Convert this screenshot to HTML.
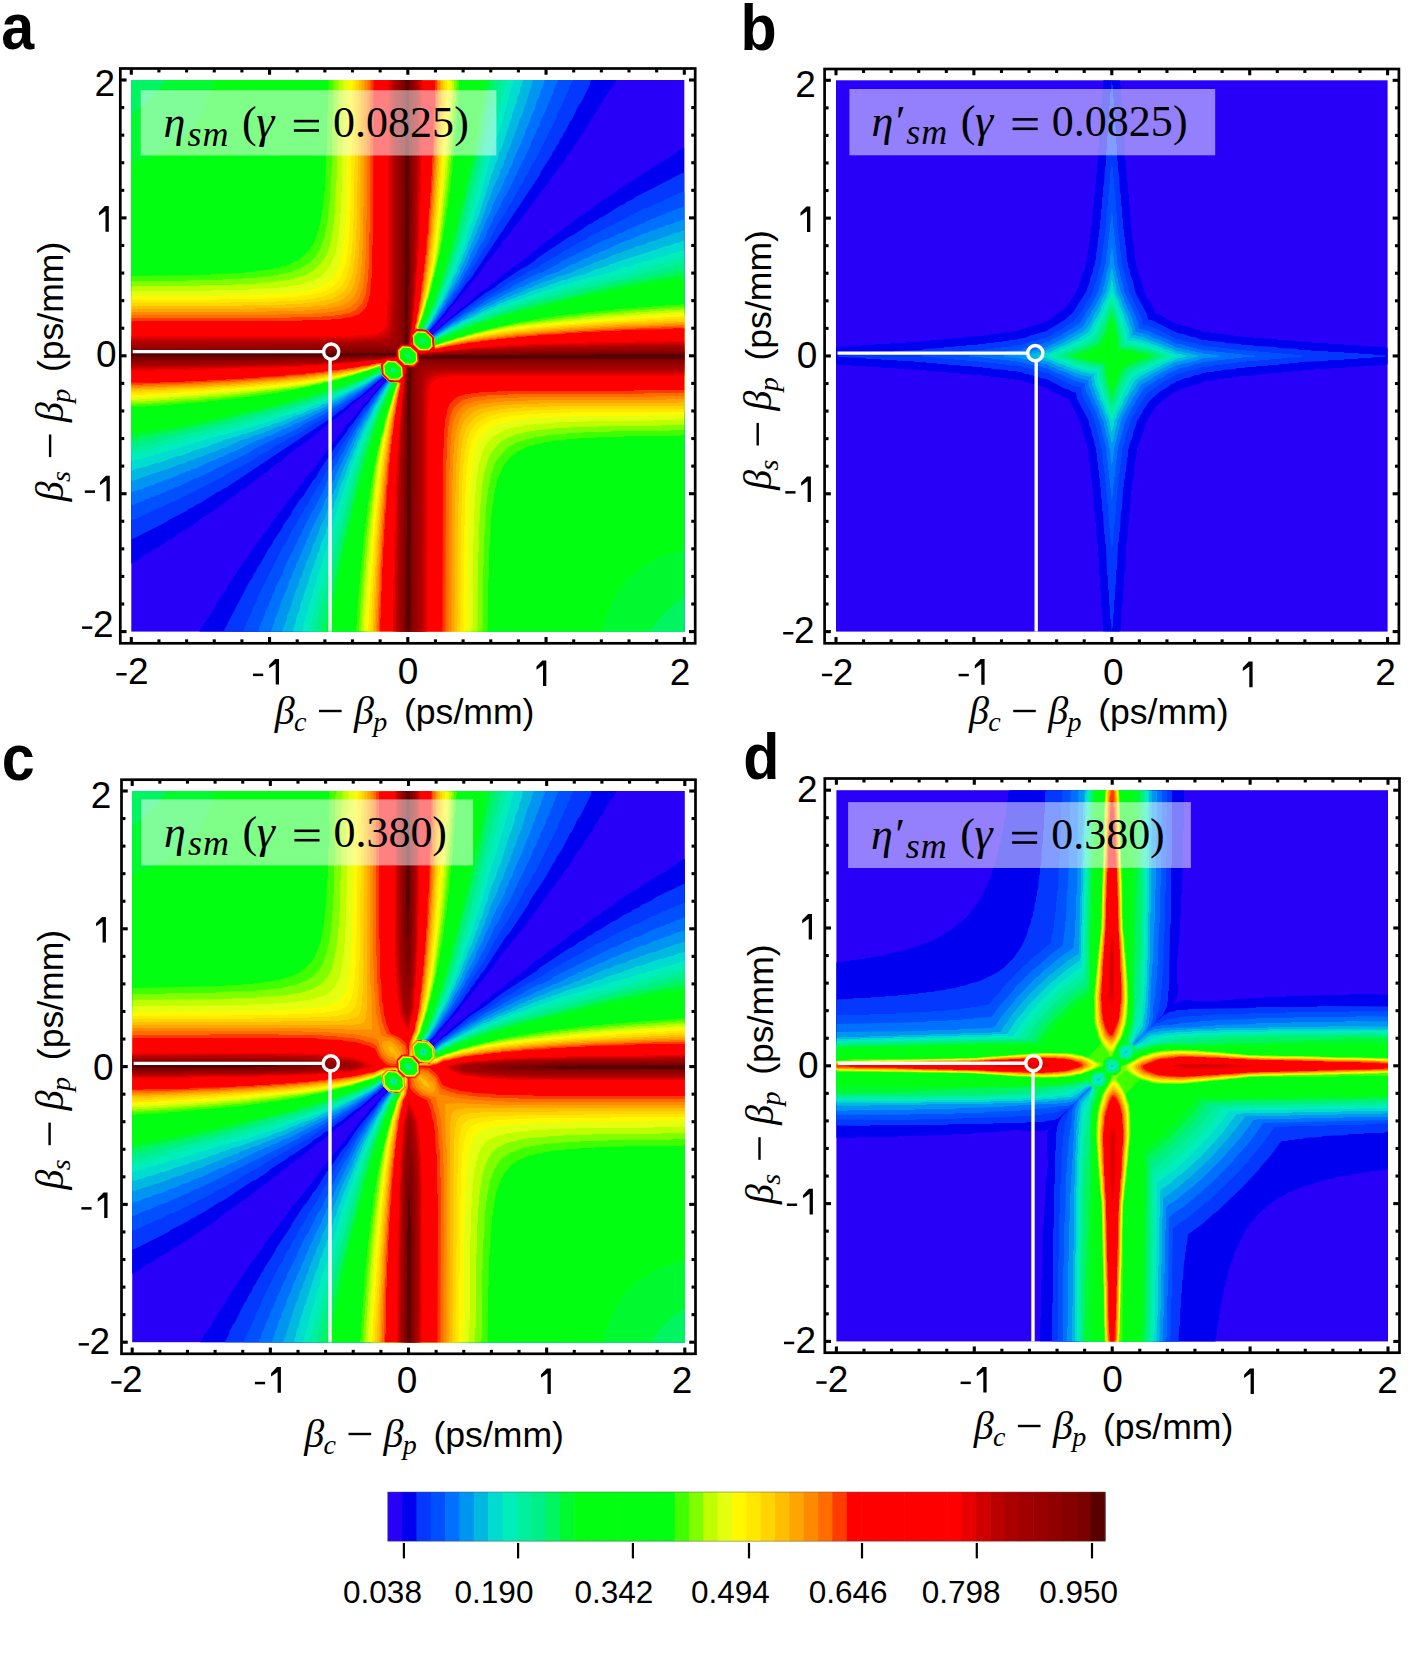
<!DOCTYPE html>
<html><head><meta charset="utf-8"><style>
html,body{margin:0;padding:0;background:#fff;}
body{width:1416px;height:1655px;position:relative;overflow:hidden;font-family:"Liberation Sans",sans-serif;}
svg{position:absolute;left:0;top:0;}
text{fill:#000;}
</style></head><body>
<svg width="1416" height="1655" viewBox="0 0 1416 1655">
<rect x="131.30" y="80.00" width="553.00" height="551.60" fill="#2800f8"/>
<clipPath id="clipa"><rect x="131.30" y="80.00" width="553.00" height="551.60"/></clipPath>
<g clip-path="url(#clipa)">
<path fill="#0000f0" fill-rule="evenodd" d="M684.5 632 199.5 632 200 629.5 212 612.5 221 596.5 227 588.5 228 585.5 246 558.5 249 555.5 253 548.5 269 527.5 271 523.5 274 520.5 289 499.5 293 495.5 299 486.5 303 482.5 306 477.5 314 468.5 329 447.5 341 433.5 344 428.5 363 406.5 363 405.5 369 399.5 369 398.5 375 392.5 375 391.5 383 383.5 386 378.5 384.5 377 371.5 389 370.5 389 364.5 395 363.5 395 335.5 419 330.5 422 312.5 437 291.5 452 278.5 463 277.5 463 265.5 473 264.5 473 245.5 488 241.5 490 234.5 496 230.5 498 213.5 511 200.5 519 197.5 522 185.5 530 182.5 531 171.5 539 168.5 540 163.5 544 147.5 553 133.5 563 131 563.5 131 80.5 615.5 80 616 81.5 604 98.5 603 101.5 589 122.5 588 125.5 570 152.5 567 155.5 563 162.5 550 179.5 548 183.5 542 190.5 524 215.5 513 228.5 510 233.5 502 242.5 500 246.5 483 267.5 480 272.5 472 281.5 464 292.5 459 297.5 459 298.5 448 310.5 448 311.5 429 332.5 430.5 334 434.5 332 442.5 324 443.5 324 449.5 318 450.5 318 462.5 307 463.5 307 483.5 290 488.5 287 506.5 272 527.5 257 540.5 246 580.5 216 584.5 214 601.5 201 614.5 193 617.5 190 629.5 182 632.5 181 659.5 163 667.5 159 681.5 149 684.5 148 684.5 632Z"/>
<path fill="#0538ff" fill-rule="evenodd" d="M684.5 632 224.5 632 224 630.5 250 580.5 252 578.5 254 573.5 256 571.5 258 566.5 260 564.5 268 549.5 272 544.5 273 541.5 282 528.5 283 525.5 291 514.5 292 511.5 300 499.5 303 496.5 313 480.5 316 477.5 319 471.5 337 444.5 347 431.5 349 427.5 352 424.5 364 407.5 368 403.5 371 398.5 387 379.5 384.5 377 380.5 379 360.5 396 351.5 402 343.5 409 339.5 411 332.5 417 225.5 488 222.5 489 220.5 491 217.5 492 200.5 503 195.5 505 193.5 507 188.5 509 186.5 511 168.5 520 166.5 522 132.5 539 131 538.5 131 80.5 590.5 80 591 81.5 590 82.5 590 84.5 581 102.5 579 104.5 572 119.5 570 121.5 566 130.5 564 132.5 562 137.5 560 139.5 558 144.5 556 146.5 555 149.5 553 151.5 552 154.5 541 171.5 540 174.5 470 279.5 467 282.5 452 303.5 448 307.5 445 312.5 429 331.5 431.5 335 449.5 320 485.5 293 495.5 287 498.5 284 522.5 268 525.5 267 534.5 261 537.5 258 570.5 236 573.5 235 589.5 224 592.5 223 594.5 221 597.5 220 599.5 218 602.5 217 619.5 206 624.5 204 626.5 202 633.5 199 635.5 197 682.5 173 684.5 173 684.5 632Z"/>
<path fill="#0050ff" fill-rule="evenodd" d="M684.5 632 243.5 632 243 630.5 246 625.5 246 623.5 252 611.5 252 609.5 257 600.5 257 598.5 283 546.5 285 544.5 294 526.5 296 524.5 298 519.5 303 512.5 305 507.5 307 505.5 317 487.5 319 485.5 331 462.5 338 452.5 339 449.5 349 434.5 350 431.5 358 419.5 361 416.5 363 412.5 366 409.5 370 402.5 382 386.5 386 382.5 387 379.5 383.5 376 368.5 388 364.5 390 361.5 393 357.5 395 354.5 398 350.5 400 347.5 403 332.5 413 329.5 414 324.5 418 316.5 422 301.5 432 287.5 439 285.5 441 276.5 445 266.5 452 261.5 454 249.5 462 226.5 474 224.5 476 173.5 502 171.5 502 160.5 508 158.5 508 135.5 519 133.5 519 132.5 520 131 519.5 131 80.5 572.5 80 573 80.5 569 87.5 569 89.5 566 94.5 566 96.5 562 103.5 562 105.5 557 114.5 557 116.5 534 162.5 532 164.5 528 173.5 526 175.5 523 182.5 521 184.5 511 203.5 509 205.5 508 208.5 497 225.5 486 246.5 484 248.5 477 261.5 473 266.5 469 274.5 465 279.5 464 282.5 458 291.5 455 294.5 451 301.5 448 304.5 446 308.5 428 331.5 431.5 335 433.5 335 446.5 324 450.5 322 453.5 319 457.5 317 467.5 309 485.5 297 498.5 290 513.5 280 525.5 274 527.5 272 538.5 267 543.5 263 558.5 255 565.5 250 570.5 248 572.5 246 577.5 244 579.5 242 586.5 239 588.5 237 645.5 208 647.5 208 656.5 203 658.5 203 681.5 192 685 192.5 684.5 632Z"/>
<path fill="#0070ff" fill-rule="evenodd" d="M684.5 632 258.5 632 258 630.5 259 629.5 259 627.5 261 624.5 261 622.5 263 619.5 263 617.5 265 614.5 265 612.5 269 604.5 269 602.5 272 597.5 272 595.5 275 590.5 275 588.5 283 572.5 283 570.5 312 511.5 314 509.5 326 485.5 326 483.5 335 465.5 337 463.5 341 454.5 343 452.5 349 439.5 351 437.5 356 427.5 360 422.5 361 419.5 369 408.5 374 399.5 377 396.5 381 389.5 388 380.5 383.5 376 382.5 376 373.5 382 370.5 385 349.5 399 346.5 400 341.5 404 338.5 405 326.5 413 302.5 425 300.5 427 280.5 437 278.5 437 252.5 450 250.5 452 197.5 478 195.5 478 177.5 487 175.5 487 170.5 490 168.5 490 163.5 493 161.5 493 158.5 495 156.5 495 153.5 497 151.5 497 148.5 499 146.5 499 143.5 501 136.5 503 133.5 505 131 504.5 131 80.5 557.5 80 558 80.5 554 88.5 553 93.5 551 96.5 551 98.5 548 103.5 548 105.5 540 122.5 540 124.5 536 131.5 536 133.5 531 142.5 531 144.5 506 195.5 504 197.5 497 212.5 493 218.5 493 220.5 487 231.5 487 233.5 483 241.5 481 243.5 475 256.5 473 258.5 468 269.5 466 271.5 460 283.5 447 302.5 442 311.5 439 314.5 435 321.5 428 330.5 428 331.5 432.5 336 465.5 313 468.5 312 473.5 308 476.5 307 488.5 299 510.5 288 512.5 286 538.5 273 540.5 273 558.5 264 560.5 262 606.5 239 608.5 239 619.5 233 621.5 233 630.5 228 632.5 228 639.5 224 641.5 224 653.5 218 655.5 218 658.5 216 660.5 216 663.5 214 665.5 214 668.5 212 670.5 212 673.5 210 675.5 210 678.5 208 680.5 208 684.5 206 684.5 632Z"/>
<path fill="#0095f0" fill-rule="evenodd" d="M684.5 632 271.5 632 271 630.5 273 626.5 275 618.5 277 615.5 282 599.5 288 586.5 289 581.5 292 576.5 292 574.5 296 566.5 296 564.5 299 559.5 299 557.5 302 552.5 302 550.5 306 543.5 306 541.5 310 534.5 310 532.5 324 504.5 324 502.5 328 494.5 328 492.5 331 487.5 331 485.5 335 478.5 335 476.5 359 427.5 361 425.5 363 420.5 365 418.5 372 405.5 376 400.5 377 397.5 385 385.5 388 382.5 388 380.5 382.5 375 360.5 390 350.5 395 338.5 403 298.5 423 296.5 423 285.5 429 283.5 429 269.5 436 267.5 436 264.5 438 257.5 440 233.5 452 231.5 452 222.5 457 220.5 457 215.5 460 213.5 460 194.5 469 192.5 469 189.5 471 187.5 471 184.5 473 182.5 473 169.5 479 164.5 480 161.5 482 156.5 483 153.5 485 145.5 487 142.5 489 134.5 491 133.5 492 131 491.5 131 80.5 544.5 80 543 86.5 541 89.5 539 97.5 537 100.5 535 108.5 531 116.5 530 121.5 526 129.5 524 136.5 521 141.5 521 143.5 513 160.5 513 162.5 509 169.5 509 171.5 504 180.5 504 182.5 492 206.5 492 208.5 484 225.5 484 227.5 480 234.5 480 236.5 470 255.5 470 257.5 458 281.5 456 283.5 454 288.5 446 300.5 444 305.5 440 310.5 439 313.5 427 330.5 432.5 336 434.5 336 454.5 322 457.5 321 469.5 313 474.5 311 476.5 309 520.5 287 522.5 287 533.5 281 535.5 281 547.5 275 557.5 272 572.5 264 574.5 264 585.5 258 587.5 258 594.5 254 596.5 254 601.5 251 603.5 251 622.5 242 624.5 242 627.5 240 629.5 240 642.5 234 647.5 233 650.5 231 655.5 230 658.5 228 663.5 227 666.5 225 668.5 225 684.5 219 684.5 632Z"/>
<path fill="#00b8e0" fill-rule="evenodd" d="M684.5 632 282.5 632 282 631.5 287 618.5 287 615.5 290 609.5 290 607.5 291 606.5 296 589.5 298 586.5 300 578.5 302 575.5 303 570.5 305 567.5 306 562.5 310 554.5 313 544.5 316 539.5 316 537.5 318 534.5 320 527.5 325 517.5 329 503.5 331 500.5 332 495.5 334 492.5 334 490.5 336 487.5 338 480.5 341 475.5 341 473.5 350 454.5 350 452.5 354 445.5 354 443.5 365 421.5 367 419.5 375 403.5 377 401.5 378 398.5 389 381.5 382.5 375 380.5 375 364.5 386 348.5 394 346.5 396 316.5 411 314.5 411 309.5 414 307.5 414 302.5 417 300.5 417 281.5 426 279.5 426 268.5 431 266.5 431 263.5 433 252.5 436 249.5 438 241.5 440 224.5 448 222.5 448 214.5 452 209.5 453 201.5 457 196.5 458 193.5 460 188.5 461 185.5 463 177.5 465 174.5 467 172.5 467 171.5 468 169.5 468 168.5 469 160.5 471 159.5 472 157.5 472 156.5 473 154.5 473 132.5 481 131 480.5 131 80.5 532.5 80 533 82.5 532 83.5 522 115.5 520 118.5 517 129.5 515 132.5 514 137.5 512 140.5 511 145.5 507 153.5 506 158.5 504 161.5 504 163.5 500 171.5 500 173.5 492 190.5 492 192.5 491 193.5 490 198.5 488 201.5 485 212.5 483 215.5 483 217.5 481 220.5 481 222.5 477 230.5 477 232.5 474 237.5 474 239.5 471 244.5 471 246.5 468 251.5 468 253.5 465 258.5 465 260.5 460 269.5 460 271.5 452 287.5 450 289.5 446 298.5 444 300.5 441 307.5 439 309.5 435 317.5 427 328.5 427 330.5 433.5 337 450.5 326 466.5 318 468.5 316 479.5 311 481.5 309 487.5 306 489.5 306 500.5 300 502.5 300 507.5 297 509.5 297 514.5 294 516.5 294 528.5 288 530.5 288 535.5 285 537.5 285 540.5 283 553.5 279 556.5 277 570.5 273 580.5 268 582.5 268 585.5 266 587.5 266 595.5 262 597.5 262 600.5 260 602.5 260 615.5 254 620.5 253 623.5 251 631.5 249 634.5 247 645.5 244 648.5 242 650.5 242 651.5 241 653.5 241 675.5 233 680.5 232 681.5 231 684.5 231 684.5 632ZM423 340.5 422 340.5 423 340.5ZM408 355.5 407 355.5 408 355.5ZM393 370.5 392 370.5 393 370.5Z"/>
<path fill="#00dcd0" fill-rule="evenodd" d="M684.5 632 293.5 632 293 629.5 296 621.5 296 618.5 300 608.5 300 605.5 303 598.5 304 593.5 305 592.5 305 590.5 306 589.5 306 587.5 307 586.5 307 584.5 308 583.5 309 578.5 317 556.5 317 554.5 319 551.5 321 543.5 326 532.5 326 529.5 328 525.5 328 522.5 332 512.5 332 509.5 333 508.5 335 500.5 337 497.5 340 486.5 346 473.5 350 460.5 352 457.5 354 450.5 357 445.5 357 443.5 361 436.5 361 434.5 376 404.5 378 402.5 381 395.5 383 393.5 384 390.5 390 381.5 388.5 381 381.5 374 372.5 379 370.5 381 367.5 382 365.5 384 353.5 390 325.5 404 323.5 404 316.5 408 309.5 410 301.5 414 293.5 416 290.5 418 288.5 418 280.5 422 272.5 424 269.5 426 267.5 426 245.5 434 242.5 434 235.5 437 232.5 437 231.5 438 223.5 440 220.5 442 218.5 442 217.5 443 212.5 444 209.5 446 192.5 451 189.5 453 187.5 453 180.5 456 177.5 456 158.5 463 155.5 463 145.5 467 135.5 469 131.5 471 131 80.5 522.5 80 523 81.5 522 82.5 522 84.5 520 88.5 520 91.5 517 98.5 517 101.5 512 114.5 512 117.5 511 118.5 502 147.5 500 150.5 497 161.5 495 164.5 493 172.5 491 175.5 491 177.5 489 181.5 489 184.5 486 191.5 486 194.5 484 198.5 478 218.5 476 221.5 476 223.5 473 229.5 470 239.5 468 242.5 467 247.5 463 255.5 461 262.5 458 267.5 458 269.5 452 280.5 452 282.5 441 304.5 439 306.5 436 313.5 434 315.5 432 320.5 426 329.5 433.5 337 437.5 336 449.5 328 458.5 324 460.5 322 466.5 319 468.5 319 491.5 307 493.5 307 500.5 303 502.5 303 510.5 299 515.5 298 518.5 296 523.5 295 531.5 291 547.5 286 550.5 284 555.5 283 562.5 280 565.5 280 575.5 276 585.5 274 596.5 269 607.5 266 610.5 264 612.5 264 613.5 263 615.5 263 616.5 262 651.5 251 652.5 250 655.5 250 665.5 246 668.5 246 675.5 243 678.5 243 682.5 241 684.5 241 684.5 632ZM423 341.5 422.5 340 422 341.5 423 341.5ZM408 355.5 407 355.5 408 355.5ZM394 370.5 392 370.5 394 370.5Z"/>
<path fill="#00eebb" fill-rule="evenodd" d="M684.5 632 302.5 632 302 630.5 303 629.5 304 622.5 306 618.5 306 615.5 308 611.5 309 604.5 312 597.5 314 587.5 317 580.5 317 577.5 323 561.5 323 558.5 327 548.5 327 545.5 328 544.5 331 529.5 333 525.5 334 518.5 337 511.5 337 508.5 338 507.5 338 505.5 339 504.5 339 502.5 340 501.5 340 499.5 341 498.5 352 463.5 353 462.5 353 460.5 355 457.5 356 452.5 358 449.5 360 442.5 363 437.5 363 435.5 375 411.5 375 409.5 379 401.5 381 399.5 385 390.5 390 383.5 390 381.5 384.5 377 381.5 373 375.5 377 370.5 379 368.5 381 346.5 392 344.5 392 333.5 398 331.5 398 319.5 404 317.5 404 306.5 409 301.5 410 298.5 412 293.5 413 289.5 415 286.5 415 285.5 416 280.5 417 277.5 419 275.5 419 262.5 424 259.5 424 249.5 428 246.5 428 242.5 430 235.5 431 231.5 433 228.5 433 227.5 434 224.5 434 223.5 435 220.5 435 215.5 437 212.5 437 199.5 442 196.5 442 186.5 446 183.5 446 176.5 449 173.5 449 172.5 450 170.5 450 166.5 452 163.5 452 159.5 454 156.5 454 152.5 456 145.5 457 144.5 458 134.5 460 133.5 461 131 460.5 131 80.5 512.5 80 513 83.5 510 91.5 509 98.5 507 102.5 507 105.5 505 109.5 503 119.5 500 126.5 500 129.5 495 142.5 495 145.5 489 161.5 489 164.5 488 165.5 488 168.5 487 169.5 487 172.5 485 177.5 485 180.5 484 181.5 484 184.5 482 188.5 482 191.5 480 195.5 480 198.5 478 202.5 478 204.5 475 211.5 475 214.5 474 215.5 473 220.5 471 223.5 462 252.5 460 255.5 459 260.5 457 263.5 455 270.5 452 275.5 452 277.5 446 288.5 446 290.5 432 318.5 430 320.5 428 325.5 425 329.5 426.5 330 434.5 338 437.5 337 444.5 332 470.5 319 472.5 319 483.5 313 485.5 313 490.5 310 492.5 310 497.5 307 507.5 304 510.5 302 518.5 300 519.5 299 524.5 298 525.5 297 533.5 295 534.5 294 536.5 294 537.5 293 560.5 286 561.5 285 564.5 285 565.5 284 571.5 283 575.5 281 578.5 281 582.5 279 585.5 279 586.5 278 601.5 275 605.5 273 608.5 273 624.5 267 627.5 267 637.5 263 640.5 263 644.5 261 647.5 261 654.5 258 661.5 257 672.5 253 675.5 253 680.5 251 684.5 251 684.5 632ZM424 341.5 423.5 340 422 340.5 422.5 342 424 341.5ZM409 356.5 408.5 355 407 355.5 407.5 357 409 356.5ZM394 371.5 393.5 370 392 370.5 392.5 372 394 371.5Z"/>
<path fill="#00f0a0" fill-rule="evenodd" d="M684.5 632 309.5 632 309 628.5 313 617.5 313 614.5 315 610.5 317 600.5 320 593.5 320 590.5 324 580.5 324 577.5 327 570.5 328 562.5 330 557.5 330 553.5 332 548.5 332 544.5 333 543.5 333 540.5 334 539.5 334 536.5 335 535.5 338 520.5 340 516.5 340 513.5 344 502.5 344 499.5 348 489.5 349 482.5 352 475.5 352 472.5 353 471.5 358 454.5 360 451.5 361 446.5 363 443.5 363 441.5 365 438.5 367 431.5 370 426.5 370 424.5 373 419.5 373 417.5 376 412.5 376 410.5 391 382.5 382 374.5 381.5 372 377.5 375 349.5 389 347.5 389 342.5 392 340.5 392 323.5 400 318.5 401 315.5 403 310.5 404 307.5 406 305.5 406 295.5 410 292.5 410 285.5 413 275.5 415 268.5 418 265.5 418 258.5 421 255.5 421 247.5 424 244.5 424 240.5 426 237.5 426 236.5 427 233.5 427 232.5 428 221.5 430 220.5 431 216.5 431 211.5 433 207.5 433 202.5 435 193.5 436 192.5 437 190.5 437 183.5 440 180.5 440 170.5 444 167.5 444 163.5 446 160.5 446 153.5 449 150.5 449 146.5 451 143.5 451 142.5 452 132.5 454 131.5 455 131 80.5 506.5 80 507 81.5 506 82.5 506 85.5 504 89.5 504 92.5 502 96.5 501 102.5 499 106.5 497 116.5 493 126.5 493 129.5 492 130.5 490 138.5 489 139.5 488 146.5 487 147.5 487 151.5 486 152.5 486 156.5 484 161.5 484 165.5 483 166.5 483 169.5 482 170.5 482 173.5 480 178.5 478 189.5 477 190.5 477 193.5 475 197.5 473 207.5 470 214.5 470 217.5 467 224.5 465 234.5 464 235.5 456 261.5 454 264.5 453 269.5 445 286.5 445 288.5 442 293.5 442 295.5 438 302.5 438 304.5 432 316.5 430 318.5 426 327.5 424 329.5 426.5 330 434 337.5 434.5 339 458.5 326 460.5 326 467.5 322 469.5 322 481.5 316 483.5 316 486.5 314 488.5 314 501.5 308 503.5 308 504.5 307 506.5 307 528.5 299 531.5 299 535.5 297 545.5 295 555.5 291 558.5 291 562.5 289 569.5 288 573.5 286 576.5 286 577.5 285 580.5 285 581.5 284 584.5 284 585.5 283 592.5 282 593.5 281 597.5 281 598.5 280 601.5 280 606.5 278 620.5 276 621.5 275 623.5 275 627.5 273 630.5 273 640.5 269 643.5 269 650.5 266 653.5 266 657.5 264 660.5 264 664.5 262 667.5 262 671.5 260 674.5 260 678.5 258 684.5 257 684.5 632ZM424 341.5 423.5 340 421 340.5 421.5 342 424 341.5ZM409 356.5 408.5 355 407 355.5 407.5 357 409 356.5ZM394 371.5 394 369.5 392.5 369 392 371.5 394 371.5Z"/>
<path fill="#00f088" fill-rule="evenodd" d="M684.5 632 314.5 632 315 627.5 316 626.5 318 616.5 319 615.5 319 612.5 322 604.5 322 601.5 326 590.5 326 587.5 327 586.5 327 583.5 329 578.5 329 574.5 330 573.5 331 566.5 332 565.5 332 561.5 333 560.5 336 545.5 338 541.5 339 533.5 340 532.5 340 529.5 341 528.5 341 525.5 342 524.5 345 509.5 347 505.5 347 502.5 348 501.5 351 486.5 353 482.5 354 475.5 357 468.5 357 465.5 358 464.5 364 444.5 366 441.5 367 436.5 369 433.5 369 431.5 371 428.5 371 426.5 377 413.5 377 411.5 382 402.5 382 400.5 388 388.5 392 382.5 388.5 381 382 374.5 382 372.5 380.5 372 348.5 388 346.5 388 343.5 390 338.5 391 325.5 397 317.5 399 314.5 401 312.5 401 299.5 406 296.5 406 289.5 409 282.5 410 278.5 412 275.5 412 274.5 413 271.5 413 270.5 414 255.5 417 251.5 419 248.5 419 247.5 420 244.5 420 243.5 421 232.5 423 231.5 424 227.5 424 226.5 425 223.5 425 222.5 426 219.5 426 218.5 427 215.5 427 214.5 428 211.5 428 210.5 429 207.5 429 206.5 430 203.5 430 198.5 432 195.5 432 194.5 433 190.5 433 185.5 435 177.5 436 173.5 438 166.5 439 155.5 443 144.5 445 140.5 447 137.5 447 132.5 449 131 448.5 131 80.5 500.5 80 501 82.5 499 86.5 499 89.5 498 90.5 497 97.5 495 101.5 494 108.5 493 109.5 492 115.5 490 119.5 490 122.5 488 126.5 488 130.5 486 135.5 486 139.5 485 140.5 485 143.5 483 148.5 483 152.5 482 153.5 479 168.5 477 172.5 477 176.5 476 177.5 476 180.5 474 185.5 471 200.5 469 204.5 466 219.5 464 224.5 464 227.5 460 238.5 460 241.5 453 260.5 451 268.5 449 271.5 448 276.5 442 289.5 441 294.5 424 328.5 424.5 330 426.5 330 434 337.5 434.5 340 468.5 323 470.5 323 473.5 321 478.5 320 481.5 318 491.5 315 494.5 313 496.5 313 497.5 312 499.5 312 521.5 304 524.5 304 535.5 300 542.5 299 543.5 298 558.5 295 562.5 293 569.5 292 570.5 291 573.5 291 574.5 290 577.5 290 582.5 288 586.5 288 587.5 287 590.5 287 591.5 286 594.5 286 595.5 285 598.5 285 599.5 284 602.5 284 603.5 283 606.5 283 607.5 282 614.5 281 615.5 280 622.5 279 623.5 278 627.5 278 632.5 276 640.5 275 651.5 271 654.5 271 662.5 268 669.5 267 673.5 265 684.5 263 684.5 632ZM424 342.5 424 340.5 421.5 339 421 341.5 422.5 343 424 342.5ZM409 356.5 408.5 354 406 355.5 406.5 357 409 356.5ZM395 371.5 393.5 369 391 369.5 392.5 372 395 371.5Z"/>
<path fill="#00f560" fill-rule="evenodd" d="M684.5 632 320.5 632 320 629.5 321 628.5 321 625.5 323 620.5 326 605.5 328 601.5 328 596.5 329 595.5 330 586.5 332 581.5 333 572.5 335 567.5 335 563.5 337 558.5 337 554.5 338 553.5 338 550.5 339 549.5 339 546.5 340 545.5 340 542.5 341 541.5 342 534.5 343 533.5 343 530.5 345 526.5 346 519.5 348 515.5 348 512.5 350 507.5 350 503.5 351 502.5 351 498.5 352 497.5 352 494.5 353 493.5 353 490.5 354 489.5 357 474.5 361 463.5 361 460.5 362 459.5 368 439.5 370 436.5 373 425.5 375 422.5 376 417.5 380 409.5 380 407.5 384 400.5 384 398.5 392 382.5 388.5 381 384.5 377 382 374.5 382 371.5 380.5 371 372.5 376 370.5 376 359.5 382 357.5 382 347.5 387 342.5 388 339.5 390 337.5 390 336.5 391 325.5 394 322.5 396 320.5 396 307.5 401 304.5 401 297.5 404 294.5 404 290.5 406 275.5 409 274.5 410 267.5 411 266.5 412 262.5 412 257.5 414 249.5 415 245.5 417 234.5 419 230.5 421 223.5 422 218.5 424 215.5 424 214.5 425 210.5 425 209.5 426 202.5 427 201.5 428 197.5 428 192.5 430 183.5 431 178.5 433 169.5 434 168.5 435 163.5 435 162.5 436 159.5 436 158.5 437 155.5 437 154.5 438 151.5 438 150.5 439 135.5 442 134.5 443 131 442.5 131 80.5 495.5 80 493 92.5 492 93.5 492 96.5 491 97.5 491 100.5 490 101.5 490 104.5 488 108.5 488 112.5 487 113.5 487 117.5 486 118.5 486 122.5 485 123.5 485 127.5 484 128.5 483 137.5 482 138.5 481 146.5 480 147.5 479 154.5 478 155.5 478 159.5 477 160.5 477 163.5 476 164.5 474 175.5 473 176.5 473 179.5 471 183.5 469 194.5 467 198.5 466 206.5 464 211.5 464 215.5 462 220.5 459 235.5 457 239.5 457 242.5 455 246.5 455 249.5 454 250.5 446 276.5 444 279.5 441 290.5 439 293.5 439 295.5 437 298.5 435 305.5 430 314.5 430 316.5 423 329.5 426.5 330 434 337.5 434.5 340 446.5 334 448.5 334 457.5 329 459.5 329 472.5 323 483.5 320 486.5 318 488.5 318 489.5 317 515.5 309 516.5 308 519.5 308 523.5 306 526.5 306 527.5 305 530.5 305 531.5 304 534.5 304 535.5 303 538.5 303 539.5 302 542.5 302 547.5 300 550.5 300 551.5 299 555.5 299 556.5 298 560.5 298 561.5 297 568.5 296 572.5 294 579.5 293 583.5 291 586.5 291 587.5 290 590.5 290 591.5 289 594.5 289 599.5 287 603.5 287 604.5 286 607.5 286 608.5 285 615.5 284 616.5 283 625.5 282 630.5 280 634.5 280 635.5 279 649.5 277 650.5 276 654.5 276 655.5 275 658.5 275 659.5 274 662.5 274 663.5 273 666.5 273 667.5 272 670.5 272 671.5 271 674.5 271 675.5 270 678.5 270 679.5 269 684.5 268 684.5 632ZM424 342.5 425 340.5 423.5 339 421.5 339 421 341.5 422.5 343 424 342.5ZM409 357.5 410 355.5 408.5 354 406.5 354 406 356.5 407.5 358 409 357.5ZM394 372.5 395 370.5 393.5 369 391.5 369 391 371.5 392.5 373 394 372.5Z"/>
<path fill="#00fa30" fill-rule="evenodd" d="M649.5 632 325.5 632 325 630.5 326 629.5 326 626.5 328 621.5 329 610.5 330 609.5 330 605.5 331 604.5 331 599.5 332 598.5 332 594.5 333 593.5 334 583.5 335 582.5 335 578.5 337 573.5 338 564.5 340 559.5 340 555.5 342 550.5 342 546.5 343 545.5 343 542.5 344 541.5 344 538.5 345 537.5 348 522.5 349 521.5 349 518.5 350 517.5 350 513.5 351 512.5 354 497.5 355 496.5 357 485.5 358 484.5 359 476.5 361 472.5 361 469.5 364 461.5 364 458.5 367 451.5 367 448.5 368 447.5 377 418.5 379 415.5 380 410.5 385 400.5 385 398.5 393 383.5 392.5 382 388.5 381 382 374.5 381.5 370 368.5 377 366.5 377 361.5 380 354.5 382 346.5 386 335.5 389 316.5 396 313.5 396 306.5 399 296.5 401 292.5 403 285.5 404 284.5 405 281.5 405 276.5 407 272.5 407 271.5 408 264.5 409 263.5 410 252.5 412 251.5 413 247.5 413 246.5 414 243.5 414 242.5 415 239.5 415 238.5 416 235.5 416 234.5 417 231.5 417 226.5 419 223.5 419 222.5 420 219.5 420 218.5 421 214.5 421 213.5 422 210.5 422 205.5 424 201.5 424 200.5 425 196.5 425 195.5 426 191.5 426 186.5 428 182.5 428 181.5 429 177.5 429 176.5 430 171.5 430 170.5 431 166.5 431 165.5 432 160.5 432 159.5 433 155.5 433 154.5 434 143.5 435 138.5 437 134.5 437 133.5 438 131 437.5 131 114.5 146.5 103 155 94.5 165.5 80 489.5 80 490 83.5 489 84.5 488 92.5 487 93.5 486 104.5 485 105.5 485 109.5 484 110.5 484 115.5 483 116.5 481 130.5 480 131.5 480 135.5 479 136.5 479 140.5 478 141.5 478 145.5 476 150.5 476 154.5 474 159.5 474 163.5 473 164.5 472 171.5 471 172.5 470 179.5 469 180.5 469 183.5 468 184.5 468 187.5 466 192.5 466 196.5 465 197.5 465 200.5 464 201.5 464 204.5 463 205.5 463 208.5 462 209.5 462 212.5 461 213.5 461 216.5 460 217.5 459 224.5 458 225.5 458 229.5 455 237.5 453 248.5 450 255.5 450 258.5 449 259.5 449 261.5 442 280.5 442 283.5 437 295.5 437 297.5 433 305.5 433 307.5 430 312.5 430 314.5 422 329.5 426.5 330 434 337.5 434.5 341 448.5 334 450.5 334 455.5 331 457.5 331 465.5 327 470.5 326 473.5 324 475.5 324 482.5 321 485.5 321 507.5 313 510.5 313 518.5 310 521.5 310 525.5 308 528.5 308 529.5 307 536.5 306 537.5 305 541.5 305 542.5 304 545.5 304 546.5 303 549.5 303 550.5 302 553.5 302 554.5 301 557.5 301 558.5 300 561.5 300 566.5 298 570.5 298 571.5 297 574.5 297 575.5 296 578.5 296 579.5 295 582.5 295 583.5 294 586.5 294 587.5 293 590.5 293 591.5 292 594.5 292 599.5 290 603.5 290 608.5 288 612.5 288 617.5 286 621.5 286 622.5 285 626.5 285 627.5 284 631.5 284 632.5 283 646.5 281 647.5 280 652.5 280 653.5 279 657.5 279 658.5 278 669.5 277 670.5 276 674.5 276 675.5 275 679.5 275 680.5 274 685 274.5 685 597.5 681.5 599 678.5 602 674.5 604 668.5 610 667.5 610 657 621.5 649.5 632ZM425 342.5 425 340.5 423.5 339 420 339.5 420 341.5 421.5 343 425 342.5ZM409 357.5 410 355.5 408.5 354 406.5 354 406 356.5 407.5 358 409 357.5ZM395 372.5 395 369.5 393.5 368 391.5 368 391 371.5 392.5 373 395 372.5Z"/>
<path fill="#00ff10" fill-rule="evenodd" d="M601.5 632 330 631.5 330 629.5 331 628.5 331 620.5 332 619.5 332 613.5 333 612.5 333 607.5 334 606.5 334 601.5 335 600.5 335 596.5 336 595.5 337 585.5 338 584.5 338 579.5 339 578.5 341 564.5 343 559.5 343 555.5 344 554.5 344 550.5 346 545.5 346 541.5 347 540.5 347 537.5 349 532.5 350 523.5 352 518.5 352 514.5 354 509.5 354 505.5 355 504.5 355 501.5 356 500.5 359 485.5 361 481.5 361 478.5 362 477.5 365 462.5 367 458.5 367 455.5 369 451.5 369 448.5 372 441.5 372 438.5 375 431.5 375 428.5 376 427.5 379 416.5 381 413.5 382 408.5 384 405.5 386 398.5 389 393.5 389 391.5 394 382.5 388.5 381 384.5 377 382 374.5 381.5 370 375.5 373 373.5 373 366.5 377 359.5 379 356.5 381 351.5 382 348.5 384 346.5 384 333.5 389 330.5 389 326.5 391 323.5 391 322.5 392 320.5 392 316.5 394 313.5 394 309.5 396 306.5 396 302.5 398 299.5 398 298.5 399 287.5 401 286.5 402 283.5 402 279.5 404 276.5 404 275.5 405 272.5 405 271.5 406 260.5 408 259.5 409 256.5 409 255.5 410 251.5 410 246.5 412 232.5 414 231.5 415 228.5 415 223.5 417 219.5 417 218.5 418 210.5 419 205.5 421 201.5 421 200.5 422 196.5 422 195.5 423 181.5 425 180.5 426 175.5 426 174.5 427 170.5 427 169.5 428 164.5 428 163.5 429 158.5 429 157.5 430 146.5 431 145.5 432 137.5 432 136.5 433 131 432.5 131 162.5 149.5 157 152.5 155 154.5 155 166.5 149 179.5 140 192 127.5 202 112.5 205 106.5 205 104.5 208 99.5 208 97.5 211 91.5 212 85.5 214.5 80 485 80.5 484 95.5 483 96.5 481 113.5 480 114.5 480 118.5 479 119.5 479 124.5 478 125.5 476 139.5 475 140.5 475 144.5 474 145.5 473 154.5 472 155.5 472 159.5 470 164.5 470 168.5 469 169.5 467 180.5 466 181.5 464 195.5 462 200.5 462 204.5 461 205.5 461 208.5 460 209.5 457 224.5 456 225.5 456 228.5 454 232.5 451 247.5 449 251.5 447 261.5 444 268.5 442 278.5 441 279.5 435 299.5 433 302.5 433 304.5 429 312.5 429 314.5 426 319.5 426 321.5 422 328.5 422.5 330 426.5 330 434 337.5 434.5 342 441.5 338 443.5 338 455.5 332 460.5 331 463.5 329 465.5 329 487.5 321 490.5 321 491.5 320 497.5 319 498.5 318 500.5 318 504.5 316 507.5 316 511.5 314 514.5 314 515.5 313 530.5 310 534.5 308 537.5 308 538.5 307 541.5 307 542.5 306 545.5 306 546.5 305 549.5 305 550.5 304 553.5 304 558.5 302 562.5 302 567.5 300 571.5 300 576.5 298 585.5 297 586.5 296 589.5 296 594.5 294 598.5 294 603.5 292 607.5 292 608.5 291 612.5 291 613.5 290 617.5 290 618.5 289 622.5 289 623.5 288 627.5 288 628.5 287 632.5 287 633.5 286 637.5 286 638.5 285 643.5 285 644.5 284 648.5 284 649.5 283 654.5 283 655.5 282 666.5 281 667.5 280 674.5 280 675.5 279 685 279.5 685 548.5 682.5 550 679.5 550 678.5 551 667.5 554 664.5 556 662.5 556 648.5 563 635.5 572 625 582.5 614 598.5 610 606.5 610 608.5 607 613.5 601.5 632ZM425 343.5 426 342.5 426 340.5 423.5 338 420.5 338 419 339.5 421.5 344 425 343.5ZM410 357.5 410 354.5 408.5 353 406.5 353 405 354.5 405 356.5 406.5 358 410 357.5ZM395 373.5 396 372.5 396 369.5 391.5 367 390 368.5 390 371.5 392.5 374 395 373.5Z"/>
<path fill="#40ff00" fill-rule="evenodd" d="M487.5 632 356 631.5 356 625.5 357 624.5 357 610.5 358 609.5 358 597.5 359 596.5 359 584.5 360 583.5 360 572.5 361 571.5 361 561.5 362 560.5 362 551.5 363 550.5 364 532.5 365 531.5 365 524.5 366 523.5 366 516.5 367 515.5 367 508.5 368 507.5 368 501.5 369 500.5 370 488.5 371 487.5 371 481.5 372 480.5 372 476.5 373 475.5 375 461.5 376 460.5 376 456.5 377 455.5 377 451.5 378 450.5 378 447.5 380 442.5 380 438.5 383 430.5 385 419.5 388 412.5 388 409.5 389 408.5 396 385.5 397 384.5 396.5 382 390.5 382 388.5 381 382 374.5 382 369.5 380.5 366 377.5 368 371.5 369 368.5 371 365.5 371 358.5 374 353.5 375 352.5 376 349.5 376 345.5 378 342.5 378 338.5 380 335.5 380 334.5 381 331.5 381 330.5 382 327.5 382 326.5 383 323.5 383 318.5 385 314.5 385 309.5 387 305.5 387 304.5 388 300.5 388 299.5 389 285.5 391 284.5 392 279.5 392 278.5 393 272.5 393 271.5 394 266.5 394 265.5 395 259.5 395 258.5 396 251.5 396 250.5 397 243.5 397 242.5 398 235.5 398 234.5 399 217.5 400 216.5 401 207.5 401 206.5 402 196.5 402 195.5 403 185.5 403 184.5 404 172.5 404 171.5 405 159.5 405 158.5 406 145.5 406 144.5 407 131 406.5 131.5 276 209.5 275 210.5 274 244.5 273 245.5 272 254.5 272 255.5 271 268.5 270 269.5 269 273.5 269 274.5 268 278.5 268 282.5 266 285.5 266 298.5 260 309 250.5 313 244.5 316 238.5 316 236.5 319 229.5 319 226.5 320 225.5 320 221.5 321 220.5 321 216.5 322 215.5 322 210.5 323 209.5 324 191.5 325 190.5 326 153.5 327 152.5 327 113.5 328 112.5 328.5 80 459 80.5 459 94.5 458 95.5 458 108.5 457 109.5 457 122.5 456 123.5 456 134.5 455 135.5 454 156.5 453 157.5 452 175.5 451 176.5 450 192.5 449 193.5 448 207.5 447 208.5 446 220.5 445 221.5 445 227.5 444 228.5 443 238.5 442 239.5 440 253.5 438 258.5 438 262.5 436 267.5 436 270.5 435 271.5 435 275.5 433 279.5 433 282.5 432 283.5 431 290.5 429 294.5 429 297.5 425 307.5 425 310.5 419 326.5 419 328.5 420.5 330 426.5 330 434 337.5 434.5 345 448.5 341 458.5 337 461.5 337 468.5 334 471.5 334 475.5 332 478.5 332 479.5 331 482.5 331 483.5 330 486.5 330 487.5 329 490.5 329 491.5 328 498.5 327 499.5 326 508.5 325 513.5 323 533.5 320 534.5 319 540.5 319 541.5 318 553.5 317 554.5 316 568.5 315 569.5 314 576.5 314 577.5 313 585.5 313 586.5 312 594.5 312 595.5 311 604.5 311 605.5 310 614.5 310 615.5 309 637.5 308 638.5 307 650.5 307 651.5 306 664.5 306 665.5 305 679.5 305 680.5 304 685 304.5 684.5 435 681.5 435 680.5 436 624.5 436 623.5 437 596.5 437 595.5 438 579.5 438 578.5 439 566.5 439 565.5 440 550.5 441 549.5 442 544.5 442 539.5 444 535.5 444 534.5 445 526.5 447 516.5 452 513.5 455 512.5 455 504 464.5 497 480.5 497 483.5 495 488.5 495 492.5 494 493.5 493 506.5 492 507.5 492 515.5 491 516.5 490 547.5 489 548.5 489 578.5 488 579.5 487.5 632ZM428 348.5 431 345.5 431 339.5 430 337.5 425.5 333 417.5 333 414 336.5 415 344.5 419.5 349 428 348.5ZM413 363.5 416 360.5 415 352.5 409.5 348 403.5 348 400 351.5 400 358.5 404.5 363 408.5 363 409.5 364 413 363.5ZM398 378.5 401 375.5 401 367.5 396.5 363 388.5 362 384 366.5 385 367.5 385 373.5 389.5 378 391.5 378 392.5 379 398 378.5Z"/>
<path fill="#80ff00" fill-rule="evenodd" d="M482.5 632 359 631.5 359 618.5 360 617.5 360 604.5 361 603.5 361 590.5 362 589.5 362 578.5 363 577.5 364 555.5 365 554.5 366 535.5 367 534.5 367 526.5 368 525.5 368 518.5 369 517.5 369 510.5 370 509.5 370 502.5 371 501.5 372 488.5 373 487.5 374 472.5 375 471.5 375 466.5 376 465.5 378 451.5 380 446.5 380 442.5 381 441.5 381 438.5 382 437.5 382 434.5 383 433.5 386 418.5 387 417.5 388 411.5 391 404.5 391 401.5 398 382.5 390.5 382 388.5 381 382 374.5 382 369.5 380.5 366 364.5 371 363.5 372 361.5 372 360.5 373 357.5 373 350.5 376 343.5 377 339.5 379 332.5 380 327.5 382 323.5 382 322.5 383 315.5 384 314.5 385 310.5 385 309.5 386 305.5 386 304.5 387 300.5 387 299.5 388 295.5 388 294.5 389 279.5 390 278.5 391 272.5 391 271.5 392 258.5 393 257.5 394 250.5 394 249.5 395 233.5 396 232.5 397 223.5 397 222.5 398 203.5 399 202.5 400 179.5 401 178.5 402 166.5 402 165.5 403 152.5 403 151.5 404 136.5 404 135.5 405 131 404.5 131.5 281 187.5 281 188.5 280 222.5 280 223.5 279 242.5 279 243.5 278 256.5 278 257.5 277 273.5 276 274.5 275 278.5 275 279.5 274 283.5 274 284.5 273 291.5 272 297.5 269 299.5 269 310.5 262 317 254.5 318 251.5 321 247.5 321 245.5 325 235.5 326 227.5 327 226.5 327 221.5 328 220.5 329 203.5 330 202.5 331 167.5 332 166.5 332 126.5 333 125.5 333.5 80 457 80.5 457 86.5 456 87.5 456 101.5 455 102.5 455 115.5 454 116.5 454 128.5 453 129.5 453 140.5 452 141.5 452 151.5 451 152.5 451 162.5 450 163.5 450 172.5 449 173.5 448 190.5 447 191.5 446 206.5 445 207.5 445 213.5 444 214.5 443 227.5 442 228.5 441 242.5 440 243.5 440 248.5 439 249.5 438 258.5 436 263.5 436 267.5 435 268.5 435 271.5 434 272.5 434 275.5 433 276.5 431 287.5 430 288.5 430 291.5 429 292.5 428 298.5 426 302.5 426 305.5 418 327.5 418 328.5 420.5 330 426.5 330 434 337.5 434.5 346 450.5 340 453.5 340 457.5 338 463.5 337 467.5 335 470.5 335 474.5 333 477.5 333 478.5 332 481.5 332 482.5 331 485.5 331 490.5 329 494.5 329 499.5 327 503.5 327 504.5 326 508.5 326 509.5 325 513.5 325 514.5 324 518.5 324 519.5 323 524.5 323 525.5 322 540.5 321 541.5 320 547.5 320 548.5 319 554.5 319 555.5 318 562.5 318 563.5 317 578.5 316 579.5 315 597.5 314 598.5 313 608.5 313 609.5 312 619.5 312 620.5 311 630.5 311 631.5 310 643.5 310 644.5 309 657.5 309 658.5 308 672.5 308 673.5 307 685 307.5 684.5 430 670.5 430 669.5 431 611.5 431 610.5 432 583.5 432 582.5 433 566.5 433 565.5 434 546.5 435 545.5 436 534.5 437 533.5 438 530.5 438 529.5 439 526.5 439 525.5 440 517.5 442 508.5 447 497 459.5 494 465.5 494 467.5 491 474.5 491 477.5 490 478.5 490 482.5 489 483.5 489 487.5 488 488.5 488 494.5 487 495.5 487 503.5 486 504.5 485 534.5 484 535.5 484 565.5 483 566.5 482.5 632ZM428 349.5 431 346.5 431 338.5 425.5 333 420.5 333 418.5 332 414 336.5 415 344.5 419.5 349 428 349.5ZM413 363.5 416 360.5 416 353.5 410.5 348 404.5 348 403.5 347 399 351.5 400 352.5 400 358.5 406.5 364 413 363.5ZM399 378.5 402 375.5 401 373.5 401 367.5 396.5 363 388.5 362 384 366.5 385 368.5 385 373.5 390.5 379 399 378.5Z"/>
<path fill="#bfff00" fill-rule="evenodd" d="M477.5 632 361 631.5 361 626.5 362 625.5 362 610.5 363 609.5 363 596.5 364 595.5 364 582.5 365 581.5 365 570.5 366 569.5 366 558.5 367 557.5 367 547.5 368 546.5 368 537.5 369 536.5 369 528.5 370 527.5 370 519.5 371 518.5 371 510.5 372 509.5 372 502.5 373 501.5 373 493.5 374 492.5 374 484.5 375 483.5 375 476.5 376 475.5 377 462.5 378 461.5 378 456.5 379 455.5 380 446.5 382 441.5 382 437.5 383 436.5 386 421.5 387 420.5 388 413.5 389 412.5 390 406.5 393 399.5 393 396.5 398 383.5 397.5 382 390.5 382 384.5 377 382 374.5 382 369.5 380.5 366 378.5 366 365.5 371 362.5 371 355.5 374 348.5 375 344.5 377 329.5 380 328.5 381 324.5 381 319.5 383 315.5 383 314.5 384 310.5 384 309.5 385 305.5 385 304.5 386 291.5 387 290.5 388 283.5 388 282.5 389 275.5 389 274.5 390 265.5 390 264.5 391 257.5 391 256.5 392 249.5 392 248.5 393 240.5 393 239.5 394 231.5 394 230.5 395 221.5 395 220.5 396 199.5 397 198.5 398 174.5 399 173.5 400 160.5 400 159.5 401 145.5 401 144.5 402 131 401.5 131.5 286 199.5 286 200.5 285 235.5 285 236.5 284 255.5 284 256.5 283 276.5 282 277.5 281 289.5 280 290.5 279 293.5 279 294.5 278 297.5 278 298.5 277 303.5 276 314.5 270 324 259.5 328 251.5 328 249.5 330 245.5 330 242.5 331 241.5 332 231.5 333 230.5 333 224.5 334 223.5 334 215.5 335 214.5 336 180.5 337 179.5 337 139.5 338 138.5 338.5 80 454 80.5 454 94.5 453 95.5 453 109.5 452 110.5 452 123.5 451 124.5 451 136.5 450 137.5 449 159.5 448 160.5 447 179.5 446 180.5 446 188.5 445 189.5 445 197.5 444 198.5 444 205.5 443 206.5 443 214.5 442 215.5 442 223.5 441 224.5 441 231.5 440 232.5 440 239.5 439 240.5 438 253.5 437 254.5 436 263.5 434 268.5 434 272.5 433 273.5 433 276.5 432 277.5 432 280.5 431 281.5 428 296.5 426 300.5 426 303.5 424 307.5 423 313.5 418 326.5 418 328.5 420.5 330 426.5 330 434 337.5 434.5 346 445.5 342 451.5 341 455.5 339 465.5 337 469.5 335 472.5 335 473.5 334 484.5 332 485.5 331 489.5 331 494.5 329 498.5 329 503.5 327 507.5 327 508.5 326 514.5 326 515.5 325 528.5 324 529.5 323 536.5 323 537.5 322 545.5 322 546.5 321 562.5 320 563.5 319 580.5 318 581.5 317 600.5 316 601.5 315 623.5 314 624.5 313 635.5 313 636.5 312 649.5 312 650.5 311 664.5 311 665.5 310 679.5 310 680.5 309 685 309.5 684.5 425 661.5 425 660.5 426 598.5 426 597.5 427 570.5 427 569.5 428 554.5 428 553.5 429 535.5 430 534.5 431 529.5 431 528.5 432 524.5 432 523.5 433 516.5 434 510.5 437 508.5 437 500.5 442 492 451.5 488 459.5 486 467.5 485 468.5 485 472.5 484 473.5 484 477.5 483 478.5 483 483.5 482 484.5 481 503.5 480 504.5 480 521.5 479 522.5 479 551.5 478 552.5 477.5 632ZM428 349.5 431 346.5 431 338.5 425.5 333 417.5 332 414 335.5 414 342.5 415 344.5 419.5 349 423.5 349 424.5 350 428 349.5ZM413 363.5 416 360.5 416 353.5 410.5 348 403.5 347 399 351.5 400 358.5 405.5 364 413 363.5ZM399 378.5 402 375.5 402 373.5 401 372.5 401 367.5 394.5 362 387.5 362 384 365.5 385 373.5 390.5 379 399 378.5Z"/>
<path fill="#e5ff10" fill-rule="evenodd" d="M471.5 632 364 631.5 364 616.5 365 615.5 365 601.5 366 600.5 366 587.5 367 586.5 368 561.5 369 560.5 370 539.5 371 538.5 371 529.5 372 528.5 372 519.5 373 518.5 374 498.5 375 497.5 375 489.5 376 488.5 376 480.5 377 479.5 378 464.5 379 463.5 380 451.5 381 450.5 383 436.5 384 435.5 384 432.5 385 431.5 385 428.5 386 427.5 389 412.5 390 411.5 390 408.5 392 404.5 392 401.5 393 400.5 393 398.5 395 394.5 395 391.5 398 384.5 397.5 382 390.5 382 388.5 381 382 374.5 382 369.5 381 368.5 380.5 365 370.5 369 364.5 370 360.5 372 357.5 372 353.5 374 350.5 374 345.5 376 334.5 378 333.5 379 329.5 379 324.5 381 320.5 381 315.5 383 309.5 383 308.5 384 303.5 384 302.5 385 295.5 385 294.5 386 288.5 386 287.5 387 279.5 387 278.5 388 270.5 388 269.5 389 260.5 389 259.5 390 239.5 391 238.5 392 230.5 392 229.5 393 208.5 394 207.5 395 183.5 396 182.5 397 169.5 397 168.5 398 155.5 398 154.5 399 139.5 399 138.5 400 131 399.5 131.5 291 212.5 291 213.5 290 248.5 290 249.5 289 279.5 288 280.5 287 287.5 287 288.5 286 299.5 285 300.5 284 303.5 284 304.5 283 312.5 281 321.5 276 330 266.5 336 251.5 336 247.5 337 246.5 337 242.5 338 241.5 338 235.5 339 234.5 339 226.5 340 225.5 340 214.5 341 213.5 341 193.5 342 192.5 342 151.5 343 150.5 343.5 80 452 80.5 451 104.5 450 105.5 450 118.5 449 119.5 449 132.5 448 133.5 448 145.5 447 146.5 447 157.5 446 158.5 446 168.5 445 169.5 445 178.5 444 179.5 444 188.5 443 189.5 443 197.5 442 198.5 442 208.5 441 209.5 441 218.5 440 219.5 440 227.5 439 228.5 438 243.5 437 244.5 437 250.5 436 251.5 436 257.5 435 258.5 435 263.5 434 264.5 433 273.5 432 274.5 432 277.5 431 278.5 431 281.5 430 282.5 430 285.5 429 286.5 429 289.5 428 290.5 428 293.5 426 298.5 426 301.5 422 312.5 422 315.5 417 328.5 420.5 330 426.5 330 434 337.5 434.5 346 436.5 346 443.5 343 446.5 343 453.5 340 460.5 339 464.5 337 467.5 337 468.5 336 483.5 333 484.5 332 488.5 332 489.5 331 497.5 330 498.5 329 503.5 329 504.5 328 509.5 328 510.5 327 516.5 327 517.5 326 524.5 326 525.5 325 532.5 325 533.5 324 541.5 324 542.5 323 551.5 323 552.5 322 561.5 322 562.5 321 572.5 321 573.5 320 581.5 320 582.5 319 591.5 319 592.5 318 614.5 317 615.5 316 626.5 316 627.5 315 640.5 315 641.5 314 654.5 314 655.5 313 669.5 313 670.5 312 685 312.5 684.5 420 653.5 420 652.5 421 585.5 421 584.5 422 558.5 422 557.5 423 532.5 424 531.5 425 524.5 425 523.5 426 514.5 427 513.5 428 510.5 428 509.5 429 504.5 430 492.5 437 486 444.5 482 452.5 481 458.5 479 462.5 478 472.5 477 473.5 477 480.5 476 481.5 476 491.5 475 492.5 475 508.5 474 509.5 474 538.5 473 539.5 473 626.5 472 627.5 471.5 632ZM428 349.5 432 345.5 431 343.5 431 337.5 426.5 333 417.5 332 414 335.5 414 343.5 419.5 349 422.5 349 423.5 350 428 349.5ZM413 364.5 417 360.5 416 359.5 416 352.5 411.5 348 402.5 347 399 350.5 400 359.5 404.5 364 413 364.5ZM398 379.5 402 375.5 401 367.5 395.5 362 387.5 362 384 365.5 385 374.5 389.5 379 398 379.5Z"/>
<path fill="#fff800" fill-rule="evenodd" d="M466.5 632 366 631.5 367 604.5 368 603.5 368 590.5 369 589.5 369 576.5 370 575.5 370 563.5 371 562.5 371 551.5 372 550.5 373 527.5 374 526.5 374 515.5 375 514.5 375 504.5 376 503.5 376 493.5 377 492.5 377 484.5 378 483.5 379 467.5 380 466.5 382 446.5 383 445.5 383 440.5 384 439.5 384 435.5 386 430.5 386 426.5 387 425.5 390 410.5 392 406.5 393 399.5 394 398.5 394 396.5 396 392.5 396 389.5 399 382.5 390.5 382 388.5 381 382 374.5 382 369.5 381 368.5 380.5 365 369.5 369 363.5 370 362.5 371 359.5 371 358.5 372 351.5 373 347.5 375 343.5 375 342.5 376 331.5 378 330.5 379 320.5 380 319.5 381 314.5 381 313.5 382 307.5 382 306.5 383 300.5 383 299.5 384 292.5 384 291.5 385 284.5 385 283.5 386 275.5 386 274.5 387 265.5 387 264.5 388 254.5 388 253.5 389 242.5 389 241.5 390 218.5 391 217.5 392 206.5 392 205.5 393 193.5 393 192.5 394 180.5 394 179.5 395 166.5 395 165.5 396 151.5 396 150.5 397 131 397.5 131.5 296 224.5 296 225.5 295 261.5 295 262.5 294 279.5 294 280.5 293 290.5 293 291.5 292 298.5 292 299.5 291 309.5 290 310.5 289 313.5 289 319.5 286 321.5 286 330.5 280 335 274.5 340 264.5 340 261.5 341 260.5 341 257.5 343 252.5 344 238.5 345 237.5 345 226.5 346 225.5 346 207.5 347 206.5 347 164.5 348 163.5 348.5 80 450 80.5 450 84.5 449 85.5 449 100.5 448 101.5 448 115.5 447 116.5 447 129.5 446 130.5 446 142.5 445 143.5 445 155.5 444 156.5 443 178.5 442 179.5 442 191.5 441 192.5 441 203.5 440 204.5 440 213.5 439 214.5 439 223.5 438 224.5 438 232.5 437 233.5 436 248.5 435 249.5 434 262.5 433 263.5 433 268.5 432 269.5 432 274.5 431 275.5 431 278.5 429 283.5 429 287.5 427 292.5 425 303.5 423 307.5 423 310.5 421 314.5 421 317.5 417 328.5 420.5 330 426.5 330 434 337.5 434.5 347 441.5 344 444.5 344 455.5 340 466.5 338 470.5 336 474.5 336 475.5 335 478.5 335 483.5 333 492.5 332 493.5 331 505.5 330 506.5 329 512.5 329 513.5 328 519.5 328 520.5 327 536.5 326 537.5 325 545.5 325 546.5 324 556.5 324 557.5 323 567.5 323 568.5 322 580.5 322 581.5 321 592.5 321 593.5 320 604.5 320 605.5 319 616.5 319 617.5 318 629.5 318 630.5 317 643.5 317 644.5 316 657.5 316 658.5 315 674.5 315 675.5 314 685 314.5 684.5 415 647.5 415 646.5 416 572.5 416 571.5 417 545.5 417 544.5 418 530.5 418 529.5 419 521.5 419 520.5 420 508.5 421 507.5 422 504.5 422 503.5 423 495.5 425 488.5 429 481 436.5 477 443.5 476 448.5 475 449.5 475 452.5 474 453.5 474 456.5 473 457.5 472 469.5 471 470.5 471 479.5 470 480.5 470 495.5 469 496.5 469 524.5 468 525.5 468 624.5 467 625.5 466.5 632ZM428 349.5 432 345.5 431 337.5 426.5 333 424.5 333 423.5 332 417.5 332 414 335.5 414 343.5 421.5 350 428 349.5ZM413 364.5 417 360.5 416 358.5 416 352.5 411.5 348 409.5 348 408.5 347 402.5 347 399 350.5 399 356.5 400 357.5 400 359.5 404.5 364 413 364.5ZM398 379.5 402 375.5 402 369.5 401 367.5 395.5 362 389.5 362 388.5 361 384 365.5 384 372.5 385 374.5 389.5 379 394.5 379 395.5 380 398 379.5Z"/>
<path fill="#ffe800" fill-rule="evenodd" d="M463.5 632 368 631.5 368 624.5 369 623.5 369 607.5 370 606.5 370 592.5 371 591.5 371 578.5 372 577.5 372 564.5 373 563.5 373 550.5 374 549.5 374 535.5 375 534.5 375 521.5 376 520.5 376 509.5 377 508.5 377 498.5 378 497.5 379 478.5 380 477.5 381 462.5 382 461.5 382 455.5 383 454.5 383 448.5 384 447.5 384 441.5 385 440.5 385 435.5 386 434.5 387 425.5 388 424.5 388 421.5 390 416.5 390 412.5 392 408.5 392 405.5 394 400.5 394 397.5 395 396.5 396 390.5 399 383.5 398.5 382 390.5 382 384.5 377 382 374.5 382 369.5 381 368.5 380.5 365 378.5 365 371.5 368 368.5 368 364.5 370 361.5 370 356.5 372 341.5 375 340.5 376 336.5 376 335.5 377 331.5 377 330.5 378 325.5 378 324.5 379 319.5 379 318.5 380 298.5 382 297.5 383 289.5 383 288.5 384 271.5 385 270.5 386 260.5 386 259.5 387 248.5 387 247.5 388 235.5 388 234.5 389 221.5 389 220.5 390 205.5 390 204.5 391 179.5 392 178.5 393 147.5 394 146.5 395 131 394.5 131.5 300 218.5 300 219.5 299 265.5 299 266.5 298 285.5 298 286.5 297 297.5 297 298.5 296 311.5 295 312.5 294 315.5 294 316.5 293 319.5 293 320.5 292 325.5 291 332.5 287 339 280.5 342 275.5 342 273.5 344 270.5 345 264.5 346 263.5 347 253.5 348 252.5 348 245.5 349 244.5 349 232.5 350 231.5 350 210.5 351 209.5 351 154.5 352 153.5 352.5 80 447 80.5 447 97.5 446 98.5 446 113.5 445 114.5 444 141.5 443 142.5 443 154.5 442 155.5 441 184.5 440 185.5 440 197.5 439 198.5 439 208.5 438 209.5 438 219.5 437 220.5 437 229.5 436 230.5 436 237.5 435 238.5 435 246.5 434 247.5 434 253.5 433 254.5 433 260.5 432 261.5 432 267.5 431 268.5 431 273.5 430 274.5 429 284.5 428 285.5 428 288.5 426 293.5 426 297.5 424 301.5 422 312.5 420 316.5 420 319.5 417 327.5 417.5 329 419.5 329 420.5 330 426.5 330 434 337.5 434.5 347 439.5 345 442.5 345 446.5 343 449.5 343 453.5 341 456.5 341 457.5 340 472.5 337 473.5 336 476.5 336 477.5 335 487.5 334 488.5 333 493.5 333 494.5 332 499.5 332 500.5 331 506.5 331 507.5 330 514.5 330 515.5 329 530.5 328 531.5 327 540.5 327 541.5 326 550.5 326 551.5 325 561.5 325 562.5 324 574.5 324 575.5 323 588.5 323 589.5 322 603.5 322 604.5 321 630.5 320 631.5 319 661.5 318 662.5 317 678.5 317 679.5 316 685 316.5 684.5 412 571.5 412 570.5 413 540.5 413 539.5 414 524.5 414 523.5 415 507.5 416 506.5 417 502.5 417 501.5 418 491.5 420 482.5 425 477 430.5 471 442.5 471 445.5 469 450.5 469 455.5 468 456.5 468 462.5 467 463.5 467 473.5 466 474.5 466 490.5 465 491.5 465 525.5 464 526.5 463.5 632ZM429 349.5 432 346.5 431 337.5 425.5 332 417.5 332 413 336.5 414 338.5 414 344.5 420.5 350 429 349.5ZM413 364.5 417 360.5 416 352.5 409.5 347 402.5 347 399 350.5 399 357.5 400 359.5 404.5 364 409.5 364 410.5 365 413 364.5ZM399 379.5 402 376.5 402 368.5 401 366.5 396.5 362 390.5 362 389.5 361 387.5 361 384 364.5 384 373.5 389.5 379 392.5 379 393.5 380 399 379.5Z"/>
<path fill="#ffd500" fill-rule="evenodd" d="M460.5 632 370 631.5 370 628.5 371 627.5 371 610.5 372 609.5 372 593.5 373 592.5 373 576.5 374 575.5 375 542.5 376 541.5 377 514.5 378 513.5 378 502.5 379 501.5 379 492.5 380 491.5 381 472.5 382 471.5 383 456.5 384 455.5 384 449.5 385 448.5 385 442.5 386 441.5 386 436.5 387 435.5 388 425.5 389 424.5 389 419.5 390 418.5 390 415.5 391 414.5 394 399.5 395 398.5 395 395.5 399 384.5 398.5 382 390.5 382 388.5 381 382 374.5 382 369.5 381 368.5 380.5 365 377.5 365 366.5 369 363.5 369 362.5 370 359.5 370 358.5 371 355.5 371 354.5 372 351.5 372 346.5 374 342.5 374 341.5 375 336.5 375 335.5 376 325.5 377 324.5 378 318.5 378 317.5 379 311.5 379 310.5 380 304.5 380 303.5 381 287.5 382 286.5 383 277.5 383 276.5 384 267.5 384 266.5 385 255.5 385 254.5 386 243.5 386 242.5 387 213.5 388 212.5 389 177.5 390 176.5 391 145.5 392 144.5 393 131 392.5 131.5 303 230.5 303 231.5 302 275.5 302 276.5 301 294.5 301 295.5 300 305.5 300 306.5 299 312.5 299 313.5 298 322.5 297 334.5 292 342 285.5 347 276.5 349 266.5 350 265.5 351 253.5 352 252.5 352 241.5 353 240.5 353 220.5 354 219.5 354 167.5 355 166.5 355.5 80 445 80.5 444 111.5 443 112.5 443 127.5 442 128.5 442 145.5 441 146.5 441 162.5 440 163.5 440 177.5 439 178.5 439 191.5 438 192.5 438 203.5 437 204.5 437 215.5 436 216.5 435 235.5 434 236.5 434 243.5 433 244.5 432 259.5 431 260.5 431 266.5 430 267.5 428 284.5 427 285.5 426 294.5 425 295.5 425 298.5 424 299.5 423 306.5 422 307.5 421 314.5 420 315.5 420 318.5 417 326.5 417.5 329 419.5 329 420.5 330 426.5 330 434 337.5 434.5 347 436.5 347 440.5 345 443.5 345 447.5 343 450.5 343 451.5 342 466.5 339 467.5 338 476.5 337 477.5 336 482.5 336 483.5 335 494.5 334 495.5 333 501.5 333 502.5 332 508.5 332 509.5 331 524.5 330 525.5 329 544.5 328 545.5 327 555.5 327 556.5 326 567.5 326 568.5 325 580.5 325 581.5 324 595.5 324 596.5 323 611.5 323 612.5 322 629.5 322 630.5 321 646.5 321 647.5 320 663.5 320 664.5 319 685 318.5 684.5 409 560.5 409 559.5 410 531.5 410 530.5 411 516.5 411 515.5 412 500.5 413 499.5 414 495.5 414 494.5 415 488.5 416 476.5 423 472 428.5 469 434.5 469 436.5 467 440.5 467 443.5 466 444.5 466 448.5 465 449.5 464 464.5 463 465.5 463 480.5 462 481.5 462 514.5 461 515.5 460.5 632ZM429 349.5 432 346.5 432 339.5 431 337.5 425.5 332 418.5 332 417.5 331 413 335.5 414 344.5 419.5 350 429 349.5ZM413 364.5 417 360.5 416 352.5 410.5 347 402.5 347 399 350.5 399 358.5 404.5 364 407.5 364 408.5 365 413 364.5ZM399 379.5 402 376.5 402 367.5 396.5 362 387.5 361 383 365.5 384 367.5 384 373.5 389.5 379 391.5 379 392.5 380 399 379.5Z"/>
<path fill="#ffbe00" fill-rule="evenodd" d="M457.5 632 372 631.5 373 629.5 373 609.5 374 608.5 374 586.5 375 585.5 375 567.5 376 566.5 377 534.5 378 533.5 378 520.5 379 519.5 379 507.5 380 506.5 380 495.5 381 494.5 382 475.5 383 474.5 383 466.5 384 465.5 384 458.5 385 457.5 385 450.5 386 449.5 386 443.5 387 442.5 387 436.5 388 435.5 389 424.5 390 423.5 392 409.5 393 408.5 393 405.5 394 404.5 396 393.5 397 392.5 397 389.5 399 385.5 398.5 382 390.5 382 382 374.5 382 369.5 381 368.5 380.5 364 372.5 367 369.5 367 368.5 368 361.5 369 356.5 371 342.5 373 341.5 374 336.5 374 335.5 375 324.5 376 323.5 377 317.5 377 316.5 378 310.5 378 309.5 379 302.5 379 301.5 380 284.5 381 283.5 382 262.5 383 261.5 384 250.5 384 249.5 385 237.5 385 236.5 386 222.5 386 221.5 387 206.5 387 205.5 388 166.5 389 165.5 390 142.5 390 141.5 391 131 390.5 131.5 306 242.5 306 243.5 305 284.5 305 285.5 304 302.5 304 303.5 303 319.5 302 320.5 301 324.5 301 325.5 300 331.5 299 339.5 295 342.5 292 343.5 292 347 287.5 351 279.5 352 273.5 353 272.5 354 260.5 355 259.5 355 249.5 356 248.5 356 230.5 357 229.5 357 181.5 358 180.5 358.5 80 443 80.5 443 92.5 442 93.5 442 116.5 441 117.5 441 136.5 440 137.5 440 154.5 439 155.5 439 171.5 438 172.5 438 185.5 437 186.5 437 198.5 436 199.5 436 211.5 435 212.5 434 232.5 433 233.5 432 250.5 431 251.5 430 265.5 429 266.5 429 272.5 428 273.5 426 290.5 425 291.5 424 300.5 423 301.5 423 304.5 422 305.5 422 308.5 421 309.5 421 312.5 419 317.5 419 320.5 416 328.5 419.5 329 420.5 330 426.5 330 434 337.5 434.5 347 437.5 347 441.5 345 444.5 345 445.5 344 452.5 343 453.5 342 456.5 342 461.5 340 470.5 339 471.5 338 476.5 338 477.5 337 482.5 337 483.5 336 488.5 336 489.5 335 495.5 335 496.5 334 502.5 334 503.5 333 510.5 333 511.5 332 518.5 332 519.5 331 527.5 331 528.5 330 548.5 329 549.5 328 559.5 328 560.5 327 573.5 327 574.5 326 587.5 326 588.5 325 602.5 325 603.5 324 620.5 324 621.5 323 662.5 322 663.5 321 685 321.5 684.5 406 549.5 406 548.5 407 522.5 407 521.5 408 508.5 408 507.5 409 499.5 409 498.5 410 493.5 410 492.5 411 485.5 412 475.5 417 469 423.5 466 428.5 466 430.5 463 437.5 462 447.5 461 448.5 461 456.5 460 457.5 460 471.5 459 472.5 459 502.5 458 503.5 457.5 632ZM428 350.5 432 346.5 432 338.5 425.5 332 419.5 332 417.5 331 413 335.5 414 344.5 419.5 350 428 350.5ZM414 364.5 417 361.5 417 354.5 416 352.5 410.5 347 403.5 347 402.5 346 398 350.5 399 351.5 399 358.5 404.5 364 406.5 364 407.5 365 414 364.5ZM399 379.5 403 375.5 402 373.5 402 367.5 396.5 362 387.5 361 383 365.5 383 367.5 384 368.5 384 373.5 390.5 380 399 379.5Z"/>
<path fill="#ffa500" fill-rule="evenodd" d="M454.5 632 374 631.5 374 622.5 375 621.5 375 597.5 376 596.5 376 576.5 377 575.5 377 557.5 378 556.5 378 540.5 379 539.5 379 525.5 380 524.5 380 512.5 381 511.5 381 499.5 382 498.5 383 477.5 384 476.5 385 459.5 386 458.5 386 451.5 387 450.5 387 444.5 388 443.5 388 437.5 389 436.5 389 430.5 390 429.5 391 418.5 392 417.5 392 413.5 393 412.5 395 398.5 396 397.5 396 394.5 399 386.5 398.5 382 390.5 382 382 374.5 382 369.5 381 368.5 380.5 364 375.5 365 374.5 366 371.5 366 370.5 367 367.5 367 366.5 368 363.5 368 362.5 369 358.5 369 357.5 370 343.5 372 342.5 373 330.5 374 329.5 375 324.5 375 323.5 376 316.5 376 315.5 377 309.5 377 308.5 378 291.5 379 290.5 380 281.5 380 280.5 381 258.5 382 257.5 383 245.5 383 244.5 384 231.5 384 230.5 385 215.5 385 214.5 386 197.5 386 196.5 387 154.5 388 153.5 389 131 388.5 131.5 309 254.5 309 255.5 308 294.5 308 295.5 307 310.5 307 311.5 306 326.5 305 327.5 304 337.5 302 343.5 299 351 291.5 355 282.5 356 274.5 357 273.5 358 258.5 359 257.5 359 240.5 360 239.5 361.5 80 441 80.5 441 104.5 440 105.5 440 127.5 439 128.5 438 164.5 437 165.5 437 180.5 436 181.5 436 194.5 435 195.5 435 206.5 434 207.5 434 218.5 433 219.5 432 239.5 431 240.5 431 248.5 430 249.5 429 264.5 428 265.5 428 271.5 427 272.5 427 278.5 426 279.5 426 284.5 425 285.5 424 296.5 423 297.5 423 301.5 422 302.5 422 306.5 420 311.5 419 319.5 416 327.5 416.5 329 419.5 329 420.5 330 426.5 330 434 337.5 434.5 347 438.5 347 439.5 346 446.5 345 447.5 344 450.5 344 455.5 342 459.5 342 460.5 341 464.5 341 465.5 340 470.5 340 471.5 339 475.5 339 476.5 338 482.5 338 483.5 337 488.5 337 489.5 336 503.5 335 504.5 334 511.5 334 512.5 333 529.5 332 530.5 331 540.5 331 541.5 330 551.5 330 552.5 329 564.5 329 565.5 328 578.5 328 579.5 327 593.5 327 594.5 326 610.5 326 611.5 325 651.5 324 652.5 323 676.5 323 677.5 322 685 322.5 684.5 402 678.5 402 677.5 403 539.5 403 538.5 404 513.5 404 512.5 405 500.5 405 499.5 406 492.5 406 491.5 407 487.5 407 486.5 408 479.5 409 471.5 413 465 419.5 462 425.5 462 427.5 460 431.5 460 434.5 459 435.5 458 448.5 457 449.5 457 462.5 456 463.5 456 491.5 455 492.5 454.5 632ZM429 350.5 433 346.5 432 345.5 432 337.5 426.5 332 417.5 331 413 335.5 413 342.5 414 344.5 419.5 350 424.5 350 425.5 351 429 350.5ZM412 344.5 411 344.5 412 344.5ZM414 364.5 417 361.5 417 353.5 416 351.5 411.5 347 405.5 347 404.5 346 402.5 346 398 350.5 398 352.5 399 353.5 399 359.5 405.5 365 414 364.5ZM397 359.5 396 359.5 397 359.5ZM399 379.5 403 375.5 403 373.5 402 372.5 402 367.5 394.5 361 387.5 361 383 365.5 384 374.5 389.5 380 399 379.5Z"/>
<path fill="#ff8a00" fill-rule="evenodd" d="M451.5 632 376 631.5 376 609.5 377 608.5 378 565.5 379 564.5 380 530.5 381 529.5 381 516.5 382 515.5 382 503.5 383 502.5 384 480.5 385 479.5 386 460.5 387 459.5 387 452.5 388 451.5 388 444.5 389 443.5 389 437.5 390 436.5 390 430.5 391 429.5 391 423.5 392 422.5 392 418.5 393 417.5 393 412.5 394 411.5 395 402.5 396 401.5 396 397.5 397 396.5 397 392.5 398 391.5 398 388.5 400 383.5 398.5 382 390.5 382 384.5 377 382 374.5 382 369.5 381 368.5 380.5 364 374.5 365 373.5 366 369.5 366 364.5 368 355.5 369 354.5 370 349.5 370 348.5 371 343.5 371 342.5 372 337.5 372 336.5 373 331.5 373 330.5 374 316.5 375 315.5 376 308.5 376 307.5 377 299.5 377 298.5 378 289.5 378 288.5 379 267.5 380 266.5 381 254.5 381 253.5 382 241.5 382 240.5 383 208.5 384 207.5 385 167.5 386 166.5 387 141.5 387 140.5 388 131 387.5 131.5 312 266.5 312 267.5 311 303.5 311 304.5 310 318.5 310 319.5 309 327.5 309 328.5 308 332.5 308 333.5 307 340.5 306 348.5 302 354 296.5 358 288.5 358 285.5 360 280.5 361 266.5 362 265.5 362 250.5 363 249.5 363 207.5 364 206.5 364.5 80 440 80.5 440 91.5 439 92.5 439 116.5 438 117.5 438 138.5 437 139.5 437 157.5 436 158.5 436 174.5 435 175.5 435 189.5 434 190.5 434 203.5 433 204.5 433 215.5 432 216.5 431 237.5 430 238.5 430 247.5 429 248.5 428 264.5 427 265.5 427 271.5 426 272.5 426 278.5 425 279.5 424 291.5 423 292.5 422 302.5 421 303.5 420 312.5 418 317.5 418 321.5 416 326.5 416.5 329 426.5 330 434 337.5 434 346.5 435.5 348 436.5 347 444.5 346 449.5 344 458.5 343 459.5 342 463.5 342 464.5 341 469.5 341 470.5 340 475.5 340 476.5 339 481.5 339 482.5 338 496.5 337 497.5 336 504.5 336 505.5 335 512.5 335 513.5 334 532.5 333 533.5 332 555.5 331 556.5 330 568.5 330 569.5 329 583.5 329 584.5 328 599.5 328 600.5 327 618.5 327 619.5 326 663.5 325 664.5 324 685 324.5 684.5 399 666.5 399 665.5 400 528.5 400 527.5 401 504.5 401 503.5 402 493.5 402 492.5 403 480.5 404 469.5 408 462 414.5 461 417.5 459 419.5 459 421.5 457 425.5 457 428.5 456 429.5 455 441.5 454 442.5 454 453.5 453 454.5 453 479.5 452 480.5 451.5 632ZM429 350.5 433 346.5 433 344.5 432 343.5 432 337.5 426.5 332 416.5 331 413 334.5 413 343.5 414 345.5 418.5 350 422.5 350 423.5 351 429 350.5ZM412 344.5 411 344.5 412 344.5ZM414 364.5 417 361.5 417 352.5 411.5 347 402.5 346 398 350.5 399 359.5 404.5 365 414 364.5ZM397 359.5 396 359.5 397 359.5ZM399 380.5 403 376.5 402 366.5 395.5 361 386.5 361 383 364.5 384 374.5 389.5 380 399 380.5Z"/>
<path fill="#ff6c00" fill-rule="evenodd" d="M448.5 632 377 631.5 377 622.5 378 621.5 378 596.5 379 595.5 379 573.5 380 572.5 380 553.5 381 552.5 381 536.5 382 535.5 382 520.5 383 519.5 383 506.5 384 505.5 384 494.5 385 493.5 386 471.5 387 470.5 387 461.5 388 460.5 388 452.5 389 451.5 389 444.5 390 443.5 390 436.5 391 435.5 391 429.5 392 428.5 392 423.5 393 422.5 393 416.5 394 415.5 394 411.5 395 410.5 395 405.5 396 404.5 398 390.5 400 385.5 400 383.5 398.5 382 390.5 382 382 374.5 382 369.5 381 368.5 381.5 363 376.5 364 375.5 365 371.5 365 370.5 366 356.5 368 355.5 369 338.5 371 337.5 372 324.5 373 323.5 374 316.5 374 315.5 375 307.5 375 306.5 376 287.5 377 286.5 378 276.5 378 275.5 379 251.5 380 250.5 381 236.5 381 235.5 382 220.5 382 219.5 383 201.5 383 200.5 384 180.5 384 179.5 385 155.5 385 154.5 386 131 385.5 131.5 315 278.5 315 279.5 314 312.5 314 313.5 313 326.5 313 327.5 312 334.5 312 335.5 311 343.5 310 350.5 307 357 301.5 360 296.5 360 294.5 363 287.5 364 274.5 365 273.5 365 259.5 366 258.5 366 220.5 367 219.5 367.5 80 438 80.5 438 105.5 437 106.5 436 150.5 435 151.5 435 168.5 434 169.5 434 184.5 433 185.5 433 199.5 432 200.5 432 212.5 431 213.5 430 235.5 429 236.5 428 255.5 427 256.5 427 263.5 426 264.5 426 271.5 425 272.5 423 292.5 422 293.5 422 298.5 421 299.5 421 303.5 420 304.5 419 314.5 417 319.5 416 327.5 415 328.5 415.5 330 416.5 329 426.5 330 434 337.5 434 346.5 435.5 348 442.5 347 447.5 345 451.5 345 452.5 344 456.5 344 457.5 343 474.5 341 475.5 340 481.5 340 482.5 339 488.5 339 489.5 338 496.5 338 497.5 337 504.5 337 505.5 336 513.5 336 514.5 335 534.5 334 535.5 333 546.5 333 547.5 332 558.5 332 559.5 331 573.5 331 574.5 330 588.5 330 589.5 329 606.5 329 607.5 328 649.5 327 650.5 326 676.5 326 677.5 325 685 325.5 684.5 396 655.5 396 654.5 397 518.5 397 517.5 398 496.5 398 495.5 399 485.5 399 484.5 400 474.5 401 464.5 405 460 408.5 460 409.5 457 412.5 453 422.5 452 433.5 451 434.5 451 444.5 450 445.5 450 468.5 449 469.5 448.5 632ZM429 350.5 433 346.5 432 337.5 426.5 332 424.5 332 423.5 331 416.5 331 412 335.5 413 336.5 413 344.5 418.5 350 421.5 350 422.5 351 429 350.5ZM412 344.5 411.5 343 411 344.5 412 344.5ZM413 365.5 418 360.5 417 359.5 417 352.5 411.5 347 402.5 346 398 350.5 399 359.5 404.5 365 413 365.5ZM397 359.5 395 359.5 397 359.5ZM399 380.5 403 376.5 402 366.5 396.5 361 388.5 361 387.5 360 383 364.5 383 371.5 384 372.5 384 374.5 389.5 380 395.5 380 396.5 381 399 380.5Z"/>
<path fill="#ff3c00" fill-rule="evenodd" d="M445.5 632 379 631.5 379 607.5 380 606.5 381 560.5 382 559.5 382 541.5 383 540.5 383 524.5 384 523.5 384 509.5 385 508.5 386 484.5 387 483.5 388 462.5 389 461.5 389 453.5 390 452.5 390 444.5 391 443.5 391 436.5 392 435.5 394 415.5 395 414.5 396 403.5 397 402.5 397 398.5 398 397.5 398 393.5 399 392.5 400 383.5 401 382.5 390.5 382 384.5 377 382 374.5 382 369.5 381 368.5 381.5 363 373.5 364 368.5 366 358.5 367 357.5 368 346.5 369 345.5 370 339.5 370 338.5 371 332.5 371 331.5 372 324.5 372 323.5 373 315.5 373 314.5 374 306.5 374 305.5 375 286.5 376 285.5 377 261.5 378 260.5 379 247.5 379 246.5 380 231.5 380 230.5 381 213.5 381 212.5 382 193.5 382 192.5 383 143.5 384 142.5 385 131 384.5 131.5 318 290.5 318 291.5 317 321.5 317 322.5 316 334.5 316 335.5 315 341.5 315 342.5 314 349.5 313 355.5 310 362 303.5 366 293.5 367 282.5 368 281.5 368 269.5 369 268.5 369 233.5 370 232.5 370.5 80 437 80.5 437 93.5 436 94.5 436 119.5 435 120.5 435 142.5 434 143.5 434 162.5 433 163.5 433 180.5 432 181.5 432 195.5 431 196.5 431 209.5 430 210.5 429 234.5 428 235.5 427 254.5 426 255.5 426 263.5 425 264.5 425 271.5 424 272.5 424 279.5 423 280.5 422 293.5 421 294.5 421 299.5 420 300.5 420 305.5 419 306.5 419 311.5 418 312.5 417 321.5 415 326.5 415.5 330 416.5 329 426.5 330 434 337.5 434.5 349 439.5 348 440.5 347 444.5 347 445.5 346 449.5 346 450.5 345 455.5 345 456.5 344 460.5 344 461.5 343 466.5 343 467.5 342 480.5 341 481.5 340 488.5 340 489.5 339 496.5 339 497.5 338 505.5 338 506.5 337 514.5 337 515.5 336 536.5 335 537.5 334 562.5 333 563.5 332 577.5 332 578.5 331 594.5 331 595.5 330 613.5 330 614.5 329 635.5 329 636.5 328 660.5 328 661.5 327 685 327.5 684.5 393 644.5 393 643.5 394 508.5 394 507.5 395 487.5 395 486.5 396 472.5 397 471.5 398 468.5 398 467.5 399 462.5 400 454 407.5 450 416.5 449 425.5 448 426.5 448 436.5 447 437.5 447 458.5 446 459.5 445.5 632ZM429 350.5 433 346.5 432 337.5 424.5 331 416.5 331 412 335.5 413 337.5 413 344.5 418.5 350 420.5 350 421.5 351 429 350.5ZM412 344.5 411.5 343 411 344.5 412 344.5ZM414 365.5 418 361.5 417 352.5 411.5 347 409.5 347 408.5 346 402.5 346 398 350.5 398 356.5 399 357.5 399 359.5 404.5 365 410.5 365 411.5 366 414 365.5ZM397 359.5 395 359.5 397 359.5ZM399 380.5 403 376.5 403 369.5 402 368.5 402 366.5 396.5 361 389.5 361 387.5 360 383 364.5 383 373.5 389.5 380 393.5 380 394.5 381 399 380.5Z"/>
<path fill="#ff0000" fill-rule="evenodd" d="M442.5 632 380 631.5 380 618.5 381 617.5 381 591.5 382 590.5 382 567.5 383 566.5 383 547.5 384 546.5 384 529.5 385 528.5 385 513.5 386 512.5 387 485.5 388 484.5 389 463.5 390 462.5 390 453.5 391 452.5 391 444.5 392 443.5 392 435.5 393 434.5 393 428.5 394 427.5 394 420.5 395 419.5 395 414.5 396 413.5 396 407.5 397 406.5 398 396.5 399 395.5 399 390.5 400 389.5 400 385.5 401 384.5 400.5 382 399.5 383 398.5 382 390.5 382 388.5 381 382 374.5 381 364.5 383 362.5 382.5 362 380.5 363 376.5 363 375.5 364 371.5 364 370.5 365 360.5 366 359.5 367 354.5 367 353.5 368 347.5 368 346.5 369 340.5 369 339.5 370 332.5 370 331.5 371 324.5 371 323.5 372 315.5 372 314.5 373 306.5 373 305.5 374 285.5 375 284.5 376 259.5 377 258.5 378 244.5 378 243.5 379 226.5 379 225.5 380 207.5 380 206.5 381 185.5 381 184.5 382 160.5 382 159.5 383 131 382.5 131.5 321 301.5 321 302.5 320 330.5 320 331.5 319 341.5 319 342.5 318 351.5 317 359.5 314 365 308.5 367 305.5 367 303.5 369 299.5 369 296.5 370 295.5 371 278.5 372 277.5 372 245.5 373 244.5 373.5 80 436 80.5 435 81.5 435 109.5 434 110.5 433 156.5 432 157.5 432 175.5 431 176.5 431 192.5 430 193.5 430 207.5 429 208.5 428 233.5 427 234.5 426 254.5 425 255.5 425 263.5 424 264.5 424 272.5 423 273.5 423 280.5 422 281.5 420 301.5 419 302.5 418 313.5 417 314.5 416 323.5 415 324.5 415 328.5 414 329.5 414.5 331 416.5 329 426.5 330 434 337.5 434.5 349 442.5 348 443.5 347 447.5 347 448.5 346 453.5 346 454.5 345 459.5 345 460.5 344 465.5 344 466.5 343 479.5 342 480.5 341 487.5 341 488.5 340 495.5 340 496.5 339 505.5 339 506.5 338 515.5 338 516.5 337 525.5 337 526.5 336 537.5 336 538.5 335 565.5 334 566.5 333 581.5 333 582.5 332 599.5 332 600.5 331 620.5 331 621.5 330 672.5 329 673.5 328 685 328.5 684.5 390 634.5 390 633.5 391 497.5 391 496.5 392 479.5 392 478.5 393 471.5 393 470.5 394 465.5 394 464.5 395 459.5 396 455.5 398 450 403.5 447 410.5 446 418.5 445 419.5 445 427.5 444 428.5 444 447.5 443 448.5 442.5 632ZM429 350.5 433 346.5 432 337.5 425.5 331 416.5 331 412 335.5 412 337.5 413 338.5 413 344.5 419.5 351 429 350.5ZM412 344.5 411.5 342 411 344.5 412 344.5ZM414 365.5 418 361.5 417 352.5 409.5 346 401.5 346 398 349.5 398 357.5 399 359.5 404.5 365 408.5 365 409.5 366 414 365.5ZM420 352.5 419 352.5 420 352.5ZM397 359.5 394 359.5 397 359.5ZM399 380.5 403 376.5 403 368.5 402 366.5 396.5 361 390.5 361 389.5 360 387.5 360 383 364.5 383 373.5 389.5 380 392.5 380 393.5 381 399 380.5ZM405 367.5 404 367.5 405 367.5Z"/>
<path fill="#e80000" fill-rule="evenodd" d="M154.5 371 131 370.5 131.5 336 355.5 336 356.5 335 370.5 335 371.5 334 375.5 334 380.5 332 384 328.5 386 323.5 386 318.5 387 317.5 387 302.5 388 301.5 388 80.5 422.5 80 423 105.5 422 106.5 422 160.5 421 161.5 421 200.5 420 201.5 419 250.5 418 251.5 418 265.5 417 266.5 417 279.5 416 280.5 416 291.5 415 292.5 414 312.5 413 313.5 413 321.5 412 322.5 411 337.5 410 338.5 410 344.5 413 345.5 409.5 346 408.5 345 401.5 345 397 349.5 396.5 358 382.5 359 381.5 360 374.5 360 373.5 361 365.5 361 364.5 362 355.5 362 354.5 363 332.5 364 331.5 365 318.5 365 317.5 366 302.5 366 301.5 367 281.5 367 280.5 368 211.5 369 210.5 370 155.5 370 154.5 371ZM419.5 330 417 329.5 419.5 329 419.5 330ZM426.5 331 426.5 330 426.5 331ZM433.5 341 433.5 337 433.5 341ZM411.5 342 411.5 338 411.5 342ZM427.5 632 393 631.5 393 581.5 394 580.5 394 533.5 395 532.5 396 471.5 397 470.5 397 454.5 398 453.5 398 440.5 399 439.5 400 415.5 401 414.5 402 395.5 403 394.5 403 386.5 404 385.5 404 379.5 403 378.5 406 370.5 406 367.5 403 366.5 409.5 366 410.5 367 413.5 367 419 361.5 419 358.5 418 357.5 418.5 351 419.5 354 422.5 354 430.5 351 431.5 352 437.5 352 438.5 351 456.5 350 457.5 349 466.5 349 467.5 348 491.5 347 492.5 346 506.5 346 507.5 345 523.5 345 524.5 344 586.5 343 587.5 342 635.5 342 636.5 341 684.5 341 684.5 376 451.5 376 450.5 377 442.5 377 441.5 378 438.5 378 434.5 380 432 382.5 430 386.5 430 390.5 429 391.5 429 399.5 428 400.5 427.5 632ZM413.5 347 413.5 346 413.5 347ZM414.5 348 414.5 347 414.5 348ZM434.5 348 434.5 347 434.5 348ZM415.5 349 415.5 348 415.5 349ZM433.5 349 433.5 348 433.5 349ZM416.5 350 416.5 349 416.5 350ZM432.5 350 432.5 349 432.5 350ZM417.5 351 417.5 350 417.5 351ZM431.5 351 431.5 350 431.5 351ZM397.5 361 397.5 358 397.5 361ZM393.5 360 390 359.5 393.5 359 393.5 360ZM398.5 362 398.5 361 398.5 362ZM399.5 363 399.5 362 399.5 363ZM400.5 364 400.5 363 400.5 364ZM401.5 365 401.5 364 401.5 365ZM381.5 369 381.5 365 381.5 369ZM402.5 366 402.5 365 402.5 366ZM402.5 380 402.5 379 402.5 380ZM401.5 381 401.5 380 401.5 381ZM392.5 382 390 381.5 392.5 381 392.5 382ZM400.5 382 400.5 381 400.5 382ZM399.5 383 399.5 382 399.5 383Z"/>
<path fill="#d00000" fill-rule="evenodd" d="M188.5 369 131.5 369 131 338.5 357.5 338 358.5 337 373.5 337 374.5 336 378.5 336 383.5 334 386 331.5 388 326.5 388 322.5 389 321.5 389 305.5 390 304.5 390 80.5 420.5 80 421 138.5 420 139.5 420 188.5 419 189.5 418 250.5 417 251.5 417 269.5 416 270.5 415 296.5 414 297.5 414 307.5 413 308.5 413 317.5 412 318.5 412 327.5 411 328.5 410 343.5 408.5 345 401.5 345 397 349.5 397 356.5 395.5 358 388.5 358 387.5 359 380.5 359 379.5 360 370.5 360 369.5 361 360.5 361 359.5 362 349.5 362 348.5 363 336.5 363 335.5 364 322.5 364 321.5 365 302.5 365 301.5 366 239.5 367 238.5 368 189.5 368 188.5 369ZM419.5 330 418 329.5 419.5 329 419.5 330ZM433.5 339 433.5 337 433.5 339ZM411.5 342 411.5 340 411.5 342ZM425.5 632 394 631.5 394 612.5 395 611.5 395 550.5 396 549.5 397 476.5 398 475.5 398 452.5 399 451.5 400 422.5 401 421.5 402 399.5 403 398.5 403 389.5 404 388.5 404 380.5 405 379.5 404 374.5 406 371.5 406 367.5 404 366.5 408.5 366 409.5 367 414.5 367 419 362.5 419 357.5 418 356.5 418.5 352 419.5 354 424.5 354 426.5 352 428.5 353 429.5 352 430.5 353 432.5 353 433.5 352 450.5 351 451.5 350 461.5 350 462.5 349 473.5 349 474.5 348 504.5 347 505.5 346 528.5 346 529.5 345 604.5 344 605.5 343 666.5 343 667.5 342 684.5 342 684.5 374 448.5 374 447.5 375 439.5 375 438.5 376 435.5 376 430 379.5 427 387.5 427 395.5 426 396.5 425.5 632ZM411.5 346 410 345.5 411.5 345 411.5 346ZM434.5 348 434.5 347 434.5 348ZM433.5 349 433.5 348 433.5 349ZM432.5 350 432.5 349 432.5 350ZM431.5 351 431.5 350 431.5 351ZM430.5 352 430.5 351 430.5 352ZM393.5 360 392 359.5 393.5 359 393.5 360ZM397.5 360 397.5 359 397.5 360ZM381.5 369 381.5 367 381.5 369ZM403.5 379 403.5 378 403.5 379ZM402.5 380 402.5 379 402.5 380ZM401.5 381 401.5 380 401.5 381ZM391.5 382 390 381.5 391.5 381 391.5 382ZM400.5 382 400.5 381 400.5 382ZM399.5 383 399.5 382 399.5 383Z"/>
<path fill="#bb0000" fill-rule="evenodd" d="M158.5 368 131 367.5 131.5 340 360.5 340 361.5 339 377.5 339 378.5 338 382.5 338 388 334.5 390 330.5 390 326.5 391 325.5 391 307.5 392 306.5 392 80.5 419.5 80 420 109.5 419 110.5 419 172.5 418 173.5 417 247.5 416 248.5 416 271.5 415 272.5 414 301.5 413 302.5 412 324.5 411 325.5 411 333.5 410 334.5 410 341.5 409 342.5 409 344.5 402.5 345 401.5 344 396 349.5 397 350.5 396.5 357 394.5 357 393.5 358 386.5 358 385.5 359 366.5 360 365.5 361 341.5 362 340.5 363 323.5 363 322.5 364 299.5 364 298.5 365 223.5 366 222.5 367 159.5 367 158.5 368ZM419.5 330 419.5 329 419.5 330ZM433.5 338 433.5 337 433.5 338ZM411.5 342 411.5 341 411.5 342ZM423.5 632 396 631.5 396 573.5 397 572.5 398 482.5 399 481.5 399 454.5 400 453.5 401 417.5 402 416.5 402 404.5 403 403.5 403 393.5 404 392.5 404 383.5 405 382.5 405 378.5 404 377.5 405 375.5 404 374.5 406 373.5 406 367.5 404 366.5 407.5 366 408.5 367 414.5 367 419 362.5 419 356.5 418 355.5 418.5 352 419.5 354 425.5 354 426.5 352 427.5 353 434.5 353 435.5 352 444.5 352 445.5 351 468.5 350 469.5 349 505.5 348 506.5 347 534.5 347 535.5 346 627.5 345 628.5 344 684.5 344 684.5 372 444.5 372 443.5 373 435.5 373 434.5 374 432.5 374 427 378.5 425 383.5 425 391.5 424 392.5 423.5 632ZM434.5 348 434.5 347 434.5 348ZM393.5 360 393.5 359 393.5 360ZM381.5 369 381.5 368 381.5 369ZM403.5 379 403.5 378 403.5 379ZM402.5 380 402.5 379 402.5 380ZM401.5 381 401.5 380 401.5 381ZM390.5 382 390.5 381 390.5 382ZM400.5 382 400.5 381 400.5 382ZM399.5 383 399.5 382 399.5 383Z"/>
<path fill="#aa0000" fill-rule="evenodd" d="M201.5 366 131.5 366 131 342.5 361.5 342 362.5 341 381.5 341 390 337.5 393 329.5 393 307.5 394 306.5 394 80.5 417.5 80 418 151.5 417 152.5 416 243.5 415 244.5 415 271.5 414 272.5 413 308.5 412 309.5 412 320.5 411 321.5 411 331.5 410 332.5 410 340.5 409 341.5 409 344.5 403.5 345 401.5 344 396 349.5 397 351.5 396.5 357 393.5 357 392.5 358 384.5 358 383.5 359 361.5 360 360.5 361 344.5 361 343.5 362 323.5 362 322.5 363 257.5 364 256.5 365 202.5 365 201.5 366ZM421.5 632 397 631.5 397 606.5 398 605.5 398 535.5 399 534.5 400 455.5 401 454.5 401 431.5 402 430.5 403 398.5 404 397.5 404 386.5 405 385.5 405 376.5 406 375.5 406 367.5 404 366.5 406.5 366 407.5 367 414.5 367 419 362.5 419 355.5 418 354.5 418.5 352 419.5 354 427.5 354 428.5 353 449.5 352 450.5 351 482.5 350 483.5 349 507.5 349 508.5 348 588.5 347 589.5 346 660.5 346 661.5 345 684.5 345 684.5 370 440.5 370 439.5 371 431.5 371 430.5 372 428.5 372 424 376.5 424 378.5 423 379.5 423 388.5 422 389.5 421.5 632Z"/>
<path fill="#a20000" fill-rule="evenodd" d="M170.5 365 131.5 365 131 344.5 359.5 344 360.5 343 385.5 343 386.5 342 389.5 342 394 337.5 394 334.5 395 333.5 395 302.5 396 301.5 396 80.5 416.5 80 417 121.5 416 122.5 416 194.5 415 195.5 415 240.5 414 241.5 414 272.5 413 273.5 412 314.5 411 315.5 411 328.5 410 329.5 409 344.5 404.5 345 403.5 344 401.5 344 396 349.5 396 351.5 397 352.5 396.5 357 381.5 358 380.5 359 348.5 360 347.5 361 324.5 361 323.5 362 292.5 362 291.5 363 245.5 363 244.5 364 171.5 364 170.5 365ZM419.5 632 399 631.5 399 556.5 400 555.5 400 496.5 401 495.5 401 457.5 402 456.5 402 428.5 403 427.5 403 407.5 404 406.5 404 391.5 405 390.5 406 368.5 407.5 367 414.5 367 419 362.5 419 355.5 420.5 354 442.5 353 443.5 352 480.5 351 481.5 350 508.5 350 509.5 349 549.5 349 550.5 348 684.5 347 684.5 368 436.5 368 435.5 369 428.5 369 427.5 370 425.5 370 422 373.5 422 375.5 421 376.5 421 384.5 420 385.5 419.5 632ZM418.5 353 418.5 352 418.5 353ZM405.5 367 404 366.5 405.5 366 405.5 367Z"/>
<path fill="#9a0000" fill-rule="evenodd" d="M227.5 363 131.5 363 131 346.5 264.5 346 265.5 345 389.5 345 390.5 344 392.5 344 396 340.5 396 337.5 397 336.5 397 80.5 414.5 80 415 176.5 414 177.5 414 236.5 413 237.5 412 301.5 411 302.5 411 320.5 410 321.5 409 344.5 405.5 345 404.5 344 401.5 344 396 349.5 396 352.5 397 353.5 396.5 357 373.5 358 372.5 359 353.5 359 352.5 360 326.5 360 325.5 361 288.5 361 287.5 362 228.5 362 227.5 363ZM417.5 632 400 631.5 402 458.5 403 457.5 404 401.5 405 400.5 405 384.5 406 383.5 406 371.5 407 370.5 407 367.5 414.5 367 419 362.5 419.5 355 422.5 355 423.5 354 436.5 354 437.5 353 476.5 352 477.5 351 510.5 351 511.5 350 559.5 350 560.5 349 642.5 349 643.5 348 684.5 348 684.5 366 432.5 366 431.5 367 424.5 367 420 370.5 419 372.5 419 380.5 418 381.5 417.5 632ZM404.5 367 404.5 366 404.5 367Z"/>
<path fill="#900000" fill-rule="evenodd" d="M199.5 362 131.5 362 131 347.5 392.5 347 393.5 346 395.5 346 398 343.5 398 341.5 399 340.5 399 80.5 413.5 80 414 149.5 413 150.5 413 231.5 412 232.5 412 278.5 411 279.5 411 308.5 410 309.5 409 344.5 406.5 345 405.5 344 401.5 344 396 349.5 396.5 357 361.5 358 360.5 359 330.5 359 329.5 360 283.5 360 282.5 361 200.5 361 199.5 362ZM415.5 632 402 631.5 402 522.5 403 521.5 403 458.5 404 457.5 404 419.5 405 418.5 405 394.5 406 393.5 406 376.5 407 375.5 407 367.5 412.5 367 414.5 368 420 362.5 419 360.5 419 355.5 427.5 355 428.5 354 471.5 353 472.5 352 510.5 352 511.5 351 575.5 351 576.5 350 684.5 350 684.5 364 429.5 364 428.5 365 421.5 365 418 367.5 417 369.5 417 376.5 416 377.5 415.5 632Z"/>
<path fill="#860000" fill-rule="evenodd" d="M407.5 345 406.5 344 401 343.5 401.5 80 413 80.5 413 99.5 412 100.5 412 224.5 411 225.5 411 283.5 410 284.5 409 340.5 408 341.5 407.5 345ZM148.5 361 131.5 361 131 349.5 395.5 349 396 354.5 397 355.5 393.5 356 392.5 357 336.5 358 335.5 359 276.5 359 275.5 360 149.5 360 148.5 361ZM425.5 363 420 362.5 420 360.5 419 359.5 419.5 355 436.5 355 437.5 354 465.5 354 466.5 353 510.5 353 511.5 352 601.5 352 602.5 351 685 351.5 684.5 362 426.5 362 425.5 363ZM413.5 632 403 631.5 404 458.5 405 457.5 405 414.5 406 413.5 406 385.5 407 384.5 407.5 367 412.5 367 415 368.5 415 373.5 414 374.5 413.5 632Z"/>
<path fill="#7c0000" fill-rule="evenodd" d="M407.5 345 406.5 344 403 343.5 403.5 80 411 80.5 411 211.5 410 212.5 410 283.5 409 284.5 409 330.5 408 331.5 407.5 345ZM262.5 359 131.5 359 131 351.5 395.5 351 396 354.5 397 355.5 383.5 356 382.5 357 263.5 358 262.5 359ZM424.5 361 420.5 361 419 359.5 419.5 355 519.5 354 520.5 353 685 352.5 684.5 360 425.5 360 424.5 361ZM411.5 632 404 631.5 404 606.5 405 605.5 405 467.5 406 466.5 406 407.5 407 406.5 407.5 367 413 367.5 413 373.5 412 374.5 411.5 632Z"/>
<path fill="#580000" fill-rule="evenodd" d="M407.5 345 405 343.5 405.5 80 409 80.5 409 284.5 408 285.5 407.5 345ZM336.5 357 131.5 357 131 353.5 395.5 353 397 355.5 337.5 356 336.5 357ZM684.5 359 419.5 359 419 356.5 432.5 356 433.5 355 592.5 355 593.5 354 684.5 354 684.5 359ZM410.5 632 406 631.5 406 540.5 407 539.5 407 381.5 408 380.5 408.5 367 411 367.5 410.5 632Z"/>
</g>
<rect x="836.00" y="80.30" width="551.60" height="551.30" fill="#2800f8"/>
<clipPath id="clipb"><rect x="836.00" y="80.30" width="551.60" height="551.30"/></clipPath>
<g clip-path="url(#clipb)">
<path fill="#0000f0" fill-rule="evenodd" d="M1119.5 632 1103 631.5 1102 605.5 1101 604.5 1101 590.5 1100 589.5 1100 575.5 1099 574.5 1099 558.5 1098 557.5 1098 544.5 1097 543.5 1096 522.5 1095 521.5 1095 511.5 1094 510.5 1093 487.5 1092 486.5 1092 479.5 1091 478.5 1091 471.5 1090 470.5 1090 462.5 1089 461.5 1088 448.5 1087 447.5 1087 444.5 1085 440.5 1085 437.5 1083 433.5 1083 430.5 1082 429.5 1080 421.5 1069 399.5 1067.5 398 1065.5 398 1057.5 394 1049.5 390 1047.5 388 1045.5 388 1041.5 386 1038.5 386 1034.5 384 1031.5 384 1027.5 382 1024.5 382 1020.5 380 1015.5 380 1014.5 379 1007.5 379 1006.5 378 999.5 378 998.5 377 991.5 377 990.5 376 983.5 376 982.5 375 972.5 375 971.5 374 960.5 374 959.5 373 948.5 373 947.5 372 926.5 371 925.5 370 897.5 369 896.5 368 881.5 368 880.5 367 866.5 367 865.5 366 852.5 366 851.5 365 838.5 365 835 363.5 835.5 347 861.5 346 862.5 345 875.5 345 876.5 344 890.5 344 891.5 343 906.5 343 907.5 342 920.5 342 921.5 341 930.5 341 931.5 340 941.5 340 942.5 339 951.5 339 952.5 338 962.5 338 963.5 337 983.5 336 984.5 335 990.5 335 991.5 334 998.5 334 999.5 333 1011.5 332 1012.5 331 1018.5 331 1019.5 330 1042.5 323 1045.5 321 1047.5 321 1065 308.5 1077 291.5 1077 289.5 1079 286.5 1079 284.5 1086 265.5 1086 262.5 1087 261.5 1088 249.5 1089 248.5 1089 242.5 1090 241.5 1090 234.5 1091 233.5 1091 227.5 1092 226.5 1093 206.5 1094 205.5 1094 195.5 1095 194.5 1095 184.5 1096 183.5 1096 174.5 1097 173.5 1097 164.5 1098 163.5 1098 148.5 1099 147.5 1099 133.5 1100 132.5 1100 118.5 1101 117.5 1101 104.5 1102 103.5 1102 90.5 1103 89.5 1103.5 80 1120 80.5 1120 84.5 1121 85.5 1121 97.5 1122 98.5 1122 112.5 1123 113.5 1123 127.5 1124 128.5 1125 160.5 1126 161.5 1126 171.5 1127 172.5 1127 182.5 1128 183.5 1128 193.5 1129 194.5 1129 205.5 1130 206.5 1130 217.5 1131 218.5 1131 228.5 1132 229.5 1132 236.5 1133 237.5 1133 244.5 1134 245.5 1135 259.5 1136 260.5 1136 265.5 1138 269.5 1138 272.5 1141 279.5 1141 282.5 1142 283.5 1144 291.5 1148 299.5 1150 301.5 1154 309.5 1154 311.5 1156.5 314 1158.5 314 1176.5 324 1181.5 325 1182.5 326 1185.5 326 1189.5 328 1192.5 328 1196.5 330 1199.5 330 1203.5 332 1208.5 332 1209.5 333 1216.5 333 1217.5 334 1224.5 334 1225.5 335 1232.5 335 1233.5 336 1240.5 336 1241.5 337 1252.5 337 1253.5 338 1264.5 338 1265.5 339 1276.5 339 1277.5 340 1297.5 341 1298.5 342 1310.5 342 1311.5 343 1327.5 343 1328.5 344 1343.5 344 1344.5 345 1358.5 345 1359.5 346 1385.5 347 1388 348.5 1388 363.5 1386.5 365 1361.5 366 1360.5 367 1346.5 367 1345.5 368 1331.5 368 1330.5 369 1315.5 369 1314.5 370 1301.5 370 1300.5 371 1291.5 371 1290.5 372 1281.5 372 1280.5 373 1270.5 373 1269.5 374 1259.5 374 1258.5 375 1239.5 376 1238.5 377 1232.5 377 1231.5 378 1224.5 378 1223.5 379 1217.5 379 1216.5 380 1204.5 381 1203.5 382 1180.5 389 1174.5 392 1161.5 401 1157 405.5 1148 418.5 1145 424.5 1145 426.5 1137 448.5 1137 453.5 1136 454.5 1136 459.5 1135 460.5 1134 474.5 1133 475.5 1133 481.5 1132 482.5 1132 490.5 1131 491.5 1131 501.5 1130 502.5 1130 512.5 1129 513.5 1129 523.5 1128 524.5 1127 543.5 1126 544.5 1125 572.5 1124 573.5 1124 587.5 1123 588.5 1123 602.5 1122 603.5 1121 628.5 1119.5 632Z"/>
<path fill="#0538ff" fill-rule="evenodd" d="M1111.5 632 1111 619.5 1110 618.5 1110 605.5 1109 604.5 1109 590.5 1108 589.5 1108 575.5 1107 574.5 1106 544.5 1105 543.5 1105 534.5 1104 533.5 1103 511.5 1102 510.5 1102 499.5 1101 498.5 1101 487.5 1100 486.5 1100 478.5 1099 477.5 1099 470.5 1098 469.5 1098 462.5 1097 461.5 1097 453.5 1096 452.5 1096 447.5 1095 446.5 1094 439.5 1092 435.5 1091 428.5 1089 424.5 1089 421.5 1077 398.5 1076 392.5 1072.5 392 1067.5 389 1065.5 389 1046.5 379 1040.5 378 1036.5 376 1033.5 376 1032.5 375 1029.5 375 1028.5 374 1025.5 374 1021.5 372 1017.5 372 1016.5 371 1008.5 371 1007.5 370 991.5 369 990.5 368 983.5 368 982.5 367 972.5 367 971.5 366 960.5 366 959.5 365 948.5 365 947.5 364 937.5 364 936.5 363 926.5 363 925.5 362 914.5 362 913.5 361 897.5 361 896.5 360 881.5 360 880.5 359 866.5 359 865.5 358 839.5 357 837 355.5 849.5 355 850.5 354 863.5 354 864.5 353 878.5 353 879.5 352 893.5 352 894.5 351 922.5 350 923.5 349 943.5 348 944.5 347 954.5 347 955.5 346 965.5 346 966.5 345 977.5 345 978.5 344 985.5 344 986.5 343 993.5 343 994.5 342 1001.5 342 1002.5 341 1008.5 341 1009.5 340 1016.5 340 1017.5 339 1024.5 338 1031.5 335 1034.5 335 1035.5 334 1046.5 331 1064.5 320 1073 312.5 1087 290.5 1087 288.5 1090 281.5 1090 278.5 1093 271.5 1093 268.5 1095 264.5 1095 260.5 1096 259.5 1096 252.5 1097 251.5 1098 237.5 1099 236.5 1099 229.5 1100 228.5 1100 220.5 1101 219.5 1101 209.5 1102 208.5 1102 197.5 1103 196.5 1103 186.5 1104 185.5 1105 166.5 1106 165.5 1106 151.5 1107 150.5 1107 136.5 1108 135.5 1108 121.5 1109 120.5 1109 106.5 1110 105.5 1110 93.5 1111 92.5 1111.5 80 1112 84.5 1113 85.5 1113 97.5 1114 98.5 1114 112.5 1115 113.5 1115 127.5 1116 128.5 1116 143.5 1117 144.5 1117 160.5 1118 161.5 1118 171.5 1119 172.5 1120 193.5 1121 194.5 1121 205.5 1122 206.5 1122 217.5 1123 218.5 1123 228.5 1124 229.5 1124 236.5 1125 237.5 1125 244.5 1126 245.5 1127 261.5 1128 262.5 1128 266.5 1130 270.5 1130 273.5 1133 281.5 1135 291.5 1147 314.5 1148 319.5 1151.5 320 1177.5 333 1183.5 334 1191.5 337 1194.5 337 1202.5 340 1207.5 340 1208.5 341 1224.5 342 1225.5 343 1240.5 344 1241.5 345 1252.5 345 1253.5 346 1276.5 347 1277.5 348 1298.5 349 1299.5 350 1310.5 350 1311.5 351 1327.5 351 1328.5 352 1343.5 352 1344.5 353 1358.5 353 1359.5 354 1372.5 354 1373.5 355 1386 355.5 1384.5 357 1372.5 357 1371.5 358 1358.5 358 1357.5 359 1344.5 359 1343.5 360 1328.5 360 1327.5 361 1299.5 362 1298.5 363 1289.5 363 1288.5 364 1279.5 364 1278.5 365 1268.5 365 1267.5 366 1256.5 366 1255.5 367 1245.5 367 1244.5 368 1236.5 368 1235.5 369 1221.5 370 1220.5 371 1214.5 371 1213.5 372 1206.5 372 1205.5 373 1202.5 373 1198.5 375 1195.5 375 1188.5 378 1185.5 378 1178.5 381 1176.5 381 1174.5 383 1171.5 384 1166.5 388 1160.5 391 1149 401.5 1143 410.5 1142 413.5 1140 415.5 1139 418.5 1137 420.5 1136 425.5 1133 432.5 1133 435.5 1129 445.5 1129 448.5 1128 449.5 1128 456.5 1127 457.5 1126 471.5 1125 472.5 1125 478.5 1124 479.5 1124 486.5 1123 487.5 1122 509.5 1121 510.5 1120 531.5 1119 532.5 1119 541.5 1118 542.5 1117 569.5 1116 570.5 1116 584.5 1115 585.5 1115 599.5 1114 600.5 1114 613.5 1113 614.5 1113 626.5 1112 627.5 1111.5 632Z"/>
<path fill="#0050ff" fill-rule="evenodd" d="M1111.5 548 1111 538.5 1110 537.5 1110 527.5 1109 526.5 1109 516.5 1108 515.5 1108 504.5 1107 503.5 1107 492.5 1106 491.5 1106 482.5 1105 481.5 1105 473.5 1104 472.5 1104 465.5 1103 464.5 1102 448.5 1101 447.5 1101 444.5 1100 443.5 1100 440.5 1099 439.5 1099 436.5 1098 435.5 1098 432.5 1097 431.5 1097 428.5 1096 427.5 1096 424.5 1095 423.5 1094 418.5 1082 394.5 1081 387.5 1073.5 386 1047.5 373 1044.5 373 1040.5 371 1033.5 370 1032.5 369 1025.5 368 1020.5 366 1005.5 365 1004.5 364 997.5 364 996.5 363 988.5 363 987.5 362 979.5 362 978.5 361 967.5 361 966.5 360 955.5 360 954.5 359 943.5 359 942.5 358 922.5 357 921 355.5 930.5 355 931.5 354 940.5 354 941.5 353 951.5 353 952.5 352 962.5 352 963.5 351 984.5 350 985.5 349 992.5 349 993.5 348 1000.5 348 1001.5 347 1008.5 347 1009.5 346 1021.5 345 1025.5 343 1028.5 343 1032.5 341 1035.5 341 1039.5 339 1045.5 338 1053.5 334 1055.5 332 1060.5 330 1072.5 322 1078 316.5 1084 307.5 1085 304.5 1087 302.5 1088 299.5 1090 297.5 1094 289.5 1094 286.5 1097 279.5 1098 272.5 1101 264.5 1102 252.5 1103 251.5 1103 244.5 1104 243.5 1104 236.5 1105 235.5 1105 228.5 1106 227.5 1107 206.5 1108 205.5 1108 195.5 1109 194.5 1109 184.5 1110 183.5 1110 173.5 1111 172.5 1111.5 163 1112 166.5 1113 167.5 1113 177.5 1114 178.5 1114 188.5 1115 189.5 1115 199.5 1116 200.5 1116 212.5 1117 213.5 1117 224.5 1118 225.5 1118 233.5 1119 234.5 1119 241.5 1120 242.5 1120 250.5 1121 251.5 1122 265.5 1125 273.5 1125 276.5 1126 277.5 1126 280.5 1127 281.5 1129 291.5 1142 318.5 1143 324.5 1147.5 325 1150.5 327 1152.5 327 1176.5 339 1179.5 339 1183.5 341 1194.5 343 1199.5 345 1202.5 345 1203.5 346 1218.5 347 1219.5 348 1227.5 348 1228.5 349 1235.5 349 1236.5 350 1245.5 350 1246.5 351 1257.5 351 1258.5 352 1269.5 352 1270.5 353 1281.5 353 1282.5 354 1292.5 354 1293.5 355 1303 355.5 1301.5 357 1281.5 358 1280.5 359 1270.5 359 1269.5 360 1259.5 360 1258.5 361 1247.5 361 1246.5 362 1238.5 362 1237.5 363 1230.5 363 1229.5 364 1222.5 364 1221.5 365 1214.5 365 1213.5 366 1201.5 367 1197.5 369 1187.5 371 1180.5 374 1177.5 374 1161.5 383 1147 393.5 1137 408.5 1135 413.5 1133 415.5 1130 421.5 1129 427.5 1126 434.5 1125 441.5 1122 449.5 1122 456.5 1121 457.5 1121 464.5 1120 465.5 1120 472.5 1119 473.5 1118 488.5 1117 489.5 1117 500.5 1116 501.5 1116 512.5 1115 513.5 1115 523.5 1114 524.5 1113 544.5 1111.5 548Z"/>
<path fill="#0070ff" fill-rule="evenodd" d="M1111.5 501 1111 488.5 1110 487.5 1110 479.5 1109 478.5 1109 470.5 1108 469.5 1108 461.5 1107 460.5 1106 446.5 1105 445.5 1105 442.5 1104 441.5 1101 426.5 1100 425.5 1100 421.5 1097 416.5 1097 414.5 1086 391.5 1086 389.5 1085 388.5 1085 383.5 1074.5 381 1069.5 378 1067.5 378 1060.5 374 1058.5 374 1046.5 368 1043.5 368 1038.5 366 1023.5 363 1022.5 362 1018.5 362 1017.5 361 1009.5 361 1008.5 360 1000.5 360 999.5 359 991.5 359 990.5 358 982.5 358 981.5 357 970.5 357 969 355.5 980.5 355 981.5 354 988.5 354 989.5 353 996.5 353 997.5 352 1005.5 352 1006.5 351 1020.5 350 1024.5 348 1035.5 346 1039.5 344 1042.5 344 1043.5 343 1048.5 342 1050.5 340 1061.5 335 1063.5 333 1066.5 332 1068.5 330 1077.5 325 1081 321.5 1082 318.5 1085 315.5 1086 312.5 1091 305.5 1099 289.5 1099 286.5 1101 282.5 1102 275.5 1103 274.5 1105 264.5 1106 263.5 1107 249.5 1108 248.5 1108 240.5 1109 239.5 1109 232.5 1110 231.5 1110 223.5 1111 222.5 1111.5 211 1112 215.5 1113 216.5 1113 227.5 1114 228.5 1114 235.5 1115 236.5 1115 244.5 1116 245.5 1116 253.5 1117 254.5 1117 262.5 1118 263.5 1119 270.5 1120 271.5 1120 275.5 1121 276.5 1121 279.5 1123 284.5 1124 291.5 1136 316.5 1136 318.5 1138 321.5 1139 328.5 1149.5 331 1156.5 335 1158.5 335 1163.5 338 1165.5 338 1174.5 343 1184.5 345 1185.5 346 1188.5 346 1189.5 347 1192.5 347 1193.5 348 1196.5 348 1197.5 349 1200.5 349 1201.5 350 1215.5 351 1216.5 352 1224.5 352 1225.5 353 1233.5 353 1234.5 354 1241.5 354 1242.5 355 1255 355.5 1253.5 357 1242.5 357 1241.5 358 1234.5 358 1233.5 359 1225.5 359 1224.5 360 1217.5 360 1216.5 361 1202.5 362 1198.5 364 1195.5 364 1187.5 367 1180.5 368 1165.5 375 1163.5 377 1158.5 379 1144 388.5 1136 400.5 1134 405.5 1132 407.5 1124 424.5 1124 427.5 1122 431.5 1122 434.5 1121 435.5 1121 438.5 1118 446.5 1118 450.5 1117 451.5 1117 459.5 1116 460.5 1115 476.5 1114 477.5 1114 484.5 1113 485.5 1113 495.5 1112 496.5 1111.5 501Z"/>
<path fill="#0095f0" fill-rule="evenodd" d="M1111.5 466 1110 448.5 1109 447.5 1108 439.5 1106 434.5 1105 427.5 1104 426.5 1104 422.5 1100 414.5 1098 407.5 1095 402.5 1095 400.5 1092 395.5 1091 390.5 1089 387.5 1088 380.5 1075.5 377 1065.5 372 1058.5 370 1053.5 367 1051.5 367 1046.5 364 1042.5 364 1041.5 363 1038.5 363 1033.5 361 1029.5 361 1028.5 360 1021.5 359 1020.5 358 1004.5 357 1003 355.5 1011.5 355 1012.5 354 1019.5 354 1020.5 353 1035.5 350 1039.5 348 1046.5 347 1066.5 337 1068.5 335 1071.5 334 1083 326.5 1088 317.5 1090 315.5 1092 310.5 1094 308.5 1103 290.5 1103 287.5 1104 286.5 1107 271.5 1110 263.5 1110 255.5 1111 254.5 1111.5 246 1112 249.5 1113 250.5 1114 265.5 1115 266.5 1115 269.5 1116 270.5 1117 277.5 1118 278.5 1118 282.5 1120 287.5 1120 290.5 1124 298.5 1124 300.5 1127 305.5 1127 307.5 1130 312.5 1130 314.5 1132 317.5 1134 325.5 1135 326.5 1135 329.5 1136 330.5 1135 332.5 1138.5 332 1139.5 333 1142.5 333 1143.5 334 1148.5 335 1153.5 338 1160.5 340 1177.5 348 1181.5 348 1182.5 349 1189.5 350 1190.5 351 1194.5 351 1195.5 352 1202.5 353 1203.5 354 1210.5 354 1211.5 355 1220 355.5 1218.5 357 1203.5 358 1195.5 361 1192.5 361 1191.5 362 1180.5 364 1179.5 365 1176.5 365 1153.5 377 1151.5 379 1142.5 384 1140 386.5 1135 395.5 1133 397.5 1131 402.5 1129 404.5 1121 420.5 1119 430.5 1118 431.5 1118 434.5 1117 435.5 1117 438.5 1116 439.5 1116 442.5 1115 443.5 1115 446.5 1114 447.5 1113 461.5 1112 462.5 1111.5 466Z"/>
<path fill="#00b8e0" fill-rule="evenodd" d="M1111.5 443 1110 435.5 1109 434.5 1108 426.5 1107 425.5 1107 421.5 1105 418.5 1105 416.5 1103 413.5 1103 411.5 1101 408.5 1101 406.5 1099 403.5 1099 401.5 1097 398.5 1097 396.5 1095 393.5 1095 391.5 1092 384.5 1092 381.5 1091 380.5 1091 377.5 1092 376.5 1090.5 376 1088.5 377 1087.5 376 1080.5 375 1079.5 374 1074.5 373 1071.5 371 1069.5 371 1066.5 369 1064.5 369 1061.5 367 1059.5 367 1049.5 362 1025 356.5 1025.5 355 1028.5 355 1029.5 354 1044.5 351 1054.5 346 1056.5 346 1082.5 332 1087 327.5 1091 321.5 1095 312.5 1097 310.5 1101 302.5 1101 300.5 1106 291.5 1111.5 268 1113 270.5 1113 274.5 1114 275.5 1115 282.5 1116 283.5 1117 291.5 1121 299.5 1123 306.5 1125 309.5 1125 311.5 1128 316.5 1130 324.5 1132 328.5 1132.5 336 1133.5 335 1135.5 335 1136.5 336 1143.5 337 1154.5 342 1156.5 342 1159.5 344 1161.5 344 1164.5 346 1166.5 346 1169.5 348 1171.5 348 1176.5 351 1180.5 351 1185.5 353 1189.5 353 1190.5 354 1199 355.5 1197.5 357 1194.5 357 1193.5 358 1190.5 358 1189.5 359 1186.5 359 1185.5 360 1175.5 362 1149.5 375 1147.5 377 1139.5 381 1132 391.5 1117 421.5 1117 425.5 1116 426.5 1113 441.5 1111.5 443Z"/>
<path fill="#00dcd0" fill-rule="evenodd" d="M1111.5 432 1109 419.5 1105 411.5 1104 406.5 1100 398.5 1100 396.5 1095 383.5 1095 380.5 1094 379.5 1094 374.5 1095 373.5 1089.5 374 1088.5 373 1081.5 372 1077.5 370 1072.5 369 1069.5 367 1067.5 367 1064.5 365 1059.5 364 1051.5 360 1049.5 360 1046.5 358 1042.5 358 1041.5 357 1037 356.5 1037.5 355 1040.5 355 1041.5 354 1044.5 354 1045.5 353 1050.5 352 1061.5 346 1063.5 346 1077.5 339 1089 331.5 1095 319.5 1097 317.5 1101 309.5 1101 307.5 1107 296.5 1107 294.5 1110 288.5 1111.5 280 1113 282.5 1113 286.5 1114 287.5 1115 293.5 1119 301.5 1120 306.5 1124 314.5 1125 319.5 1129 329.5 1129 333.5 1130 334.5 1129 338.5 1134.5 338 1135.5 339 1142.5 340 1143.5 341 1148.5 342 1151.5 344 1156.5 345 1159.5 347 1161.5 347 1164.5 349 1169.5 350 1177.5 354 1181.5 354 1182.5 355 1187 355.5 1185.5 357 1178.5 358 1170.5 362 1168.5 362 1140.5 376 1134 381.5 1127 395.5 1125 397.5 1123 401.5 1123 403.5 1117 414.5 1117 416.5 1114 421.5 1114 425.5 1111.5 432Z"/>
<path fill="#00eebb" fill-rule="evenodd" d="M1111.5 420 1100 390.5 1100 387.5 1097 379.5 1097 371.5 1088.5 371 1084.5 369 1081.5 369 1048 356.5 1048.5 355 1054.5 352 1056.5 352 1061.5 349 1063.5 349 1076.5 342 1078.5 342 1091 334.5 1104 309.5 1104 307.5 1111.5 292 1114 295.5 1114 297.5 1116 300.5 1117 305.5 1119 308.5 1120 313.5 1123 319.5 1123 322.5 1127 333.5 1127.5 341 1135.5 341 1139.5 343 1142.5 343 1176 355.5 1175.5 357 1173.5 357 1166.5 361 1164.5 361 1159.5 364 1157.5 364 1134.5 376 1130 381.5 1120 401.5 1120 403.5 1116 410.5 1116 412.5 1111.5 420Z"/>
<path fill="#00f0a0" fill-rule="evenodd" d="M1111.5 415 1104 394.5 1104 392.5 1102 388.5 1102 385.5 1100 381.5 1100 378.5 1099 377.5 1099 369.5 1100 368.5 1092.5 369 1091.5 368 1083.5 367 1082.5 366 1076.5 365 1075.5 364 1070.5 363 1067.5 361 1056.5 358 1053 355.5 1058.5 353 1060.5 353 1065.5 350 1067.5 350 1074.5 346 1076.5 346 1091.5 338 1096 332.5 1101 322.5 1101 320.5 1105 313.5 1105 311.5 1108 306.5 1108 304.5 1111 299.5 1111.5 297 1113 298.5 1115 306.5 1117 309.5 1120 320.5 1121 321.5 1121 324.5 1123 328.5 1124 336.5 1125 337.5 1125 341.5 1124 343.5 1132.5 343 1137.5 345 1140.5 345 1141.5 346 1146.5 347 1147.5 348 1150.5 348 1153.5 350 1155.5 350 1170 355.5 1170 356.5 1167.5 358 1160.5 360 1155.5 363 1153.5 363 1146.5 367 1144.5 367 1140.5 369 1130 375.5 1123 388.5 1123 390.5 1119 397.5 1119 399.5 1113 411.5 1113 413.5 1111.5 415Z"/>
<path fill="#00f088" fill-rule="evenodd" d="M1111.5 409 1106 391.5 1105 390.5 1105 388.5 1104 387.5 1103 380.5 1102 379.5 1102 375.5 1101 374.5 1101 367.5 1102 366.5 1094.5 367 1093.5 366 1089.5 366 1088.5 365 1081.5 364 1077.5 362 1074.5 362 1073.5 361 1059 356.5 1059 355.5 1061.5 354 1063.5 354 1066.5 352 1068.5 352 1071.5 350 1078.5 348 1095 339.5 1103 324.5 1103 322.5 1105 319.5 1105 317.5 1108 312.5 1108 310.5 1111.5 303 1114 307.5 1115 312.5 1119 322.5 1121 333.5 1122 334.5 1122 338.5 1123 339.5 1122 345.5 1129.5 345 1130.5 346 1134.5 346 1135.5 347 1145.5 349 1146.5 350 1149.5 350 1164 355.5 1164 356.5 1161.5 358 1154.5 360 1149.5 363 1142.5 365 1132.5 370 1127 374.5 1121 386.5 1121 388.5 1116 398.5 1114 405.5 1111.5 409Z"/>
<path fill="#00f560" fill-rule="evenodd" d="M1111.5 403 1108 391.5 1107 390.5 1105 379.5 1104 378.5 1104 374.5 1103 373.5 1103 365.5 1090.5 364 1089.5 363 1074.5 360 1065 356.5 1065 355.5 1067.5 354 1077.5 351 1080.5 349 1082.5 349 1098 340.5 1104 328.5 1104 326.5 1106 323.5 1106 321.5 1108 318.5 1108 316.5 1110 313.5 1111.5 308 1116 319.5 1116 322.5 1118 326.5 1119 333.5 1120 334.5 1121 346.5 1133.5 348 1134.5 349 1149.5 352 1159 355.5 1158.5 357 1156.5 357 1148.5 361 1143.5 362 1128.5 369 1125 372.5 1119 384.5 1119 386.5 1114 397.5 1114 399.5 1111.5 403Z"/>
<path fill="#00fa30" fill-rule="evenodd" d="M1111.5 398 1110 394.5 1110 391.5 1109 390.5 1109 387.5 1108 386.5 1108 383.5 1107 382.5 1107 379.5 1106 378.5 1106 374.5 1105 373.5 1105 368.5 1104 367.5 1104 364.5 1105 363.5 1102.5 363 1101.5 364 1100.5 363 1090.5 362 1085.5 360 1074.5 358 1070 355.5 1078.5 353 1081.5 351 1086.5 350 1098.5 344 1105 332.5 1105 330.5 1107 327.5 1107 325.5 1111.5 314 1113 315.5 1113 318.5 1115 322.5 1116 329.5 1117 330.5 1117 334.5 1118 335.5 1118 339.5 1119 340.5 1119 348.5 1120.5 349 1122.5 348 1123.5 349 1133.5 350 1134.5 351 1137.5 351 1138.5 352 1141.5 352 1142.5 353 1145.5 353 1146.5 354 1149.5 354 1153 355.5 1152.5 357 1150.5 357 1147.5 359 1134.5 363 1124 368.5 1115 388.5 1113 396.5 1111.5 398Z"/>
<path fill="#00ff10" fill-rule="evenodd" d="M1111.5 392 1110 384.5 1109 383.5 1109 380.5 1108 379.5 1107 369.5 1106 368.5 1106 362.5 1108 360.5 1107.5 360 1104.5 362 1099.5 362 1098.5 361 1094.5 361 1093.5 360 1089.5 360 1084.5 358 1081.5 358 1080.5 357 1077.5 357 1076 355.5 1087.5 352 1098.5 347 1103 342.5 1105 338.5 1105 336.5 1108 331.5 1111.5 320 1113 322.5 1115 333.5 1116 334.5 1116 338.5 1117 339.5 1117 343.5 1118 344.5 1118 348.5 1116 351.5 1116.5 352 1118.5 350 1124.5 350 1125.5 351 1134.5 352 1135.5 353 1138.5 353 1139.5 354 1147 355.5 1146.5 357 1138.5 359 1135.5 361 1133.5 361 1130.5 363 1126.5 364 1120 370.5 1119 374.5 1116 379.5 1113 390.5 1111.5 392Z"/>
</g>
<rect x="132.20" y="791.00" width="552.60" height="551.20" fill="#2800f8"/>
<clipPath id="clipc"><rect x="132.20" y="791.00" width="552.60" height="551.20"/></clipPath>
<g clip-path="url(#clipc)">
<path fill="#0000f0" fill-rule="evenodd" d="M685.5 1343 200.5 1343 200 1341.5 212 1324.5 213 1321.5 225 1303.5 226 1300.5 248 1267.5 263 1247.5 265 1243.5 295 1203.5 313 1181.5 326 1163.5 330 1159.5 333 1154.5 342 1144.5 342 1143.5 346 1139.5 350 1133.5 358 1124.5 358 1123.5 369 1111.5 369 1110.5 383 1095.5 387 1089.5 384.5 1088 364.5 1106 363.5 1106 358.5 1111 357.5 1111 352.5 1116 351.5 1116 346.5 1121 335.5 1129 321.5 1141 316.5 1144 312.5 1148 311.5 1148 299.5 1158 290.5 1164 286.5 1168 281.5 1171 277.5 1175 272.5 1178 268.5 1182 263.5 1185 244.5 1200 240.5 1202 233.5 1208 229.5 1210 209.5 1225 176.5 1247 173.5 1248 165.5 1254 162.5 1255 150.5 1263 147.5 1264 133.5 1274 132 1273.5 132 791.5 616.5 791 617 791.5 607 805.5 603 813.5 599 818.5 598 821.5 594 826.5 593 829.5 585 840.5 584 843.5 575 855.5 567 868.5 564 871.5 560 878.5 557 881.5 555 885.5 549 892.5 547 896.5 544 899.5 523 928.5 512 941.5 509 946.5 501 955.5 492 968.5 484 977.5 484 978.5 472 992.5 468 998.5 460 1007.5 460 1008.5 430 1042.5 431.5 1045 435.5 1043 457.5 1023 458.5 1023 463.5 1018 464.5 1018 469.5 1013 470.5 1013 494.5 993 499.5 990 512.5 979 525.5 970 534.5 962 543.5 956 547.5 952 564.5 940 575.5 931 579.5 929 593.5 918 600.5 914 603.5 911 613.5 905 616.5 902 631.5 892 634.5 891 645.5 883 648.5 882 653.5 878 666.5 871 683.5 859 685.5 859 685.5 1343Z"/>
<path fill="#0538ff" fill-rule="evenodd" d="M685.5 1343 225.5 1343 225 1341.5 229 1334.5 229 1332.5 233 1324.5 235 1322.5 244 1303.5 246 1301.5 249 1294.5 251 1292.5 254 1285.5 256 1283.5 258 1278.5 260 1276.5 261 1273.5 263 1271.5 264 1268.5 275 1251.5 276 1248.5 291 1226.5 292 1223.5 304 1205.5 307 1202.5 313 1192.5 316 1189.5 327 1171.5 330 1168.5 341 1151.5 347 1144.5 356 1130.5 377 1104.5 377 1103.5 381 1099.5 381 1098.5 388 1091.5 388 1090.5 384.5 1087 383.5 1087 376.5 1094 375.5 1094 361.5 1106 352.5 1112 341.5 1121 337.5 1123 334.5 1126 330.5 1128 327.5 1131 323.5 1133 320.5 1136 313.5 1140 310.5 1143 292.5 1155 289.5 1156 286.5 1159 270.5 1169 267.5 1172 255.5 1180 252.5 1181 222.5 1201 219.5 1202 202.5 1213 197.5 1215 195.5 1217 190.5 1219 188.5 1221 170.5 1230 168.5 1232 132.5 1250 132 1249.5 132 791.5 591.5 791 591 794.5 580 816.5 578 818.5 572 831.5 570 833.5 562 849.5 557 856.5 555 861.5 553 863.5 546 876.5 530 900.5 529 903.5 509 933.5 506 936.5 484 970.5 481 973.5 479 977.5 476 980.5 474 984.5 471 987.5 469 991.5 466 994.5 464 998.5 449 1018.5 436 1033.5 436 1034.5 430 1040.5 429 1042.5 432.5 1046 433.5 1046 439.5 1040 440.5 1040 444.5 1036 445.5 1036 471.5 1015 485.5 1006 502.5 993 536.5 971 539.5 968 569.5 948 572.5 947 580.5 941 583.5 940 588.5 936 591.5 935 596.5 931 599.5 930 611.5 922 616.5 920 623.5 915 630.5 912 632.5 910 639.5 907 641.5 905 652.5 900 654.5 898 685.5 883 685.5 1343Z"/>
<path fill="#0050ff" fill-rule="evenodd" d="M685.5 1343 244.5 1343 244 1340.5 255 1317.5 255 1315.5 261 1304.5 261 1302.5 280 1264.5 282 1262.5 287 1251.5 289 1249.5 293 1240.5 295 1238.5 301 1226.5 303 1224.5 304 1221.5 306 1219.5 308 1214.5 318 1199.5 319 1196.5 321 1194.5 324 1187.5 326 1185.5 328 1180.5 330 1178.5 337 1165.5 343 1157.5 344 1154.5 350 1146.5 351 1143.5 357 1135.5 358 1132.5 361 1129.5 367 1119.5 373 1112.5 381 1100.5 389 1091.5 383.5 1086 366.5 1100 362.5 1102 355.5 1108 334.5 1122 331.5 1123 307.5 1139 292.5 1147 290.5 1149 285.5 1151 283.5 1153 278.5 1155 276.5 1157 273.5 1158 256.5 1169 251.5 1171 249.5 1173 244.5 1175 235.5 1181 228.5 1184 226.5 1186 215.5 1191 213.5 1193 173.5 1213 171.5 1213 160.5 1219 158.5 1219 135.5 1230 132 1230.5 132 791.5 572.5 791 573 792.5 570 797.5 570 799.5 567 804.5 567 806.5 563 813.5 563 815.5 558 824.5 558 826.5 535 872.5 533 874.5 528 885.5 526 887.5 515 908.5 513 910.5 512 913.5 510 915.5 509 918.5 498 935.5 497 938.5 495 940.5 485 959.5 469 983.5 463 994.5 453 1009.5 450 1012.5 448 1016.5 433 1036.5 428 1041.5 433.5 1047 453.5 1031 457.5 1029 460.5 1026 464.5 1024 467.5 1021 476.5 1015 487.5 1009 506.5 996 509.5 995 521.5 987 526.5 985 528.5 983 535.5 980 537.5 978 540.5 977 557.5 966 560.5 965 562.5 963 583.5 952 585.5 950 592.5 947 594.5 945 609.5 938 611.5 936 635.5 924 637.5 924 652.5 916 654.5 916 663.5 911 665.5 911 670.5 908 672.5 908 677.5 905 679.5 905 685.5 902 685.5 1343Z"/>
<path fill="#0070ff" fill-rule="evenodd" d="M685.5 1343 259.5 1343 259 1340.5 261 1337.5 262 1332.5 264 1329.5 266 1322.5 269 1317.5 271 1310.5 274 1305.5 274 1303.5 277 1298.5 277 1296.5 281 1289.5 281 1287.5 287 1276.5 287 1274.5 297 1255.5 297 1253.5 306 1235.5 308 1233.5 318 1212.5 320 1210.5 339 1171.5 341 1169.5 344 1162.5 349 1155.5 357 1139.5 379 1105.5 388 1094.5 389 1091.5 383.5 1086 382.5 1086 372.5 1094 348.5 1110 345.5 1111 333.5 1119 326.5 1122 324.5 1124 319.5 1126 317.5 1128 312.5 1130 310.5 1132 301.5 1136 299.5 1138 197.5 1189 195.5 1189 186.5 1194 184.5 1194 177.5 1198 175.5 1198 163.5 1204 161.5 1204 148.5 1210 146.5 1210 133.5 1216 132 1215.5 132 791.5 557.5 791 558 792.5 557 793.5 557 795.5 555 798.5 555 800.5 553 803.5 553 805.5 551 808.5 549 815.5 546 820.5 546 822.5 540 834.5 540 836.5 537 841.5 537 843.5 532 852.5 532 854.5 507 905.5 505 907.5 497 924.5 495 926.5 484 950.5 482 952.5 477 963.5 475 965.5 473 970.5 471 972.5 469 977.5 467 979.5 464 986.5 462 988.5 454 1003.5 436 1030.5 428 1040.5 428 1041.5 433.5 1047 435.5 1047 443.5 1040 470.5 1022 473.5 1021 485.5 1013 501.5 1005 503.5 1003 508.5 1001 510.5 999 523.5 993 525.5 991 537.5 985 541.5 984 551.5 979 553.5 977 613.5 947 615.5 947 626.5 941 628.5 941 635.5 937 637.5 937 656.5 928 658.5 928 661.5 926 663.5 926 666.5 924 668.5 924 671.5 922 673.5 922 676.5 920 678.5 920 681.5 918 685.5 917 685.5 1343Z"/>
<path fill="#0095f0" fill-rule="evenodd" d="M685.5 1343 272.5 1343 272 1340.5 273 1339.5 275 1331.5 277 1328.5 279 1320.5 281 1317.5 282 1312.5 286 1304.5 287 1299.5 291 1291.5 293 1284.5 296 1279.5 296 1277.5 301 1267.5 301 1265.5 305 1258.5 305 1256.5 309 1249.5 309 1247.5 314 1238.5 314 1236.5 322 1221.5 322 1219.5 326 1212.5 326 1210.5 329 1205.5 329 1203.5 334 1194.5 334 1192.5 363 1134.5 365 1132.5 367 1127.5 377 1112.5 378 1109.5 390 1092.5 382.5 1085 381.5 1085 377.5 1089 365.5 1097 362.5 1098 357.5 1102 342.5 1110 340.5 1112 286.5 1139 284.5 1139 275.5 1144 273.5 1144 268.5 1147 266.5 1147 261.5 1150 259.5 1150 233.5 1163 231.5 1163 222.5 1168 220.5 1168 201.5 1177 194.5 1179 189.5 1182 182.5 1184 174.5 1188 169.5 1189 161.5 1193 153.5 1195 150.5 1197 142.5 1199 139.5 1201 134.5 1202 133.5 1203 132 1202.5 132 791.5 544.5 791 545 792.5 542 799.5 541 804.5 539 807.5 538 812.5 536 815.5 535 820.5 533 823.5 532 828.5 530 831.5 530 833.5 526 841.5 526 843.5 524 846.5 522 853.5 513 872.5 513 874.5 509 881.5 509 883.5 505 890.5 505 892.5 491 920.5 491 922.5 484 936.5 484 938.5 476 953.5 476 955.5 469 969.5 467 971.5 465 975.5 465 977.5 459 989.5 457 991.5 449 1007.5 427 1040.5 434 1047.5 434.5 1049 442.5 1042 445.5 1041 456.5 1033 459.5 1032 471.5 1024 522.5 998 524.5 998 537.5 991 539.5 991 546.5 987 548.5 987 553.5 984 555.5 984 579.5 972 581.5 972 590.5 967 592.5 967 599.5 963 601.5 963 613.5 957 615.5 957 625.5 952 627.5 952 640.5 946 645.5 945 653.5 941 658.5 940 661.5 938 663.5 938 664.5 937 669.5 936 672.5 934 685.5 930 685.5 1343ZM409 1066.5 408 1066.5 409 1066.5ZM394 1081.5 393 1081.5 394 1081.5Z"/>
<path fill="#00b8e0" fill-rule="evenodd" d="M685.5 1343 283.5 1343 283 1341.5 284 1340.5 284 1338.5 285 1337.5 296 1302.5 298 1299.5 300 1291.5 302 1288.5 303 1283.5 305 1280.5 306 1275.5 308 1272.5 309 1267.5 311 1264.5 311 1262.5 313 1259.5 313 1257.5 315 1254.5 317 1247.5 320 1242.5 322 1235.5 327 1225.5 329 1217.5 331 1214.5 331 1212.5 333 1209.5 333 1207.5 339 1194.5 339 1192.5 342 1187.5 342 1185.5 353 1163.5 353 1161.5 356 1156.5 356 1154.5 371 1124.5 373 1122.5 375 1117.5 377 1115.5 384 1102.5 391 1092.5 385.5 1088 382.5 1084 381.5 1084 369.5 1093 364.5 1095 362.5 1097 352.5 1102 350.5 1104 322.5 1118 320.5 1118 313.5 1122 311.5 1122 302.5 1127 300.5 1127 284.5 1135 277.5 1137 274.5 1139 272.5 1139 269.5 1141 262.5 1143 259.5 1145 251.5 1147 248.5 1149 241.5 1151 236.5 1154 234.5 1154 231.5 1156 229.5 1156 226.5 1158 224.5 1158 216.5 1162 214.5 1162 201.5 1168 196.5 1169 193.5 1171 185.5 1173 182.5 1175 171.5 1178 168.5 1180 166.5 1180 165.5 1181 136.5 1190 135.5 1191 132 1190.5 132 791.5 533.5 791 534 791.5 532 795.5 531 800.5 528 807.5 521 830.5 520 831.5 520 833.5 518 836.5 516 844.5 514 847.5 513 852.5 511 855.5 510 860.5 508 863.5 508 865.5 506 868.5 506 870.5 504 873.5 504 875.5 498 888.5 498 890.5 490 907.5 488 915.5 486 918.5 485 923.5 481 931.5 481 933.5 478 938.5 478 940.5 475 945.5 475 947.5 465 967.5 465 969.5 462 974.5 462 976.5 445 1010.5 443 1012.5 435 1027.5 429 1036.5 426 1039.5 426 1040.5 427.5 1041 434 1047.5 434.5 1050 441.5 1044 444.5 1043 449.5 1039 454.5 1037 461.5 1032 470.5 1028 472.5 1026 488.5 1018 490.5 1018 499.5 1013 501.5 1013 506.5 1010 508.5 1010 521.5 1003 523.5 1003 528.5 1000 530.5 1000 535.5 997 537.5 997 540.5 995 542.5 995 555.5 989 560.5 988 563.5 986 565.5 986 576.5 981 578.5 981 583.5 978 585.5 978 588.5 976 590.5 976 603.5 970 610.5 968 613.5 966 626.5 962 629.5 960 637.5 958 640.5 956 645.5 955 646.5 954 648.5 954 649.5 953 651.5 953 652.5 952 654.5 952 676.5 944 681.5 943 682.5 942 685.5 942 685.5 1343ZM424 1051.5 423 1051.5 424 1051.5ZM409 1066.5 408 1066.5 409 1066.5ZM394 1081.5 393 1081.5 394 1081.5Z"/>
<path fill="#00dcd0" fill-rule="evenodd" d="M685.5 1343 294.5 1343 294 1339.5 296 1335.5 296 1332.5 299 1325.5 300 1319.5 303 1312.5 303 1309.5 304 1308.5 304 1306.5 305 1305.5 316 1270.5 318 1267.5 320 1259.5 322 1256.5 324 1248.5 326 1245.5 326 1243.5 330 1233.5 330 1230.5 332 1226.5 334 1218.5 336 1215.5 339 1204.5 341 1201.5 342 1196.5 348 1183.5 348 1181.5 351 1176.5 351 1174.5 353 1171.5 353 1169.5 355 1166.5 355 1164.5 357 1161.5 359 1154.5 362 1149.5 362 1147.5 379 1113.5 381 1111.5 384 1104.5 392 1092.5 389.5 1092 383 1085.5 383 1083.5 381.5 1083 370.5 1091 329.5 1112 327.5 1112 310.5 1120 300.5 1123 295.5 1126 293.5 1126 280.5 1132 275.5 1133 264.5 1138 259.5 1139 237.5 1147 231.5 1148 228.5 1150 226.5 1150 225.5 1151 220.5 1152 217.5 1154 209.5 1156 206.5 1158 204.5 1158 203.5 1159 189.5 1163 188.5 1164 174.5 1168 164.5 1172 161.5 1172 151.5 1176 148.5 1176 141.5 1179 138.5 1179 134.5 1181 132 1180.5 132 791.5 522.5 791 523 793.5 522 794.5 522 797.5 521 798.5 521 800.5 519 804.5 519 807.5 515 817.5 515 820.5 514 821.5 514 823.5 513 824.5 513 826.5 512 827.5 512 829.5 510 833.5 500 865.5 498 868.5 496 876.5 491 887.5 491 889.5 488 896.5 488 899.5 485 906.5 482 917.5 480 920.5 478 928.5 476 931.5 475 936.5 473 939.5 473 941.5 469 949.5 467 956.5 464 961.5 461 971.5 456 981.5 456 983.5 450 994.5 450 996.5 433 1028.5 431 1030.5 428 1036.5 425 1039.5 425.5 1041 427.5 1041 434 1047.5 434.5 1051 443.5 1044 483.5 1023 485.5 1023 499.5 1016 506.5 1014 509.5 1012 514.5 1011 519.5 1008 521.5 1008 524.5 1006 526.5 1006 534.5 1002 536.5 1002 539.5 1000 541.5 1000 547.5 997 549.5 997 553.5 995 555.5 995 568.5 990 591.5 983 594.5 981 602.5 979 605.5 977 622.5 972 625.5 970 627.5 970 637.5 966 640.5 966 659.5 959 662.5 959 669.5 956 672.5 956 679.5 953 685.5 952 685.5 1343ZM424 1052.5 423.5 1051 422 1051.5 423.5 1053 424 1052.5ZM409 1066.5 408 1066.5 409 1066.5ZM395 1081.5 393.5 1080 393 1080.5 393.5 1082 395 1081.5Z"/>
<path fill="#00eebb" fill-rule="evenodd" d="M685.5 1343 303.5 1343 303 1340.5 304 1339.5 304 1336.5 308 1325.5 309 1318.5 311 1314.5 311 1311.5 314 1304.5 316 1294.5 320 1284.5 320 1281.5 328 1259.5 328 1256.5 329 1255.5 330 1248.5 332 1244.5 332 1241.5 334 1237.5 334 1234.5 337 1227.5 337 1224.5 339 1220.5 346 1197.5 348 1194.5 348 1192.5 349 1191.5 350 1186.5 352 1183.5 355 1172.5 357 1169.5 359 1161.5 361 1158.5 361 1156.5 365 1148.5 365 1146.5 368 1141.5 368 1139.5 374 1128.5 374 1126.5 381 1112.5 383 1110.5 387 1101.5 393 1092.5 389.5 1092 383 1085.5 383 1082.5 381.5 1082 373.5 1088 364.5 1092 362.5 1094 350.5 1100 348.5 1100 335.5 1107 333.5 1107 328.5 1110 326.5 1110 318.5 1114 313.5 1115 310.5 1117 296.5 1121 290.5 1124 288.5 1124 285.5 1126 283.5 1126 282.5 1127 271.5 1130 268.5 1132 266.5 1132 262.5 1134 259.5 1134 246.5 1139 243.5 1139 236.5 1142 233.5 1142 225.5 1145 218.5 1146 211.5 1149 208.5 1149 207.5 1150 196.5 1153 189.5 1156 186.5 1156 179.5 1159 169.5 1161 162.5 1164 159.5 1164 155.5 1166 148.5 1167 144.5 1169 137.5 1170 133.5 1172 132 1171.5 132 791.5 513.5 791 514 792.5 511 800.5 510 807.5 508 811.5 508 814.5 506 818.5 504 828.5 501 835.5 501 838.5 498 845.5 498 848.5 497 849.5 497 851.5 491 867.5 491 870.5 488 877.5 487 884.5 486 885.5 485 891.5 483 895.5 483 898.5 480 905.5 480 908.5 479 909.5 470 938.5 465 949.5 461 963.5 459 966.5 458 971.5 456 974.5 455 979.5 450 989.5 450 991.5 445 1000.5 445 1002.5 429 1033.5 424 1039.5 424.5 1041 427.5 1041 434 1047.5 434.5 1051 443.5 1046 445.5 1044 477.5 1028 479.5 1028 491.5 1022 493.5 1022 504.5 1017 509.5 1016 512.5 1014 526.5 1010 529.5 1008 537.5 1006 540.5 1004 542.5 1004 564.5 996 567.5 996 568.5 995 573.5 994 574.5 993 577.5 993 581.5 991 584.5 991 588.5 989 599.5 987 615.5 981 618.5 981 619.5 980 630.5 977 631.5 976 634.5 976 641.5 973 644.5 973 648.5 971 651.5 971 655.5 969 658.5 969 662.5 967 665.5 967 669.5 965 672.5 965 673.5 964 676.5 964 677.5 963 685.5 961 685.5 1343ZM425 1052.5 423.5 1050 422 1050.5 422.5 1053 425 1052.5ZM410 1067.5 408.5 1065 407 1066.5 408.5 1068 410 1067.5ZM395 1082.5 393.5 1080 392 1080.5 393.5 1083 395 1082.5Z"/>
<path fill="#00f0a0" fill-rule="evenodd" d="M685.5 1343 310.5 1343 310 1338.5 314 1327.5 316 1317.5 319 1310.5 319 1307.5 322 1300.5 322 1297.5 326 1287.5 326 1284.5 329 1277.5 330 1269.5 331 1268.5 332 1261.5 333 1260.5 333 1257.5 334 1256.5 334 1253.5 335 1252.5 338 1237.5 340 1233.5 340 1230.5 344 1219.5 344 1216.5 349 1203.5 349 1200.5 352 1193.5 352 1191.5 354 1188.5 354 1185.5 357 1178.5 357 1175.5 358 1174.5 362 1160.5 364 1157.5 365 1152.5 367 1149.5 367 1147.5 371 1139.5 371 1137.5 374 1132.5 374 1130.5 379 1121.5 379 1119.5 388 1101.5 394 1093.5 392.5 1092 389.5 1092 385.5 1088 383 1085.5 383 1082.5 381.5 1081 373.5 1087 355.5 1096 353.5 1096 344.5 1101 342.5 1101 337.5 1104 335.5 1104 322.5 1110 314.5 1112 311.5 1114 306.5 1115 302.5 1117 299.5 1117 292.5 1120 289.5 1120 288.5 1121 286.5 1121 264.5 1129 261.5 1129 254.5 1132 244.5 1134 240.5 1136 229.5 1138 228.5 1139 221.5 1140 220.5 1141 213.5 1142 208.5 1144 205.5 1144 204.5 1145 196.5 1146 186.5 1150 183.5 1150 182.5 1151 180.5 1151 176.5 1153 173.5 1153 166.5 1156 163.5 1156 156.5 1159 153.5 1159 149.5 1161 146.5 1161 145.5 1162 135.5 1164 134.5 1165 132 1164.5 132 791.5 506.5 791 507 794.5 505 798.5 505 801.5 503 805.5 503 808.5 499 819.5 499 822.5 498 823.5 497 828.5 496 829.5 496 832.5 492 842.5 492 845.5 488 855.5 487 863.5 486 864.5 485 871.5 483 876.5 483 879.5 482 880.5 479 895.5 477 899.5 476 906.5 473 913.5 473 916.5 469 926.5 469 929.5 461 951.5 461 954.5 460 955.5 454 975.5 452 978.5 451 983.5 446 993.5 446 995.5 443 1000.5 443 1002.5 438 1011.5 438 1013.5 428 1033.5 423 1040.5 427.5 1041 434 1047.5 434 1050.5 435.5 1052 440.5 1048 447.5 1045 449.5 1043 455.5 1040 457.5 1040 468.5 1034 470.5 1034 475.5 1031 477.5 1031 482.5 1028 484.5 1028 492.5 1024 497.5 1023 500.5 1021 502.5 1021 518.5 1015 521.5 1015 543.5 1007 546.5 1007 556.5 1003 559.5 1003 566.5 1000 569.5 1000 573.5 998 584.5 996 588.5 994 591.5 994 592.5 993 599.5 992 600.5 991 604.5 991 605.5 990 608.5 990 613.5 988 617.5 988 618.5 987 624.5 986 634.5 982 637.5 982 644.5 979 647.5 979 654.5 976 657.5 976 661.5 974 664.5 974 665.5 973 671.5 972 675.5 970 678.5 970 682.5 968 685.5 968 685.5 1343ZM425 1052.5 423.5 1050 422 1050.5 422.5 1053 425 1052.5ZM410 1067.5 408.5 1065 407 1065.5 407.5 1068 410 1067.5ZM395 1082.5 394.5 1080 392 1080.5 392.5 1083 395 1082.5Z"/>
<path fill="#00f088" fill-rule="evenodd" d="M685.5 1343 316.5 1343 316 1338.5 317 1337.5 319 1326.5 321 1322.5 322 1315.5 324 1311.5 324 1308.5 326 1304.5 327 1297.5 329 1293.5 329 1290.5 331 1285.5 331 1281.5 333 1276.5 335 1265.5 337 1261.5 339 1250.5 343 1239.5 346 1224.5 348 1220.5 349 1213.5 350 1212.5 350 1210.5 352 1206.5 352 1203.5 354 1199.5 354 1196.5 357 1188.5 358 1181.5 361 1174.5 361 1171.5 362 1170.5 368 1150.5 370 1147.5 371 1142.5 373 1139.5 375 1132.5 378 1127.5 380 1120.5 385 1111.5 385 1109.5 389 1101.5 391 1099.5 394 1093.5 392.5 1092 389.5 1092 383 1085.5 383 1082.5 380.5 1081 375.5 1085 363.5 1091 361.5 1091 354.5 1095 347.5 1097 342.5 1100 335.5 1102 332.5 1104 327.5 1105 324.5 1107 313.5 1110 303.5 1114 300.5 1114 289.5 1118 278.5 1120 274.5 1122 271.5 1122 270.5 1123 265.5 1124 264.5 1125 261.5 1125 257.5 1127 250.5 1128 246.5 1130 231.5 1133 227.5 1135 220.5 1136 219.5 1137 216.5 1137 212.5 1139 205.5 1140 204.5 1141 201.5 1141 200.5 1142 189.5 1144 188.5 1145 180.5 1146 176.5 1148 173.5 1148 172.5 1149 162.5 1151 158.5 1153 151.5 1154 147.5 1156 136.5 1158 135.5 1159 132 1158.5 132 791.5 501.5 791 501 795.5 499 799.5 499 802.5 497 807.5 497 810.5 493 821.5 492 828.5 488 839.5 487 847.5 486 848.5 484 859.5 483 860.5 481 871.5 479 875.5 478 882.5 476 886.5 476 889.5 475 890.5 474 897.5 472 901.5 470 912.5 468 916.5 468 919.5 466 923.5 466 926.5 463 933.5 463 936.5 461 941.5 461 944.5 459 948.5 459 951.5 457 955.5 457 958.5 456 959.5 448 985.5 446 988.5 446 990.5 444 993.5 444 995.5 442 998.5 440 1005.5 437 1010.5 437 1012.5 434 1017.5 434 1019.5 427 1033.5 422 1040.5 427.5 1041 434 1047.5 434 1050.5 435.5 1053 440.5 1049 472.5 1034 474.5 1034 477.5 1032 487.5 1029 490.5 1027 492.5 1027 493.5 1026 495.5 1026 517.5 1018 520.5 1018 524.5 1016 539.5 1013 546.5 1010 549.5 1010 553.5 1008 563.5 1006 567.5 1004 570.5 1004 571.5 1003 586.5 1000 587.5 999 597.5 997 601.5 995 604.5 995 605.5 994 608.5 994 609.5 993 612.5 993 613.5 992 616.5 992 617.5 991 620.5 991 621.5 990 624.5 990 629.5 988 633.5 988 641.5 985 644.5 985 648.5 983 651.5 983 655.5 981 662.5 980 666.5 978 681.5 975 682.5 974 685.5 974 685.5 1343ZM425 1053.5 424.5 1050 421 1050.5 421 1052.5 422.5 1054 425 1053.5ZM410 1068.5 410 1065.5 407.5 1065 407 1067.5 409.5 1069 410 1068.5ZM395 1083.5 396 1081.5 392.5 1079 392 1082.5 394.5 1084 395 1083.5Z"/>
<path fill="#00f560" fill-rule="evenodd" d="M685.5 1343 321.5 1343 321 1340.5 322 1339.5 322 1336.5 324 1331.5 324 1328.5 325 1327.5 328 1312.5 329 1311.5 329 1307.5 331 1302.5 331 1298.5 332 1297.5 332 1293.5 334 1288.5 334 1284.5 335 1283.5 335 1280.5 336 1279.5 336 1276.5 338 1271.5 338 1267.5 339 1266.5 341 1255.5 343 1251.5 345 1240.5 347 1236.5 348 1229.5 350 1225.5 350 1222.5 351 1221.5 351 1219.5 353 1215.5 353 1212.5 355 1208.5 355 1204.5 356 1203.5 356 1200.5 357 1199.5 360 1184.5 361 1183.5 361 1180.5 365 1169.5 365 1166.5 366 1165.5 374 1139.5 376 1136.5 379 1126.5 383 1118.5 383 1116.5 387 1109.5 387 1107.5 391 1099.5 395 1093.5 392.5 1092 389.5 1092 383 1085.5 383 1082.5 382 1080.5 380.5 1080 375.5 1084 367.5 1088 365.5 1088 358.5 1092 356.5 1092 348.5 1096 343.5 1097 332.5 1102 321.5 1105 308.5 1110 305.5 1110 301.5 1112 298.5 1112 294.5 1114 287.5 1115 282.5 1117 275.5 1118 274.5 1119 270.5 1119 269.5 1120 262.5 1121 258.5 1123 252.5 1124 248.5 1126 245.5 1126 241.5 1128 230.5 1130 226.5 1132 223.5 1132 222.5 1133 219.5 1133 218.5 1134 215.5 1134 214.5 1135 203.5 1137 202.5 1138 198.5 1138 197.5 1139 190.5 1140 189.5 1141 185.5 1141 180.5 1143 171.5 1144 170.5 1145 162.5 1146 161.5 1147 158.5 1147 157.5 1148 154.5 1148 153.5 1149 150.5 1149 149.5 1150 134.5 1153 133.5 1154 132 1153.5 132 791.5 495.5 791 496 793.5 495 794.5 493 805.5 492 806.5 491 813.5 488 821.5 488 825.5 486 830.5 485 839.5 484 840.5 483 848.5 482 849.5 481 856.5 480 857.5 480 861.5 479 862.5 479 865.5 478 866.5 478 869.5 477 870.5 476 877.5 475 878.5 475 881.5 473 885.5 471 896.5 470 897.5 469 903.5 467 907.5 467 910.5 465 914.5 465 917.5 462 924.5 462 928.5 461 929.5 460 936.5 459 937.5 458 944.5 456 949.5 455 956.5 453 960.5 453 963.5 450 970.5 449 976.5 446 982.5 443 993.5 441 996.5 440 1001.5 434 1014.5 434 1016.5 426 1033.5 422 1039.5 422.5 1041 427.5 1041 434 1047.5 434 1050.5 435.5 1053 461.5 1040 471.5 1037 479.5 1033 487.5 1031 490.5 1029 492.5 1029 499.5 1026 502.5 1026 512.5 1022 515.5 1022 519.5 1020 522.5 1020 523.5 1019 526.5 1019 527.5 1018 530.5 1018 531.5 1017 534.5 1017 535.5 1016 542.5 1015 543.5 1014 551.5 1013 555.5 1011 558.5 1011 559.5 1010 564.5 1009 565.5 1008 572.5 1007 576.5 1005 583.5 1004 587.5 1002 590.5 1002 591.5 1001 594.5 1001 595.5 1000 610.5 997 611.5 996 614.5 996 619.5 994 623.5 994 624.5 993 632.5 992 637.5 990 646.5 989 651.5 987 655.5 987 659.5 985 662.5 985 663.5 984 666.5 984 667.5 983 670.5 983 671.5 982 674.5 982 675.5 981 685.5 979 685.5 1343ZM425 1054.5 426 1053.5 426 1050.5 424.5 1049 421.5 1049 421 1053.5 424.5 1055 425 1054.5ZM410 1068.5 411 1066.5 407.5 1064 406 1065.5 406 1067.5 407.5 1069 410 1068.5ZM396 1083.5 396 1080.5 394.5 1079 391 1079.5 391 1082.5 392.5 1084 396 1083.5Z"/>
<path fill="#00fa30" fill-rule="evenodd" d="M650.5 1343 326.5 1343 326 1341.5 327 1340.5 327 1336.5 329 1331.5 329 1327.5 330 1326.5 330 1322.5 331 1321.5 331 1317.5 332 1316.5 332 1311.5 333 1310.5 335 1296.5 337 1291.5 338 1282.5 340 1277.5 340 1273.5 341 1272.5 341 1269.5 343 1264.5 343 1260.5 344 1259.5 344 1256.5 345 1255.5 345 1252.5 346 1251.5 349 1236.5 350 1235.5 350 1232.5 352 1228.5 353 1221.5 355 1217.5 356 1209.5 357 1208.5 358 1201.5 360 1197.5 360 1194.5 361 1193.5 361 1190.5 362 1189.5 362 1186.5 363 1185.5 364 1178.5 365 1177.5 365 1174.5 367 1170.5 369 1160.5 370 1159.5 379 1130.5 381 1127.5 383 1119.5 389 1107.5 389 1105.5 396 1093.5 392.5 1092 389.5 1092 385.5 1088 383 1085.5 383 1082.5 381.5 1079 369.5 1086 365.5 1087 355.5 1092 353.5 1092 352.5 1093 347.5 1094 344.5 1096 342.5 1096 341.5 1097 339.5 1097 338.5 1098 315.5 1105 314.5 1106 311.5 1106 307.5 1108 300.5 1109 296.5 1111 293.5 1111 292.5 1112 289.5 1112 284.5 1114 281.5 1114 280.5 1115 273.5 1116 272.5 1117 269.5 1117 264.5 1119 253.5 1121 249.5 1123 242.5 1124 241.5 1125 238.5 1125 237.5 1126 230.5 1127 229.5 1128 222.5 1129 221.5 1130 214.5 1131 209.5 1133 205.5 1133 204.5 1134 196.5 1135 191.5 1137 187.5 1137 182.5 1139 178.5 1139 177.5 1140 173.5 1140 172.5 1141 168.5 1141 167.5 1142 163.5 1142 162.5 1143 157.5 1143 156.5 1144 152.5 1144 151.5 1145 147.5 1145 146.5 1146 142.5 1146 137.5 1148 132 1148.5 132 825.5 142.5 818 147.5 813 148.5 813 160 800.5 166.5 791 490.5 791 491 792.5 490 793.5 489 800.5 488 801.5 488 805.5 487 806.5 487 810.5 486 811.5 486 816.5 485 817.5 485 821.5 484 822.5 484 826.5 483 827.5 481 841.5 479 846.5 479 850.5 477 855.5 477 859.5 475 864.5 475 868.5 474 869.5 474 872.5 472 877.5 471 884.5 470 885.5 467 900.5 466 901.5 466 904.5 464 908.5 464 911.5 463 912.5 462 919.5 461 920.5 460 927.5 458 932.5 458 935.5 456 939.5 456 942.5 455 943.5 452 958.5 450 962.5 449 969.5 448 970.5 448 972.5 444 982.5 444 985.5 441 991.5 437 1005.5 435 1008.5 434 1013.5 429 1023.5 429 1025.5 424 1035.5 421 1039.5 422.5 1041 427.5 1041 434 1047.5 434 1050.5 435.5 1054 441.5 1050 445.5 1048 447.5 1048 459.5 1042 464.5 1041 467.5 1039 478.5 1036 481.5 1034 486.5 1033 493.5 1030 496.5 1030 497.5 1029 499.5 1029 503.5 1027 506.5 1027 510.5 1025 513.5 1025 517.5 1023 520.5 1023 521.5 1022 524.5 1022 525.5 1021 532.5 1020 533.5 1019 536.5 1019 537.5 1018 540.5 1018 541.5 1017 544.5 1017 545.5 1016 560.5 1013 564.5 1011 567.5 1011 568.5 1010 579.5 1008 583.5 1006 590.5 1005 595.5 1003 599.5 1003 600.5 1002 603.5 1002 604.5 1001 607.5 1001 612.5 999 616.5 999 621.5 997 630.5 996 635.5 994 644.5 993 645.5 992 649.5 992 650.5 991 654.5 991 655.5 990 660.5 990 661.5 989 675.5 987 680.5 985 686 985.5 686 1308.5 681.5 1310 678.5 1313 673.5 1316 658 1331.5 650.5 1343ZM426 1055.5 427 1054.5 427 1050.5 424.5 1048 421.5 1048 420 1049.5 420 1053.5 421.5 1055 423.5 1055 424.5 1056 426 1055.5ZM410 1069.5 412 1067.5 411 1065.5 409.5 1064 406.5 1064 405 1065.5 406 1066.5 406 1068.5 408.5 1070 410 1069.5ZM397 1084.5 398 1083.5 397 1082.5 397 1079.5 395.5 1078 390 1078.5 390 1082.5 392.5 1085 397 1084.5Z"/>
<path fill="#00ff10" fill-rule="evenodd" d="M601.5 1343 332 1342.5 332 1335.5 333 1334.5 334 1320.5 335 1319.5 335 1315.5 336 1314.5 336 1309.5 337 1308.5 337 1304.5 338 1303.5 338 1299.5 339 1298.5 339 1294.5 340 1293.5 340 1289.5 341 1288.5 343 1274.5 345 1269.5 345 1265.5 347 1260.5 347 1256.5 348 1255.5 349 1248.5 350 1247.5 350 1243.5 351 1242.5 351 1239.5 352 1238.5 355 1223.5 356 1222.5 356 1218.5 357 1217.5 357 1214.5 359 1209.5 359 1205.5 361 1200.5 362 1193.5 364 1189.5 365 1182.5 369 1171.5 369 1168.5 372 1160.5 372 1157.5 374 1153.5 374 1150.5 375 1149.5 385 1117.5 387 1114.5 387 1112.5 389 1109.5 389 1107.5 391 1103.5 397 1093.5 389.5 1092 385.5 1088 383 1085.5 381.5 1078 374.5 1083 372.5 1083 367.5 1086 365.5 1086 357.5 1090 355.5 1090 354.5 1091 352.5 1091 351.5 1092 349.5 1092 348.5 1093 346.5 1093 324.5 1101 321.5 1101 310.5 1105 303.5 1106 292.5 1110 285.5 1111 284.5 1112 277.5 1113 276.5 1114 269.5 1115 264.5 1117 261.5 1117 260.5 1118 256.5 1118 251.5 1120 247.5 1120 246.5 1121 239.5 1122 238.5 1123 231.5 1124 230.5 1125 227.5 1125 226.5 1126 222.5 1126 221.5 1127 218.5 1127 213.5 1129 209.5 1129 204.5 1131 200.5 1131 199.5 1132 195.5 1132 194.5 1133 190.5 1133 189.5 1134 185.5 1134 184.5 1135 180.5 1135 179.5 1136 175.5 1136 174.5 1137 165.5 1138 164.5 1139 159.5 1139 158.5 1140 154.5 1140 153.5 1141 146.5 1141 145.5 1142 139.5 1142 138.5 1143 132 1142.5 132 873.5 150.5 868 155.5 865 157.5 865 170.5 858 181.5 850 192 839.5 201 826.5 208 812.5 208 810.5 210 807.5 210 805.5 214 795.5 214 792.5 215.5 791 485 791.5 483 812.5 482 813.5 482 817.5 481 818.5 481 823.5 480 824.5 480 828.5 479 829.5 479 833.5 478 834.5 478 838.5 477 839.5 477 843.5 476 844.5 476 848.5 475 849.5 475 853.5 474 854.5 474 858.5 473 859.5 473 863.5 472 864.5 471 872.5 470 873.5 469 880.5 468 881.5 468 885.5 467 886.5 467 889.5 466 890.5 466 893.5 465 894.5 464 901.5 463 902.5 462 909.5 461 910.5 461 914.5 459 919.5 459 923.5 458 924.5 457 931.5 456 932.5 454 943.5 452 947.5 452 950.5 451 951.5 449 961.5 447 965.5 446 972.5 445 973.5 444 979.5 437 998.5 437 1001.5 435 1005.5 434 1010.5 430 1018.5 428 1025.5 425 1030.5 425 1032.5 420 1039.5 422.5 1041 427.5 1041 434 1047.5 435.5 1055 447.5 1048 449.5 1048 462.5 1042 464.5 1042 477.5 1037 480.5 1037 496.5 1031 499.5 1031 503.5 1029 510.5 1028 514.5 1026 517.5 1026 521.5 1024 532.5 1022 536.5 1020 539.5 1020 544.5 1018 548.5 1018 549.5 1017 552.5 1017 557.5 1015 561.5 1015 566.5 1013 570.5 1013 571.5 1012 574.5 1012 575.5 1011 578.5 1011 579.5 1010 594.5 1007 595.5 1006 599.5 1006 600.5 1005 608.5 1004 613.5 1002 617.5 1002 618.5 1001 622.5 1001 623.5 1000 627.5 1000 628.5 999 632.5 999 633.5 998 647.5 996 648.5 995 652.5 995 653.5 994 658.5 994 659.5 993 663.5 993 664.5 992 671.5 992 672.5 991 679.5 991 680.5 990 686 990.5 686 1259.5 682.5 1260 678.5 1262 675.5 1262 669.5 1265 664.5 1266 648.5 1274 634.5 1284 626 1292.5 616 1306.5 607 1325.5 607 1327.5 603 1337.5 603 1340.5 601.5 1343ZM426 1056.5 428 1054.5 428 1050.5 424.5 1047 420.5 1047 418 1049.5 419 1050.5 419 1053.5 421.5 1056 423.5 1056 424.5 1057 426 1056.5ZM411 1070.5 413 1068.5 412 1067.5 412 1064.5 410.5 1063 405.5 1063 404 1064.5 405 1065.5 405 1068.5 406.5 1070 408.5 1070 409.5 1071 411 1070.5ZM397 1085.5 399 1083.5 398 1082.5 398 1079.5 395.5 1077 390.5 1077 389 1078.5 389 1083.5 391.5 1086 397 1085.5Z"/>
<path fill="#40ff00" fill-rule="evenodd" d="M487.5 1343 360 1342.5 360 1338.5 361 1337.5 361 1322.5 362 1321.5 362 1308.5 363 1307.5 363 1294.5 364 1293.5 365 1270.5 366 1269.5 366 1259.5 367 1258.5 367 1249.5 368 1248.5 368 1240.5 369 1239.5 369 1231.5 370 1230.5 370 1222.5 371 1221.5 371 1215.5 372 1214.5 372 1207.5 373 1206.5 374 1193.5 375 1192.5 375 1187.5 376 1186.5 376 1181.5 377 1180.5 377 1175.5 378 1174.5 378 1170.5 379 1169.5 379 1165.5 380 1164.5 380 1160.5 382 1155.5 382 1151.5 383 1150.5 383 1147.5 384 1146.5 384 1143.5 385 1142.5 387 1131.5 388 1130.5 388 1127.5 390 1123.5 390 1120.5 391 1119.5 397 1099.5 400 1094.5 399.5 1093 389.5 1092 383 1085.5 381.5 1075 373.5 1079 365.5 1081 364.5 1082 361.5 1082 351.5 1086 340.5 1088 336.5 1090 332.5 1090 331.5 1091 328.5 1091 323.5 1093 319.5 1093 318.5 1094 310.5 1095 309.5 1096 305.5 1096 304.5 1097 300.5 1097 299.5 1098 288.5 1099 287.5 1100 281.5 1100 280.5 1101 268.5 1102 267.5 1103 260.5 1103 259.5 1104 252.5 1104 251.5 1105 244.5 1105 243.5 1106 225.5 1107 224.5 1108 215.5 1108 214.5 1109 193.5 1110 192.5 1111 180.5 1111 179.5 1112 167.5 1112 166.5 1113 136.5 1114 135.5 1115 132 1114.5 132.5 988 225.5 986 226.5 985 241.5 985 242.5 984 253.5 984 254.5 983 261.5 983 262.5 982 274.5 981 275.5 980 279.5 980 280.5 979 283.5 979 284.5 978 292.5 976 300.5 972 311 962.5 315 956.5 321 940.5 321 937.5 322 936.5 323 926.5 324 925.5 324 918.5 325 917.5 325 909.5 326 908.5 327 878.5 328 877.5 328 848.5 329 847.5 329.5 791 457 791.5 457 794.5 456 795.5 456 810.5 455 811.5 455 825.5 454 826.5 454 838.5 453 839.5 453 851.5 452 852.5 452 862.5 451 863.5 451 873.5 450 874.5 449 893.5 448 894.5 448 901.5 447 902.5 447 910.5 446 911.5 446 918.5 445 919.5 443 939.5 442 940.5 442 945.5 441 946.5 439 963.5 437 968.5 437 972.5 436 973.5 436 977.5 435 978.5 435 981.5 433 986.5 433 990.5 432 991.5 431 998.5 429 1002.5 428 1009.5 425 1016.5 425 1019.5 424 1020.5 421 1031.5 417 1038.5 417.5 1040 427.5 1041 434 1047.5 435.5 1058 439.5 1056 441.5 1056 444.5 1054 452.5 1052 459.5 1049 462.5 1049 466.5 1047 469.5 1047 473.5 1045 476.5 1045 477.5 1044 480.5 1044 485.5 1042 489.5 1042 490.5 1041 493.5 1041 498.5 1039 502.5 1039 503.5 1038 507.5 1038 508.5 1037 517.5 1036 518.5 1035 529.5 1034 530.5 1033 536.5 1033 537.5 1032 543.5 1032 544.5 1031 550.5 1031 551.5 1030 557.5 1030 558.5 1029 565.5 1029 566.5 1028 574.5 1028 575.5 1027 592.5 1026 593.5 1025 603.5 1025 604.5 1024 614.5 1024 615.5 1023 626.5 1023 627.5 1022 638.5 1022 639.5 1021 652.5 1021 653.5 1020 667.5 1020 668.5 1019 686 1018.5 685.5 1145 683.5 1145 682.5 1146 624.5 1146 623.5 1147 595.5 1147 594.5 1148 578.5 1148 577.5 1149 565.5 1149 564.5 1150 549.5 1151 548.5 1152 543.5 1152 542.5 1153 534.5 1154 533.5 1155 525.5 1157 522.5 1159 520.5 1159 512.5 1164 504 1173.5 503 1176.5 501 1178.5 501 1180.5 499 1183.5 499 1185.5 496 1192.5 496 1196.5 495 1197.5 495 1201.5 494 1202.5 494 1207.5 493 1208.5 493 1214.5 492 1215.5 492 1223.5 491 1224.5 490 1254.5 489 1255.5 489 1284.5 488 1285.5 487.5 1343ZM429 1060.5 432 1057.5 432 1048.5 425.5 1043 417.5 1043 414 1046.5 415 1054.5 420.5 1060 423.5 1060 424.5 1061 429 1060.5ZM413 1055.5 412 1055.5 413 1055.5ZM414 1074.5 417 1071.5 417 1063.5 410.5 1058 403.5 1058 400 1061.5 400 1069.5 405.5 1075 414 1074.5ZM398 1070.5 396 1070.5 398 1070.5ZM399 1090.5 403 1086.5 403 1084.5 402 1083.5 402 1078.5 396.5 1073 391.5 1073 390.5 1072 388.5 1072 385 1075.5 385 1084.5 390.5 1090 399 1090.5ZM405 1077.5 404 1077.5 405 1077.5Z"/>
<path fill="#80ff00" fill-rule="evenodd" d="M480.5 1343 363 1342.5 363 1330.5 364 1329.5 364 1315.5 365 1314.5 365 1301.5 366 1300.5 366 1287.5 367 1286.5 368 1263.5 369 1262.5 370 1242.5 371 1241.5 371 1233.5 372 1232.5 372 1224.5 373 1223.5 373 1216.5 374 1215.5 374 1208.5 375 1207.5 376 1193.5 377 1192.5 378 1180.5 379 1179.5 380 1167.5 381 1166.5 381 1161.5 382 1160.5 382 1155.5 384 1150.5 384 1146.5 385 1145.5 385 1142.5 386 1141.5 386 1138.5 387 1137.5 389 1126.5 390 1125.5 390 1122.5 392 1118.5 392 1115.5 393 1114.5 397 1100.5 400 1095.5 399.5 1093 389.5 1092 383 1085.5 381.5 1075 379.5 1075 374.5 1078 363.5 1081 359.5 1083 356.5 1083 352.5 1085 345.5 1086 344.5 1087 341.5 1087 340.5 1088 333.5 1089 328.5 1091 324.5 1091 323.5 1092 314.5 1093 313.5 1094 308.5 1094 307.5 1095 295.5 1096 294.5 1097 282.5 1098 281.5 1099 267.5 1100 266.5 1101 259.5 1101 258.5 1102 251.5 1102 250.5 1103 242.5 1103 241.5 1104 232.5 1104 231.5 1105 222.5 1105 221.5 1106 212.5 1106 211.5 1107 187.5 1108 186.5 1109 174.5 1109 173.5 1110 159.5 1110 158.5 1111 144.5 1111 143.5 1112 132 1111.5 132.5 994 164.5 994 165.5 993 215.5 993 216.5 992 256.5 991 257.5 990 267.5 990 268.5 989 282.5 988 283.5 987 287.5 987 288.5 986 295.5 985 307.5 980 313.5 976 318 971.5 322 965.5 324 961.5 324 959.5 327 952.5 328 945.5 329 944.5 330 932.5 331 931.5 331 923.5 332 922.5 332 911.5 333 910.5 333 894.5 334 893.5 334 864.5 335 863.5 335 795.5 336 794.5 336.5 791 454 791.5 453 817.5 452 818.5 452 832.5 451 833.5 451 845.5 450 846.5 450 858.5 449 859.5 449 869.5 448 870.5 447 890.5 446 891.5 446 899.5 445 900.5 445 908.5 444 909.5 444 917.5 443 918.5 443 924.5 442 925.5 442 932.5 441 933.5 440 946.5 439 947.5 438 958.5 437 959.5 436 972.5 435 973.5 434 982.5 433 983.5 433 986.5 431 991.5 430 999.5 428 1003.5 427 1010.5 425 1014.5 425 1017.5 421 1027.5 420 1032.5 417 1037.5 417.5 1040 427.5 1041 434 1047.5 435.5 1059 445.5 1054 451.5 1053 461.5 1049 468.5 1048 472.5 1046 475.5 1046 480.5 1044 484.5 1044 485.5 1043 488.5 1043 493.5 1041 497.5 1041 498.5 1040 503.5 1040 504.5 1039 509.5 1039 510.5 1038 516.5 1038 517.5 1037 523.5 1037 524.5 1036 529.5 1036 530.5 1035 536.5 1035 537.5 1034 543.5 1034 544.5 1033 550.5 1033 551.5 1032 558.5 1032 559.5 1031 567.5 1031 568.5 1030 576.5 1030 577.5 1029 585.5 1029 586.5 1028 607.5 1027 608.5 1026 619.5 1026 620.5 1025 631.5 1025 632.5 1024 645.5 1024 646.5 1023 660.5 1023 661.5 1022 675.5 1022 676.5 1021 686 1021.5 685.5 1139 671.5 1139 670.5 1140 608.5 1140 607.5 1141 580.5 1141 579.5 1142 563.5 1142 562.5 1143 542.5 1144 541.5 1145 536.5 1145 535.5 1146 530.5 1146 529.5 1147 522.5 1148 518.5 1150 516.5 1150 513.5 1152 511.5 1152 501.5 1159 497 1164.5 496 1167.5 494 1169.5 494 1171.5 492 1174.5 492 1176.5 490 1180.5 489 1188.5 488 1189.5 488 1193.5 487 1194.5 487 1200.5 486 1201.5 486 1209.5 485 1210.5 484 1238.5 483 1239.5 483 1268.5 482 1269.5 482 1337.5 481 1338.5 480.5 1343ZM429 1060.5 433 1056.5 432 1054.5 432 1048.5 426.5 1043 419.5 1043 418.5 1042 414 1046.5 415 1055.5 419.5 1060 422.5 1060 423.5 1061 429 1060.5ZM413 1055.5 412 1055.5 413 1055.5ZM414 1075.5 418 1071.5 417 1070.5 417 1063.5 411.5 1058 403.5 1058 400 1061.5 400 1069.5 405.5 1075 414 1075.5ZM420 1063.5 419 1063.5 420 1063.5ZM398 1070.5 396 1070.5 398 1070.5ZM399 1090.5 403 1086.5 402 1077.5 397.5 1073 388.5 1072 384 1076.5 385 1078.5 385 1084.5 390.5 1090 395.5 1090 396.5 1091 399 1090.5ZM405 1077.5 404 1077.5 405 1077.5Z"/>
<path fill="#bfff00" fill-rule="evenodd" d="M474.5 1343 365 1342.5 365 1337.5 366 1336.5 366 1321.5 367 1320.5 367 1306.5 368 1305.5 368 1292.5 369 1291.5 369 1279.5 370 1278.5 370 1266.5 371 1265.5 371 1255.5 372 1254.5 372 1244.5 373 1243.5 373 1234.5 374 1233.5 375 1216.5 376 1215.5 376 1208.5 377 1207.5 377 1200.5 378 1199.5 378 1193.5 379 1192.5 379 1185.5 380 1184.5 380 1177.5 381 1176.5 382 1163.5 383 1162.5 385 1145.5 386 1144.5 386 1141.5 388 1136.5 388 1132.5 391 1124.5 392 1117.5 396 1107.5 397 1101.5 401 1094.5 400.5 1093 393.5 1093 392.5 1092 389.5 1092 383 1085.5 381.5 1074 373.5 1078 371.5 1078 367.5 1080 364.5 1080 357.5 1083 354.5 1083 350.5 1085 343.5 1086 342.5 1087 338.5 1087 337.5 1088 334.5 1088 329.5 1090 324.5 1090 323.5 1091 319.5 1091 318.5 1092 312.5 1092 311.5 1093 305.5 1093 304.5 1094 298.5 1094 297.5 1095 290.5 1095 289.5 1096 282.5 1096 281.5 1097 275.5 1097 274.5 1098 259.5 1099 258.5 1100 250.5 1100 249.5 1101 241.5 1101 240.5 1102 220.5 1103 219.5 1104 208.5 1104 207.5 1105 196.5 1105 195.5 1106 182.5 1106 181.5 1107 168.5 1107 167.5 1108 153.5 1108 152.5 1109 137.5 1109 136.5 1110 132 1109.5 132.5 1000 231.5 999 232.5 998 256.5 998 257.5 997 281.5 996 282.5 995 289.5 995 290.5 994 300.5 993 301.5 992 304.5 992 305.5 991 310.5 990 321.5 984 328 976.5 332 968.5 334 958.5 335 957.5 336 947.5 337 946.5 337 938.5 338 937.5 338 927.5 339 926.5 339 910.5 340 909.5 340 881.5 341 880.5 341 805.5 342 804.5 342.5 791 452 791.5 452 795.5 451 796.5 451 811.5 450 812.5 450 826.5 449 827.5 449 840.5 448 841.5 448 853.5 447 854.5 447 866.5 446 867.5 446 877.5 445 878.5 445 888.5 444 889.5 444 898.5 443 899.5 443 907.5 442 908.5 442 916.5 441 917.5 441 924.5 440 925.5 440 932.5 439 933.5 439 940.5 438 941.5 438 947.5 437 948.5 437 955.5 436 956.5 434 976.5 433 977.5 432 987.5 430 992.5 430 996.5 429 997.5 428 1004.5 427 1005.5 427 1008.5 425 1012.5 425 1015.5 422 1022.5 422 1025.5 421 1026.5 420 1031.5 416 1039.5 421.5 1040 422.5 1041 427.5 1041 434 1047.5 435.5 1059 441.5 1056 443.5 1056 453.5 1052 456.5 1052 463.5 1049 466.5 1049 467.5 1048 478.5 1046 479.5 1045 483.5 1045 488.5 1043 499.5 1042 500.5 1041 505.5 1041 506.5 1040 512.5 1040 513.5 1039 528.5 1038 529.5 1037 543.5 1036 544.5 1035 551.5 1035 552.5 1034 559.5 1034 560.5 1033 568.5 1033 569.5 1032 577.5 1032 578.5 1031 588.5 1031 589.5 1030 599.5 1030 600.5 1029 610.5 1029 611.5 1028 623.5 1028 624.5 1027 636.5 1027 637.5 1026 651.5 1026 652.5 1025 666.5 1025 667.5 1024 686 1023.5 685.5 1133 661.5 1133 660.5 1134 592.5 1134 591.5 1135 564.5 1135 563.5 1136 548.5 1136 547.5 1137 528.5 1138 527.5 1139 522.5 1139 521.5 1140 517.5 1140 516.5 1141 509.5 1142 498.5 1147 493 1151.5 488 1158.5 483 1171.5 483 1174.5 482 1175.5 481 1186.5 480 1187.5 480 1194.5 479 1195.5 479 1205.5 478 1206.5 478 1222.5 477 1223.5 477 1252.5 476 1253.5 476 1327.5 475 1328.5 474.5 1343ZM430 1060.5 433 1057.5 432 1048.5 426.5 1043 421.5 1043 420.5 1042 418.5 1042 414 1046.5 414 1052.5 415 1053.5 415 1055.5 421.5 1061 430 1060.5ZM413 1055.5 411 1055.5 413 1055.5ZM414 1075.5 418 1071.5 418 1069.5 417 1068.5 417 1063.5 411.5 1058 404.5 1058 403.5 1057 399 1061.5 399 1063.5 400 1064.5 400 1069.5 405.5 1075 410.5 1075 411.5 1076 414 1075.5ZM421 1063.5 419 1063.5 421 1063.5ZM398 1070.5 397.5 1069 396 1070.5 398 1070.5ZM399 1090.5 403 1086.5 403 1080.5 402 1079.5 402 1077.5 397.5 1073 395.5 1073 394.5 1072 388.5 1072 384 1076.5 385 1084.5 390.5 1090 394.5 1090 395.5 1091 399 1090.5ZM406 1077.5 404 1077.5 406 1077.5Z"/>
<path fill="#e5ff10" fill-rule="evenodd" d="M468.5 1343 368 1342.5 368 1327.5 369 1326.5 369 1311.5 370 1310.5 370 1296.5 371 1295.5 372 1269.5 373 1268.5 373 1257.5 374 1256.5 374 1246.5 375 1245.5 375 1235.5 376 1234.5 376 1225.5 377 1224.5 377 1216.5 378 1215.5 379 1199.5 380 1198.5 380 1189.5 381 1188.5 382 1172.5 383 1171.5 383 1165.5 384 1164.5 384 1158.5 385 1157.5 386 1146.5 387 1145.5 387 1141.5 388 1140.5 388 1136.5 389 1135.5 389 1131.5 390 1130.5 392 1119.5 394 1115.5 394 1112.5 395 1111.5 398 1100.5 402 1093.5 401.5 1092 400.5 1093 393.5 1093 392.5 1092 389.5 1092 383 1085.5 383 1082.5 382 1081.5 382.5 1073 372.5 1078 369.5 1078 368.5 1079 366.5 1079 362.5 1081 359.5 1081 355.5 1083 352.5 1083 347.5 1085 340.5 1086 339.5 1087 334.5 1087 333.5 1088 323.5 1089 322.5 1090 317.5 1090 316.5 1091 310.5 1091 309.5 1092 303.5 1092 302.5 1093 286.5 1094 285.5 1095 276.5 1095 275.5 1096 259.5 1097 258.5 1098 250.5 1098 249.5 1099 240.5 1099 239.5 1100 229.5 1100 228.5 1101 218.5 1101 217.5 1102 205.5 1102 204.5 1103 193.5 1103 192.5 1104 164.5 1105 163.5 1106 148.5 1106 147.5 1107 132 1106.5 132.5 1006 247.5 1005 248.5 1004 272.5 1004 273.5 1003 287.5 1003 288.5 1002 297.5 1002 298.5 1001 310.5 1000 311.5 999 314.5 999 315.5 998 323.5 996 328.5 993 335 986.5 339 978.5 341 968.5 342 967.5 343 954.5 344 953.5 344 943.5 345 942.5 345 927.5 346 926.5 346 897.5 347 896.5 347 813.5 348 812.5 348.5 791 449 791.5 449 806.5 448 807.5 448 822.5 447 823.5 447 836.5 446 837.5 445 863.5 444 864.5 444 875.5 443 876.5 442 897.5 441 898.5 441 907.5 440 908.5 439 925.5 438 926.5 438 933.5 437 934.5 437 943.5 436 944.5 435 960.5 434 961.5 434 967.5 433 968.5 433 974.5 432 975.5 431 986.5 430 987.5 430 991.5 429 992.5 429 997.5 427 1002.5 425 1013.5 423 1017.5 423 1020.5 421 1024.5 421 1026.5 420 1027.5 420 1030.5 418 1033.5 418 1035.5 415 1039.5 415.5 1041 416.5 1040 427.5 1041 434 1047.5 434 1050.5 435 1051.5 434.5 1060 442.5 1056 444.5 1056 448.5 1054 451.5 1054 458.5 1051 473.5 1048 478.5 1046 483.5 1046 484.5 1045 494.5 1044 495.5 1043 501.5 1043 502.5 1042 507.5 1042 508.5 1041 515.5 1041 516.5 1040 523.5 1040 524.5 1039 532.5 1039 533.5 1038 542.5 1038 543.5 1037 559.5 1036 560.5 1035 568.5 1035 569.5 1034 578.5 1034 579.5 1033 601.5 1032 602.5 1031 613.5 1031 614.5 1030 640.5 1029 641.5 1028 655.5 1028 656.5 1027 672.5 1027 673.5 1026 686 1026.5 685.5 1127 653.5 1127 652.5 1128 576.5 1128 575.5 1129 548.5 1129 547.5 1130 531.5 1130 530.5 1131 513.5 1132 512.5 1133 507.5 1133 502.5 1135 499.5 1135 488.5 1140 482 1146.5 478 1154.5 477 1160.5 476 1161.5 476 1165.5 475 1166.5 475 1170.5 474 1171.5 474 1178.5 473 1179.5 473 1189.5 472 1190.5 472 1206.5 471 1207.5 471 1235.5 470 1236.5 470 1319.5 469 1320.5 468.5 1343ZM429 1061.5 433 1057.5 433 1051.5 432 1050.5 432 1048.5 426.5 1043 417.5 1042 414 1045.5 414 1054.5 420.5 1061 429 1061.5ZM413 1055.5 411.5 1054 411 1054.5 411.5 1056 413 1055.5ZM414 1075.5 418 1071.5 417 1063.5 411.5 1058 406.5 1058 405.5 1057 403.5 1057 399 1061.5 400 1069.5 405.5 1075 408.5 1075 409.5 1076 414 1075.5ZM422 1063.5 419 1063.5 422 1063.5ZM398 1070.5 397.5 1069 396 1069.5 396.5 1071 398 1070.5ZM400 1090.5 403 1087.5 403 1078.5 395.5 1072 387.5 1072 384 1075.5 385 1085.5 389.5 1090 392.5 1090 393.5 1091 400 1090.5ZM406 1079.5 406 1077.5 404.5 1077 405 1079.5 406 1079.5Z"/>
<path fill="#fff800" fill-rule="evenodd" d="M462.5 1343 370 1342.5 371 1315.5 372 1314.5 372 1299.5 373 1298.5 373 1284.5 374 1283.5 374 1271.5 375 1270.5 375 1258.5 376 1257.5 377 1235.5 378 1234.5 378 1225.5 379 1224.5 380 1203.5 381 1202.5 381 1193.5 382 1192.5 382 1184.5 383 1183.5 384 1167.5 385 1166.5 385 1160.5 386 1159.5 386 1153.5 387 1152.5 387 1147.5 388 1146.5 388 1141.5 389 1140.5 389 1136.5 390 1135.5 390 1131.5 391 1130.5 391 1126.5 392 1125.5 394 1114.5 396 1110.5 396 1107.5 397 1106.5 398 1101.5 403 1092.5 402.5 1091 400.5 1093 393.5 1093 392.5 1092 389.5 1092 383 1085.5 383 1082.5 382 1081.5 382 1074.5 384 1072.5 383.5 1072 373.5 1077 371.5 1077 367.5 1079 364.5 1079 360.5 1081 357.5 1081 353.5 1083 349.5 1083 348.5 1084 334.5 1086 333.5 1087 328.5 1087 327.5 1088 322.5 1088 321.5 1089 308.5 1090 307.5 1091 291.5 1092 290.5 1093 282.5 1093 281.5 1094 272.5 1094 271.5 1095 250.5 1096 249.5 1097 239.5 1097 238.5 1098 228.5 1098 227.5 1099 204.5 1100 203.5 1101 176.5 1102 175.5 1103 160.5 1103 159.5 1104 143.5 1104 142.5 1105 132 1104.5 132.5 1012 265.5 1011 266.5 1010 291.5 1010 292.5 1009 306.5 1009 307.5 1008 315.5 1008 316.5 1007 326.5 1006 338.5 1001 342 997.5 346 990.5 347 984.5 348 983.5 348 979.5 349 978.5 350 962.5 351 961.5 351 946.5 352 945.5 352 915.5 353 914.5 353 815.5 354 814.5 354.5 791 447 791.5 447 800.5 446 801.5 446 818.5 445 819.5 445 833.5 444 834.5 444 848.5 443 849.5 443 861.5 442 862.5 442 874.5 441 875.5 441 886.5 440 887.5 440 897.5 439 898.5 439 907.5 438 908.5 437 929.5 436 930.5 436 939.5 435 940.5 435 948.5 434 949.5 433 965.5 432 966.5 431 979.5 430 980.5 430 985.5 429 986.5 429 991.5 428 992.5 428 996.5 427 997.5 425 1011.5 423 1015.5 423 1018.5 421 1022.5 421 1025.5 420 1026.5 419 1031.5 414 1040.5 414.5 1042 416.5 1040 427.5 1041 434 1047.5 434 1050.5 435 1051.5 435 1058.5 433 1060.5 433.5 1061 443.5 1056 449.5 1055 453.5 1053 456.5 1053 460.5 1051 468.5 1050 469.5 1049 473.5 1049 474.5 1048 478.5 1048 479.5 1047 483.5 1047 484.5 1046 489.5 1046 490.5 1045 495.5 1045 496.5 1044 502.5 1044 503.5 1043 510.5 1043 511.5 1042 526.5 1041 527.5 1040 536.5 1040 537.5 1039 547.5 1039 548.5 1038 568.5 1037 569.5 1036 579.5 1036 580.5 1035 590.5 1035 591.5 1034 602.5 1034 603.5 1033 615.5 1033 616.5 1032 628.5 1032 629.5 1031 643.5 1031 644.5 1030 659.5 1030 660.5 1029 677.5 1029 678.5 1028 686 1028.5 685.5 1121 651.5 1121 650.5 1122 559.5 1122 558.5 1123 529.5 1123 528.5 1124 513.5 1124 512.5 1125 503.5 1125 502.5 1126 496.5 1126 495.5 1127 487.5 1128 484.5 1130 480.5 1131 475 1135.5 472 1140.5 472 1142.5 469 1149.5 468 1160.5 467 1161.5 467 1170.5 466 1171.5 466 1187.5 465 1188.5 465 1217.5 464 1218.5 464 1318.5 463 1319.5 462.5 1343ZM429 1061.5 433 1057.5 433 1049.5 432 1047.5 427.5 1043 417.5 1042 413 1046.5 414 1048.5 414 1055.5 419.5 1061 425.5 1061 426.5 1062 429 1061.5ZM413 1055.5 411.5 1052 411 1055.5 413 1055.5ZM415 1075.5 418 1072.5 417 1062.5 412.5 1058 403.5 1057 399 1061.5 400 1070.5 404.5 1075 406.5 1075 407.5 1076 415 1075.5ZM424 1063.5 419 1063.5 424 1063.5ZM398 1070.5 397.5 1069 394 1069.5 396.5 1071 398 1070.5ZM400 1090.5 404 1086.5 403 1084.5 403 1078.5 396.5 1072 389.5 1072 388.5 1071 384 1075.5 384 1083.5 385 1085.5 391.5 1091 400 1090.5ZM406 1080.5 406 1077.5 404.5 1077 405 1080.5 406 1080.5Z"/>
<path fill="#ffe800" fill-rule="evenodd" d="M458.5 1343 372 1342.5 372 1336.5 373 1335.5 373 1318.5 374 1317.5 374 1301.5 375 1300.5 375 1286.5 376 1285.5 376 1272.5 377 1271.5 377 1258.5 378 1257.5 378 1246.5 379 1245.5 379 1234.5 380 1233.5 380 1221.5 381 1220.5 381 1208.5 382 1207.5 382 1197.5 383 1196.5 383 1187.5 384 1186.5 385 1169.5 386 1168.5 388 1148.5 389 1147.5 389 1142.5 390 1141.5 390 1136.5 391 1135.5 393 1121.5 394 1120.5 394 1117.5 395 1116.5 395 1113.5 397 1109.5 397 1106.5 398 1105.5 399 1100.5 404 1090.5 403.5 1090 400.5 1093 393.5 1093 392.5 1092 389.5 1092 385.5 1088 383 1085.5 383 1082.5 382 1081.5 382 1074.5 385 1071.5 384.5 1071 372.5 1077 369.5 1077 365.5 1079 358.5 1080 353.5 1082 349.5 1082 348.5 1083 344.5 1083 343.5 1084 339.5 1084 338.5 1085 333.5 1085 332.5 1086 327.5 1086 326.5 1087 321.5 1087 320.5 1088 306.5 1089 305.5 1090 297.5 1090 296.5 1091 288.5 1091 287.5 1092 278.5 1092 277.5 1093 267.5 1093 266.5 1094 254.5 1094 253.5 1095 241.5 1095 240.5 1096 217.5 1097 216.5 1098 203.5 1098 202.5 1099 189.5 1099 188.5 1100 174.5 1100 173.5 1101 157.5 1101 156.5 1102 138.5 1102 137.5 1103 132 1102.5 132.5 1016 230.5 1016 231.5 1015 287.5 1015 288.5 1014 311.5 1014 312.5 1013 324.5 1013 325.5 1012 331.5 1012 332.5 1011 339.5 1010 345.5 1007 349 1003.5 353 993.5 353 989.5 354 988.5 354 981.5 355 980.5 355 966.5 356 965.5 358.5 791 445 791.5 445 796.5 444 797.5 444 814.5 443 815.5 443 831.5 442 832.5 442 846.5 441 847.5 441 861.5 440 862.5 440 874.5 439 875.5 438 898.5 437 899.5 437 912.5 436 913.5 436 924.5 435 925.5 435 935.5 434 936.5 434 945.5 433 946.5 433 955.5 432 956.5 431 971.5 430 972.5 430 978.5 429 979.5 427 996.5 426 997.5 426 1001.5 425 1002.5 425 1006.5 424 1007.5 424 1011.5 423 1012.5 421 1023.5 420 1024.5 418 1032.5 413 1042.5 413.5 1043 416.5 1040 427.5 1041 434 1047.5 434 1050.5 435 1051.5 435 1058.5 432 1061.5 432.5 1062 436.5 1061 442.5 1057 448.5 1056 456.5 1053 459.5 1053 460.5 1052 463.5 1052 464.5 1051 468.5 1051 469.5 1050 473.5 1050 474.5 1049 478.5 1049 479.5 1048 484.5 1048 485.5 1047 490.5 1047 491.5 1046 497.5 1046 498.5 1045 504.5 1045 505.5 1044 512.5 1044 513.5 1043 520.5 1043 521.5 1042 530.5 1042 531.5 1041 540.5 1041 541.5 1040 551.5 1040 552.5 1039 564.5 1039 565.5 1038 590.5 1037 591.5 1036 602.5 1036 603.5 1035 615.5 1035 616.5 1034 630.5 1034 631.5 1033 646.5 1033 647.5 1032 663.5 1032 664.5 1031 686 1030.5 685.5 1117 611.5 1117 610.5 1118 536.5 1118 535.5 1119 509.5 1119 508.5 1120 494.5 1120 493.5 1121 481.5 1122 473.5 1125 469 1128.5 466 1133.5 465 1139.5 464 1140.5 463 1152.5 462 1153.5 462 1166.5 461 1167.5 461 1194.5 460 1195.5 460 1272.5 459 1273.5 458.5 1343ZM430 1061.5 434 1057.5 433 1056.5 433 1048.5 425.5 1042 417.5 1042 413 1046.5 413 1048.5 414 1049.5 414 1055.5 419.5 1061 424.5 1061 425.5 1062 430 1061.5ZM413 1055.5 412 1054.5 411.5 1050 411 1055.5 413 1055.5ZM415 1075.5 418 1072.5 418 1064.5 417 1062.5 412.5 1058 410.5 1058 409.5 1057 402.5 1057 399 1060.5 399 1068.5 400 1070.5 405.5 1076 415 1075.5ZM420 1064.5 426 1063.5 419.5 1063 419 1064.5 420 1064.5ZM398 1070.5 397.5 1069 393 1069.5 396.5 1071 398 1070.5ZM400 1090.5 404 1086.5 404 1084.5 403 1083.5 403 1077.5 397.5 1072 390.5 1072 388.5 1071 384 1075.5 384 1084.5 390.5 1091 400 1090.5ZM406 1082.5 406 1077.5 404.5 1077 405 1082.5 406 1082.5Z"/>
<path fill="#ffd500" fill-rule="evenodd" d="M455.5 1343 374 1342.5 374 1340.5 375 1339.5 375 1321.5 376 1320.5 377 1287.5 378 1286.5 378 1271.5 379 1270.5 379 1257.5 380 1256.5 380 1241.5 381 1240.5 381 1226.5 382 1225.5 382 1213.5 383 1212.5 383 1201.5 384 1200.5 384 1190.5 385 1189.5 386 1171.5 387 1170.5 387 1163.5 388 1162.5 390 1142.5 391 1141.5 391 1136.5 392 1135.5 392 1131.5 393 1130.5 393 1125.5 395 1120.5 395 1116.5 397 1112.5 397 1109.5 398 1108.5 398 1105.5 399 1104.5 400 1099.5 405 1089.5 404.5 1089 400.5 1093 393.5 1093 392.5 1092 389.5 1092 383 1085.5 383 1082.5 382 1081.5 382 1074.5 385 1071.5 384.5 1071 382.5 1071 373.5 1076 366.5 1077 365.5 1078 355.5 1080 354.5 1081 350.5 1081 349.5 1082 345.5 1082 344.5 1083 339.5 1083 338.5 1084 333.5 1084 332.5 1085 327.5 1085 326.5 1086 320.5 1086 319.5 1087 304.5 1088 303.5 1089 285.5 1090 284.5 1091 274.5 1091 273.5 1092 262.5 1092 261.5 1093 249.5 1093 248.5 1094 234.5 1094 233.5 1095 218.5 1095 217.5 1096 188.5 1097 187.5 1098 172.5 1098 171.5 1099 154.5 1099 153.5 1100 132 1100.5 132.5 1019 253.5 1019 254.5 1018 308.5 1018 309.5 1017 330.5 1017 331.5 1016 338.5 1016 339.5 1015 346.5 1014 350.5 1012 354 1008.5 356 1004.5 357 996.5 358 995.5 358 986.5 359 985.5 359 960.5 360 959.5 360 889.5 361 888.5 361.5 791 443 791.5 442 793.5 442 811.5 441 812.5 441 829.5 440 830.5 440 846.5 439 847.5 439 861.5 438 862.5 438 875.5 437 876.5 436 906.5 435 907.5 435 919.5 434 920.5 434 931.5 433 932.5 433 942.5 432 943.5 431 961.5 430 962.5 429 977.5 428 978.5 428 984.5 427 985.5 427 990.5 426 991.5 426 996.5 425 997.5 425 1001.5 424 1002.5 423 1012.5 422 1013.5 421 1020.5 419 1024.5 418 1031.5 412 1043.5 412.5 1044 416.5 1040 427.5 1041 434 1047.5 434 1050.5 435 1051.5 435 1058.5 431 1062.5 431.5 1063 432.5 1062 437.5 1061 444.5 1057 447.5 1057 451.5 1055 454.5 1055 455.5 1054 458.5 1054 463.5 1052 473.5 1051 474.5 1050 484.5 1049 485.5 1048 505.5 1046 506.5 1045 514.5 1045 515.5 1044 523.5 1044 524.5 1043 533.5 1043 534.5 1042 544.5 1042 545.5 1041 556.5 1041 557.5 1040 570.5 1040 571.5 1039 585.5 1039 586.5 1038 615.5 1037 616.5 1036 648.5 1035 649.5 1034 666.5 1034 667.5 1033 686 1033.5 685.5 1114 584.5 1114 583.5 1115 515.5 1115 514.5 1116 489.5 1116 488.5 1117 479.5 1117 478.5 1118 470.5 1119 466.5 1121 463 1124.5 461 1128.5 460 1136.5 459 1137.5 459 1146.5 458 1147.5 458 1173.5 457 1174.5 457 1244.5 456 1245.5 455.5 1343ZM430 1061.5 434 1057.5 433 1055.5 433 1048.5 426.5 1042 417.5 1042 413 1046.5 414 1055.5 419.5 1061 422.5 1061 423.5 1062 430 1061.5ZM413 1055.5 412 1054.5 411.5 1048 410 1055.5 413 1055.5ZM414 1076.5 418 1072.5 418 1063.5 410.5 1057 402.5 1057 399 1060.5 399 1069.5 405.5 1076 414 1076.5ZM421 1064.5 428 1063.5 419 1063.5 419.5 1065 421 1064.5ZM398 1070.5 397.5 1069 391 1069.5 395.5 1070 396.5 1071 398 1070.5ZM400 1091.5 404 1087.5 403 1077.5 397.5 1072 387.5 1071 383 1075.5 383 1077.5 384 1078.5 384 1084.5 390.5 1091 396.5 1091 397.5 1092 400 1091.5ZM406 1084.5 406 1079.5 407 1078.5 404.5 1077 405 1084.5 406 1084.5Z"/>
<path fill="#ffbe00" fill-rule="evenodd" d="M452.5 1343 377 1342.5 377 1323.5 378 1322.5 378 1304.5 379 1303.5 379 1286.5 380 1285.5 381 1247.5 382 1246.5 383 1217.5 384 1216.5 384 1205.5 385 1204.5 385 1193.5 386 1192.5 386 1183.5 387 1182.5 388 1164.5 389 1163.5 389 1156.5 390 1155.5 391 1142.5 392 1141.5 392 1136.5 393 1135.5 393 1130.5 394 1129.5 395 1120.5 396 1119.5 399 1104.5 404 1094.5 404 1091.5 405 1090.5 404.5 1089 400.5 1093 393.5 1093 392.5 1092 389 1091.5 395.5 1091 396.5 1092 399.5 1092 404 1087.5 403 1077.5 397.5 1072 387.5 1071 383 1075.5 383 1078.5 384 1079.5 383.5 1086 383 1082.5 382 1081.5 382 1074.5 386 1070.5 385.5 1070 381.5 1071 374.5 1075 367.5 1076 359.5 1079 350.5 1080 349.5 1081 345.5 1081 344.5 1082 339.5 1082 338.5 1083 333.5 1083 332.5 1084 326.5 1084 325.5 1085 319.5 1085 318.5 1086 311.5 1086 310.5 1087 302.5 1087 301.5 1088 293.5 1088 292.5 1089 270.5 1090 269.5 1091 258.5 1091 257.5 1092 244.5 1092 243.5 1093 228.5 1093 227.5 1094 210.5 1094 209.5 1095 189.5 1095 188.5 1096 152.5 1097 151.5 1098 132 1097.5 132.5 1022 280.5 1022 281.5 1021 339.5 1021 340.5 1020 348.5 1020 349.5 1019 355.5 1018 359 1014.5 361 1009.5 361 1006.5 362 1005.5 362 995.5 363 994.5 364.5 791 440 791.5 440 809.5 439 810.5 439 828.5 438 829.5 438 846.5 437 847.5 436 885.5 435 886.5 434 915.5 433 916.5 433 927.5 432 928.5 432 939.5 431 940.5 431 950.5 430 951.5 429 968.5 428 969.5 428 976.5 427 977.5 426 990.5 425 991.5 425 996.5 424 997.5 424 1002.5 423 1003.5 421 1017.5 418 1025.5 417 1032.5 412 1042.5 412.5 1044 416.5 1040 427.5 1041 434 1047.5 434 1050.5 435 1051.5 435 1058.5 431 1062.5 431.5 1063 436.5 1062 443.5 1058 453.5 1056 454.5 1055 457.5 1055 458.5 1054 462.5 1054 463.5 1053 467.5 1053 468.5 1052 472.5 1052 473.5 1051 478.5 1051 479.5 1050 491.5 1049 492.5 1048 499.5 1048 500.5 1047 507.5 1047 508.5 1046 516.5 1046 517.5 1045 525.5 1045 526.5 1044 548.5 1043 549.5 1042 561.5 1042 562.5 1041 575.5 1041 576.5 1040 610.5 1039 611.5 1038 631.5 1038 632.5 1037 649.5 1037 650.5 1036 668.5 1036 669.5 1035 686 1035.5 685.5 1111 557.5 1111 556.5 1112 480.5 1112 479.5 1113 469.5 1113 468.5 1114 465.5 1114 460.5 1116 458 1118.5 456 1123.5 456 1126.5 455 1127.5 455 1137.5 454 1138.5 452.5 1343ZM430 1061.5 434 1057.5 433 1048.5 426.5 1042 420.5 1042 419.5 1041 417.5 1041 413 1045.5 414 1055.5 419.5 1061 421.5 1061 422.5 1062 430 1061.5ZM413 1055.5 412 1054.5 411.5 1046 410 1055.5 413 1055.5ZM414 1076.5 419 1071.5 418 1070.5 418 1063.5 411.5 1057 402.5 1057 398 1061.5 399 1063.5 399 1069.5 405.5 1076 414 1076.5ZM423 1064.5 428 1063.5 419 1063.5 419.5 1065 423 1064.5ZM398 1070.5 396.5 1068 394.5 1069 388 1069.5 395.5 1070 396.5 1071 398 1070.5ZM406 1086.5 406 1081.5 407 1080.5 407 1078.5 404.5 1077 405 1086.5 406 1086.5ZM384.5 1087 384.5 1086 384.5 1087ZM385.5 1088 385.5 1087 385.5 1088ZM386.5 1089 386.5 1088 386.5 1089ZM387.5 1090 387.5 1089 387.5 1090ZM388.5 1091 388.5 1090 388.5 1091Z"/>
<path fill="#ffa500" fill-rule="evenodd" d="M449.5 1343 379 1342.5 380 1297.5 381 1296.5 381 1274.5 382 1273.5 382 1254.5 383 1253.5 384 1222.5 385 1221.5 385 1208.5 386 1207.5 386 1196.5 387 1195.5 387 1185.5 388 1184.5 389 1165.5 390 1164.5 390 1157.5 391 1156.5 391 1150.5 392 1149.5 392 1142.5 393 1141.5 393 1136.5 394 1135.5 394 1130.5 395 1129.5 396 1119.5 397 1118.5 400 1103.5 404 1095.5 405 1089.5 406 1088.5 405.5 1088 400.5 1093 393.5 1093 392.5 1092 389.5 1092 389.5 1091 399.5 1092 404 1087.5 404 1079.5 397.5 1072 395.5 1072 394.5 1071 387.5 1071 383 1075.5 383 1080.5 384 1081.5 383.5 1086 383 1082.5 382 1081.5 382 1074.5 386.5 1070 395.5 1070 397.5 1071 398 1069.5 396.5 1068 382.5 1070 372.5 1075 369.5 1075 368.5 1076 361.5 1077 360.5 1078 356.5 1078 355.5 1079 351.5 1079 350.5 1080 346.5 1080 345.5 1081 339.5 1081 338.5 1082 333.5 1082 332.5 1083 318.5 1084 317.5 1085 310.5 1085 309.5 1086 301.5 1086 300.5 1087 290.5 1087 289.5 1088 279.5 1088 278.5 1089 267.5 1089 266.5 1090 254.5 1090 253.5 1091 221.5 1092 220.5 1093 178.5 1094 177.5 1095 151.5 1095 150.5 1096 132 1095.5 132.5 1025 354.5 1025 355.5 1024 360.5 1024 364 1022.5 366 1017.5 366 1011.5 367 1010.5 367.5 791 438 791.5 437 835.5 436 836.5 436 858.5 435 859.5 435 878.5 434 879.5 433 910.5 432 911.5 432 924.5 431 925.5 431 936.5 430 937.5 430 947.5 429 948.5 428 967.5 427 968.5 426 983.5 425 984.5 425 990.5 424 991.5 424 996.5 423 997.5 423 1002.5 422 1003.5 421 1013.5 419 1018.5 418 1026.5 417 1027.5 416 1032.5 413 1037.5 412 1043.5 411 1044.5 411.5 1045 416.5 1040 421.5 1040 422.5 1041 428 1041.5 421.5 1042 420.5 1041 417.5 1041 413 1045.5 413 1053.5 420.5 1062 429.5 1062 434 1057.5 434 1053.5 433 1052.5 433.5 1047 434 1050.5 435 1051.5 435 1058.5 430 1063.5 430.5 1064 437.5 1062 442.5 1059 452.5 1057 453.5 1056 456.5 1056 457.5 1055 466.5 1054 467.5 1053 472.5 1053 473.5 1052 478.5 1052 479.5 1051 499.5 1049 500.5 1048 517.5 1047 518.5 1046 528.5 1046 529.5 1045 539.5 1045 540.5 1044 551.5 1044 552.5 1043 565.5 1043 566.5 1042 581.5 1042 582.5 1041 599.5 1041 600.5 1040 643.5 1039 644.5 1038 669.5 1038 670.5 1037 686 1037.5 685.5 1108 464.5 1108 463.5 1109 457.5 1109 456.5 1110 454.5 1110 452 1112.5 452 1114.5 451 1115.5 451 1121.5 450 1122.5 449.5 1343ZM428.5 1043 428.5 1042 428.5 1043ZM429.5 1044 429.5 1043 429.5 1044ZM430.5 1045 430.5 1044 430.5 1045ZM431.5 1046 431.5 1045 431.5 1046ZM399 1056.5 392.5 1047 390.5 1046 388 1046.5 389 1050.5 391.5 1053 394.5 1054 397.5 1057 399 1056.5ZM413 1055.5 412 1054.5 411.5 1046 411 1049.5 410 1050.5 410 1055.5 413 1055.5ZM432.5 1047 432.5 1046 432.5 1047ZM415 1076.5 419 1072.5 418 1063.5 411.5 1057 405.5 1057 403.5 1056 398 1061.5 398 1063.5 399 1064.5 399 1070.5 404.5 1076 409.5 1076 410.5 1077 415 1076.5ZM426 1064.5 428 1063.5 419 1063.5 419.5 1065 426 1064.5ZM430 1087.5 428 1082.5 426.5 1081 420.5 1077 418 1076.5 424.5 1086 429.5 1088 430 1087.5ZM406 1086.5 407 1078.5 404.5 1077 405 1086.5 406 1086.5ZM384.5 1087 384.5 1086 384.5 1087ZM385.5 1088 385.5 1087 385.5 1088ZM386.5 1089 386.5 1088 386.5 1089ZM387.5 1090 387.5 1089 387.5 1090ZM388.5 1091 388.5 1090 388.5 1091Z"/>
<path fill="#ff8a00" fill-rule="evenodd" d="M446.5 1343 380 1342.5 380 1339.5 381 1338.5 381 1309.5 382 1308.5 382 1284.5 383 1283.5 384 1243.5 385 1242.5 385 1226.5 386 1225.5 386 1212.5 387 1211.5 387 1198.5 388 1197.5 388 1187.5 389 1186.5 390 1166.5 391 1165.5 391 1158.5 392 1157.5 393 1142.5 394 1141.5 394 1135.5 395 1134.5 395 1129.5 396 1128.5 397 1118.5 399 1113.5 399 1109.5 400 1108.5 401 1101.5 405 1094.5 406 1088.5 405.5 1088 400.5 1093 393 1092.5 399.5 1092 404 1087.5 404.5 1078 405 1086.5 405.5 1087 407 1085.5 407 1078.5 405.5 1077 403.5 1078 397.5 1072 396.5 1072 396.5 1071 398 1070.5 396.5 1068 384.5 1069 383.5 1070 378.5 1071 373.5 1074 370.5 1074 365.5 1076 362.5 1076 361.5 1077 357.5 1077 356.5 1078 352.5 1078 351.5 1079 340.5 1080 339.5 1081 333.5 1081 332.5 1082 326.5 1082 325.5 1083 318.5 1083 317.5 1084 309.5 1084 308.5 1085 299.5 1085 298.5 1086 289.5 1086 288.5 1087 277.5 1087 276.5 1088 264.5 1088 263.5 1089 233.5 1090 232.5 1091 192.5 1092 191.5 1093 166.5 1093 165.5 1094 132 1094.5 132.5 1028 319.5 1028 320.5 1029 344.5 1029 345.5 1030 372 1029.5 371 985.5 370 984.5 370.5 791 437 791.5 437 793.5 436 794.5 436 823.5 435 824.5 435 849.5 434 850.5 433 889.5 432 890.5 432 906.5 431 907.5 431 921.5 430 922.5 430 934.5 429 935.5 429 945.5 428 946.5 427 966.5 426 967.5 425 983.5 424 984.5 424 990.5 423 991.5 423 997.5 422 998.5 422 1003.5 421 1004.5 421 1009.5 420 1010.5 419 1019.5 418 1020.5 416 1031.5 413 1036.5 411 1044.5 411.5 1045 416.5 1040 422 1040.5 417.5 1041 413 1045.5 412.5 1055 411.5 1046 410 1048.5 410.5 1056 412.5 1056 413.5 1055 419.5 1062 428 1062.5 419.5 1063 419.5 1065 428.5 1065 428.5 1063 432.5 1064 433.5 1063 436.5 1063 444.5 1059 451.5 1058 456.5 1056 460.5 1056 461.5 1055 465.5 1055 466.5 1054 471.5 1054 472.5 1053 477.5 1053 478.5 1052 484.5 1052 485.5 1051 492.5 1051 493.5 1050 500.5 1050 501.5 1049 519.5 1048 520.5 1047 542.5 1046 543.5 1045 555.5 1045 556.5 1044 570.5 1044 571.5 1043 587.5 1043 588.5 1042 629.5 1041 630.5 1040 655.5 1040 656.5 1039 686 1039.5 685.5 1105 490.5 1105 489.5 1104 467.5 1104 466.5 1103 445 1103.5 446 1147.5 447 1148.5 446.5 1343ZM397 1059.5 401 1055.5 401 1053.5 398 1047.5 394.5 1044 389.5 1041 383.5 1041 382 1042.5 382 1046.5 387 1054.5 388.5 1056 392.5 1057 396.5 1060 397 1059.5ZM427.5 1042 422 1041.5 427.5 1041 427.5 1042ZM428.5 1043 428.5 1042 428.5 1043ZM429.5 1044 429.5 1043 429.5 1044ZM430.5 1045 430.5 1044 430.5 1045ZM431.5 1046 431.5 1045 431.5 1046ZM432.5 1047 432.5 1046 432.5 1047ZM433.5 1051 433.5 1047 433.5 1051ZM434.5 1059 434.5 1051 434.5 1059ZM415 1076.5 419 1072.5 418 1062.5 412.5 1057 402.5 1056 398 1060.5 399 1070.5 404.5 1076 408.5 1076 409.5 1077 415 1076.5ZM433.5 1060 433.5 1059 433.5 1060ZM432.5 1061 432.5 1060 432.5 1061ZM431.5 1062 431.5 1061 431.5 1062ZM430.5 1063 430.5 1062 430.5 1063ZM382.5 1082 382 1074.5 386.5 1070 396 1070.5 387.5 1071 383 1075.5 382.5 1082ZM433 1092.5 435 1090.5 435 1086.5 432 1081.5 427.5 1077 421.5 1074 419.5 1074 416 1077.5 416 1079.5 419 1084.5 419 1086.5 428.5 1093 433 1092.5ZM383.5 1086 383.5 1082 383.5 1086ZM384.5 1087 384.5 1086 384.5 1087ZM385.5 1088 385.5 1087 385.5 1088ZM386.5 1089 386.5 1088 386.5 1089ZM387.5 1090 387.5 1089 387.5 1090ZM388.5 1091 388.5 1090 388.5 1091ZM392.5 1092 389 1091.5 392.5 1091 392.5 1092Z"/>
<path fill="#ff6c00" fill-rule="evenodd" d="M443.5 1343 382 1342.5 382 1322.5 383 1321.5 383 1294.5 384 1293.5 385 1249.5 386 1248.5 386 1231.5 387 1230.5 387 1215.5 388 1214.5 388 1201.5 389 1200.5 390 1177.5 391 1176.5 391 1167.5 392 1166.5 392 1158.5 393 1157.5 393 1150.5 394 1149.5 394 1142.5 395 1141.5 397 1121.5 399 1116.5 399 1112.5 400 1111.5 400 1108.5 402 1103.5 402 1100.5 406 1092.5 406 1089.5 407 1088.5 407 1079.5 408 1078.5 405.5 1077 403.5 1077 398 1071.5 398 1069.5 396.5 1068 387.5 1068 382.5 1070 379.5 1070 371.5 1074 367.5 1074 366.5 1075 363.5 1075 358.5 1077 354.5 1077 353.5 1078 347.5 1078 346.5 1079 341.5 1079 340.5 1080 326.5 1081 325.5 1082 309.5 1083 308.5 1084 298.5 1084 297.5 1085 287.5 1085 286.5 1086 275.5 1086 274.5 1087 261.5 1087 260.5 1088 245.5 1088 244.5 1089 227.5 1089 226.5 1090 182.5 1091 181.5 1092 153.5 1092 152.5 1093 132 1092.5 132.5 1031 302.5 1031 303.5 1032 330.5 1032 331.5 1033 344.5 1033 345.5 1034 355.5 1034 356.5 1035 360.5 1035 361.5 1036 365.5 1036 366.5 1037 376.5 1039 378 1040.5 381 1051.5 385.5 1057 389.5 1060 396.5 1062 397 1059.5 401.5 1055 404 1054.5 401 1045.5 399.5 1045 393.5 1039 381 1035.5 379 1025.5 378 1024.5 377 1015.5 376 1014.5 375 992.5 374 991.5 374 970.5 373 969.5 373.5 791 435 791.5 434 838.5 433 839.5 433 863.5 432 864.5 431 902.5 430 903.5 430 917.5 429 918.5 429 931.5 428 932.5 427 955.5 426 956.5 426 965.5 425 966.5 425 974.5 424 975.5 424 983.5 423 984.5 423 990.5 422 991.5 420 1011.5 418 1016.5 418 1020.5 417 1021.5 415 1032.5 411 1040.5 411 1044.5 410 1045.5 410 1053.5 409 1054.5 409.5 1056 413.5 1056 419.5 1062 427 1062.5 419.5 1063 419 1064.5 420.5 1066 422.5 1066 423.5 1065 430.5 1065 431.5 1064 437.5 1063 442.5 1060 450.5 1059 451.5 1058 454.5 1058 459.5 1056 463.5 1056 464.5 1055 470.5 1055 471.5 1054 477.5 1054 478.5 1053 484.5 1053 485.5 1052 492.5 1052 493.5 1051 500.5 1051 501.5 1050 509.5 1050 510.5 1049 520.5 1049 521.5 1048 531.5 1048 532.5 1047 544.5 1047 545.5 1046 558.5 1046 559.5 1045 593.5 1044 594.5 1043 640.5 1042 641.5 1041 669.5 1041 670.5 1040 686 1040.5 685.5 1102 505.5 1102 504.5 1101 483.5 1101 482.5 1100 470.5 1100 469.5 1099 460.5 1099 459.5 1098 455.5 1098 454.5 1097 450.5 1097 449.5 1096 439.5 1094 436 1081.5 430 1074.5 427.5 1073 420.5 1071 420 1073.5 415.5 1078 413 1078.5 415 1085.5 418.5 1090 419.5 1090 423.5 1094 436 1097.5 438 1107.5 439 1108.5 440 1117.5 441 1118.5 442 1140.5 443 1141.5 443 1162.5 444 1163.5 443.5 1343ZM421.5 1041 416 1040.5 421.5 1040 421.5 1041ZM415.5 1042 415.5 1041 415.5 1042ZM427.5 1042 424 1041.5 427.5 1041 427.5 1042ZM414.5 1043 414.5 1042 414.5 1043ZM428.5 1043 428.5 1042 428.5 1043ZM413.5 1044 413.5 1043 413.5 1044ZM429.5 1044 429.5 1043 429.5 1044ZM412.5 1045 412.5 1044 412.5 1045ZM430.5 1045 430.5 1044 430.5 1045ZM411.5 1046 411.5 1045 411.5 1046ZM431.5 1046 431.5 1045 431.5 1046ZM432.5 1047 432.5 1046 432.5 1047ZM412.5 1055 412.5 1047 412.5 1055ZM433.5 1050 433.5 1047 433.5 1050ZM434.5 1059 434.5 1051 434.5 1059ZM415 1076.5 419 1072.5 418 1062.5 412.5 1057 402.5 1056 398 1060.5 399 1070.5 404.5 1076 407.5 1076 408.5 1077 415 1076.5ZM433.5 1060 433.5 1059 433.5 1060ZM432.5 1061 432.5 1060 432.5 1061ZM431.5 1062 431.5 1061 431.5 1062ZM430.5 1063 430.5 1062 430.5 1063ZM429.5 1064 428 1063.5 429.5 1063 429.5 1064ZM386.5 1071 386.5 1070 386.5 1071ZM395.5 1071 388 1070.5 395.5 1070 395.5 1071ZM385.5 1072 385.5 1071 385.5 1072ZM384.5 1073 384.5 1072 384.5 1073ZM383.5 1074 383.5 1073 383.5 1074ZM382.5 1082 382.5 1074 382.5 1082ZM404.5 1086 404.5 1078 404.5 1086ZM383.5 1086 383.5 1084 383.5 1086ZM384.5 1087 384.5 1086 384.5 1087ZM385.5 1088 385.5 1087 385.5 1088ZM405.5 1088 405.5 1087 405.5 1088ZM386.5 1089 386.5 1088 386.5 1089ZM404.5 1089 404.5 1088 404.5 1089ZM387.5 1090 387.5 1089 387.5 1090ZM403.5 1090 403.5 1089 403.5 1090ZM388.5 1091 388.5 1090 388.5 1091ZM402.5 1091 402.5 1090 402.5 1091ZM390.5 1092 389 1091.5 390.5 1091 390.5 1092ZM401.5 1092 401.5 1091 401.5 1092ZM400.5 1093 393 1092.5 400.5 1092 400.5 1093Z"/>
<path fill="#ff3c00" fill-rule="evenodd" d="M170.5 1091 132 1090.5 132.5 1035 209.5 1035 210.5 1034 278.5 1034 279.5 1035 322.5 1035 323.5 1036 336.5 1036 337.5 1037 354.5 1038 355.5 1039 359.5 1039 360.5 1040 363.5 1040 364.5 1041 372.5 1043 377 1046.5 378 1050.5 382 1057.5 388.5 1063 396.5 1064 397 1059.5 401.5 1055 406 1054.5 405 1046.5 397.5 1039 386 1033.5 386 1031.5 384 1028.5 383 1023.5 382 1022.5 381 1014.5 380 1013.5 380 1007.5 379 1006.5 378 984.5 377 983.5 377 956.5 376 955.5 376 791.5 432.5 791 433 827.5 432 828.5 432 854.5 431 855.5 430 897.5 429 898.5 429 914.5 428 915.5 428 929.5 427 930.5 426 954.5 425 955.5 425 965.5 424 966.5 424 975.5 423 976.5 423 983.5 422 984.5 422 991.5 421 992.5 421 999.5 420 1000.5 420 1006.5 419 1007.5 419 1012.5 418 1013.5 418 1017.5 416 1022.5 415 1030.5 412 1036.5 412 1038.5 410 1042.5 410 1045.5 409 1046.5 409 1055.5 402.5 1056 398 1060.5 398 1067.5 399 1068.5 399 1070.5 406 1076.5 403.5 1077 398 1071.5 398 1069.5 396.5 1067 390.5 1067 389.5 1068 384.5 1068 372.5 1073 364.5 1074 359.5 1076 349.5 1077 348.5 1078 342.5 1078 341.5 1079 334.5 1079 333.5 1080 326.5 1080 325.5 1081 318.5 1081 317.5 1082 308.5 1082 307.5 1083 298.5 1083 297.5 1084 286.5 1084 285.5 1085 272.5 1085 271.5 1086 257.5 1086 256.5 1087 220.5 1088 219.5 1089 198.5 1089 197.5 1090 171.5 1090 170.5 1091ZM421.5 1041 416 1040.5 421.5 1040 421.5 1041ZM415.5 1042 415.5 1041 415.5 1042ZM427.5 1042 425 1041.5 427.5 1041 427.5 1042ZM414.5 1043 414.5 1042 414.5 1043ZM428.5 1043 428.5 1042 428.5 1043ZM440.5 1343 384 1342.5 385 1278.5 386 1277.5 386 1255.5 387 1254.5 387 1235.5 388 1234.5 388 1218.5 389 1217.5 390 1190.5 391 1189.5 392 1167.5 393 1166.5 393 1158.5 394 1157.5 394 1149.5 395 1148.5 395 1141.5 396 1140.5 396 1133.5 397 1132.5 398 1120.5 399 1119.5 399 1115.5 401 1110.5 402 1102.5 406 1094.5 406 1091.5 408 1086.5 408 1078.5 406 1077.5 414.5 1077 419 1072.5 419.5 1065 420.5 1066 429.5 1066 433.5 1064 436.5 1064 444.5 1060 448.5 1060 453.5 1058 457.5 1058 458.5 1057 462.5 1057 463.5 1056 468.5 1056 469.5 1055 483.5 1054 484.5 1053 500.5 1052 501.5 1051 510.5 1051 511.5 1050 521.5 1050 522.5 1049 533.5 1049 534.5 1048 546.5 1048 547.5 1047 579.5 1046 580.5 1045 623.5 1044 624.5 1043 651.5 1043 652.5 1042 685.5 1042 685.5 1099 518.5 1099 517.5 1098 491.5 1098 490.5 1097 477.5 1097 476.5 1096 468.5 1096 467.5 1095 456.5 1094 455.5 1093 449.5 1092 443.5 1089 441.5 1089 437 1080.5 437 1078.5 427.5 1070 420.5 1069 420 1073.5 415.5 1078 411 1078.5 412 1086.5 420.5 1095 424.5 1096 431 1099.5 431 1101.5 433 1104.5 434 1110.5 436 1114.5 437 1125.5 438 1126.5 439 1148.5 440 1149.5 440 1176.5 441 1177.5 440.5 1343ZM413.5 1044 413.5 1043 413.5 1044ZM429.5 1044 429.5 1043 429.5 1044ZM412.5 1045 412.5 1044 412.5 1045ZM430.5 1045 430.5 1044 430.5 1045ZM411.5 1046 411.5 1045 411.5 1046ZM431.5 1046 431.5 1045 431.5 1046ZM432.5 1047 432.5 1046 432.5 1047ZM433.5 1048 433.5 1047 433.5 1048ZM412.5 1055 412.5 1049 412.5 1055ZM434.5 1059 434.5 1051 434.5 1059ZM418.5 1065 418 1062.5 412.5 1057 409 1056.5 413.5 1056 419.5 1062 425 1062.5 419.5 1063 418.5 1065ZM433.5 1060 433.5 1059 433.5 1060ZM432.5 1061 432.5 1060 432.5 1061ZM431.5 1062 431.5 1061 431.5 1062ZM430.5 1063 430.5 1062 430.5 1063ZM429.5 1064 428 1063.5 429.5 1063 429.5 1064ZM386.5 1071 386.5 1070 386.5 1071ZM395.5 1071 390 1070.5 395.5 1070 395.5 1071ZM385.5 1072 385.5 1071 385.5 1072ZM384.5 1073 384.5 1072 384.5 1073ZM383.5 1074 383.5 1073 383.5 1074ZM382.5 1075 382.5 1074 382.5 1075ZM382.5 1082 382.5 1076 382.5 1082ZM404.5 1084 404.5 1078 404.5 1084ZM383.5 1086 383.5 1085 383.5 1086ZM384.5 1087 384.5 1086 384.5 1087ZM385.5 1088 385.5 1087 385.5 1088ZM405.5 1088 405.5 1087 405.5 1088ZM386.5 1089 386.5 1088 386.5 1089ZM404.5 1089 404.5 1088 404.5 1089ZM387.5 1090 387.5 1089 387.5 1090ZM403.5 1090 403.5 1089 403.5 1090ZM388.5 1091 388.5 1090 388.5 1091ZM402.5 1091 402.5 1090 402.5 1091ZM389.5 1092 389.5 1091 389.5 1092ZM401.5 1092 401.5 1091 401.5 1092ZM398.5 1093 393 1092.5 398.5 1092 398.5 1093ZM400.5 1093 400.5 1092 400.5 1093Z"/>
<path fill="#ff0000" fill-rule="evenodd" d="M142.5 1090 132 1089.5 132.5 1038 316.5 1038 317.5 1039 342.5 1040 343.5 1041 356.5 1042 357.5 1043 360.5 1043 361.5 1044 369.5 1046 372.5 1048 374.5 1048 380 1058.5 386.5 1065 388.5 1065 389.5 1066 396.5 1066 397 1059.5 401.5 1055 408 1054.5 408 1049.5 407 1048.5 406 1043.5 400.5 1038 391.5 1034 390 1032.5 386 1022.5 385 1016.5 384 1015.5 383 1003.5 382 1002.5 381 979.5 380 978.5 380 939.5 379 938.5 379 791.5 431.5 791 431 845.5 430 846.5 429 892.5 428 893.5 427 927.5 426 928.5 426 941.5 425 942.5 425 954.5 424 955.5 424 965.5 423 966.5 423 975.5 422 976.5 421 993.5 420 994.5 419 1008.5 418 1009.5 418 1014.5 417 1015.5 417 1019.5 415 1024.5 415 1028.5 409 1043.5 409 1055.5 402.5 1056 398 1060.5 398 1068.5 397 1068.5 396.5 1067 385.5 1067 374.5 1072 366.5 1073 365.5 1074 357.5 1075 356.5 1076 352.5 1076 351.5 1077 344.5 1077 343.5 1078 336.5 1078 335.5 1079 327.5 1079 326.5 1080 318.5 1080 317.5 1081 309.5 1081 308.5 1082 297.5 1082 296.5 1083 285.5 1083 284.5 1084 270.5 1084 269.5 1085 254.5 1085 253.5 1086 236.5 1086 235.5 1087 189.5 1088 188.5 1089 143.5 1089 142.5 1090ZM421.5 1041 416 1040.5 421.5 1040 421.5 1041ZM415.5 1042 415.5 1041 415.5 1042ZM427.5 1042 427.5 1041 427.5 1042ZM414.5 1043 414.5 1042 414.5 1043ZM428.5 1043 428.5 1042 428.5 1043ZM413.5 1044 413.5 1043 413.5 1044ZM429.5 1044 429.5 1043 429.5 1044ZM412.5 1045 412.5 1044 412.5 1045ZM430.5 1045 430.5 1044 430.5 1045ZM685.5 1096 533.5 1096 532.5 1095 496.5 1095 495.5 1094 472.5 1093 471.5 1092 459.5 1091 458.5 1090 452.5 1089 442.5 1085 437 1074.5 429.5 1068 420.5 1067 419.5 1074 419 1065.5 431.5 1066 432.5 1065 435.5 1065 443.5 1061 451.5 1060 452.5 1059 460.5 1058 461.5 1057 473.5 1056 474.5 1055 482.5 1055 483.5 1054 490.5 1054 491.5 1053 500.5 1053 501.5 1052 521.5 1051 522.5 1050 549.5 1049 550.5 1048 565.5 1048 566.5 1047 584.5 1047 585.5 1046 634.5 1045 635.5 1044 685.5 1044 685.5 1096ZM411.5 1046 411.5 1045 411.5 1046ZM431.5 1046 431.5 1045 431.5 1046ZM432.5 1047 432.5 1046 432.5 1047ZM433.5 1048 433.5 1047 433.5 1048ZM412.5 1055 412.5 1050 412.5 1055ZM434.5 1056 434.5 1051 434.5 1056ZM418.5 1064 412.5 1057 410 1056.5 413.5 1056 419.5 1062 424 1062.5 419.5 1063 418.5 1064ZM434.5 1059 434.5 1058 434.5 1059ZM433.5 1060 433.5 1059 433.5 1060ZM432.5 1061 432.5 1060 432.5 1061ZM431.5 1062 431.5 1061 431.5 1062ZM430.5 1063 430.5 1062 430.5 1063ZM429.5 1064 428 1063.5 429.5 1063 429.5 1064ZM404.5 1077 403.5 1077 398 1071.5 398.5 1069 399 1070.5 405 1076.5 404.5 1077ZM386.5 1071 386.5 1070 386.5 1071ZM395.5 1071 391 1070.5 395.5 1070 395.5 1071ZM385.5 1072 385.5 1071 385.5 1072ZM384.5 1073 384.5 1072 384.5 1073ZM383.5 1074 383.5 1073 383.5 1074ZM382.5 1075 382.5 1074 382.5 1075ZM418.5 1075 418.5 1074 418.5 1075ZM417.5 1076 417.5 1075 417.5 1076ZM416.5 1077 416.5 1076 416.5 1077ZM382.5 1082 382.5 1077 382.5 1082ZM437.5 1343 385 1342.5 385 1334.5 386 1333.5 386 1287.5 387 1286.5 387 1262.5 388 1261.5 388 1240.5 389 1239.5 389 1221.5 390 1220.5 390 1205.5 391 1204.5 392 1178.5 393 1177.5 394 1157.5 395 1156.5 395 1148.5 396 1147.5 396 1139.5 397 1138.5 397 1131.5 398 1130.5 399 1118.5 400 1117.5 401 1109.5 403 1104.5 403 1100.5 407 1093.5 407 1090.5 408 1089.5 408 1078.5 406.5 1078 406.5 1077 416 1077.5 409 1078.5 410 1088.5 416.5 1095 427 1100.5 431 1110.5 432 1117.5 434 1122.5 434 1129.5 435 1130.5 436 1153.5 437 1154.5 437 1193.5 438 1194.5 437.5 1343ZM404.5 1083 404.5 1078 404.5 1083ZM405.5 1088 405.5 1087 405.5 1088ZM404.5 1089 404.5 1088 404.5 1089ZM403.5 1090 403.5 1089 403.5 1090ZM402.5 1091 402.5 1090 402.5 1091ZM401.5 1092 401.5 1091 401.5 1092ZM397.5 1093 393 1092.5 397.5 1092 397.5 1093ZM400.5 1093 400.5 1092 400.5 1093Z"/>
<path fill="#e80000" fill-rule="evenodd" d="M408.5 1032 401 1017.5 401 1015.5 399 1011.5 398 996.5 397 995.5 397 984.5 396 983.5 396 967.5 395 966.5 395.5 791 420 791.5 419 914.5 418 915.5 418 950.5 417 951.5 417 972.5 416 973.5 416 986.5 415 987.5 414 1008.5 413 1009.5 413 1014.5 412 1015.5 412 1018.5 411 1019.5 408.5 1032ZM191.5 1078 132.5 1078 132 1053.5 303.5 1053 304.5 1054 323.5 1054 324.5 1055 335.5 1055 336.5 1056 352.5 1057 356.5 1059 361.5 1060 374 1066.5 361.5 1069 360.5 1070 357.5 1070 356.5 1071 351.5 1071 350.5 1072 330.5 1073 329.5 1074 316.5 1074 315.5 1075 260.5 1076 259.5 1077 192.5 1077 191.5 1078ZM685.5 1080 507.5 1080 506.5 1079 490.5 1079 489.5 1078 479.5 1078 478.5 1077 463.5 1076 462.5 1075 457.5 1074 444 1066.5 456.5 1064 457.5 1063 460.5 1063 461.5 1062 467.5 1062 468.5 1061 489.5 1060 490.5 1059 503.5 1059 504.5 1058 527.5 1058 528.5 1057 566.5 1057 567.5 1056 644.5 1056 645.5 1055 685.5 1055 685.5 1080ZM421.5 1343 397 1342.5 398 1218.5 399 1217.5 400 1160.5 401 1159.5 401 1146.5 402 1145.5 403 1125.5 404 1124.5 404 1119.5 405 1118.5 405 1114.5 406 1113.5 408.5 1101 415 1113.5 415 1115.5 417 1118.5 417 1121.5 418 1122.5 419 1136.5 420 1137.5 420 1148.5 421 1149.5 421 1165.5 422 1166.5 421.5 1343Z"/>
<path fill="#d00000" fill-rule="evenodd" d="M408.5 1028 406 1024.5 401 1013.5 400 1002.5 399 1001.5 399 993.5 398 992.5 398 980.5 397 979.5 397 957.5 396 956.5 396.5 791 419 791.5 417 952.5 416 953.5 416 973.5 415 974.5 415 987.5 414 988.5 413 1009.5 412 1010.5 412 1014.5 411 1015.5 408.5 1028ZM188.5 1077 132.5 1077 132 1054.5 292.5 1054 293.5 1055 319.5 1055 320.5 1056 332.5 1056 333.5 1057 342.5 1057 343.5 1058 354.5 1059 370 1066.5 357.5 1069 356.5 1070 352.5 1070 351.5 1071 331.5 1072 330.5 1073 317.5 1073 316.5 1074 296.5 1074 295.5 1075 261.5 1075 260.5 1076 189.5 1076 188.5 1077ZM685.5 1079 515.5 1079 514.5 1078 494.5 1078 493.5 1077 482.5 1077 481.5 1076 465.5 1075 464.5 1074 461.5 1074 458.5 1072 456.5 1072 450.5 1069 448 1066.5 455.5 1065 456.5 1064 460.5 1064 461.5 1063 466.5 1063 467.5 1062 487.5 1061 488.5 1060 502.5 1060 503.5 1059 525.5 1059 526.5 1058 565.5 1058 566.5 1057 650.5 1057 651.5 1056 685.5 1056 685.5 1079ZM420.5 1343 398 1342.5 400 1181.5 401 1180.5 401 1159.5 402 1158.5 402 1145.5 403 1144.5 403 1134.5 404 1133.5 404 1123.5 405 1122.5 405 1118.5 406 1117.5 408.5 1105 413 1112.5 413 1114.5 415 1117.5 416 1123.5 417 1124.5 418 1140.5 419 1141.5 419 1152.5 420 1153.5 420 1175.5 421 1176.5 420.5 1343Z"/>
<path fill="#bb0000" fill-rule="evenodd" d="M408.5 1024 406 1020.5 402 1011.5 401 999.5 400 998.5 400 989.5 399 988.5 399 976.5 398 975.5 398 942.5 397 941.5 397.5 791 418 791.5 416 954.5 415 955.5 415 975.5 414 976.5 414 988.5 413 989.5 412 1010.5 411 1011.5 408.5 1024ZM184.5 1076 132.5 1076 132 1055.5 273.5 1055 274.5 1056 314.5 1056 315.5 1057 328.5 1057 329.5 1058 338.5 1058 339.5 1059 353.5 1060 356.5 1062 360.5 1063 365 1066.5 361.5 1068 358.5 1068 357.5 1069 353.5 1069 352.5 1070 332.5 1071 331.5 1072 319.5 1072 318.5 1073 299.5 1073 298.5 1074 264.5 1074 263.5 1075 185.5 1075 184.5 1076ZM685.5 1078 528.5 1078 527.5 1077 499.5 1077 498.5 1076 486.5 1076 485.5 1075 476.5 1075 475.5 1074 463.5 1073 454.5 1069 452 1066.5 459.5 1065 460.5 1064 465.5 1064 466.5 1063 486.5 1062 487.5 1061 500.5 1061 501.5 1060 523.5 1060 524.5 1059 563.5 1059 564.5 1058 656.5 1058 657.5 1057 685.5 1057 685.5 1078ZM419.5 1343 399 1342.5 401 1178.5 402 1177.5 402 1157.5 403 1156.5 403 1144.5 404 1143.5 404 1133.5 405 1132.5 405 1122.5 406 1121.5 408.5 1109 411 1112.5 415 1121.5 416 1134.5 417 1135.5 417 1143.5 418 1144.5 418 1157.5 419 1158.5 419 1190.5 420 1191.5 419.5 1343Z"/>
<path fill="#aa0000" fill-rule="evenodd" d="M408.5 1020 403 1009.5 402 995.5 401 994.5 401 985.5 400 984.5 400 970.5 399 969.5 399 914.5 398 913.5 398.5 791 417 791.5 415 956.5 414 957.5 414 976.5 413 977.5 413 989.5 412 990.5 411 1010.5 410 1011.5 410 1015.5 409 1016.5 408.5 1020ZM182.5 1075 132.5 1075 132 1057.5 309.5 1057 310.5 1058 324.5 1058 325.5 1059 335.5 1059 336.5 1060 350.5 1061 351.5 1062 356.5 1063 361 1066.5 357.5 1068 354.5 1068 353.5 1069 333.5 1070 332.5 1071 320.5 1071 319.5 1072 301.5 1072 300.5 1073 267.5 1073 266.5 1074 183.5 1074 182.5 1075ZM685.5 1077 550.5 1077 549.5 1076 504.5 1076 503.5 1075 490.5 1075 489.5 1074 480.5 1074 479.5 1073 465.5 1072 458.5 1069 456 1066.5 459.5 1066 460.5 1065 464.5 1065 465.5 1064 474.5 1064 475.5 1063 499.5 1062 500.5 1061 520.5 1061 521.5 1060 560.5 1060 561.5 1059 663.5 1059 664.5 1058 685.5 1058 685.5 1077ZM418.5 1343 400 1342.5 402 1176.5 403 1175.5 403 1156.5 404 1155.5 404 1143.5 405 1142.5 406 1122.5 407 1121.5 408.5 1114 411 1116.5 414 1124.5 415 1137.5 416 1138.5 416 1147.5 417 1148.5 417 1162.5 418 1163.5 418 1218.5 419 1219.5 418.5 1343Z"/>
<path fill="#a20000" fill-rule="evenodd" d="M408.5 1016 405 1010.5 404 999.5 403 998.5 402 980.5 401 979.5 401 962.5 400 961.5 400.5 791 416 791.5 414 959.5 413 960.5 413 977.5 412 978.5 412 989.5 411 990.5 410 1011.5 409 1012.5 408.5 1016ZM179.5 1074 132.5 1074 132 1058.5 299.5 1058 300.5 1059 319.5 1059 320.5 1060 330.5 1060 331.5 1061 345.5 1062 346.5 1063 351.5 1063 352.5 1064 354.5 1064 357 1066.5 353.5 1068 333.5 1069 332.5 1070 321.5 1070 320.5 1071 304.5 1071 303.5 1072 270.5 1072 269.5 1073 180.5 1073 179.5 1074ZM685.5 1075 510.5 1075 509.5 1074 494.5 1074 493.5 1073 484.5 1073 483.5 1072 476.5 1072 475.5 1071 464.5 1070 460 1066.5 464.5 1066 465.5 1065 474.5 1065 475.5 1064 498.5 1063 499.5 1062 518.5 1062 519.5 1061 556.5 1061 557.5 1060 670.5 1060 671.5 1059 685.5 1059 685.5 1075ZM416.5 1343 401 1342.5 403 1173.5 404 1172.5 404 1155.5 405 1154.5 406 1132.5 407 1131.5 407 1122.5 408 1121.5 408.5 1118 411 1120.5 412 1127.5 413 1128.5 414 1142.5 415 1143.5 415 1152.5 416 1153.5 416 1170.5 417 1171.5 416.5 1343Z"/>
<path fill="#9a0000" fill-rule="evenodd" d="M408.5 1011 407 1007.5 407 1004.5 406 1003.5 405 993.5 404 992.5 404 985.5 403 984.5 403 975.5 402 974.5 402 950.5 401 949.5 401.5 791 415 791.5 415 821.5 414 822.5 414 927.5 413 928.5 413 961.5 412 962.5 412 977.5 411 978.5 411 989.5 410 990.5 410 999.5 409 1000.5 408.5 1011ZM178.5 1073 132.5 1073 132 1059.5 285.5 1059 286.5 1060 314.5 1060 315.5 1061 325.5 1061 326.5 1062 339.5 1063 340.5 1064 344.5 1064 345.5 1065 353 1066.5 343.5 1067 342.5 1068 332.5 1068 331.5 1069 321.5 1069 320.5 1070 306.5 1070 305.5 1071 274.5 1071 273.5 1072 179.5 1072 178.5 1073ZM685.5 1074 522.5 1074 521.5 1073 500.5 1073 499.5 1072 481.5 1071 480.5 1070 476.5 1070 475.5 1069 467.5 1068 465 1066.5 475.5 1066 476.5 1065 486.5 1065 487.5 1064 497.5 1064 498.5 1063 515.5 1063 516.5 1062 552.5 1062 553.5 1061 677.5 1061 678.5 1060 685.5 1060 685.5 1074ZM415.5 1343 402 1342.5 402 1311.5 403 1310.5 403 1205.5 404 1204.5 404 1171.5 405 1170.5 405 1155.5 406 1154.5 406 1143.5 407 1142.5 407 1133.5 408 1132.5 408.5 1122 410 1125.5 410 1128.5 411 1129.5 412 1139.5 413 1140.5 413 1147.5 414 1148.5 414 1158.5 415 1159.5 415 1182.5 416 1183.5 415.5 1343Z"/>
<path fill="#900000" fill-rule="evenodd" d="M408.5 998 407 995.5 406 987.5 405 986.5 404 969.5 403 968.5 403 934.5 402 933.5 402.5 791 414 791.5 414 818.5 413 819.5 413 931.5 412 932.5 412 962.5 411 963.5 411 977.5 410 978.5 410 987.5 409 988.5 408.5 998ZM179.5 1072 132.5 1072 132 1060.5 266.5 1060 267.5 1061 307.5 1061 308.5 1062 327.5 1063 328.5 1064 336.5 1065 339 1066.5 331.5 1067 330.5 1068 320.5 1068 319.5 1069 307.5 1069 306.5 1070 277.5 1070 276.5 1071 180.5 1071 179.5 1072ZM685.5 1073 537.5 1073 536.5 1072 506.5 1072 505.5 1071 495.5 1071 494.5 1070 488.5 1070 487.5 1069 479.5 1068 478 1066.5 487.5 1066 488.5 1065 498.5 1065 499.5 1064 514.5 1064 515.5 1063 548.5 1063 549.5 1062 685.5 1062 685.5 1073ZM414.5 1343 403 1342.5 403 1314.5 404 1313.5 404 1202.5 405 1201.5 405 1170.5 406 1169.5 406 1156.5 407 1155.5 407 1145.5 408 1144.5 408.5 1135 411 1141.5 412 1153.5 413 1154.5 413 1164.5 414 1165.5 414 1199.5 415 1200.5 414.5 1343Z"/>
<path fill="#860000" fill-rule="evenodd" d="M408.5 985 406 978.5 406 972.5 405 971.5 405 957.5 404 956.5 404 907.5 403 906.5 403.5 791 413 791.5 413 816.5 412 817.5 412 933.5 411 934.5 411 961.5 410 962.5 410 975.5 409 976.5 408.5 985ZM182.5 1071 132.5 1071 132 1062.5 295.5 1062 296.5 1063 312.5 1063 313.5 1064 319.5 1064 326 1066.5 318.5 1067 317.5 1068 306.5 1068 305.5 1069 279.5 1069 278.5 1070 183.5 1070 182.5 1071ZM685.5 1072 558.5 1072 557.5 1071 516.5 1071 515.5 1070 502.5 1070 501.5 1069 496.5 1069 495.5 1068 492.5 1068 492 1066.5 500.5 1066 501.5 1065 514.5 1065 515.5 1064 544.5 1064 545.5 1063 685.5 1063 685.5 1072ZM413.5 1343 404 1342.5 404 1316.5 405 1315.5 405 1199.5 406 1198.5 406 1171.5 407 1170.5 407 1158.5 408 1157.5 408.5 1149 411 1154.5 411 1160.5 412 1161.5 412 1175.5 413 1176.5 413 1225.5 414 1226.5 413.5 1343Z"/>
<path fill="#7c0000" fill-rule="evenodd" d="M408.5 971 407 968.5 407 962.5 406 961.5 406 943.5 405 942.5 405.5 791 412 791.5 412 816.5 411 817.5 411 934.5 410 935.5 410 957.5 409 958.5 408.5 971ZM190.5 1070 132.5 1070 132 1063.5 280.5 1063 281.5 1064 301.5 1064 302.5 1065 310.5 1065 313 1066.5 302.5 1067 301.5 1068 279.5 1068 278.5 1069 191.5 1069 190.5 1070ZM685.5 1070 530.5 1070 529.5 1069 512.5 1069 511.5 1068 506.5 1068 505 1066.5 518.5 1066 519.5 1065 543.5 1065 544.5 1064 685.5 1064 685.5 1070ZM411.5 1343 405 1342.5 405 1316.5 406 1315.5 406 1198.5 407 1197.5 407 1175.5 408 1174.5 408.5 1162 410 1164.5 410 1170.5 411 1171.5 411 1189.5 412 1190.5 411.5 1343Z"/>
<path fill="#580000" fill-rule="evenodd" d="M408.5 942 408 937.5 407 936.5 407 914.5 406 913.5 406.5 791 410 791.5 410 904.5 409 905.5 408.5 942ZM251.5 1068 132.5 1068 132 1064.5 249.5 1064 250.5 1065 276.5 1065 277.5 1066 284 1066.5 252.5 1067 251.5 1068ZM685.5 1069 557.5 1069 556.5 1068 538.5 1068 536 1066.5 578.5 1066 579.5 1065 685.5 1065 685.5 1069ZM410.5 1343 407 1342.5 407 1228.5 408 1227.5 408.5 1191 409 1195.5 410 1196.5 410 1218.5 411 1219.5 410.5 1343Z"/>
</g>
<rect x="836.40" y="790.20" width="551.60" height="551.20" fill="#2800f8"/>
<clipPath id="clipd"><rect x="836.40" y="790.20" width="551.60" height="551.20"/></clipPath>
<g clip-path="url(#clipd)">
<path fill="#0000f0" fill-rule="evenodd" d="M1215.5 1342 1040 1341.5 1040 1319.5 1041 1318.5 1041 1278.5 1042 1277.5 1043 1225.5 1044 1224.5 1044 1206.5 1045 1205.5 1046 1178.5 1047 1177.5 1047 1168.5 1048 1167.5 1048 1159.5 1047 1158.5 1047 1133.5 1049 1129.5 1052 1126.5 1051.5 1126 1048.5 1129 1043.5 1131 1020.5 1131 1019.5 1130 1009.5 1130 1008.5 1131 999.5 1131 998.5 1132 971.5 1133 970.5 1134 952.5 1134 951.5 1135 898.5 1136 897.5 1137 856.5 1137 855.5 1138 836 1137.5 836 962.5 842.5 962 843.5 961 850.5 961 851.5 960 857.5 960 858.5 959 864.5 959 865.5 958 870.5 958 871.5 957 875.5 957 876.5 956 881.5 956 882.5 955 886.5 955 887.5 954 890.5 954 891.5 953 906.5 950 913.5 947 916.5 947 919.5 945 929.5 942 943.5 935 945.5 933 951.5 930 960.5 922 961.5 922 969 914.5 980 899.5 982 894.5 985 890.5 985 888.5 991 876.5 992 871.5 996 861.5 996 858.5 997 857.5 997 854.5 998 853.5 998 850.5 999 849.5 999 846.5 1001 841.5 1001 837.5 1002 836.5 1002 832.5 1003 831.5 1003 826.5 1004 825.5 1004 821.5 1005 820.5 1007 800.5 1008 799.5 1008 792.5 1009.5 790 1184 790.5 1184 829.5 1183 830.5 1182 893.5 1181 894.5 1181 914.5 1180 915.5 1179 945.5 1178 946.5 1178 956.5 1177 957.5 1177 984.5 1178 985.5 1178 994.5 1177 995.5 1177 998.5 1173 1004.5 1173.5 1005 1175.5 1003 1183.5 1000 1191.5 1000 1192.5 1001 1220.5 1001 1221.5 1000 1232.5 1000 1233.5 999 1263.5 998 1264.5 997 1285.5 997 1286.5 996 1349.5 995 1350.5 994 1389 994.5 1389 1168.5 1385.5 1170 1378.5 1170 1377.5 1171 1370.5 1171 1369.5 1172 1363.5 1172 1362.5 1173 1351.5 1174 1350.5 1175 1336.5 1177 1331.5 1179 1327.5 1179 1319.5 1182 1316.5 1182 1315.5 1183 1301.5 1187 1298.5 1189 1296.5 1189 1291.5 1192 1289.5 1192 1285.5 1194 1283.5 1196 1278.5 1198 1272.5 1202 1264.5 1209 1263.5 1209 1256 1216.5 1256 1217.5 1251 1222.5 1246 1229.5 1234 1253.5 1234 1255.5 1228 1271.5 1227 1278.5 1226 1279.5 1225 1286.5 1224 1287.5 1224 1291.5 1223 1292.5 1223 1296.5 1222 1297.5 1221 1306.5 1220 1307.5 1220 1313.5 1219 1314.5 1219 1319.5 1218 1320.5 1218 1326.5 1217 1327.5 1217 1334.5 1216 1335.5 1215.5 1342Z"/>
<path fill="#0538ff" fill-rule="evenodd" d="M1178.5 1342 1052 1341.5 1052 1303.5 1053 1302.5 1053 1228.5 1054 1227.5 1054 1184.5 1055 1183.5 1055 1150.5 1056 1149.5 1056 1132.5 1057 1131.5 1057 1126.5 1058 1125.5 1058 1123.5 1062 1116.5 1067 1111.5 1066.5 1111 1058.5 1118 1054.5 1120 1045.5 1121 1044.5 1122 1026.5 1122 1025.5 1123 993.5 1123 992.5 1124 948.5 1124 947.5 1125 870.5 1125 869.5 1126 836 1125.5 836 999.5 852.5 999 853.5 998 870.5 998 871.5 997 884.5 997 885.5 996 897.5 996 898.5 995 908.5 995 909.5 994 917.5 994 918.5 993 925.5 993 926.5 992 933.5 992 934.5 991 945.5 990 946.5 989 955.5 988 956.5 987 959.5 987 960.5 986 963.5 986 971.5 983 977.5 982 996.5 973 1003.5 968 1014 957.5 1022 945.5 1027 934.5 1028 929.5 1031 922.5 1031 919.5 1033 915.5 1033 911.5 1034 910.5 1035 902.5 1036 901.5 1036 896.5 1037 895.5 1037 890.5 1038 889.5 1039 875.5 1040 874.5 1040 866.5 1041 865.5 1042 844.5 1043 843.5 1043 830.5 1044 829.5 1044 813.5 1045 812.5 1045 793.5 1046.5 790 1172 790.5 1172 864.5 1171 865.5 1171 923.5 1170 924.5 1169 990.5 1168 991.5 1168 1001.5 1167 1002.5 1167 1006.5 1163 1014.5 1158 1019.5 1158.5 1020 1162.5 1016 1169.5 1012 1175.5 1011 1176.5 1010 1187.5 1010 1188.5 1009 1255.5 1008 1256.5 1007 1316.5 1007 1317.5 1006 1389 1006.5 1389 1131.5 1384.5 1132 1383.5 1133 1364.5 1133 1363.5 1134 1348.5 1134 1347.5 1135 1322.5 1136 1321.5 1137 1303.5 1138 1302.5 1139 1295.5 1139 1294.5 1140 1288.5 1140 1287.5 1141 1282.5 1141 1280.5 1142 1270 1156.5 1260 1167.5 1260 1168.5 1242 1187.5 1215.5 1213 1214.5 1213 1203.5 1223 1188 1234.5 1187 1244.5 1186 1245.5 1186 1251.5 1185 1252.5 1185 1259.5 1184 1260.5 1183 1279.5 1182 1280.5 1182 1292.5 1181 1293.5 1181 1307.5 1180 1308.5 1180 1325.5 1179 1326.5 1178.5 1342Z"/>
<path fill="#0050ff" fill-rule="evenodd" d="M1169.5 1342 1057 1341.5 1057 1339.5 1058 1338.5 1058 1259.5 1059 1258.5 1059 1214.5 1060 1213.5 1060 1184.5 1061 1183.5 1062 1146.5 1063 1145.5 1063 1135.5 1064 1134.5 1065 1122.5 1066 1121.5 1069 1110.5 1073 1105.5 1072.5 1105 1067.5 1109 1065.5 1109 1058.5 1112 1055.5 1112 1054.5 1113 1042.5 1114 1041.5 1115 1031.5 1115 1030.5 1116 1015.5 1116 1014.5 1117 962.5 1118 961.5 1119 916.5 1119 915.5 1120 836 1119.5 836.5 1015 869.5 1015 870.5 1014 895.5 1014 896.5 1013 931.5 1012 932.5 1011 944.5 1011 945.5 1010 963.5 1009 964.5 1008 970.5 1008 971.5 1007 977.5 1007 978.5 1006 987.5 1005 992 1001.5 992 1000.5 1002 989.5 1002 988.5 1024.5 965 1025.5 965 1034.5 956 1035.5 956 1051 942.5 1052 934.5 1053 933.5 1053 928.5 1054 927.5 1054 920.5 1055 919.5 1055 912.5 1056 911.5 1056 902.5 1057 901.5 1057 891.5 1058 890.5 1059 858.5 1060 857.5 1060 834.5 1061 833.5 1061 803.5 1062 802.5 1062.5 790 1167 790.5 1166 892.5 1165 893.5 1165 930.5 1164 931.5 1163 975.5 1162 976.5 1162 989.5 1161 990.5 1161 999.5 1160 1000.5 1159 1010.5 1158 1011.5 1155 1022.5 1152 1025.5 1152.5 1026 1155.5 1023 1161.5 1022 1167.5 1019 1177.5 1018 1178.5 1017 1187.5 1017 1188.5 1016 1201.5 1016 1202.5 1015 1248.5 1014 1249.5 1013 1286.5 1013 1287.5 1012 1349.5 1012 1350.5 1011 1389 1011.5 1389 1123.5 1365.5 1124 1364.5 1125 1327.5 1125 1326.5 1126 1289.5 1126 1288.5 1127 1274.5 1127 1262 1144.5 1249 1159.5 1249 1160.5 1240 1169.5 1240 1170.5 1207.5 1202 1206.5 1202 1186.5 1219 1182.5 1221 1173 1228.5 1172 1297.5 1171 1298.5 1171 1335.5 1170 1336.5 1169.5 1342Z"/>
<path fill="#0070ff" fill-rule="evenodd" d="M1165.5 1342 1063 1341.5 1063 1266.5 1064 1265.5 1064 1222.5 1065 1221.5 1066 1172.5 1067 1171.5 1067 1157.5 1068 1156.5 1069 1136.5 1070 1135.5 1070 1129.5 1071 1128.5 1072 1110.5 1075 1103.5 1079 1099.5 1078.5 1099 1074.5 1103 1067.5 1106 1058.5 1106 1057.5 1107 1049.5 1107 1048.5 1108 1033.5 1109 1032.5 1110 1021.5 1110 1020.5 1111 984.5 1112 983.5 1113 955.5 1113 954.5 1114 910.5 1114 909.5 1115 836 1114.5 836.5 1024 926.5 1022 927.5 1021 946.5 1021 947.5 1020 961.5 1020 962.5 1019 973.5 1019 974.5 1018 991.5 1017 999 1006.5 1015 988.5 1015 987.5 1033.5 969 1034.5 969 1052.5 953 1063 945.5 1064 932.5 1065 931.5 1065 921.5 1066 920.5 1067 889.5 1068 888.5 1070.5 790 1162 790.5 1162 824.5 1161 825.5 1161 885.5 1160 886.5 1160 922.5 1159 923.5 1158 965.5 1157 966.5 1157 979.5 1156 980.5 1155 998.5 1154 999.5 1154 1004.5 1153 1005.5 1153 1018.5 1152 1019.5 1151 1025.5 1146 1031.5 1146.5 1032 1150.5 1028 1155.5 1026 1159.5 1026 1160.5 1025 1172.5 1025 1173.5 1024 1178.5 1024 1179.5 1023 1198.5 1022 1199.5 1021 1211.5 1021 1212.5 1020 1255.5 1019 1256.5 1018 1293.5 1018 1294.5 1017 1355.5 1017 1356.5 1016 1389 1016.5 1388.5 1120 1263.5 1123 1250 1141.5 1234 1159.5 1234 1160.5 1207.5 1187 1206.5 1187 1199.5 1194 1198.5 1194 1183.5 1207 1175.5 1212 1169 1217.5 1168 1295.5 1167 1296.5 1167 1336.5 1166 1337.5 1165.5 1342Z"/>
<path fill="#0095f0" fill-rule="evenodd" d="M1162.5 1342 1067 1341.5 1067 1327.5 1068 1326.5 1068 1261.5 1069 1260.5 1069 1221.5 1070 1220.5 1070 1193.5 1071 1192.5 1071 1174.5 1072 1173.5 1072 1159.5 1073 1158.5 1073 1141.5 1074 1140.5 1074 1120.5 1075 1119.5 1075 1110.5 1079 1099.5 1092 1086.5 1091.5 1086 1076.5 1100 1071.5 1102 1068.5 1102 1067.5 1103 1058.5 1103 1057.5 1104 1036.5 1104 1035.5 1105 1018.5 1105 1017.5 1106 1004.5 1106 1003.5 1107 956.5 1108 955.5 1109 915.5 1109 914.5 1110 848.5 1110 847.5 1111 836 1110.5 836.5 1032 927.5 1031 928.5 1030 957.5 1030 958.5 1029 992.5 1028 996 1025.5 1003 1014.5 1015 1000.5 1015 999.5 1036.5 977 1037.5 977 1045.5 969 1046.5 969 1056.5 960 1074 947.5 1074 938.5 1075 937.5 1075 920.5 1076 919.5 1076 895.5 1077 894.5 1078.5 790 1157 790.5 1157 835.5 1156 836.5 1156 888.5 1155 889.5 1155 922.5 1154 923.5 1153 963.5 1152 964.5 1152 976.5 1151 977.5 1150 1016.5 1149 1017.5 1149 1023.5 1145 1032.5 1133 1044.5 1133.5 1045 1145.5 1033 1154.5 1029 1160.5 1029 1161.5 1028 1200.5 1027 1201.5 1026 1213.5 1026 1214.5 1025 1255.5 1024 1256.5 1023 1290.5 1023 1291.5 1022 1344.5 1022 1345.5 1021 1389 1021.5 1388.5 1117 1344.5 1117 1343.5 1118 1301.5 1118 1300.5 1119 1257.5 1119 1256.5 1120 1253.5 1120 1239 1139.5 1222 1158.5 1199.5 1181 1198.5 1181 1191.5 1188 1190.5 1188 1173.5 1202 1169.5 1204 1166 1207.5 1166 1229.5 1165 1230.5 1165 1272.5 1164 1273.5 1164 1316.5 1163 1317.5 1162.5 1342Z"/>
<path fill="#00b8e0" fill-rule="evenodd" d="M1159.5 1342 1072 1341.5 1072 1306.5 1073 1305.5 1073 1250.5 1074 1249.5 1074 1184.5 1075 1183.5 1075 1150.5 1076 1149.5 1076 1129.5 1077 1128.5 1077 1116.5 1078 1115.5 1078 1109.5 1079 1108.5 1080 1101.5 1091 1088.5 1091.5 1086 1085.5 1090 1076.5 1098 1069.5 1099 1068.5 1100 1048.5 1101 1047.5 1102 1028.5 1102 1027.5 1103 993.5 1103 992.5 1104 927.5 1104 926.5 1105 870.5 1105 869.5 1106 836 1105.5 836.5 1038 838.5 1037 868.5 1037 869.5 1036 898.5 1036 899.5 1035 929.5 1035 930.5 1034 960.5 1034 961.5 1033 991.5 1033 992.5 1032 1000.5 1032 1004 1025.5 1007 1022.5 1012 1014.5 1030 993.5 1050.5 974 1051.5 974 1068.5 960 1079 953.5 1080 896.5 1081 895.5 1081 865.5 1082 864.5 1082 834.5 1083 833.5 1083 803.5 1084 802.5 1084.5 790 1152 790.5 1151 913.5 1150 914.5 1150 963.5 1149 964.5 1149 990.5 1148 991.5 1148 1007.5 1147 1008.5 1147 1018.5 1146 1019.5 1145 1028.5 1142 1033.5 1136 1039.5 1133 1044.5 1133.5 1045 1149.5 1033 1158.5 1032 1159.5 1031 1169.5 1031 1170.5 1030 1186.5 1030 1187.5 1029 1214.5 1029 1215.5 1028 1266.5 1028 1267.5 1027 1327.5 1027 1328.5 1026 1389 1026.5 1388.5 1113 1383.5 1113 1382.5 1114 1337.5 1114 1336.5 1115 1290.5 1115 1289.5 1116 1245.5 1116 1234 1131.5 1230 1135.5 1230 1136.5 1211.5 1157 1188.5 1179 1187.5 1179 1177.5 1188 1163 1198.5 1163 1217.5 1162 1218.5 1162 1263.5 1161 1264.5 1161 1309.5 1160 1310.5 1159.5 1342ZM1099 1079.5 1098 1079.5 1099 1079.5Z"/>
<path fill="#00dcd0" fill-rule="evenodd" d="M1156.5 1342 1075 1341.5 1075 1253.5 1076 1252.5 1076 1187.5 1077 1186.5 1077 1154.5 1078 1153.5 1078 1134.5 1079 1133.5 1079 1121.5 1080 1120.5 1081 1106.5 1083 1101.5 1089 1094.5 1092 1088.5 1091.5 1086 1089.5 1086 1083.5 1089 1080.5 1092 1071.5 1097 1057.5 1098 1056.5 1099 1043.5 1099 1042.5 1100 1023.5 1100 1022.5 1101 990.5 1101 989.5 1102 922.5 1102 921.5 1103 836 1102.5 836.5 1039 859.5 1039 860.5 1038 892.5 1038 893.5 1037 925.5 1037 926.5 1036 958.5 1036 959.5 1035 991.5 1035 992.5 1034 1006.5 1034 1009 1031.5 1015 1021.5 1027 1007.5 1027 1006.5 1052.5 981 1053.5 981 1067.5 969 1080 960.5 1080 958.5 1081 957.5 1081 925.5 1082 924.5 1082 892.5 1083 891.5 1083 860.5 1084 859.5 1084 827.5 1085 826.5 1085 794.5 1086 793.5 1086.5 790 1150 790.5 1149 792.5 1149 911.5 1148 912.5 1148 959.5 1147 960.5 1147 986.5 1146 987.5 1146 1002.5 1145 1003.5 1145 1013.5 1144 1014.5 1143 1026.5 1132 1043.5 1133.5 1046 1141.5 1042 1147.5 1037 1151.5 1035 1163.5 1034 1164.5 1033 1174.5 1033 1175.5 1032 1191.5 1032 1192.5 1031 1218.5 1031 1219.5 1030 1267.5 1030 1268.5 1029 1389 1029.5 1388.5 1111 1341.5 1111 1340.5 1112 1292.5 1112 1291.5 1113 1242.5 1113 1241.5 1114 1236.5 1114 1222 1133.5 1201.5 1156 1180.5 1175 1179.5 1175 1170.5 1183 1160 1190.5 1160 1216.5 1159 1217.5 1159 1265.5 1158 1266.5 1158 1315.5 1157 1316.5 1156.5 1342ZM1127 1052.5 1126.5 1051 1125 1051.5 1125.5 1053 1127 1052.5ZM1113 1066.5 1112.5 1065 1111 1065.5 1111.5 1067 1113 1066.5ZM1099 1080.5 1100 1079.5 1099.5 1078 1097 1079.5 1097.5 1081 1099 1080.5Z"/>
<path fill="#00eebb" fill-rule="evenodd" d="M1153.5 1342 1077 1341.5 1077 1249.5 1078 1248.5 1078 1188.5 1079 1187.5 1079 1156.5 1080 1155.5 1080 1137.5 1081 1136.5 1082 1115.5 1083 1114.5 1083 1109.5 1087 1101.5 1089 1099.5 1090 1094.5 1093 1088.5 1090.5 1085 1086.5 1086 1083.5 1088 1078.5 1089 1068.5 1095 1054.5 1096 1053.5 1097 1041.5 1097 1040.5 1098 1021.5 1098 1020.5 1099 989.5 1099 988.5 1100 926.5 1100 925.5 1101 836 1100.5 836.5 1041 847.5 1041 848.5 1040 882.5 1040 883.5 1039 916.5 1039 917.5 1038 951.5 1038 952.5 1037 986.5 1037 987.5 1036 1013.5 1036 1022 1022.5 1026 1018.5 1030 1012.5 1037 1005.5 1037 1004.5 1058.5 984 1082 966.5 1082 954.5 1083 953.5 1083 919.5 1084 918.5 1084 884.5 1085 883.5 1085 850.5 1086 849.5 1086 815.5 1087 814.5 1087.5 790 1148 790.5 1148 804.5 1147 805.5 1147 912.5 1146 913.5 1146 958.5 1145 959.5 1145 983.5 1144 984.5 1144 999.5 1143 1000.5 1142 1019.5 1141 1020.5 1141 1023.5 1138 1027.5 1135 1033.5 1134 1038.5 1131 1043.5 1134.5 1047 1139.5 1044 1146.5 1042 1152.5 1039 1154.5 1037 1157.5 1037 1158.5 1036 1165.5 1036 1166.5 1035 1177.5 1035 1178.5 1034 1193.5 1034 1194.5 1033 1219.5 1033 1220.5 1032 1266.5 1032 1267.5 1031 1389 1030.5 1388.5 1108 1355.5 1108 1354.5 1109 1303.5 1109 1302.5 1110 1250.5 1110 1249.5 1111 1229.5 1111 1221 1122.5 1217 1126.5 1217 1127.5 1213 1131.5 1213 1132.5 1188.5 1158 1187.5 1158 1173.5 1171 1157 1182.5 1156 1278.5 1155 1279.5 1155 1330.5 1154 1331.5 1153.5 1342ZM1123 1055.5 1128 1052.5 1128 1050.5 1131 1047.5 1130.5 1047 1127.5 1050 1125.5 1050 1124 1051.5 1124 1053.5 1122 1055.5 1123 1055.5ZM1111 1067.5 1114 1066.5 1113.5 1064 1111 1064.5 1111 1066.5 1110 1067.5 1111 1067.5ZM1095 1083.5 1097.5 1081 1100 1080.5 1100 1078.5 1102 1076.5 1101.5 1076 1099.5 1078 1097 1078.5 1096 1081.5 1094 1083.5 1095 1083.5Z"/>
<path fill="#00f0a0" fill-rule="evenodd" d="M1151.5 1342 1079 1341.5 1079 1244.5 1080 1243.5 1080 1187.5 1081 1186.5 1081 1157.5 1082 1156.5 1082 1138.5 1083 1137.5 1083 1125.5 1084 1124.5 1084 1118.5 1088 1110.5 1090 1099.5 1094 1089.5 1094 1088.5 1089.5 1084 1078.5 1088 1070.5 1089 1059.5 1094 1053.5 1094 1052.5 1095 1040.5 1095 1039.5 1096 1021.5 1096 1020.5 1097 990.5 1097 989.5 1098 931.5 1098 930.5 1099 836 1098.5 836.5 1042 903.5 1041 904.5 1040 941.5 1040 942.5 1039 978.5 1039 979.5 1038 1015.5 1038 1016.5 1037 1019.5 1037 1031 1020.5 1045 1005.5 1045 1004.5 1061.5 989 1084 972.5 1085 909.5 1086 908.5 1086 872.5 1087 871.5 1087 835.5 1088 834.5 1088 798.5 1089 797.5 1089.5 790 1146 790.5 1146 818.5 1145 819.5 1145 914.5 1144 915.5 1144 958.5 1143 959.5 1142 998.5 1141 999.5 1141 1010.5 1140 1011.5 1140 1014.5 1137 1019.5 1137 1021.5 1135 1025.5 1134 1033.5 1133 1034.5 1132 1039.5 1130 1042.5 1135.5 1048 1141.5 1045 1147.5 1044 1148.5 1043 1152.5 1043 1168.5 1037 1194.5 1036 1195.5 1035 1219.5 1035 1220.5 1034 1263.5 1034 1264.5 1033 1362.5 1033 1363.5 1032 1389 1032.5 1388.5 1105 1379.5 1105 1378.5 1106 1323.5 1106 1322.5 1107 1222.5 1108 1211 1123.5 1197 1138.5 1197 1139.5 1176.5 1159 1175.5 1159 1170.5 1164 1155 1175.5 1155 1188.5 1154 1189.5 1154 1244.5 1153 1245.5 1153 1299.5 1152 1300.5 1151.5 1342ZM1122 1056.5 1123.5 1055 1124.5 1056 1127.5 1056 1130 1053.5 1130 1050.5 1131 1049.5 1130.5 1047 1124.5 1048 1122 1050.5 1122 1053.5 1123 1054.5 1121 1056.5 1122 1056.5ZM1108 1070.5 1110.5 1068 1111.5 1069 1113.5 1069 1115 1067.5 1115 1063.5 1117 1061.5 1116.5 1061 1114.5 1063 1110.5 1063 1109 1064.5 1109 1066.5 1110 1067.5 1107 1070.5 1108 1070.5ZM1096 1084.5 1097.5 1083 1100.5 1083 1102 1081.5 1102 1076.5 1104 1074.5 1103.5 1074 1101.5 1076 1096.5 1076 1095 1077.5 1095 1080.5 1093 1082.5 1093 1084.5 1096 1084.5Z"/>
<path fill="#00f088" fill-rule="evenodd" d="M1148.5 1342 1081 1341.5 1081 1238.5 1082 1237.5 1082 1185.5 1083 1184.5 1083 1156.5 1084 1155.5 1084 1138.5 1085 1137.5 1086 1130.5 1089 1122.5 1089 1113.5 1090 1112.5 1091 1102.5 1095 1091.5 1095 1089.5 1088.5 1083 1080.5 1085 1079.5 1086 1076.5 1086 1075.5 1087 1063.5 1088 1062.5 1089 1055.5 1089 1054.5 1090 1051.5 1090 1050.5 1091 1040.5 1093 1039.5 1094 992.5 1095 991.5 1096 938.5 1096 937.5 1097 836 1096.5 836.5 1044 846.5 1044 847.5 1043 886.5 1043 887.5 1042 926.5 1042 927.5 1041 965.5 1041 966.5 1040 1005.5 1040 1006.5 1039 1025.5 1039 1035 1024.5 1047 1011.5 1047 1010.5 1065.5 993 1085 978.5 1085 975.5 1086 974.5 1086 935.5 1087 934.5 1087 896.5 1088 895.5 1088 856.5 1089 855.5 1089 816.5 1090 815.5 1090.5 790 1144 790.5 1144 833.5 1143 834.5 1143 918.5 1142 919.5 1142 959.5 1141 960.5 1141 983.5 1140 984.5 1140 994.5 1139 995.5 1139 998.5 1136 1006.5 1136 1010.5 1135 1011.5 1135 1020.5 1134 1021.5 1133 1030.5 1129 1041.5 1129 1042.5 1130.5 1043 1135.5 1049 1143.5 1046 1146.5 1046 1147.5 1045 1156.5 1044 1157.5 1043 1166.5 1043 1167.5 1042 1171.5 1042 1175.5 1040 1182.5 1039 1183.5 1038 1194.5 1038 1195.5 1037 1218.5 1037 1219.5 1036 1259.5 1036 1260.5 1035 1347.5 1035 1348.5 1034 1389 1034.5 1388.5 1103 1352.5 1103 1351.5 1104 1292.5 1104 1291.5 1105 1233.5 1105 1232.5 1106 1215.5 1106 1212 1109.5 1210 1113.5 1206 1117.5 1202 1123.5 1195 1130.5 1195 1131.5 1178.5 1148 1177.5 1148 1164.5 1160 1152 1168.5 1151 1270.5 1150 1271.5 1150 1330.5 1149 1331.5 1148.5 1342ZM1129 1057.5 1132 1054.5 1132 1046.5 1123.5 1046 1120 1049.5 1120 1054.5 1121 1055.5 1120 1057.5 1129 1057.5ZM1108 1070.5 1114.5 1070 1117 1067.5 1117 1063.5 1116 1062.5 1118 1060.5 1117.5 1060 1115.5 1062 1114.5 1061 1110.5 1061 1108 1063.5 1108 1069.5 1107 1070.5 1108 1070.5ZM1097 1085.5 1101.5 1085 1104 1082.5 1103.5 1074 1095.5 1074 1093 1076.5 1092 1084.5 1093.5 1086 1097 1085.5Z"/>
<path fill="#00f560" fill-rule="evenodd" d="M1146.5 1342 1083 1341.5 1083 1230.5 1084 1229.5 1084 1182.5 1085 1181.5 1085 1172.5 1086 1171.5 1087 1158.5 1088 1157.5 1088 1152.5 1089 1151.5 1089 1137.5 1090 1136.5 1090 1113.5 1091 1112.5 1091 1106.5 1092 1105.5 1093 1100.5 1095 1096.5 1095 1093.5 1097 1089.5 1094.5 1089 1092 1086.5 1093.5 1086 1094.5 1087 1096.5 1087 1097.5 1086 1101.5 1086 1105 1082.5 1104.5 1073 1103.5 1074 1102.5 1073 1095.5 1073 1092 1076.5 1092 1080.5 1091 1081.5 1091 1083.5 1092 1084.5 1091.5 1086 1089 1083.5 1088.5 1081 1084.5 1083 1081.5 1083 1076.5 1085 1071.5 1085 1070.5 1086 1065.5 1086 1064.5 1087 1041.5 1088 1040.5 1089 1026.5 1089 1025.5 1090 1020.5 1090 1019.5 1091 1013.5 1091 1012.5 1092 1006.5 1092 1005.5 1093 996.5 1093 995.5 1094 946.5 1094 945.5 1095 836 1094.5 836.5 1045 907.5 1044 908.5 1043 949.5 1043 950.5 1042 992.5 1042 993.5 1041 1030.5 1041 1039 1028.5 1050 1015.5 1070.5 996 1087 984.5 1087 963.5 1088 962.5 1088 920.5 1089 919.5 1089 878.5 1090 877.5 1090 836.5 1091 835.5 1091 793.5 1092.5 790 1142 790.5 1142 847.5 1141 848.5 1141 924.5 1140 925.5 1140 955.5 1139 956.5 1139 962.5 1138 963.5 1137 975.5 1136 976.5 1136 982.5 1135 983.5 1135 1009.5 1134 1010.5 1134 1021.5 1133 1022.5 1133 1026.5 1129 1036.5 1129 1039.5 1127 1042.5 1130.5 1043 1135 1047.5 1135.5 1051 1138.5 1049 1141.5 1049 1142.5 1048 1144.5 1048 1148.5 1046 1151.5 1046 1152.5 1045 1155.5 1045 1156.5 1044 1168.5 1044 1169.5 1043 1195.5 1043 1196.5 1042 1201.5 1042 1202.5 1041 1207.5 1041 1208.5 1040 1214.5 1040 1215.5 1039 1222.5 1039 1223.5 1038 1253.5 1038 1254.5 1037 1332.5 1037 1333.5 1036 1389 1036.5 1388.5 1101 1325.5 1101 1324.5 1102 1208.5 1103 1194 1122.5 1169.5 1147 1168.5 1147 1154.5 1159 1150 1161.5 1150 1178.5 1149 1179.5 1149 1241.5 1148 1242.5 1148 1305.5 1147 1306.5 1146.5 1342ZM1129 1058.5 1133 1054.5 1133 1047.5 1130.5 1045 1123.5 1045 1119 1049.5 1119 1055.5 1120 1057.5 1122.5 1059 1129 1058.5ZM1116 1071.5 1119 1068.5 1119 1063.5 1117 1061.5 1118 1060.5 1117.5 1060 1116.5 1061 1114.5 1059 1109.5 1059 1106 1062.5 1106 1069.5 1107 1070.5 1106 1071.5 1116 1071.5Z"/>
<path fill="#00fa30" fill-rule="evenodd" d="M1144.5 1342 1084 1341.5 1084 1319.5 1085 1318.5 1085 1281.5 1086 1280.5 1086 1261.5 1087 1260.5 1087 1243.5 1088 1242.5 1088 1227.5 1089 1226.5 1089 1202.5 1090 1201.5 1090 1155.5 1091 1154.5 1091 1137.5 1090 1136.5 1090 1128.5 1091 1127.5 1091 1112.5 1092 1111.5 1092 1106.5 1093 1105.5 1096 1094.5 1098 1091.5 1097.5 1089 1094 1088.5 1095.5 1087 1101.5 1087 1106 1082.5 1106 1076.5 1104.5 1073 1102.5 1073 1101.5 1072 1095.5 1072 1091 1076.5 1091 1082.5 1089.5 1084 1089 1080.5 1086.5 1080 1082.5 1082 1078.5 1082 1077.5 1083 1073.5 1083 1072.5 1084 1057.5 1085 1056.5 1086 1044.5 1086 1043.5 1087 1022.5 1087 1021.5 1088 974.5 1088 973.5 1089 951.5 1089 950.5 1090 916.5 1091 915.5 1092 896.5 1092 895.5 1093 856.5 1093 855.5 1094 836 1093.5 836.5 1047 839.5 1047 840.5 1046 884.5 1046 885.5 1045 930.5 1045 931.5 1044 975.5 1044 976.5 1043 1021.5 1043 1022.5 1042 1036.5 1042 1050 1023.5 1070.5 1003 1089 989.5 1090 902.5 1091 901.5 1091 857.5 1092 856.5 1092 811.5 1093 810.5 1093.5 790 1140 790.5 1140 836.5 1139 837.5 1138 877.5 1137 878.5 1137 894.5 1136 895.5 1136 910.5 1135 911.5 1135 953.5 1134 954.5 1134 985.5 1133 986.5 1133 989.5 1134 990.5 1134 1012.5 1133 1013.5 1133 1022.5 1132 1023.5 1132 1026.5 1126 1041.5 1126.5 1043 1131 1043.5 1127.5 1044 1126.5 1045 1122.5 1045 1119 1048.5 1119.5 1059 1120.5 1058 1121.5 1059 1129.5 1059 1133 1055.5 1133 1051.5 1134 1050.5 1134.5 1047 1135 1051.5 1136.5 1052 1151.5 1046 1154.5 1046 1155.5 1045 1164.5 1045 1165.5 1044 1187.5 1044 1188.5 1045 1191.5 1045 1192.5 1044 1224.5 1044 1225.5 1043 1267.5 1043 1268.5 1042 1300.5 1041 1301.5 1040 1341.5 1039 1342.5 1038 1389 1038.5 1388.5 1098 1366.5 1098 1365.5 1099 1298.5 1099 1297.5 1100 1229.5 1100 1228.5 1101 1201.5 1101 1196 1109.5 1186 1120.5 1186 1121.5 1167.5 1140 1166.5 1140 1156.5 1149 1147 1155.5 1147 1211.5 1146 1212.5 1146 1279.5 1145 1280.5 1144.5 1342ZM1131.5 1045 1131.5 1044 1131.5 1045ZM1133.5 1047 1133.5 1046 1133.5 1047ZM1116 1072.5 1119 1069.5 1119 1062.5 1118 1060.5 1115.5 1059 1108.5 1059 1105 1062.5 1105 1068.5 1106 1069.5 1106 1071.5 1109.5 1073 1116 1072.5ZM1090.5 1085 1090.5 1084 1090.5 1085ZM1093.5 1088 1093.5 1087 1093.5 1088Z"/>
<path fill="#00ff10" fill-rule="evenodd" d="M1141.5 1342 1091 1341.5 1091 1189.5 1092 1188.5 1092 1140.5 1091 1139.5 1091 1123.5 1092 1122.5 1092 1110.5 1093 1109.5 1093 1105.5 1095 1101.5 1096 1096.5 1100 1089.5 1094 1088.5 1097.5 1088 1098.5 1087 1102.5 1087 1106 1083.5 1106 1075.5 1104.5 1073 1102.5 1072 1094.5 1072 1091 1075.5 1091 1079.5 1090 1080.5 1089.5 1084 1088.5 1078 1087.5 1079 1084.5 1079 1079.5 1081 1068.5 1082 1067.5 1083 1047.5 1084 1046.5 1085 1027.5 1085 1026.5 1086 988.5 1086 987.5 1087 836 1086.5 836.5 1048 858.5 1048 859.5 1047 907.5 1047 908.5 1046 956.5 1046 957.5 1045 1005.5 1045 1006.5 1044 1041.5 1044 1048 1034.5 1057 1024.5 1057 1023.5 1076.5 1005 1089 996.5 1089 993.5 1090 992.5 1090 978.5 1091 977.5 1091 929.5 1092 928.5 1092 880.5 1093 879.5 1093 832.5 1094 831.5 1094.5 790 1134 790.5 1133 961.5 1132 962.5 1133 1015.5 1132 1016.5 1132 1023.5 1130 1027.5 1130 1030.5 1125 1041.5 1125.5 1043 1129 1043.5 1121.5 1045 1118 1048.5 1118 1055.5 1119 1056.5 1118.5 1059 1108.5 1059 1105 1062.5 1105 1069.5 1106.5 1072 1108.5 1073 1115.5 1073 1119 1069.5 1119 1059.5 1121.5 1059 1122.5 1060 1129.5 1060 1133 1056.5 1134.5 1049 1135 1052.5 1136.5 1053 1147.5 1048 1150.5 1048 1154.5 1046 1161.5 1046 1162.5 1045 1215.5 1046 1216.5 1045 1385.5 1044 1389 1045.5 1388.5 1096 1267.5 1097 1266.5 1098 1195.5 1098 1189 1107.5 1178 1119.5 1178 1120.5 1158.5 1139 1145 1148.5 1145 1177.5 1144 1178.5 1144 1250.5 1143 1251.5 1143 1323.5 1142 1324.5 1141.5 1342ZM1130.5 1044 1130.5 1043 1130.5 1044ZM1134.5 1048 1134.5 1047 1134.5 1048Z"/>
<path fill="#40ff00" fill-rule="evenodd" d="M1057.5 1078 1033.5 1078 1032.5 1077 1016.5 1077 1015.5 1076 1001.5 1076 1000.5 1075 987.5 1075 986.5 1074 970.5 1074 969.5 1073 919.5 1073 918.5 1072 836.5 1072 836 1060.5 848.5 1060 849.5 1059 940.5 1059 941.5 1058 977.5 1058 978.5 1057 990.5 1057 991.5 1056 1015.5 1055 1016.5 1054 1029.5 1054 1030.5 1053 1072.5 1053 1073.5 1054 1077.5 1054 1078.5 1055 1088.5 1057 1101 1043.5 1098 1037.5 1097 1031.5 1095 1027.5 1095 1023.5 1094 1022.5 1094 989.5 1095 988.5 1095 979.5 1096 978.5 1097 959.5 1098 958.5 1098 950.5 1099 949.5 1099 941.5 1100 940.5 1100 931.5 1101 930.5 1101 903.5 1102 902.5 1102 870.5 1103 869.5 1103 837.5 1104 836.5 1104 804.5 1105 803.5 1105 790.5 1118.5 790 1119 795.5 1120 796.5 1120 829.5 1121 830.5 1121 864.5 1122 865.5 1123 931.5 1124 932.5 1125 952.5 1126 953.5 1126 965.5 1127 966.5 1127 978.5 1128 979.5 1128 995.5 1129 996.5 1128 998.5 1128 1014.5 1127 1015.5 1127 1021.5 1126 1022.5 1126 1025.5 1125 1026.5 1125 1029.5 1124 1030.5 1123 1035.5 1113 1053.5 1113 1056.5 1107.5 1057 1106.5 1058 1103 1061.5 1102.5 1067 1096.5 1068 1091.5 1071 1089.5 1071 1079.5 1075 1075.5 1075 1074.5 1076 1070.5 1076 1069.5 1077 1058.5 1077 1057.5 1078ZM1122.5 1342 1104 1341.5 1103 1257.5 1102 1256.5 1102 1213.5 1101 1212.5 1101 1195.5 1100 1194.5 1100 1185.5 1099 1184.5 1098 1161.5 1097 1160.5 1097 1146.5 1096 1145.5 1096 1122.5 1097 1121.5 1097 1112.5 1098 1111.5 1099 1103.5 1101 1099.5 1102 1094.5 1111 1078.5 1111 1075.5 1116.5 1075 1121 1070.5 1121.5 1065 1124.5 1065 1142.5 1055 1144.5 1055 1148.5 1053 1151.5 1053 1152.5 1052 1155.5 1052 1156.5 1051 1162.5 1051 1163.5 1050 1179.5 1050 1180.5 1049 1182.5 1050 1198.5 1050 1199.5 1051 1211.5 1051 1212.5 1052 1224.5 1052 1225.5 1053 1234.5 1053 1235.5 1054 1245.5 1054 1246.5 1055 1276.5 1055 1277.5 1056 1319.5 1056 1320.5 1057 1362.5 1057 1363.5 1058 1388.5 1058 1388.5 1076 1338.5 1076 1337.5 1077 1247.5 1077 1246.5 1078 1237.5 1078 1236.5 1079 1228.5 1079 1227.5 1080 1219.5 1080 1218.5 1081 1209.5 1081 1208.5 1082 1199.5 1082 1198.5 1083 1189.5 1083 1188.5 1084 1155.5 1084 1154.5 1083 1150.5 1083 1146.5 1081 1143.5 1081 1140.5 1079 1139 1079.5 1139 1080.5 1126 1093.5 1126 1095.5 1129 1102.5 1129 1105.5 1130 1106.5 1131 1135.5 1130 1136.5 1130 1145.5 1129 1146.5 1129 1155.5 1128 1156.5 1128 1165.5 1127 1166.5 1126 1184.5 1125 1185.5 1124 1204.5 1123 1205.5 1122.5 1342Z"/>
<path fill="#80ff00" fill-rule="evenodd" d="M1111.5 1057 1108 1056.5 1109 1055.5 1109 1053.5 1103 1045.5 1098 1035.5 1098 1032.5 1096 1028.5 1096 1025.5 1095 1024.5 1094 995.5 1095 994.5 1095 985.5 1096 984.5 1096 975.5 1097 974.5 1097 965.5 1098 964.5 1098 954.5 1099 953.5 1099 945.5 1100 944.5 1100 935.5 1101 934.5 1101 919.5 1102 918.5 1102 883.5 1103 882.5 1103 850.5 1104 849.5 1105 790.5 1118.5 790 1119 808.5 1120 809.5 1120 843.5 1121 844.5 1121 878.5 1122 879.5 1122 918.5 1123 919.5 1123 936.5 1124 937.5 1125 958.5 1126 959.5 1126 972.5 1127 973.5 1128 1004.5 1127 1005.5 1127 1017.5 1126 1018.5 1126 1023.5 1124 1027.5 1124 1030.5 1121 1036.5 1121 1038.5 1117 1044.5 1111.5 1057ZM1119.5 1342 1105 1341.5 1105 1327.5 1104 1326.5 1104 1284.5 1103 1283.5 1103 1240.5 1102 1239.5 1102 1201.5 1101 1200.5 1101 1191.5 1100 1190.5 1100 1179.5 1099 1178.5 1099 1167.5 1098 1166.5 1098 1153.5 1097 1152.5 1097 1136.5 1096 1135.5 1097 1133.5 1097 1118.5 1098 1117.5 1098 1110.5 1099 1109.5 1100 1102.5 1101 1101.5 1102 1096.5 1112 1078.5 1112 1075.5 1116.5 1075 1121 1070.5 1121.5 1066 1123.5 1066 1135.5 1060 1139.5 1057 1141.5 1057 1144.5 1055 1147.5 1055 1151.5 1053 1154.5 1053 1155.5 1052 1159.5 1052 1160.5 1051 1172.5 1051 1173.5 1050 1204.5 1051 1205.5 1052 1218.5 1052 1219.5 1053 1229.5 1053 1230.5 1054 1240.5 1054 1241.5 1055 1258.5 1055 1259.5 1056 1303.5 1056 1304.5 1057 1388.5 1058 1389 1072.5 1379.5 1073 1378.5 1074 1339.5 1074 1338.5 1075 1259.5 1076 1258.5 1077 1243.5 1077 1242.5 1078 1224.5 1079 1223.5 1080 1213.5 1080 1212.5 1081 1203.5 1081 1202.5 1082 1193.5 1082 1192.5 1083 1182.5 1083 1181.5 1084 1153.5 1083 1149.5 1081 1142.5 1080 1132.5 1075 1127.5 1071 1123.5 1071 1123 1072.5 1117 1077.5 1117 1080.5 1121 1085.5 1126 1095.5 1127 1101.5 1129 1105.5 1129 1111.5 1130 1112.5 1130 1139.5 1129 1140.5 1129 1150.5 1128 1151.5 1128 1160.5 1127 1161.5 1126 1180.5 1125 1181.5 1125 1189.5 1124 1190.5 1124 1199.5 1123 1200.5 1123 1227.5 1122 1228.5 1122 1267.5 1121 1268.5 1121 1307.5 1120 1308.5 1119.5 1342ZM1043.5 1078 1042.5 1077 1006.5 1076 1005.5 1075 992.5 1075 991.5 1074 977.5 1074 976.5 1073 881.5 1072 880.5 1071 836.5 1071 836 1061.5 852.5 1061 853.5 1060 954.5 1059 955.5 1058 981.5 1058 982.5 1057 1007.5 1056 1008.5 1055 1021.5 1055 1022.5 1054 1035.5 1054 1036.5 1053 1067.5 1053 1068.5 1054 1074.5 1054 1075.5 1055 1083.5 1056 1084.5 1057 1089.5 1058 1096.5 1062 1103 1062.5 1102.5 1066 1099.5 1066 1094.5 1069 1092.5 1069 1087.5 1072 1085.5 1072 1081.5 1074 1077.5 1074 1072.5 1076 1066.5 1076 1065.5 1077 1044.5 1077 1043.5 1078Z"/>
<path fill="#bfff00" fill-rule="evenodd" d="M1112.5 1052 1108.5 1051 1104 1045.5 1099 1035.5 1098 1029.5 1096 1025.5 1096 1019.5 1095 1018.5 1095 991.5 1096 990.5 1097 970.5 1098 969.5 1098 959.5 1099 958.5 1099 949.5 1100 948.5 1100 940.5 1101 939.5 1101 930.5 1102 929.5 1102 896.5 1103 895.5 1103 863.5 1104 862.5 1105 798.5 1106 797.5 1106.5 790 1119 790.5 1120 857.5 1121 858.5 1121 892.5 1122 893.5 1122 929.5 1123 930.5 1124 952.5 1125 953.5 1125 965.5 1126 966.5 1126 980.5 1127 981.5 1127 1009.5 1126 1010.5 1126 1019.5 1125 1020.5 1125 1024.5 1122 1031.5 1122 1034.5 1112.5 1052ZM1186.5 1083 1159.5 1083 1158.5 1082 1152.5 1082 1148.5 1080 1145.5 1080 1132.5 1074 1127 1069.5 1126 1065.5 1143.5 1056 1146.5 1056 1153.5 1053 1157.5 1053 1158.5 1052 1167.5 1052 1168.5 1051 1196.5 1051 1197.5 1052 1224.5 1053 1225.5 1054 1236.5 1054 1237.5 1055 1247.5 1055 1248.5 1056 1330.5 1057 1331.5 1058 1373.5 1058 1374.5 1059 1389 1059.5 1388.5 1073 1364.5 1073 1363.5 1074 1323.5 1074 1322.5 1075 1283.5 1075 1282.5 1076 1248.5 1076 1247.5 1077 1238.5 1077 1237.5 1078 1229.5 1078 1228.5 1079 1208.5 1080 1207.5 1081 1197.5 1081 1196.5 1082 1187.5 1082 1186.5 1083ZM1058.5 1077 1030.5 1077 1029.5 1076 1012.5 1076 1011.5 1075 996.5 1075 995.5 1074 982.5 1074 981.5 1073 948.5 1073 947.5 1072 839.5 1071 836 1069.5 836 1061.5 868.5 1061 869.5 1060 920.5 1060 921.5 1059 968.5 1059 969.5 1058 985.5 1058 986.5 1057 998.5 1057 999.5 1056 1012.5 1056 1013.5 1055 1026.5 1055 1027.5 1054 1051.5 1053 1052.5 1054 1071.5 1054 1072.5 1055 1081.5 1056 1082.5 1057 1087.5 1058 1090.5 1060 1092.5 1060 1094.5 1062 1097.5 1063 1099 1065.5 1088.5 1071 1086.5 1071 1079.5 1074 1075.5 1074 1074.5 1075 1070.5 1075 1069.5 1076 1059.5 1076 1058.5 1077ZM1118.5 1342 1105 1341.5 1105 1310.5 1104 1309.5 1104 1267.5 1103 1266.5 1103 1222.5 1102 1221.5 1102 1197.5 1101 1196.5 1100 1174.5 1099 1173.5 1099 1160.5 1098 1159.5 1098 1143.5 1097 1142.5 1097 1127.5 1098 1126.5 1098 1114.5 1099 1113.5 1099 1109.5 1100 1108.5 1100 1105.5 1101 1104.5 1101 1101.5 1102 1100.5 1103 1095.5 1112.5 1079 1117 1081.5 1123 1090.5 1124 1094.5 1126 1097.5 1126 1100.5 1128 1104.5 1128 1108.5 1129 1109.5 1129 1144.5 1128 1145.5 1127 1165.5 1126 1166.5 1126 1175.5 1125 1176.5 1125 1185.5 1124 1186.5 1124 1195.5 1123 1196.5 1123 1212.5 1122 1213.5 1122 1252.5 1121 1253.5 1121 1292.5 1120 1293.5 1120 1333.5 1119 1334.5 1118.5 1342Z"/>
<path fill="#e5ff10" fill-rule="evenodd" d="M1112.5 1050 1109.5 1050 1102 1040.5 1099 1033.5 1099 1030.5 1097 1026.5 1097 1021.5 1096 1020.5 1096 987.5 1097 986.5 1097 976.5 1098 975.5 1098 965.5 1099 964.5 1099 954.5 1100 953.5 1101 934.5 1102 933.5 1103 876.5 1104 875.5 1104 843.5 1105 842.5 1105 811.5 1106 810.5 1106.5 790 1118 790.5 1118 802.5 1119 803.5 1119 836.5 1120 837.5 1120 870.5 1121 871.5 1122 934.5 1123 935.5 1123 946.5 1124 947.5 1124 958.5 1125 959.5 1126 991.5 1127 992.5 1126 1014.5 1125 1015.5 1124 1025.5 1123 1026.5 1120 1037.5 1118 1039.5 1112.5 1050ZM1190.5 1082 1157.5 1082 1156.5 1081 1151.5 1081 1150.5 1080 1144.5 1079 1137.5 1076 1128 1068.5 1128 1065.5 1143.5 1057 1145.5 1057 1152.5 1054 1163.5 1053 1164.5 1052 1176.5 1052 1177.5 1051 1185.5 1051 1186.5 1052 1203.5 1052 1204.5 1053 1218.5 1053 1219.5 1054 1242.5 1055 1243.5 1056 1268.5 1056 1269.5 1057 1313.5 1057 1314.5 1058 1357.5 1058 1358.5 1059 1389 1059.5 1388.5 1073 1349.5 1073 1348.5 1074 1308.5 1074 1307.5 1075 1268.5 1075 1267.5 1076 1244.5 1076 1243.5 1077 1234.5 1077 1233.5 1078 1224.5 1078 1223.5 1079 1213.5 1079 1212.5 1080 1202.5 1080 1201.5 1081 1191.5 1081 1190.5 1082ZM1046.5 1077 1040.5 1077 1039.5 1076 1019.5 1076 1018.5 1075 1001.5 1075 1000.5 1074 986.5 1074 985.5 1073 963.5 1073 962.5 1072 912.5 1072 911.5 1071 856.5 1071 855.5 1070 836.5 1070 836 1061.5 885.5 1061 886.5 1060 934.5 1060 935.5 1059 976.5 1059 977.5 1058 1003.5 1057 1004.5 1056 1018.5 1056 1019.5 1055 1032.5 1055 1033.5 1054 1067.5 1054 1068.5 1055 1073.5 1055 1074.5 1056 1078.5 1056 1079.5 1057 1082.5 1057 1083.5 1058 1088.5 1059 1095.5 1063 1097 1065.5 1091.5 1069 1089.5 1069 1081.5 1073 1072.5 1074 1071.5 1075 1066.5 1075 1065.5 1076 1047.5 1076 1046.5 1077ZM1118.5 1342 1106.5 1342 1106 1337.5 1105 1336.5 1104 1250.5 1103 1249.5 1103 1204.5 1102 1203.5 1102 1192.5 1101 1191.5 1101 1180.5 1100 1179.5 1100 1167.5 1099 1166.5 1099 1151.5 1098 1150.5 1098 1122.5 1099 1121.5 1099 1112.5 1100 1111.5 1100 1107.5 1103 1100.5 1103 1097.5 1108 1087.5 1112.5 1081 1115.5 1082 1118 1084.5 1125 1096.5 1125 1099.5 1128 1107.5 1128 1119.5 1129 1120.5 1129 1137.5 1128 1138.5 1128 1148.5 1127 1149.5 1127 1159.5 1126 1160.5 1126 1170.5 1125 1171.5 1125 1181.5 1124 1182.5 1123 1201.5 1122 1202.5 1121 1277.5 1120 1278.5 1120 1318.5 1119 1319.5 1118.5 1342Z"/>
<path fill="#fff800" fill-rule="evenodd" d="M1111.5 1049 1109.5 1048 1103 1040.5 1098 1027.5 1098 1023.5 1097 1022.5 1097 1010.5 1096 1009.5 1096 994.5 1097 993.5 1097 982.5 1098 981.5 1098 971.5 1099 970.5 1099 959.5 1100 958.5 1101 938.5 1102 937.5 1102 926.5 1103 925.5 1103 889.5 1104 888.5 1104 856.5 1105 855.5 1106 792.5 1107.5 790 1117.5 790 1118 816.5 1119 817.5 1119 850.5 1120 851.5 1120 884.5 1121 885.5 1121 926.5 1122 927.5 1122 939.5 1123 940.5 1124 965.5 1125 966.5 1126 1005.5 1125 1006.5 1125 1017.5 1124 1018.5 1123 1026.5 1117 1041.5 1111.5 1049ZM1183.5 1082 1155.5 1081 1150.5 1079 1147.5 1079 1143.5 1077 1141.5 1077 1134.5 1073 1129 1066.5 1136.5 1061 1142.5 1058 1144.5 1058 1151.5 1055 1154.5 1055 1155.5 1054 1159.5 1054 1160.5 1053 1171.5 1053 1172.5 1052 1210.5 1053 1211.5 1054 1225.5 1054 1226.5 1055 1237.5 1055 1238.5 1056 1250.5 1056 1251.5 1057 1296.5 1057 1297.5 1058 1384.5 1059 1385.5 1060 1389 1060.5 1388.5 1072 1374.5 1072 1373.5 1073 1333.5 1073 1332.5 1074 1292.5 1074 1291.5 1075 1252.5 1075 1251.5 1076 1240.5 1076 1239.5 1077 1219.5 1078 1218.5 1079 1207.5 1079 1206.5 1080 1196.5 1080 1195.5 1081 1184.5 1081 1183.5 1082ZM1059.5 1076 1027.5 1076 1026.5 1075 1008.5 1075 1007.5 1074 976.5 1073 975.5 1072 927.5 1072 926.5 1071 836.5 1070 836 1062.5 845.5 1062 846.5 1061 900.5 1061 901.5 1060 980.5 1059 981.5 1058 1008.5 1057 1009.5 1056 1039.5 1055 1040.5 1054 1055.5 1054 1056.5 1055 1071.5 1055 1072.5 1056 1080.5 1057 1092.5 1062 1095 1064.5 1093.5 1067 1082.5 1072 1079.5 1072 1074.5 1074 1070.5 1074 1069.5 1075 1060.5 1075 1059.5 1076ZM1118.5 1342 1106 1341.5 1106 1321.5 1105 1320.5 1105 1277.5 1104 1276.5 1104 1233.5 1103 1232.5 1103 1199.5 1102 1198.5 1101 1174.5 1100 1173.5 1099 1140.5 1098 1139.5 1099 1118.5 1100 1117.5 1101 1106.5 1102 1105.5 1105 1094.5 1112.5 1083 1115.5 1084 1121 1090.5 1125 1099.5 1125 1102.5 1127 1106.5 1127 1112.5 1128 1113.5 1128 1142.5 1127 1143.5 1127 1153.5 1126 1154.5 1126 1165.5 1125 1166.5 1125 1176.5 1124 1177.5 1124 1186.5 1123 1187.5 1123 1197.5 1122 1198.5 1122 1221.5 1121 1222.5 1121 1261.5 1120 1262.5 1120 1302.5 1119 1303.5 1118.5 1342Z"/>
<path fill="#ffe800" fill-rule="evenodd" d="M1111.5 1047 1110.5 1047 1104 1040.5 1101 1034.5 1100 1028.5 1098 1024.5 1098 1018.5 1097 1017.5 1097 989.5 1098 988.5 1098 977.5 1099 976.5 1099 965.5 1100 964.5 1100 953.5 1101 952.5 1101 943.5 1102 942.5 1102 932.5 1103 931.5 1103 901.5 1104 900.5 1104 869.5 1105 868.5 1105 837.5 1106 836.5 1106 806.5 1107 805.5 1107 790.5 1116.5 790 1117 797.5 1118 798.5 1118 830.5 1119 831.5 1119 863.5 1120 864.5 1120 898.5 1121 899.5 1121 932.5 1122 933.5 1123 958.5 1124 959.5 1124 974.5 1125 975.5 1125 1010.5 1124 1011.5 1123 1023.5 1121 1027.5 1120 1033.5 1116 1041.5 1111.5 1047ZM1188.5 1081 1160.5 1081 1159.5 1080 1153.5 1080 1149.5 1078 1143.5 1077 1137.5 1074 1131 1067.5 1131 1066.5 1136.5 1062 1144.5 1058 1150.5 1057 1154.5 1055 1166.5 1054 1167.5 1053 1202.5 1053 1203.5 1054 1218.5 1054 1219.5 1055 1244.5 1056 1245.5 1057 1323.5 1058 1324.5 1059 1367.5 1059 1368.5 1060 1389 1060.5 1388.5 1072 1358.5 1072 1357.5 1073 1317.5 1073 1316.5 1074 1246.5 1075 1245.5 1076 1235.5 1076 1234.5 1077 1225.5 1077 1224.5 1078 1213.5 1078 1212.5 1079 1201.5 1079 1200.5 1080 1189.5 1080 1188.5 1081ZM1049.5 1076 1014.5 1075 1013.5 1074 996.5 1074 995.5 1073 980.5 1073 979.5 1072 892.5 1071 891.5 1070 836.5 1070 836 1062.5 862.5 1062 863.5 1061 961.5 1060 962.5 1059 984.5 1059 985.5 1058 998.5 1058 999.5 1057 1029.5 1056 1030.5 1055 1066.5 1055 1067.5 1056 1073.5 1056 1074.5 1057 1082.5 1058 1085.5 1060 1087.5 1060 1093 1064.5 1093 1065.5 1088.5 1069 1086.5 1069 1080.5 1072 1072.5 1073 1071.5 1074 1066.5 1074 1065.5 1075 1050.5 1075 1049.5 1076ZM1117.5 1342 1106 1341.5 1105 1260.5 1104 1259.5 1104 1214.5 1103 1213.5 1103 1194.5 1102 1193.5 1101 1167.5 1100 1166.5 1100 1149.5 1099 1148.5 1099 1126.5 1100 1125.5 1100 1114.5 1101 1113.5 1101 1109.5 1102 1108.5 1102 1105.5 1103 1104.5 1105 1096.5 1108 1090.5 1112.5 1085 1114.5 1085 1120 1090.5 1123 1096.5 1123 1098.5 1126 1105.5 1126 1110.5 1127 1111.5 1127 1130.5 1128 1131.5 1128 1135.5 1127 1136.5 1127 1147.5 1126 1148.5 1126 1159.5 1125 1160.5 1125 1171.5 1124 1172.5 1124 1182.5 1123 1183.5 1123 1192.5 1122 1193.5 1122 1205.5 1121 1206.5 1120 1286.5 1119 1287.5 1119 1327.5 1118 1328.5 1117.5 1342Z"/>
<path fill="#ffd500" fill-rule="evenodd" d="M1112.5 1045 1110.5 1045 1107.5 1043 1102 1034.5 1102 1032.5 1099 1025.5 1099 1020.5 1098 1019.5 1098 1000.5 1097 999.5 1097 996.5 1098 995.5 1098 984.5 1099 983.5 1099 971.5 1100 970.5 1100 959.5 1101 958.5 1101 947.5 1102 946.5 1102 936.5 1103 935.5 1103 917.5 1104 916.5 1104 882.5 1105 881.5 1105 850.5 1106 849.5 1106 819.5 1107 818.5 1107.5 790 1117 790.5 1118 843.5 1119 844.5 1119 877.5 1120 878.5 1120 916.5 1121 917.5 1121 937.5 1122 938.5 1123 966.5 1124 967.5 1124 985.5 1125 986.5 1125 1002.5 1124 1003.5 1124 1014.5 1123 1015.5 1123 1020.5 1122 1021.5 1122 1024.5 1121 1025.5 1118 1036.5 1112.5 1045ZM1181.5 1081 1179.5 1081 1178.5 1080 1158.5 1080 1157.5 1079 1152.5 1079 1151.5 1078 1143.5 1076 1136.5 1072 1134 1069.5 1133 1065.5 1141.5 1060 1146.5 1059 1153.5 1056 1163.5 1055 1164.5 1054 1174.5 1054 1175.5 1053 1210.5 1054 1211.5 1055 1226.5 1055 1227.5 1056 1239.5 1056 1240.5 1057 1260.5 1057 1261.5 1058 1306.5 1058 1307.5 1059 1350.5 1059 1351.5 1060 1389 1060.5 1389 1070.5 1383.5 1071 1382.5 1072 1342.5 1072 1341.5 1073 1261.5 1074 1260.5 1075 1242.5 1075 1241.5 1076 1219.5 1077 1218.5 1078 1207.5 1078 1206.5 1079 1194.5 1079 1193.5 1080 1182.5 1080 1181.5 1081ZM1059.5 1075 1022.5 1075 1021.5 1074 1002.5 1074 1001.5 1073 985.5 1073 984.5 1072 957.5 1072 956.5 1071 852.5 1070 851.5 1069 836.5 1069 836 1062.5 880.5 1062 881.5 1061 928.5 1061 929.5 1060 974.5 1060 975.5 1059 989.5 1059 990.5 1058 1004.5 1058 1005.5 1057 1020.5 1057 1021.5 1056 1057.5 1055 1058.5 1056 1070.5 1056 1071.5 1057 1075.5 1057 1076.5 1058 1083.5 1059 1090.5 1063 1092 1065.5 1090.5 1067 1081.5 1071 1074.5 1072 1073.5 1073 1069.5 1073 1068.5 1074 1060.5 1074 1059.5 1075ZM1117.5 1342 1107 1341.5 1107 1330.5 1106 1329.5 1106 1287.5 1105 1286.5 1105 1243.5 1104 1242.5 1104 1201.5 1103 1200.5 1102 1175.5 1101 1174.5 1101 1158.5 1100 1157.5 1100 1121.5 1101 1120.5 1101 1113.5 1102 1112.5 1102 1108.5 1104 1104.5 1105 1098.5 1109 1090.5 1112.5 1086 1117 1088.5 1122 1095.5 1122 1097.5 1124 1101.5 1124 1104.5 1125 1105.5 1125 1108.5 1126 1109.5 1126 1119.5 1127 1120.5 1127 1140.5 1126 1141.5 1125 1164.5 1124 1165.5 1124 1177.5 1123 1178.5 1123 1188.5 1122 1189.5 1122 1199.5 1121 1200.5 1120 1270.5 1119 1271.5 1119 1311.5 1118 1312.5 1117.5 1342Z"/>
<path fill="#ffbe00" fill-rule="evenodd" d="M1111.5 1044 1105 1038.5 1103 1035.5 1102 1030.5 1101 1029.5 1101 1026.5 1099 1021.5 1099 1010.5 1098 1009.5 1098 991.5 1099 990.5 1099 978.5 1100 977.5 1100 965.5 1101 964.5 1101 952.5 1102 951.5 1103 930.5 1104 929.5 1104 894.5 1105 893.5 1105 863.5 1106 862.5 1106 833.5 1107 832.5 1107 803.5 1108 802.5 1108 790.5 1115.5 790 1116 795.5 1117 796.5 1118 857.5 1119 858.5 1119 891.5 1120 892.5 1120 929.5 1121 930.5 1122 957.5 1123 958.5 1123 976.5 1124 977.5 1124 1006.5 1123 1007.5 1123 1016.5 1122 1017.5 1121 1025.5 1116 1038.5 1111.5 1044ZM1186.5 1080 1169.5 1080 1168.5 1079 1156.5 1079 1155.5 1078 1152.5 1078 1148.5 1076 1142.5 1075 1139.5 1073 1134 1066.5 1136.5 1064 1143.5 1060 1151.5 1058 1152.5 1057 1155.5 1057 1156.5 1056 1160.5 1056 1161.5 1055 1170.5 1055 1171.5 1054 1200.5 1054 1201.5 1055 1219.5 1055 1220.5 1056 1233.5 1056 1234.5 1057 1247.5 1057 1248.5 1058 1332.5 1059 1333.5 1060 1375.5 1060 1376.5 1061 1389 1061.5 1388.5 1071 1366.5 1071 1365.5 1072 1326.5 1072 1325.5 1073 1285.5 1073 1284.5 1074 1249.5 1074 1248.5 1075 1237.5 1075 1236.5 1076 1213.5 1077 1212.5 1078 1200.5 1078 1199.5 1079 1187.5 1079 1186.5 1080ZM1051.5 1075 1009.5 1074 1008.5 1073 991.5 1073 990.5 1072 972.5 1072 971.5 1071 922.5 1071 921.5 1070 836.5 1069 836 1063.5 843.5 1063 844.5 1062 897.5 1062 898.5 1061 978.5 1060 979.5 1059 994.5 1059 995.5 1058 1026.5 1057 1027.5 1056 1066.5 1056 1067.5 1057 1072.5 1057 1073.5 1058 1081.5 1059 1087.5 1062 1090 1064.5 1088.5 1067 1079.5 1071 1072.5 1072 1071.5 1073 1066.5 1073 1065.5 1074 1052.5 1074 1051.5 1075ZM1116.5 1342 1107 1341.5 1106 1270.5 1105 1269.5 1105 1224.5 1104 1223.5 1104 1196.5 1103 1195.5 1102 1166.5 1101 1165.5 1101 1146.5 1100 1145.5 1100 1129.5 1101 1128.5 1102 1111.5 1103 1110.5 1103 1107.5 1104 1106.5 1107 1095.5 1112.5 1088 1115.5 1089 1121 1095.5 1121 1097.5 1124 1104.5 1124 1107.5 1125 1108.5 1125 1113.5 1126 1114.5 1126 1145.5 1125 1146.5 1124 1171.5 1123 1172.5 1123 1183.5 1122 1184.5 1122 1194.5 1121 1195.5 1121 1214.5 1120 1215.5 1120 1254.5 1119 1255.5 1118 1335.5 1117 1336.5 1116.5 1342Z"/>
<path fill="#ffa500" fill-rule="evenodd" d="M1112.5 1042 1110.5 1042 1107.5 1040 1104 1035.5 1104 1033.5 1101 1026.5 1101 1023.5 1100 1022.5 1100 1016.5 1099 1015.5 1099 986.5 1100 985.5 1101 958.5 1102 957.5 1102 946.5 1103 945.5 1103 934.5 1104 933.5 1105 876.5 1106 875.5 1106 846.5 1107 845.5 1107 817.5 1108 816.5 1108 791.5 1109.5 790 1116 790.5 1117 839.5 1118 840.5 1118 871.5 1119 872.5 1119 906.5 1120 907.5 1120 935.5 1121 936.5 1122 966.5 1123 967.5 1123 990.5 1124 991.5 1122 1018.5 1121 1019.5 1121 1022.5 1120 1023.5 1120 1026.5 1119 1027.5 1118 1032.5 1112.5 1042ZM1191.5 1079 1162.5 1079 1161.5 1078 1155.5 1078 1154.5 1077 1151.5 1077 1150.5 1076 1142.5 1074 1138 1070.5 1136 1067.5 1136 1065.5 1145.5 1060 1151.5 1059 1155.5 1057 1158.5 1057 1159.5 1056 1166.5 1056 1167.5 1055 1178.5 1055 1179.5 1054 1186.5 1054 1187.5 1055 1227.5 1056 1228.5 1057 1241.5 1057 1242.5 1058 1270.5 1058 1271.5 1059 1315.5 1059 1316.5 1060 1358.5 1060 1359.5 1061 1389 1061.5 1388.5 1071 1350.5 1071 1349.5 1072 1309.5 1072 1308.5 1073 1269.5 1073 1268.5 1074 1244.5 1074 1243.5 1075 1220.5 1076 1219.5 1077 1192.5 1078 1191.5 1079ZM1059.5 1074 1017.5 1074 1016.5 1073 997.5 1073 996.5 1072 979.5 1072 978.5 1071 937.5 1071 936.5 1070 836.5 1069 836 1063.5 862.5 1063 863.5 1062 956.5 1061 957.5 1060 983.5 1060 984.5 1059 999.5 1059 1000.5 1058 1034.5 1057 1035.5 1056 1057.5 1056 1058.5 1057 1069.5 1057 1070.5 1058 1074.5 1058 1075.5 1059 1082.5 1060 1088 1064.5 1088 1065.5 1083.5 1069 1081.5 1069 1077.5 1071 1069.5 1072 1068.5 1073 1060.5 1073 1059.5 1074ZM1116.5 1342 1108.5 1342 1108 1337.5 1107 1336.5 1106 1252.5 1105 1251.5 1105 1206.5 1104 1205.5 1104 1190.5 1103 1189.5 1103 1176.5 1102 1175.5 1102 1156.5 1101 1155.5 1101 1125.5 1102 1124.5 1102 1115.5 1103 1114.5 1103 1110.5 1104 1109.5 1104 1106.5 1105 1105.5 1107 1097.5 1109 1093.5 1112.5 1090 1114.5 1090 1120 1095.5 1120 1097.5 1122 1100.5 1122 1103.5 1123 1104.5 1124 1111.5 1125 1112.5 1125 1127.5 1126 1128.5 1125 1151.5 1124 1152.5 1124 1164.5 1123 1165.5 1123 1177.5 1122 1178.5 1121 1201.5 1120 1202.5 1119 1278.5 1118 1279.5 1118 1318.5 1117 1319.5 1116.5 1342Z"/>
<path fill="#ff8a00" fill-rule="evenodd" d="M1112.5 1040 1109.5 1040 1106 1036.5 1104 1032.5 1104 1030.5 1101 1023.5 1101 1019.5 1100 1018.5 1100 1002.5 1099 1001.5 1099 994.5 1100 993.5 1100 980.5 1101 979.5 1101 965.5 1102 964.5 1102 952.5 1103 951.5 1103 940.5 1104 939.5 1104 925.5 1105 924.5 1106 859.5 1107 858.5 1107 831.5 1108 830.5 1108 805.5 1109 804.5 1109.5 790 1115 790.5 1115 798.5 1116 799.5 1117 853.5 1118 854.5 1118 885.5 1119 886.5 1119 925.5 1120 926.5 1120 941.5 1121 942.5 1121 957.5 1122 958.5 1122 978.5 1123 979.5 1123 1003.5 1122 1004.5 1121 1019.5 1120 1020.5 1120 1023.5 1119 1024.5 1116 1035.5 1112.5 1040ZM1183.5 1079 1176.5 1079 1175.5 1078 1159.5 1078 1158.5 1077 1154.5 1077 1141.5 1072 1138 1068.5 1138 1065.5 1142.5 1062 1144.5 1062 1154.5 1058 1163.5 1057 1164.5 1056 1173.5 1056 1174.5 1055 1219.5 1056 1220.5 1057 1235.5 1057 1236.5 1058 1251.5 1058 1252.5 1059 1296.5 1059 1297.5 1060 1380.5 1061 1381.5 1062 1389 1062.5 1388.5 1070 1372.5 1070 1371.5 1071 1333.5 1071 1332.5 1072 1293.5 1072 1292.5 1073 1253.5 1073 1252.5 1074 1238.5 1074 1237.5 1075 1213.5 1076 1212.5 1077 1184.5 1078 1183.5 1079ZM1052.5 1074 1027.5 1074 1026.5 1073 1003.5 1073 1002.5 1072 985.5 1072 984.5 1071 952.5 1071 951.5 1070 906.5 1070 905.5 1069 857.5 1069 856.5 1068 836.5 1068 836 1063.5 881.5 1063 882.5 1062 926.5 1062 927.5 1061 970.5 1061 971.5 1060 989.5 1060 990.5 1059 1023.5 1058 1024.5 1057 1065.5 1057 1066.5 1058 1071.5 1058 1072.5 1059 1082.5 1061 1086 1063.5 1087 1065.5 1081.5 1069 1071.5 1071 1070.5 1072 1065.5 1072 1064.5 1073 1053.5 1073 1052.5 1074ZM1115.5 1342 1108 1341.5 1108 1319.5 1107 1318.5 1107 1277.5 1106 1276.5 1106 1233.5 1105 1232.5 1105 1198.5 1104 1197.5 1104 1183.5 1103 1182.5 1103 1166.5 1102 1165.5 1102 1141.5 1101 1140.5 1103 1113.5 1104 1112.5 1104 1109.5 1105 1108.5 1108 1097.5 1112.5 1091 1115.5 1092 1118 1094.5 1121 1100.5 1121 1102.5 1123 1106.5 1123 1110.5 1124 1111.5 1124 1120.5 1125 1121.5 1125 1142.5 1124 1143.5 1123 1171.5 1122 1172.5 1121 1196.5 1120 1197.5 1120 1221.5 1119 1222.5 1119 1261.5 1118 1262.5 1118 1301.5 1117 1302.5 1117 1339.5 1115.5 1342Z"/>
<path fill="#ff6c00" fill-rule="evenodd" d="M1111.5 1039 1106 1034.5 1102 1023.5 1102 1020.5 1101 1019.5 1101 1008.5 1100 1007.5 1100 988.5 1101 987.5 1102 958.5 1103 957.5 1104 933.5 1105 932.5 1105 902.5 1106 901.5 1106 872.5 1107 871.5 1107 845.5 1108 844.5 1109 797.5 1110 796.5 1110 790.5 1113.5 790 1115 792.5 1116 838.5 1117 839.5 1118 899.5 1119 900.5 1119 933.5 1120 934.5 1121 968.5 1122 969.5 1122 1006.5 1121 1007.5 1121 1015.5 1120 1016.5 1119 1024.5 1117 1027.5 1115 1035.5 1111.5 1039ZM1189.5 1078 1170.5 1078 1169.5 1077 1158.5 1077 1157.5 1076 1154.5 1076 1143.5 1072 1139 1066.5 1142.5 1063 1144.5 1063 1157.5 1058 1161.5 1058 1162.5 1057 1170.5 1057 1171.5 1056 1208.5 1056 1209.5 1057 1228.5 1057 1229.5 1058 1243.5 1058 1244.5 1059 1321.5 1060 1322.5 1061 1362.5 1061 1363.5 1062 1389 1062.5 1388.5 1070 1354.5 1070 1353.5 1071 1315.5 1071 1314.5 1072 1245.5 1073 1244.5 1074 1220.5 1075 1219.5 1076 1205.5 1076 1204.5 1077 1190.5 1077 1189.5 1078ZM1043.5 1074 1041.5 1074 1040.5 1073 1012.5 1073 1011.5 1072 991.5 1072 990.5 1071 968.5 1071 967.5 1070 922.5 1070 921.5 1069 836.5 1068 836 1064.5 853.5 1064 854.5 1063 899.5 1063 900.5 1062 977.5 1061 978.5 1060 994.5 1060 995.5 1059 1031.5 1058 1032.5 1057 1057.5 1057 1058.5 1058 1068.5 1058 1069.5 1059 1073.5 1059 1077.5 1061 1080.5 1061 1085 1064.5 1082.5 1068 1072.5 1070 1071.5 1071 1068.5 1071 1067.5 1072 1060.5 1072 1059.5 1073 1044.5 1073 1043.5 1074ZM1115.5 1342 1109.5 1342 1108 1338.5 1107 1259.5 1106 1258.5 1106 1214.5 1105 1213.5 1105 1192.5 1104 1191.5 1104 1176.5 1103 1175.5 1103 1153.5 1102 1152.5 1102 1128.5 1103 1127.5 1104 1112.5 1105 1111.5 1105 1108.5 1106 1107.5 1107 1102.5 1109 1099.5 1109 1097.5 1112.5 1093 1114.5 1093 1119 1098.5 1119 1100.5 1122 1106.5 1123 1116.5 1124 1117.5 1124 1148.5 1123 1149.5 1122 1178.5 1121 1179.5 1121 1190.5 1120 1191.5 1120 1205.5 1119 1206.5 1118 1283.5 1117 1284.5 1117 1321.5 1116 1322.5 1115.5 1342Z"/>
<path fill="#ff3c00" fill-rule="evenodd" d="M1112.5 1037 1108.5 1036 1105 1029.5 1104 1024.5 1103 1023.5 1103 1020.5 1102 1019.5 1102 1013.5 1101 1012.5 1101 982.5 1102 981.5 1102 966.5 1103 965.5 1103 952.5 1104 951.5 1104 938.5 1105 937.5 1105 919.5 1106 918.5 1106 885.5 1107 884.5 1108 833.5 1109 832.5 1110 795.5 1111 794.5 1111.5 790 1112.5 790 1114 792.5 1114 806.5 1115 807.5 1116 853.5 1117 854.5 1117 881.5 1118 882.5 1118 918.5 1119 919.5 1119 940.5 1120 941.5 1121 983.5 1122 984.5 1122 999.5 1121 1000.5 1120 1017.5 1119 1018.5 1119 1021.5 1118 1022.5 1117 1027.5 1112.5 1037ZM1195.5 1077 1166.5 1077 1165.5 1076 1158.5 1076 1157.5 1075 1154.5 1075 1150.5 1073 1148.5 1073 1142.5 1070 1141 1067.5 1141 1065.5 1156.5 1059 1159.5 1059 1160.5 1058 1167.5 1058 1168.5 1057 1177.5 1057 1178.5 1056 1193.5 1056 1194.5 1057 1219.5 1057 1220.5 1058 1258.5 1059 1259.5 1060 1302.5 1060 1303.5 1061 1379.5 1062 1380.5 1063 1389 1063.5 1388.5 1069 1372.5 1069 1371.5 1070 1336.5 1070 1335.5 1071 1298.5 1071 1297.5 1072 1259.5 1072 1258.5 1073 1240.5 1073 1239.5 1074 1212.5 1075 1211.5 1076 1196.5 1076 1195.5 1077ZM1052.5 1073 1022.5 1073 1021.5 1072 998.5 1072 997.5 1071 978.5 1071 977.5 1070 937.5 1070 936.5 1069 897.5 1069 896.5 1068 855.5 1068 854.5 1067 836.5 1067 836 1065.5 839.5 1064 874.5 1064 875.5 1063 914.5 1063 915.5 1062 983.5 1061 984.5 1060 1020.5 1059 1021.5 1058 1041.5 1058 1042.5 1057 1044.5 1057 1045.5 1058 1064.5 1058 1065.5 1059 1070.5 1059 1074.5 1061 1080.5 1062 1083 1064.5 1082.5 1067 1080.5 1067 1073.5 1070 1065.5 1071 1064.5 1072 1053.5 1072 1052.5 1073ZM1114.5 1342 1109 1341.5 1109 1320.5 1108 1319.5 1108 1281.5 1107 1280.5 1107 1240.5 1106 1239.5 1106 1200.5 1105 1199.5 1104 1164.5 1103 1163.5 1103 1125.5 1104 1124.5 1104 1116.5 1105 1115.5 1105 1111.5 1106 1110.5 1108 1102.5 1111.5 1095 1114.5 1095 1117 1097.5 1120 1103.5 1121 1108.5 1122 1109.5 1122 1113.5 1123 1114.5 1123 1128.5 1124 1129.5 1123 1155.5 1122 1156.5 1122 1170.5 1121 1171.5 1120 1198.5 1119 1199.5 1118 1266.5 1117 1267.5 1117 1303.5 1116 1304.5 1116 1338.5 1114.5 1342Z"/>
<path fill="#ff0000" fill-rule="evenodd" d="M1112.5 1035 1110.5 1035 1108 1032.5 1105 1026.5 1104 1021.5 1103 1020.5 1103 1015.5 1102 1014.5 1102 1001.5 1101 1000.5 1101 993.5 1102 992.5 1102 976.5 1103 975.5 1103 959.5 1104 958.5 1104 945.5 1105 944.5 1105 931.5 1106 930.5 1106 898.5 1107 897.5 1107 872.5 1108 871.5 1109 826.5 1110 825.5 1110 810.5 1111 809.5 1111 801.5 1112.5 800 1113 807.5 1114 808.5 1114 821.5 1115 822.5 1116 867.5 1117 868.5 1117 895.5 1118 896.5 1118 931.5 1119 932.5 1119 948.5 1120 949.5 1120 971.5 1121 972.5 1121 1003.5 1120 1004.5 1120 1011.5 1119 1012.5 1119 1018.5 1112.5 1035ZM1184.5 1077 1157.5 1075 1145.5 1070 1143 1067.5 1143 1065.5 1159.5 1059 1174.5 1058 1175.5 1057 1205.5 1057 1206.5 1058 1228.5 1058 1229.5 1059 1245.5 1059 1246.5 1060 1283.5 1060 1284.5 1061 1323.5 1061 1324.5 1062 1360.5 1062 1361.5 1063 1389 1063.5 1389 1067.5 1384.5 1068 1383.5 1069 1318.5 1070 1317.5 1071 1280.5 1071 1279.5 1072 1247.5 1072 1246.5 1073 1233.5 1073 1232.5 1074 1219.5 1074 1218.5 1075 1202.5 1075 1201.5 1076 1185.5 1076 1184.5 1077ZM1044.5 1073 1038.5 1073 1037.5 1072 985.5 1071 984.5 1070 953.5 1070 952.5 1069 913.5 1069 912.5 1068 849.5 1067 848.5 1066 843 1065.5 860.5 1065 861.5 1064 894.5 1064 895.5 1063 929.5 1063 930.5 1062 969.5 1062 970.5 1061 989.5 1061 990.5 1060 1008.5 1060 1009.5 1059 1029.5 1059 1030.5 1058 1055.5 1058 1056.5 1059 1066.5 1059 1067.5 1060 1071.5 1060 1075.5 1062 1077.5 1062 1082 1065.5 1077.5 1068 1074.5 1068 1066.5 1071 1059.5 1071 1058.5 1072 1045.5 1072 1044.5 1073ZM1114.5 1342 1110 1341.5 1110 1334.5 1109 1333.5 1108 1262.5 1107 1261.5 1107 1220.5 1106 1219.5 1106 1193.5 1105 1192.5 1105 1176.5 1104 1175.5 1104 1147.5 1103 1146.5 1103 1132.5 1104 1131.5 1105 1115.5 1106 1114.5 1106 1111.5 1107 1110.5 1109 1102.5 1112.5 1096 1116 1098.5 1120 1106.5 1121 1112.5 1122 1113.5 1122 1123.5 1123 1124.5 1123 1145.5 1122 1146.5 1121 1178.5 1120 1179.5 1120 1191.5 1119 1192.5 1119 1210.5 1118 1211.5 1118 1248.5 1117 1249.5 1117 1285.5 1116 1286.5 1116 1319.5 1115 1320.5 1114.5 1342Z"/>
<path fill="#e80000" fill-rule="evenodd" d="M1111.5 1005 1109 1000.5 1108 994.5 1109 993.5 1109 952.5 1110 951.5 1111 927.5 1112.5 926 1113 938.5 1114 939.5 1114 999.5 1113 1000.5 1113 1003.5 1111.5 1005ZM1043.5 1068 995.5 1067 994.5 1066 990 1065.5 997.5 1065 998.5 1064 1022.5 1064 1023.5 1063 1045.5 1063 1051 1065.5 1048.5 1067 1044.5 1067 1043.5 1068ZM1183.5 1070 1177.5 1069 1173 1066.5 1174.5 1065 1177.5 1065 1178.5 1064 1238.5 1064 1239.5 1065 1252 1065.5 1250.5 1067 1226.5 1068 1225.5 1069 1184.5 1069 1183.5 1070ZM1112.5 1207 1112 1201.5 1111 1200.5 1111 1186.5 1110 1185.5 1110 1133.5 1112.5 1127 1114 1128.5 1116 1133.5 1115 1184.5 1114 1185.5 1114 1198.5 1113 1199.5 1112.5 1207Z"/>
<path fill="#d00000" fill-rule="evenodd" d="M1111.5 998 1111 952.5 1112.5 952 1113 996.5 1111.5 998ZM1044.5 1066 1019 1065.5 1044.5 1065 1044.5 1066ZM1225.5 1067 1180 1066.5 1181.5 1065 1225.5 1065 1225.5 1067ZM1112.5 1181 1112.5 1133 1114 1134.5 1114 1165.5 1113 1166.5 1112.5 1181Z"/>
</g>
<rect x="120.30" y="68.50" width="574.90" height="574.80" fill="none" stroke="#000" stroke-width="2.7"/>
<line x1="131.30" y1="642.45" x2="131.30" y2="637.05" stroke="#000" stroke-width="3.1"/>
<line x1="131.30" y1="69.35" x2="131.30" y2="74.75" stroke="#000" stroke-width="3.1"/>
<line x1="121.15" y1="80.00" x2="126.55" y2="80.00" stroke="#000" stroke-width="3.1"/>
<line x1="694.35" y1="80.00" x2="688.95" y2="80.00" stroke="#000" stroke-width="3.1"/>
<line x1="158.95" y1="642.45" x2="158.95" y2="639.35" stroke="#000" stroke-width="3.1"/>
<line x1="158.95" y1="69.35" x2="158.95" y2="72.45" stroke="#000" stroke-width="3.1"/>
<line x1="121.15" y1="107.58" x2="124.25" y2="107.58" stroke="#000" stroke-width="3.1"/>
<line x1="694.35" y1="107.58" x2="691.25" y2="107.58" stroke="#000" stroke-width="3.1"/>
<line x1="186.60" y1="642.45" x2="186.60" y2="639.35" stroke="#000" stroke-width="3.1"/>
<line x1="186.60" y1="69.35" x2="186.60" y2="72.45" stroke="#000" stroke-width="3.1"/>
<line x1="121.15" y1="135.16" x2="124.25" y2="135.16" stroke="#000" stroke-width="3.1"/>
<line x1="694.35" y1="135.16" x2="691.25" y2="135.16" stroke="#000" stroke-width="3.1"/>
<line x1="214.25" y1="642.45" x2="214.25" y2="639.35" stroke="#000" stroke-width="3.1"/>
<line x1="214.25" y1="69.35" x2="214.25" y2="72.45" stroke="#000" stroke-width="3.1"/>
<line x1="121.15" y1="162.74" x2="124.25" y2="162.74" stroke="#000" stroke-width="3.1"/>
<line x1="694.35" y1="162.74" x2="691.25" y2="162.74" stroke="#000" stroke-width="3.1"/>
<line x1="241.90" y1="642.45" x2="241.90" y2="639.35" stroke="#000" stroke-width="3.1"/>
<line x1="241.90" y1="69.35" x2="241.90" y2="72.45" stroke="#000" stroke-width="3.1"/>
<line x1="121.15" y1="190.32" x2="124.25" y2="190.32" stroke="#000" stroke-width="3.1"/>
<line x1="694.35" y1="190.32" x2="691.25" y2="190.32" stroke="#000" stroke-width="3.1"/>
<line x1="269.55" y1="642.45" x2="269.55" y2="637.05" stroke="#000" stroke-width="3.1"/>
<line x1="269.55" y1="69.35" x2="269.55" y2="74.75" stroke="#000" stroke-width="3.1"/>
<line x1="121.15" y1="217.90" x2="126.55" y2="217.90" stroke="#000" stroke-width="3.1"/>
<line x1="694.35" y1="217.90" x2="688.95" y2="217.90" stroke="#000" stroke-width="3.1"/>
<line x1="297.20" y1="642.45" x2="297.20" y2="639.35" stroke="#000" stroke-width="3.1"/>
<line x1="297.20" y1="69.35" x2="297.20" y2="72.45" stroke="#000" stroke-width="3.1"/>
<line x1="121.15" y1="245.48" x2="124.25" y2="245.48" stroke="#000" stroke-width="3.1"/>
<line x1="694.35" y1="245.48" x2="691.25" y2="245.48" stroke="#000" stroke-width="3.1"/>
<line x1="324.85" y1="642.45" x2="324.85" y2="639.35" stroke="#000" stroke-width="3.1"/>
<line x1="324.85" y1="69.35" x2="324.85" y2="72.45" stroke="#000" stroke-width="3.1"/>
<line x1="121.15" y1="273.06" x2="124.25" y2="273.06" stroke="#000" stroke-width="3.1"/>
<line x1="694.35" y1="273.06" x2="691.25" y2="273.06" stroke="#000" stroke-width="3.1"/>
<line x1="352.50" y1="642.45" x2="352.50" y2="639.35" stroke="#000" stroke-width="3.1"/>
<line x1="352.50" y1="69.35" x2="352.50" y2="72.45" stroke="#000" stroke-width="3.1"/>
<line x1="121.15" y1="300.64" x2="124.25" y2="300.64" stroke="#000" stroke-width="3.1"/>
<line x1="694.35" y1="300.64" x2="691.25" y2="300.64" stroke="#000" stroke-width="3.1"/>
<line x1="380.15" y1="642.45" x2="380.15" y2="639.35" stroke="#000" stroke-width="3.1"/>
<line x1="380.15" y1="69.35" x2="380.15" y2="72.45" stroke="#000" stroke-width="3.1"/>
<line x1="121.15" y1="328.22" x2="124.25" y2="328.22" stroke="#000" stroke-width="3.1"/>
<line x1="694.35" y1="328.22" x2="691.25" y2="328.22" stroke="#000" stroke-width="3.1"/>
<line x1="407.80" y1="642.45" x2="407.80" y2="637.05" stroke="#000" stroke-width="3.1"/>
<line x1="407.80" y1="69.35" x2="407.80" y2="74.75" stroke="#000" stroke-width="3.1"/>
<line x1="121.15" y1="355.80" x2="126.55" y2="355.80" stroke="#000" stroke-width="3.1"/>
<line x1="694.35" y1="355.80" x2="688.95" y2="355.80" stroke="#000" stroke-width="3.1"/>
<line x1="435.45" y1="642.45" x2="435.45" y2="639.35" stroke="#000" stroke-width="3.1"/>
<line x1="435.45" y1="69.35" x2="435.45" y2="72.45" stroke="#000" stroke-width="3.1"/>
<line x1="121.15" y1="383.38" x2="124.25" y2="383.38" stroke="#000" stroke-width="3.1"/>
<line x1="694.35" y1="383.38" x2="691.25" y2="383.38" stroke="#000" stroke-width="3.1"/>
<line x1="463.10" y1="642.45" x2="463.10" y2="639.35" stroke="#000" stroke-width="3.1"/>
<line x1="463.10" y1="69.35" x2="463.10" y2="72.45" stroke="#000" stroke-width="3.1"/>
<line x1="121.15" y1="410.96" x2="124.25" y2="410.96" stroke="#000" stroke-width="3.1"/>
<line x1="694.35" y1="410.96" x2="691.25" y2="410.96" stroke="#000" stroke-width="3.1"/>
<line x1="490.75" y1="642.45" x2="490.75" y2="639.35" stroke="#000" stroke-width="3.1"/>
<line x1="490.75" y1="69.35" x2="490.75" y2="72.45" stroke="#000" stroke-width="3.1"/>
<line x1="121.15" y1="438.54" x2="124.25" y2="438.54" stroke="#000" stroke-width="3.1"/>
<line x1="694.35" y1="438.54" x2="691.25" y2="438.54" stroke="#000" stroke-width="3.1"/>
<line x1="518.40" y1="642.45" x2="518.40" y2="639.35" stroke="#000" stroke-width="3.1"/>
<line x1="518.40" y1="69.35" x2="518.40" y2="72.45" stroke="#000" stroke-width="3.1"/>
<line x1="121.15" y1="466.12" x2="124.25" y2="466.12" stroke="#000" stroke-width="3.1"/>
<line x1="694.35" y1="466.12" x2="691.25" y2="466.12" stroke="#000" stroke-width="3.1"/>
<line x1="546.05" y1="642.45" x2="546.05" y2="637.05" stroke="#000" stroke-width="3.1"/>
<line x1="546.05" y1="69.35" x2="546.05" y2="74.75" stroke="#000" stroke-width="3.1"/>
<line x1="121.15" y1="493.70" x2="126.55" y2="493.70" stroke="#000" stroke-width="3.1"/>
<line x1="694.35" y1="493.70" x2="688.95" y2="493.70" stroke="#000" stroke-width="3.1"/>
<line x1="573.70" y1="642.45" x2="573.70" y2="639.35" stroke="#000" stroke-width="3.1"/>
<line x1="573.70" y1="69.35" x2="573.70" y2="72.45" stroke="#000" stroke-width="3.1"/>
<line x1="121.15" y1="521.28" x2="124.25" y2="521.28" stroke="#000" stroke-width="3.1"/>
<line x1="694.35" y1="521.28" x2="691.25" y2="521.28" stroke="#000" stroke-width="3.1"/>
<line x1="601.35" y1="642.45" x2="601.35" y2="639.35" stroke="#000" stroke-width="3.1"/>
<line x1="601.35" y1="69.35" x2="601.35" y2="72.45" stroke="#000" stroke-width="3.1"/>
<line x1="121.15" y1="548.86" x2="124.25" y2="548.86" stroke="#000" stroke-width="3.1"/>
<line x1="694.35" y1="548.86" x2="691.25" y2="548.86" stroke="#000" stroke-width="3.1"/>
<line x1="629.00" y1="642.45" x2="629.00" y2="639.35" stroke="#000" stroke-width="3.1"/>
<line x1="629.00" y1="69.35" x2="629.00" y2="72.45" stroke="#000" stroke-width="3.1"/>
<line x1="121.15" y1="576.44" x2="124.25" y2="576.44" stroke="#000" stroke-width="3.1"/>
<line x1="694.35" y1="576.44" x2="691.25" y2="576.44" stroke="#000" stroke-width="3.1"/>
<line x1="656.65" y1="642.45" x2="656.65" y2="639.35" stroke="#000" stroke-width="3.1"/>
<line x1="656.65" y1="69.35" x2="656.65" y2="72.45" stroke="#000" stroke-width="3.1"/>
<line x1="121.15" y1="604.02" x2="124.25" y2="604.02" stroke="#000" stroke-width="3.1"/>
<line x1="694.35" y1="604.02" x2="691.25" y2="604.02" stroke="#000" stroke-width="3.1"/>
<line x1="684.30" y1="642.45" x2="684.30" y2="637.05" stroke="#000" stroke-width="3.1"/>
<line x1="684.30" y1="69.35" x2="684.30" y2="74.75" stroke="#000" stroke-width="3.1"/>
<line x1="121.15" y1="631.60" x2="126.55" y2="631.60" stroke="#000" stroke-width="3.1"/>
<line x1="694.35" y1="631.60" x2="688.95" y2="631.60" stroke="#000" stroke-width="3.1"/>
<rect x="824.60" y="69.00" width="574.30" height="574.30" fill="none" stroke="#000" stroke-width="2.7"/>
<line x1="836.00" y1="642.45" x2="836.00" y2="637.05" stroke="#000" stroke-width="3.1"/>
<line x1="836.00" y1="69.85" x2="836.00" y2="75.25" stroke="#000" stroke-width="3.1"/>
<line x1="825.45" y1="80.30" x2="830.85" y2="80.30" stroke="#000" stroke-width="3.1"/>
<line x1="1398.05" y1="80.30" x2="1392.65" y2="80.30" stroke="#000" stroke-width="3.1"/>
<line x1="863.58" y1="642.45" x2="863.58" y2="639.35" stroke="#000" stroke-width="3.1"/>
<line x1="863.58" y1="69.85" x2="863.58" y2="72.95" stroke="#000" stroke-width="3.1"/>
<line x1="825.45" y1="107.87" x2="828.55" y2="107.87" stroke="#000" stroke-width="3.1"/>
<line x1="1398.05" y1="107.87" x2="1394.95" y2="107.87" stroke="#000" stroke-width="3.1"/>
<line x1="891.16" y1="642.45" x2="891.16" y2="639.35" stroke="#000" stroke-width="3.1"/>
<line x1="891.16" y1="69.85" x2="891.16" y2="72.95" stroke="#000" stroke-width="3.1"/>
<line x1="825.45" y1="135.43" x2="828.55" y2="135.43" stroke="#000" stroke-width="3.1"/>
<line x1="1398.05" y1="135.43" x2="1394.95" y2="135.43" stroke="#000" stroke-width="3.1"/>
<line x1="918.74" y1="642.45" x2="918.74" y2="639.35" stroke="#000" stroke-width="3.1"/>
<line x1="918.74" y1="69.85" x2="918.74" y2="72.95" stroke="#000" stroke-width="3.1"/>
<line x1="825.45" y1="163.00" x2="828.55" y2="163.00" stroke="#000" stroke-width="3.1"/>
<line x1="1398.05" y1="163.00" x2="1394.95" y2="163.00" stroke="#000" stroke-width="3.1"/>
<line x1="946.32" y1="642.45" x2="946.32" y2="639.35" stroke="#000" stroke-width="3.1"/>
<line x1="946.32" y1="69.85" x2="946.32" y2="72.95" stroke="#000" stroke-width="3.1"/>
<line x1="825.45" y1="190.56" x2="828.55" y2="190.56" stroke="#000" stroke-width="3.1"/>
<line x1="1398.05" y1="190.56" x2="1394.95" y2="190.56" stroke="#000" stroke-width="3.1"/>
<line x1="973.90" y1="642.45" x2="973.90" y2="637.05" stroke="#000" stroke-width="3.1"/>
<line x1="973.90" y1="69.85" x2="973.90" y2="75.25" stroke="#000" stroke-width="3.1"/>
<line x1="825.45" y1="218.12" x2="830.85" y2="218.12" stroke="#000" stroke-width="3.1"/>
<line x1="1398.05" y1="218.12" x2="1392.65" y2="218.12" stroke="#000" stroke-width="3.1"/>
<line x1="1001.48" y1="642.45" x2="1001.48" y2="639.35" stroke="#000" stroke-width="3.1"/>
<line x1="1001.48" y1="69.85" x2="1001.48" y2="72.95" stroke="#000" stroke-width="3.1"/>
<line x1="825.45" y1="245.69" x2="828.55" y2="245.69" stroke="#000" stroke-width="3.1"/>
<line x1="1398.05" y1="245.69" x2="1394.95" y2="245.69" stroke="#000" stroke-width="3.1"/>
<line x1="1029.06" y1="642.45" x2="1029.06" y2="639.35" stroke="#000" stroke-width="3.1"/>
<line x1="1029.06" y1="69.85" x2="1029.06" y2="72.95" stroke="#000" stroke-width="3.1"/>
<line x1="825.45" y1="273.25" x2="828.55" y2="273.25" stroke="#000" stroke-width="3.1"/>
<line x1="1398.05" y1="273.25" x2="1394.95" y2="273.25" stroke="#000" stroke-width="3.1"/>
<line x1="1056.64" y1="642.45" x2="1056.64" y2="639.35" stroke="#000" stroke-width="3.1"/>
<line x1="1056.64" y1="69.85" x2="1056.64" y2="72.95" stroke="#000" stroke-width="3.1"/>
<line x1="825.45" y1="300.82" x2="828.55" y2="300.82" stroke="#000" stroke-width="3.1"/>
<line x1="1398.05" y1="300.82" x2="1394.95" y2="300.82" stroke="#000" stroke-width="3.1"/>
<line x1="1084.22" y1="642.45" x2="1084.22" y2="639.35" stroke="#000" stroke-width="3.1"/>
<line x1="1084.22" y1="69.85" x2="1084.22" y2="72.95" stroke="#000" stroke-width="3.1"/>
<line x1="825.45" y1="328.39" x2="828.55" y2="328.39" stroke="#000" stroke-width="3.1"/>
<line x1="1398.05" y1="328.39" x2="1394.95" y2="328.39" stroke="#000" stroke-width="3.1"/>
<line x1="1111.80" y1="642.45" x2="1111.80" y2="637.05" stroke="#000" stroke-width="3.1"/>
<line x1="1111.80" y1="69.85" x2="1111.80" y2="75.25" stroke="#000" stroke-width="3.1"/>
<line x1="825.45" y1="355.95" x2="830.85" y2="355.95" stroke="#000" stroke-width="3.1"/>
<line x1="1398.05" y1="355.95" x2="1392.65" y2="355.95" stroke="#000" stroke-width="3.1"/>
<line x1="1139.38" y1="642.45" x2="1139.38" y2="639.35" stroke="#000" stroke-width="3.1"/>
<line x1="1139.38" y1="69.85" x2="1139.38" y2="72.95" stroke="#000" stroke-width="3.1"/>
<line x1="825.45" y1="383.52" x2="828.55" y2="383.52" stroke="#000" stroke-width="3.1"/>
<line x1="1398.05" y1="383.52" x2="1394.95" y2="383.52" stroke="#000" stroke-width="3.1"/>
<line x1="1166.96" y1="642.45" x2="1166.96" y2="639.35" stroke="#000" stroke-width="3.1"/>
<line x1="1166.96" y1="69.85" x2="1166.96" y2="72.95" stroke="#000" stroke-width="3.1"/>
<line x1="825.45" y1="411.08" x2="828.55" y2="411.08" stroke="#000" stroke-width="3.1"/>
<line x1="1398.05" y1="411.08" x2="1394.95" y2="411.08" stroke="#000" stroke-width="3.1"/>
<line x1="1194.54" y1="642.45" x2="1194.54" y2="639.35" stroke="#000" stroke-width="3.1"/>
<line x1="1194.54" y1="69.85" x2="1194.54" y2="72.95" stroke="#000" stroke-width="3.1"/>
<line x1="825.45" y1="438.65" x2="828.55" y2="438.65" stroke="#000" stroke-width="3.1"/>
<line x1="1398.05" y1="438.65" x2="1394.95" y2="438.65" stroke="#000" stroke-width="3.1"/>
<line x1="1222.12" y1="642.45" x2="1222.12" y2="639.35" stroke="#000" stroke-width="3.1"/>
<line x1="1222.12" y1="69.85" x2="1222.12" y2="72.95" stroke="#000" stroke-width="3.1"/>
<line x1="825.45" y1="466.21" x2="828.55" y2="466.21" stroke="#000" stroke-width="3.1"/>
<line x1="1398.05" y1="466.21" x2="1394.95" y2="466.21" stroke="#000" stroke-width="3.1"/>
<line x1="1249.70" y1="642.45" x2="1249.70" y2="637.05" stroke="#000" stroke-width="3.1"/>
<line x1="1249.70" y1="69.85" x2="1249.70" y2="75.25" stroke="#000" stroke-width="3.1"/>
<line x1="825.45" y1="493.78" x2="830.85" y2="493.78" stroke="#000" stroke-width="3.1"/>
<line x1="1398.05" y1="493.78" x2="1392.65" y2="493.78" stroke="#000" stroke-width="3.1"/>
<line x1="1277.28" y1="642.45" x2="1277.28" y2="639.35" stroke="#000" stroke-width="3.1"/>
<line x1="1277.28" y1="69.85" x2="1277.28" y2="72.95" stroke="#000" stroke-width="3.1"/>
<line x1="825.45" y1="521.34" x2="828.55" y2="521.34" stroke="#000" stroke-width="3.1"/>
<line x1="1398.05" y1="521.34" x2="1394.95" y2="521.34" stroke="#000" stroke-width="3.1"/>
<line x1="1304.86" y1="642.45" x2="1304.86" y2="639.35" stroke="#000" stroke-width="3.1"/>
<line x1="1304.86" y1="69.85" x2="1304.86" y2="72.95" stroke="#000" stroke-width="3.1"/>
<line x1="825.45" y1="548.90" x2="828.55" y2="548.90" stroke="#000" stroke-width="3.1"/>
<line x1="1398.05" y1="548.90" x2="1394.95" y2="548.90" stroke="#000" stroke-width="3.1"/>
<line x1="1332.44" y1="642.45" x2="1332.44" y2="639.35" stroke="#000" stroke-width="3.1"/>
<line x1="1332.44" y1="69.85" x2="1332.44" y2="72.95" stroke="#000" stroke-width="3.1"/>
<line x1="825.45" y1="576.47" x2="828.55" y2="576.47" stroke="#000" stroke-width="3.1"/>
<line x1="1398.05" y1="576.47" x2="1394.95" y2="576.47" stroke="#000" stroke-width="3.1"/>
<line x1="1360.02" y1="642.45" x2="1360.02" y2="639.35" stroke="#000" stroke-width="3.1"/>
<line x1="1360.02" y1="69.85" x2="1360.02" y2="72.95" stroke="#000" stroke-width="3.1"/>
<line x1="825.45" y1="604.03" x2="828.55" y2="604.03" stroke="#000" stroke-width="3.1"/>
<line x1="1398.05" y1="604.03" x2="1394.95" y2="604.03" stroke="#000" stroke-width="3.1"/>
<line x1="1387.60" y1="642.45" x2="1387.60" y2="637.05" stroke="#000" stroke-width="3.1"/>
<line x1="1387.60" y1="69.85" x2="1387.60" y2="75.25" stroke="#000" stroke-width="3.1"/>
<line x1="825.45" y1="631.60" x2="830.85" y2="631.60" stroke="#000" stroke-width="3.1"/>
<line x1="1398.05" y1="631.60" x2="1392.65" y2="631.60" stroke="#000" stroke-width="3.1"/>
<rect x="121.50" y="779.70" width="574.00" height="574.10" fill="none" stroke="#000" stroke-width="2.7"/>
<line x1="132.20" y1="1352.95" x2="132.20" y2="1347.55" stroke="#000" stroke-width="3.1"/>
<line x1="132.20" y1="780.55" x2="132.20" y2="785.95" stroke="#000" stroke-width="3.1"/>
<line x1="122.35" y1="791.00" x2="127.75" y2="791.00" stroke="#000" stroke-width="3.1"/>
<line x1="694.65" y1="791.00" x2="689.25" y2="791.00" stroke="#000" stroke-width="3.1"/>
<line x1="159.83" y1="1352.95" x2="159.83" y2="1349.85" stroke="#000" stroke-width="3.1"/>
<line x1="159.83" y1="780.55" x2="159.83" y2="783.65" stroke="#000" stroke-width="3.1"/>
<line x1="122.35" y1="818.56" x2="125.45" y2="818.56" stroke="#000" stroke-width="3.1"/>
<line x1="694.65" y1="818.56" x2="691.55" y2="818.56" stroke="#000" stroke-width="3.1"/>
<line x1="187.46" y1="1352.95" x2="187.46" y2="1349.85" stroke="#000" stroke-width="3.1"/>
<line x1="187.46" y1="780.55" x2="187.46" y2="783.65" stroke="#000" stroke-width="3.1"/>
<line x1="122.35" y1="846.12" x2="125.45" y2="846.12" stroke="#000" stroke-width="3.1"/>
<line x1="694.65" y1="846.12" x2="691.55" y2="846.12" stroke="#000" stroke-width="3.1"/>
<line x1="215.09" y1="1352.95" x2="215.09" y2="1349.85" stroke="#000" stroke-width="3.1"/>
<line x1="215.09" y1="780.55" x2="215.09" y2="783.65" stroke="#000" stroke-width="3.1"/>
<line x1="122.35" y1="873.68" x2="125.45" y2="873.68" stroke="#000" stroke-width="3.1"/>
<line x1="694.65" y1="873.68" x2="691.55" y2="873.68" stroke="#000" stroke-width="3.1"/>
<line x1="242.72" y1="1352.95" x2="242.72" y2="1349.85" stroke="#000" stroke-width="3.1"/>
<line x1="242.72" y1="780.55" x2="242.72" y2="783.65" stroke="#000" stroke-width="3.1"/>
<line x1="122.35" y1="901.24" x2="125.45" y2="901.24" stroke="#000" stroke-width="3.1"/>
<line x1="694.65" y1="901.24" x2="691.55" y2="901.24" stroke="#000" stroke-width="3.1"/>
<line x1="270.35" y1="1352.95" x2="270.35" y2="1347.55" stroke="#000" stroke-width="3.1"/>
<line x1="270.35" y1="780.55" x2="270.35" y2="785.95" stroke="#000" stroke-width="3.1"/>
<line x1="122.35" y1="928.80" x2="127.75" y2="928.80" stroke="#000" stroke-width="3.1"/>
<line x1="694.65" y1="928.80" x2="689.25" y2="928.80" stroke="#000" stroke-width="3.1"/>
<line x1="297.98" y1="1352.95" x2="297.98" y2="1349.85" stroke="#000" stroke-width="3.1"/>
<line x1="297.98" y1="780.55" x2="297.98" y2="783.65" stroke="#000" stroke-width="3.1"/>
<line x1="122.35" y1="956.36" x2="125.45" y2="956.36" stroke="#000" stroke-width="3.1"/>
<line x1="694.65" y1="956.36" x2="691.55" y2="956.36" stroke="#000" stroke-width="3.1"/>
<line x1="325.61" y1="1352.95" x2="325.61" y2="1349.85" stroke="#000" stroke-width="3.1"/>
<line x1="325.61" y1="780.55" x2="325.61" y2="783.65" stroke="#000" stroke-width="3.1"/>
<line x1="122.35" y1="983.92" x2="125.45" y2="983.92" stroke="#000" stroke-width="3.1"/>
<line x1="694.65" y1="983.92" x2="691.55" y2="983.92" stroke="#000" stroke-width="3.1"/>
<line x1="353.24" y1="1352.95" x2="353.24" y2="1349.85" stroke="#000" stroke-width="3.1"/>
<line x1="353.24" y1="780.55" x2="353.24" y2="783.65" stroke="#000" stroke-width="3.1"/>
<line x1="122.35" y1="1011.48" x2="125.45" y2="1011.48" stroke="#000" stroke-width="3.1"/>
<line x1="694.65" y1="1011.48" x2="691.55" y2="1011.48" stroke="#000" stroke-width="3.1"/>
<line x1="380.87" y1="1352.95" x2="380.87" y2="1349.85" stroke="#000" stroke-width="3.1"/>
<line x1="380.87" y1="780.55" x2="380.87" y2="783.65" stroke="#000" stroke-width="3.1"/>
<line x1="122.35" y1="1039.04" x2="125.45" y2="1039.04" stroke="#000" stroke-width="3.1"/>
<line x1="694.65" y1="1039.04" x2="691.55" y2="1039.04" stroke="#000" stroke-width="3.1"/>
<line x1="408.50" y1="1352.95" x2="408.50" y2="1347.55" stroke="#000" stroke-width="3.1"/>
<line x1="408.50" y1="780.55" x2="408.50" y2="785.95" stroke="#000" stroke-width="3.1"/>
<line x1="122.35" y1="1066.60" x2="127.75" y2="1066.60" stroke="#000" stroke-width="3.1"/>
<line x1="694.65" y1="1066.60" x2="689.25" y2="1066.60" stroke="#000" stroke-width="3.1"/>
<line x1="436.13" y1="1352.95" x2="436.13" y2="1349.85" stroke="#000" stroke-width="3.1"/>
<line x1="436.13" y1="780.55" x2="436.13" y2="783.65" stroke="#000" stroke-width="3.1"/>
<line x1="122.35" y1="1094.16" x2="125.45" y2="1094.16" stroke="#000" stroke-width="3.1"/>
<line x1="694.65" y1="1094.16" x2="691.55" y2="1094.16" stroke="#000" stroke-width="3.1"/>
<line x1="463.76" y1="1352.95" x2="463.76" y2="1349.85" stroke="#000" stroke-width="3.1"/>
<line x1="463.76" y1="780.55" x2="463.76" y2="783.65" stroke="#000" stroke-width="3.1"/>
<line x1="122.35" y1="1121.72" x2="125.45" y2="1121.72" stroke="#000" stroke-width="3.1"/>
<line x1="694.65" y1="1121.72" x2="691.55" y2="1121.72" stroke="#000" stroke-width="3.1"/>
<line x1="491.39" y1="1352.95" x2="491.39" y2="1349.85" stroke="#000" stroke-width="3.1"/>
<line x1="491.39" y1="780.55" x2="491.39" y2="783.65" stroke="#000" stroke-width="3.1"/>
<line x1="122.35" y1="1149.28" x2="125.45" y2="1149.28" stroke="#000" stroke-width="3.1"/>
<line x1="694.65" y1="1149.28" x2="691.55" y2="1149.28" stroke="#000" stroke-width="3.1"/>
<line x1="519.02" y1="1352.95" x2="519.02" y2="1349.85" stroke="#000" stroke-width="3.1"/>
<line x1="519.02" y1="780.55" x2="519.02" y2="783.65" stroke="#000" stroke-width="3.1"/>
<line x1="122.35" y1="1176.84" x2="125.45" y2="1176.84" stroke="#000" stroke-width="3.1"/>
<line x1="694.65" y1="1176.84" x2="691.55" y2="1176.84" stroke="#000" stroke-width="3.1"/>
<line x1="546.65" y1="1352.95" x2="546.65" y2="1347.55" stroke="#000" stroke-width="3.1"/>
<line x1="546.65" y1="780.55" x2="546.65" y2="785.95" stroke="#000" stroke-width="3.1"/>
<line x1="122.35" y1="1204.40" x2="127.75" y2="1204.40" stroke="#000" stroke-width="3.1"/>
<line x1="694.65" y1="1204.40" x2="689.25" y2="1204.40" stroke="#000" stroke-width="3.1"/>
<line x1="574.28" y1="1352.95" x2="574.28" y2="1349.85" stroke="#000" stroke-width="3.1"/>
<line x1="574.28" y1="780.55" x2="574.28" y2="783.65" stroke="#000" stroke-width="3.1"/>
<line x1="122.35" y1="1231.96" x2="125.45" y2="1231.96" stroke="#000" stroke-width="3.1"/>
<line x1="694.65" y1="1231.96" x2="691.55" y2="1231.96" stroke="#000" stroke-width="3.1"/>
<line x1="601.91" y1="1352.95" x2="601.91" y2="1349.85" stroke="#000" stroke-width="3.1"/>
<line x1="601.91" y1="780.55" x2="601.91" y2="783.65" stroke="#000" stroke-width="3.1"/>
<line x1="122.35" y1="1259.52" x2="125.45" y2="1259.52" stroke="#000" stroke-width="3.1"/>
<line x1="694.65" y1="1259.52" x2="691.55" y2="1259.52" stroke="#000" stroke-width="3.1"/>
<line x1="629.54" y1="1352.95" x2="629.54" y2="1349.85" stroke="#000" stroke-width="3.1"/>
<line x1="629.54" y1="780.55" x2="629.54" y2="783.65" stroke="#000" stroke-width="3.1"/>
<line x1="122.35" y1="1287.08" x2="125.45" y2="1287.08" stroke="#000" stroke-width="3.1"/>
<line x1="694.65" y1="1287.08" x2="691.55" y2="1287.08" stroke="#000" stroke-width="3.1"/>
<line x1="657.17" y1="1352.95" x2="657.17" y2="1349.85" stroke="#000" stroke-width="3.1"/>
<line x1="657.17" y1="780.55" x2="657.17" y2="783.65" stroke="#000" stroke-width="3.1"/>
<line x1="122.35" y1="1314.64" x2="125.45" y2="1314.64" stroke="#000" stroke-width="3.1"/>
<line x1="694.65" y1="1314.64" x2="691.55" y2="1314.64" stroke="#000" stroke-width="3.1"/>
<line x1="684.80" y1="1352.95" x2="684.80" y2="1347.55" stroke="#000" stroke-width="3.1"/>
<line x1="684.80" y1="780.55" x2="684.80" y2="785.95" stroke="#000" stroke-width="3.1"/>
<line x1="122.35" y1="1342.20" x2="127.75" y2="1342.20" stroke="#000" stroke-width="3.1"/>
<line x1="694.65" y1="1342.20" x2="689.25" y2="1342.20" stroke="#000" stroke-width="3.1"/>
<rect x="824.80" y="778.50" width="574.70" height="574.20" fill="none" stroke="#000" stroke-width="2.7"/>
<line x1="836.40" y1="1351.85" x2="836.40" y2="1346.45" stroke="#000" stroke-width="3.1"/>
<line x1="836.40" y1="779.35" x2="836.40" y2="784.75" stroke="#000" stroke-width="3.1"/>
<line x1="825.65" y1="790.20" x2="831.05" y2="790.20" stroke="#000" stroke-width="3.1"/>
<line x1="1398.65" y1="790.20" x2="1393.25" y2="790.20" stroke="#000" stroke-width="3.1"/>
<line x1="863.98" y1="1351.85" x2="863.98" y2="1348.75" stroke="#000" stroke-width="3.1"/>
<line x1="863.98" y1="779.35" x2="863.98" y2="782.45" stroke="#000" stroke-width="3.1"/>
<line x1="825.65" y1="817.76" x2="828.75" y2="817.76" stroke="#000" stroke-width="3.1"/>
<line x1="1398.65" y1="817.76" x2="1395.55" y2="817.76" stroke="#000" stroke-width="3.1"/>
<line x1="891.56" y1="1351.85" x2="891.56" y2="1348.75" stroke="#000" stroke-width="3.1"/>
<line x1="891.56" y1="779.35" x2="891.56" y2="782.45" stroke="#000" stroke-width="3.1"/>
<line x1="825.65" y1="845.32" x2="828.75" y2="845.32" stroke="#000" stroke-width="3.1"/>
<line x1="1398.65" y1="845.32" x2="1395.55" y2="845.32" stroke="#000" stroke-width="3.1"/>
<line x1="919.14" y1="1351.85" x2="919.14" y2="1348.75" stroke="#000" stroke-width="3.1"/>
<line x1="919.14" y1="779.35" x2="919.14" y2="782.45" stroke="#000" stroke-width="3.1"/>
<line x1="825.65" y1="872.88" x2="828.75" y2="872.88" stroke="#000" stroke-width="3.1"/>
<line x1="1398.65" y1="872.88" x2="1395.55" y2="872.88" stroke="#000" stroke-width="3.1"/>
<line x1="946.72" y1="1351.85" x2="946.72" y2="1348.75" stroke="#000" stroke-width="3.1"/>
<line x1="946.72" y1="779.35" x2="946.72" y2="782.45" stroke="#000" stroke-width="3.1"/>
<line x1="825.65" y1="900.44" x2="828.75" y2="900.44" stroke="#000" stroke-width="3.1"/>
<line x1="1398.65" y1="900.44" x2="1395.55" y2="900.44" stroke="#000" stroke-width="3.1"/>
<line x1="974.30" y1="1351.85" x2="974.30" y2="1346.45" stroke="#000" stroke-width="3.1"/>
<line x1="974.30" y1="779.35" x2="974.30" y2="784.75" stroke="#000" stroke-width="3.1"/>
<line x1="825.65" y1="928.00" x2="831.05" y2="928.00" stroke="#000" stroke-width="3.1"/>
<line x1="1398.65" y1="928.00" x2="1393.25" y2="928.00" stroke="#000" stroke-width="3.1"/>
<line x1="1001.88" y1="1351.85" x2="1001.88" y2="1348.75" stroke="#000" stroke-width="3.1"/>
<line x1="1001.88" y1="779.35" x2="1001.88" y2="782.45" stroke="#000" stroke-width="3.1"/>
<line x1="825.65" y1="955.56" x2="828.75" y2="955.56" stroke="#000" stroke-width="3.1"/>
<line x1="1398.65" y1="955.56" x2="1395.55" y2="955.56" stroke="#000" stroke-width="3.1"/>
<line x1="1029.46" y1="1351.85" x2="1029.46" y2="1348.75" stroke="#000" stroke-width="3.1"/>
<line x1="1029.46" y1="779.35" x2="1029.46" y2="782.45" stroke="#000" stroke-width="3.1"/>
<line x1="825.65" y1="983.12" x2="828.75" y2="983.12" stroke="#000" stroke-width="3.1"/>
<line x1="1398.65" y1="983.12" x2="1395.55" y2="983.12" stroke="#000" stroke-width="3.1"/>
<line x1="1057.04" y1="1351.85" x2="1057.04" y2="1348.75" stroke="#000" stroke-width="3.1"/>
<line x1="1057.04" y1="779.35" x2="1057.04" y2="782.45" stroke="#000" stroke-width="3.1"/>
<line x1="825.65" y1="1010.68" x2="828.75" y2="1010.68" stroke="#000" stroke-width="3.1"/>
<line x1="1398.65" y1="1010.68" x2="1395.55" y2="1010.68" stroke="#000" stroke-width="3.1"/>
<line x1="1084.62" y1="1351.85" x2="1084.62" y2="1348.75" stroke="#000" stroke-width="3.1"/>
<line x1="1084.62" y1="779.35" x2="1084.62" y2="782.45" stroke="#000" stroke-width="3.1"/>
<line x1="825.65" y1="1038.24" x2="828.75" y2="1038.24" stroke="#000" stroke-width="3.1"/>
<line x1="1398.65" y1="1038.24" x2="1395.55" y2="1038.24" stroke="#000" stroke-width="3.1"/>
<line x1="1112.20" y1="1351.85" x2="1112.20" y2="1346.45" stroke="#000" stroke-width="3.1"/>
<line x1="1112.20" y1="779.35" x2="1112.20" y2="784.75" stroke="#000" stroke-width="3.1"/>
<line x1="825.65" y1="1065.80" x2="831.05" y2="1065.80" stroke="#000" stroke-width="3.1"/>
<line x1="1398.65" y1="1065.80" x2="1393.25" y2="1065.80" stroke="#000" stroke-width="3.1"/>
<line x1="1139.78" y1="1351.85" x2="1139.78" y2="1348.75" stroke="#000" stroke-width="3.1"/>
<line x1="1139.78" y1="779.35" x2="1139.78" y2="782.45" stroke="#000" stroke-width="3.1"/>
<line x1="825.65" y1="1093.36" x2="828.75" y2="1093.36" stroke="#000" stroke-width="3.1"/>
<line x1="1398.65" y1="1093.36" x2="1395.55" y2="1093.36" stroke="#000" stroke-width="3.1"/>
<line x1="1167.36" y1="1351.85" x2="1167.36" y2="1348.75" stroke="#000" stroke-width="3.1"/>
<line x1="1167.36" y1="779.35" x2="1167.36" y2="782.45" stroke="#000" stroke-width="3.1"/>
<line x1="825.65" y1="1120.92" x2="828.75" y2="1120.92" stroke="#000" stroke-width="3.1"/>
<line x1="1398.65" y1="1120.92" x2="1395.55" y2="1120.92" stroke="#000" stroke-width="3.1"/>
<line x1="1194.94" y1="1351.85" x2="1194.94" y2="1348.75" stroke="#000" stroke-width="3.1"/>
<line x1="1194.94" y1="779.35" x2="1194.94" y2="782.45" stroke="#000" stroke-width="3.1"/>
<line x1="825.65" y1="1148.48" x2="828.75" y2="1148.48" stroke="#000" stroke-width="3.1"/>
<line x1="1398.65" y1="1148.48" x2="1395.55" y2="1148.48" stroke="#000" stroke-width="3.1"/>
<line x1="1222.52" y1="1351.85" x2="1222.52" y2="1348.75" stroke="#000" stroke-width="3.1"/>
<line x1="1222.52" y1="779.35" x2="1222.52" y2="782.45" stroke="#000" stroke-width="3.1"/>
<line x1="825.65" y1="1176.04" x2="828.75" y2="1176.04" stroke="#000" stroke-width="3.1"/>
<line x1="1398.65" y1="1176.04" x2="1395.55" y2="1176.04" stroke="#000" stroke-width="3.1"/>
<line x1="1250.10" y1="1351.85" x2="1250.10" y2="1346.45" stroke="#000" stroke-width="3.1"/>
<line x1="1250.10" y1="779.35" x2="1250.10" y2="784.75" stroke="#000" stroke-width="3.1"/>
<line x1="825.65" y1="1203.60" x2="831.05" y2="1203.60" stroke="#000" stroke-width="3.1"/>
<line x1="1398.65" y1="1203.60" x2="1393.25" y2="1203.60" stroke="#000" stroke-width="3.1"/>
<line x1="1277.68" y1="1351.85" x2="1277.68" y2="1348.75" stroke="#000" stroke-width="3.1"/>
<line x1="1277.68" y1="779.35" x2="1277.68" y2="782.45" stroke="#000" stroke-width="3.1"/>
<line x1="825.65" y1="1231.16" x2="828.75" y2="1231.16" stroke="#000" stroke-width="3.1"/>
<line x1="1398.65" y1="1231.16" x2="1395.55" y2="1231.16" stroke="#000" stroke-width="3.1"/>
<line x1="1305.26" y1="1351.85" x2="1305.26" y2="1348.75" stroke="#000" stroke-width="3.1"/>
<line x1="1305.26" y1="779.35" x2="1305.26" y2="782.45" stroke="#000" stroke-width="3.1"/>
<line x1="825.65" y1="1258.72" x2="828.75" y2="1258.72" stroke="#000" stroke-width="3.1"/>
<line x1="1398.65" y1="1258.72" x2="1395.55" y2="1258.72" stroke="#000" stroke-width="3.1"/>
<line x1="1332.84" y1="1351.85" x2="1332.84" y2="1348.75" stroke="#000" stroke-width="3.1"/>
<line x1="1332.84" y1="779.35" x2="1332.84" y2="782.45" stroke="#000" stroke-width="3.1"/>
<line x1="825.65" y1="1286.28" x2="828.75" y2="1286.28" stroke="#000" stroke-width="3.1"/>
<line x1="1398.65" y1="1286.28" x2="1395.55" y2="1286.28" stroke="#000" stroke-width="3.1"/>
<line x1="1360.42" y1="1351.85" x2="1360.42" y2="1348.75" stroke="#000" stroke-width="3.1"/>
<line x1="1360.42" y1="779.35" x2="1360.42" y2="782.45" stroke="#000" stroke-width="3.1"/>
<line x1="825.65" y1="1313.84" x2="828.75" y2="1313.84" stroke="#000" stroke-width="3.1"/>
<line x1="1398.65" y1="1313.84" x2="1395.55" y2="1313.84" stroke="#000" stroke-width="3.1"/>
<line x1="1388.00" y1="1351.85" x2="1388.00" y2="1346.45" stroke="#000" stroke-width="3.1"/>
<line x1="1388.00" y1="779.35" x2="1388.00" y2="784.75" stroke="#000" stroke-width="3.1"/>
<line x1="825.65" y1="1341.40" x2="831.05" y2="1341.40" stroke="#000" stroke-width="3.1"/>
<line x1="1398.65" y1="1341.40" x2="1393.25" y2="1341.40" stroke="#000" stroke-width="3.1"/>
<rect x="116.40" y="673.00" width="10.2" height="2.5" fill="#000"/>
<text x="127.90" y="683.90" font-family="Liberation Sans" font-size="37" text-anchor="start" >2</text>
<rect x="253.00" y="673.60" width="10.2" height="2.5" fill="#000"/>
<path d="M279.00 684.50 L275.70 684.50 L275.70 663.80 L269.20 668.30 L269.20 665.10 L275.10 658.90 L279.00 658.90Z" fill="#000"/>
<text x="397.80" y="684.30" font-family="Liberation Sans" font-size="37" text-anchor="start" >0</text>
<path d="M546.30 686.00 L543.00 686.00 L543.00 665.30 L536.50 669.80 L536.50 666.60 L542.40 660.40 L546.30 660.40Z" fill="#000"/>
<text x="669.70" y="684.70" font-family="Liberation Sans" font-size="37" text-anchor="start" >2</text>
<text x="94.40" y="96.10" font-family="Liberation Sans" font-size="37" text-anchor="start" >2</text>
<path d="M108.80 231.70 L105.50 231.70 L105.50 211.00 L99.00 215.50 L99.00 212.30 L104.90 206.10 L108.80 206.10Z" fill="#000"/>
<text x="96.00" y="366.80" font-family="Liberation Sans" font-size="37" text-anchor="start" >0</text>
<rect x="84.80" y="490.40" width="10.2" height="2.5" fill="#000"/>
<path d="M109.80 501.30 L106.50 501.30 L106.50 480.60 L100.00 485.10 L100.00 481.90 L105.90 475.70 L109.80 475.70Z" fill="#000"/>
<rect x="82.10" y="626.40" width="10.2" height="2.5" fill="#000"/>
<text x="92.90" y="637.30" font-family="Liberation Sans" font-size="37" text-anchor="start" >2</text>
<rect x="822.00" y="673.70" width="10.2" height="2.5" fill="#000"/>
<text x="832.80" y="684.60" font-family="Liberation Sans" font-size="37" text-anchor="start" >2</text>
<rect x="958.60" y="673.80" width="10.2" height="2.5" fill="#000"/>
<path d="M984.60 684.70 L981.30 684.70 L981.30 664.00 L974.80 668.50 L974.80 665.30 L980.70 659.10 L984.60 659.10Z" fill="#000"/>
<text x="1103.00" y="684.90" font-family="Liberation Sans" font-size="37" text-anchor="start" >0</text>
<path d="M1252.60 687.20 L1249.30 687.20 L1249.30 666.50 L1242.80 671.00 L1242.80 667.80 L1248.70 661.60 L1252.60 661.60Z" fill="#000"/>
<text x="1375.20" y="685.40" font-family="Liberation Sans" font-size="37" text-anchor="start" >2</text>
<text x="795.30" y="96.70" font-family="Liberation Sans" font-size="37" text-anchor="start" >2</text>
<path d="M810.30 232.00 L807.00 232.00 L807.00 211.30 L800.50 215.80 L800.50 212.60 L806.40 206.40 L810.30 206.40Z" fill="#000"/>
<text x="796.80" y="367.90" font-family="Liberation Sans" font-size="37" text-anchor="start" >0</text>
<rect x="785.30" y="491.10" width="10.2" height="2.5" fill="#000"/>
<path d="M810.90 502.00 L807.60 502.00 L807.60 481.30 L801.10 485.80 L801.10 482.60 L807.00 476.40 L810.90 476.40Z" fill="#000"/>
<rect x="783.20" y="632.00" width="10.2" height="2.5" fill="#000"/>
<text x="794.00" y="642.90" font-family="Liberation Sans" font-size="37" text-anchor="start" >2</text>
<rect x="111.30" y="1381.20" width="10.2" height="2.5" fill="#000"/>
<text x="122.10" y="1392.10" font-family="Liberation Sans" font-size="37" text-anchor="start" >2</text>
<rect x="254.90" y="1381.80" width="10.2" height="2.5" fill="#000"/>
<path d="M280.90 1392.70 L277.60 1392.70 L277.60 1372.00 L271.10 1376.50 L271.10 1373.30 L277.00 1367.10 L280.90 1367.10Z" fill="#000"/>
<text x="396.70" y="1393.00" font-family="Liberation Sans" font-size="37" text-anchor="start" >0</text>
<path d="M550.80 1394.00 L547.50 1394.00 L547.50 1373.30 L541.00 1377.80 L541.00 1374.60 L546.90 1368.40 L550.80 1368.40Z" fill="#000"/>
<text x="671.70" y="1392.90" font-family="Liberation Sans" font-size="37" text-anchor="start" >2</text>
<text x="90.80" y="808.30" font-family="Liberation Sans" font-size="37" text-anchor="start" >2</text>
<path d="M105.90 942.50 L102.60 942.50 L102.60 921.80 L96.10 926.30 L96.10 923.10 L102.00 916.90 L105.90 916.90Z" fill="#000"/>
<text x="92.90" y="1079.50" font-family="Liberation Sans" font-size="37" text-anchor="start" >0</text>
<rect x="81.40" y="1207.10" width="10.2" height="2.5" fill="#000"/>
<path d="M107.50 1218.00 L104.20 1218.00 L104.20 1197.30 L97.70 1201.80 L97.70 1198.60 L103.60 1192.40 L107.50 1192.40Z" fill="#000"/>
<rect x="78.70" y="1343.10" width="10.2" height="2.5" fill="#000"/>
<text x="89.60" y="1354.00" font-family="Liberation Sans" font-size="37" text-anchor="start" >2</text>
<rect x="816.40" y="1381.30" width="10.2" height="2.5" fill="#000"/>
<text x="827.80" y="1392.20" font-family="Liberation Sans" font-size="37" text-anchor="start" >2</text>
<rect x="960.60" y="1381.60" width="10.2" height="2.5" fill="#000"/>
<path d="M986.60 1392.50 L983.30 1392.50 L983.30 1371.80 L976.80 1376.30 L976.80 1373.10 L982.70 1366.90 L986.60 1366.90Z" fill="#000"/>
<text x="1102.30" y="1392.40" font-family="Liberation Sans" font-size="37" text-anchor="start" >0</text>
<path d="M1253.90 1394.10 L1250.60 1394.10 L1250.60 1373.40 L1244.10 1377.90 L1244.10 1374.70 L1250.00 1368.50 L1253.90 1368.50Z" fill="#000"/>
<text x="1377.20" y="1392.60" font-family="Liberation Sans" font-size="37" text-anchor="start" >2</text>
<text x="797.10" y="801.70" font-family="Liberation Sans" font-size="37" text-anchor="start" >2</text>
<path d="M812.00 939.50 L808.70 939.50 L808.70 918.80 L802.20 923.30 L802.20 920.10 L808.10 913.90 L812.00 913.90Z" fill="#000"/>
<text x="798.00" y="1078.00" font-family="Liberation Sans" font-size="37" text-anchor="start" >0</text>
<rect x="786.90" y="1203.50" width="10.2" height="2.5" fill="#000"/>
<path d="M812.90 1214.40 L809.60 1214.40 L809.60 1193.70 L803.10 1198.20 L803.10 1195.00 L809.00 1188.80 L812.90 1188.80Z" fill="#000"/>
<rect x="784.00" y="1341.70" width="10.2" height="2.5" fill="#000"/>
<text x="795.40" y="1352.60" font-family="Liberation Sans" font-size="37" text-anchor="start" >2</text>
<text x="1.2" y="49.2" font-family="Liberation Sans" font-size="63" font-weight="bold" transform="translate(1.2,49.2) scale(0.94,1.04) translate(-1.2,-49.2)">a</text>
<text x="740.5" y="50.3" font-family="Liberation Sans" font-size="63" font-weight="bold" transform="translate(740.5,50.3) scale(0.94,1.04) translate(-740.5,-50.3)">b</text>
<text x="1.8" y="780.5" font-family="Liberation Sans" font-size="63" font-weight="bold" transform="translate(1.8,780.5) scale(0.94,1.04) translate(-1.8,-780.5)">c</text>
<text x="743.3" y="778.8" font-family="Liberation Sans" font-size="63" font-weight="bold" transform="translate(743.3,778.8) scale(0.94,1.04) translate(-743.3,-778.8)">d</text>
<g transform="translate(273.8,724.0)"><text x="1" y="0" font-family="Liberation Serif" font-style="italic" font-size="40">β</text><text x="20.2" y="7" font-family="Liberation Serif" font-style="italic" font-size="28">c</text><rect x="45.2" y="-14.2" width="22.6" height="2.4" fill="#000"/><text x="80.2" y="0" font-family="Liberation Serif" font-style="italic" font-size="40">β</text><text x="99.5" y="7" font-family="Liberation Serif" font-style="italic" font-size="28">p</text><text x="130.2" y="0" font-family="Liberation Sans" font-size="35.6">(ps/mm)</text></g>
<g transform="translate(968.0,724.0)"><text x="1" y="0" font-family="Liberation Serif" font-style="italic" font-size="40">β</text><text x="20.2" y="7" font-family="Liberation Serif" font-style="italic" font-size="28">c</text><rect x="45.2" y="-14.2" width="22.6" height="2.4" fill="#000"/><text x="80.2" y="0" font-family="Liberation Serif" font-style="italic" font-size="40">β</text><text x="99.5" y="7" font-family="Liberation Serif" font-style="italic" font-size="28">p</text><text x="130.2" y="0" font-family="Liberation Sans" font-size="35.6">(ps/mm)</text></g>
<g transform="translate(303.3,1447.0)"><text x="1" y="0" font-family="Liberation Serif" font-style="italic" font-size="40">β</text><text x="20.2" y="7" font-family="Liberation Serif" font-style="italic" font-size="28">c</text><rect x="45.2" y="-14.2" width="22.6" height="2.4" fill="#000"/><text x="80.2" y="0" font-family="Liberation Serif" font-style="italic" font-size="40">β</text><text x="99.5" y="7" font-family="Liberation Serif" font-style="italic" font-size="28">p</text><text x="130.2" y="0" font-family="Liberation Sans" font-size="35.6">(ps/mm)</text></g>
<g transform="translate(972.7,1439.0)"><text x="1" y="0" font-family="Liberation Serif" font-style="italic" font-size="40">β</text><text x="20.2" y="7" font-family="Liberation Serif" font-style="italic" font-size="28">c</text><rect x="45.2" y="-14.2" width="22.6" height="2.4" fill="#000"/><text x="80.2" y="0" font-family="Liberation Serif" font-style="italic" font-size="40">β</text><text x="99.5" y="7" font-family="Liberation Serif" font-style="italic" font-size="28">p</text><text x="130.2" y="0" font-family="Liberation Sans" font-size="35.6">(ps/mm)</text></g>
<g transform="translate(63.1,502.3) rotate(-90)"><text x="1" y="0" font-family="Liberation Serif" font-style="italic" font-size="40">β</text><text x="20.2" y="7" font-family="Liberation Serif" font-style="italic" font-size="28">s</text><rect x="45.2" y="-14.2" width="22.6" height="2.4" fill="#000"/><text x="80.2" y="0" font-family="Liberation Serif" font-style="italic" font-size="40">β</text><text x="99.5" y="7" font-family="Liberation Serif" font-style="italic" font-size="28">p</text><text x="130.2" y="0" font-family="Liberation Sans" font-size="35.6">(ps/mm)</text></g>
<g transform="translate(770.7,490.7) rotate(-90)"><text x="1" y="0" font-family="Liberation Serif" font-style="italic" font-size="40">β</text><text x="20.2" y="7" font-family="Liberation Serif" font-style="italic" font-size="28">s</text><rect x="45.2" y="-14.2" width="22.6" height="2.4" fill="#000"/><text x="80.2" y="0" font-family="Liberation Serif" font-style="italic" font-size="40">β</text><text x="99.5" y="7" font-family="Liberation Serif" font-style="italic" font-size="28">p</text><text x="130.2" y="0" font-family="Liberation Sans" font-size="35.6">(ps/mm)</text></g>
<g transform="translate(62.6,1190.4) rotate(-90)"><text x="1" y="0" font-family="Liberation Serif" font-style="italic" font-size="40">β</text><text x="20.2" y="7" font-family="Liberation Serif" font-style="italic" font-size="28">s</text><rect x="45.2" y="-14.2" width="22.6" height="2.4" fill="#000"/><text x="80.2" y="0" font-family="Liberation Serif" font-style="italic" font-size="40">β</text><text x="99.5" y="7" font-family="Liberation Serif" font-style="italic" font-size="28">p</text><text x="130.2" y="0" font-family="Liberation Sans" font-size="35.6">(ps/mm)</text></g>
<g transform="translate(772.5,1205.0) rotate(-90)"><text x="1" y="0" font-family="Liberation Serif" font-style="italic" font-size="40">β</text><text x="20.2" y="7" font-family="Liberation Serif" font-style="italic" font-size="28">s</text><rect x="45.2" y="-14.2" width="22.6" height="2.4" fill="#000"/><text x="80.2" y="0" font-family="Liberation Serif" font-style="italic" font-size="40">β</text><text x="99.5" y="7" font-family="Liberation Serif" font-style="italic" font-size="28">p</text><text x="130.2" y="0" font-family="Liberation Sans" font-size="35.6">(ps/mm)</text></g>
<rect x="140.7" y="90.2" width="355.7" height="65.3" fill="#fff" fill-opacity="0.5"/>
<text x="163.4" y="137.2" font-family="Liberation Serif" font-style="italic" font-size="44" >η</text>
<text x="187.6" y="145.6" font-family="Liberation Serif" font-style="italic" font-size="36" letter-spacing="1">sm</text>
<text x="242.0" y="137.2" font-family="Liberation Serif" font-style="normal" font-size="44" >(</text>
<text x="256.2" y="137.2" font-family="Liberation Serif" font-style="italic" font-size="46" >γ</text>
<rect x="293.9" y="119.8" width="25.1" height="2.6" fill="#000"/>
<rect x="293.9" y="129.2" width="25.1" height="2.6" fill="#000"/>
<text x="333.0" y="137.2" font-family="Liberation Serif" font-style="normal" font-size="44" >0.0825</text>
<text x="454.3" y="137.2" font-family="Liberation Serif" font-style="normal" font-size="44" >)</text>
<rect x="849.4" y="89.0" width="365.8" height="66.3" fill="#fff" fill-opacity="0.5"/>
<text x="871.5" y="135.5" font-family="Liberation Serif" font-style="italic" font-size="44" >η′</text>
<text x="906.3" y="143.9" font-family="Liberation Serif" font-style="italic" font-size="36" letter-spacing="1">sm</text>
<text x="960.7" y="135.5" font-family="Liberation Serif" font-style="normal" font-size="44" >(</text>
<text x="974.9" y="135.5" font-family="Liberation Serif" font-style="italic" font-size="46" >γ</text>
<rect x="1012.6" y="118.1" width="25.1" height="2.6" fill="#000"/>
<rect x="1012.6" y="127.5" width="25.1" height="2.6" fill="#000"/>
<text x="1051.7" y="135.5" font-family="Liberation Serif" font-style="normal" font-size="44" >0.0825</text>
<text x="1173.0" y="135.5" font-family="Liberation Serif" font-style="normal" font-size="44" >)</text>
<rect x="141.2" y="799.4" width="331.9" height="66.0" fill="#fff" fill-opacity="0.5"/>
<text x="163.9" y="846.9" font-family="Liberation Serif" font-style="italic" font-size="44" >η</text>
<text x="188.1" y="855.3" font-family="Liberation Serif" font-style="italic" font-size="36" letter-spacing="1">sm</text>
<text x="242.5" y="846.9" font-family="Liberation Serif" font-style="normal" font-size="44" >(</text>
<text x="256.7" y="846.9" font-family="Liberation Serif" font-style="italic" font-size="46" >γ</text>
<rect x="294.4" y="829.5" width="25.1" height="2.6" fill="#000"/>
<rect x="294.4" y="838.9" width="25.1" height="2.6" fill="#000"/>
<text x="333.5" y="846.9" font-family="Liberation Serif" font-style="normal" font-size="44" >0.380</text>
<text x="432.3" y="846.9" font-family="Liberation Serif" font-style="normal" font-size="44" >)</text>
<rect x="848.1" y="802.1" width="342.8" height="65.9" fill="#fff" fill-opacity="0.5"/>
<text x="871.0" y="849.2" font-family="Liberation Serif" font-style="italic" font-size="44" >η′</text>
<text x="905.8" y="857.6" font-family="Liberation Serif" font-style="italic" font-size="36" letter-spacing="1">sm</text>
<text x="960.2" y="849.2" font-family="Liberation Serif" font-style="normal" font-size="44" >(</text>
<text x="974.4" y="849.2" font-family="Liberation Serif" font-style="italic" font-size="46" >γ</text>
<rect x="1012.1" y="831.8" width="25.1" height="2.6" fill="#000"/>
<rect x="1012.1" y="841.2" width="25.1" height="2.6" fill="#000"/>
<text x="1051.2" y="849.2" font-family="Liberation Serif" font-style="normal" font-size="44" >0.380</text>
<text x="1150.0" y="849.2" font-family="Liberation Serif" font-style="normal" font-size="44" >)</text>
<line x1="132.8" y1="351.6" x2="324.2" y2="351.6" stroke="#fff" stroke-width="3.4"/>
<line x1="330.1" y1="358.6" x2="330.1" y2="631.6" stroke="#fff" stroke-width="3.4"/>
<circle cx="331.2" cy="351.6" r="7.6" fill="none" stroke="#fff" stroke-width="3.4"/>
<line x1="837.5" y1="353.1" x2="1028.3" y2="353.1" stroke="#fff" stroke-width="3.4"/>
<line x1="1036.2" y1="360.1" x2="1036.2" y2="631.6" stroke="#fff" stroke-width="3.4"/>
<circle cx="1035.3" cy="353.1" r="7.6" fill="none" stroke="#fff" stroke-width="3.4"/>
<line x1="133.7" y1="1063.4" x2="323.8" y2="1063.4" stroke="#fff" stroke-width="3.4"/>
<line x1="330.0" y1="1070.4" x2="330.0" y2="1342.2" stroke="#fff" stroke-width="3.4"/>
<circle cx="330.8" cy="1063.4" r="7.6" fill="none" stroke="#fff" stroke-width="3.4"/>
<line x1="837.9" y1="1063.2" x2="1026.4" y2="1063.2" stroke="#fff" stroke-width="3.4"/>
<line x1="1033.0" y1="1070.2" x2="1033.0" y2="1341.4" stroke="#fff" stroke-width="3.4"/>
<circle cx="1033.4" cy="1063.2" r="7.6" fill="none" stroke="#fff" stroke-width="3.4"/>
<rect x="387.70" y="1492.0" width="14.95" height="49.2" fill="#2800f8"/>
<rect x="402.05" y="1492.0" width="14.95" height="49.2" fill="#0000f0"/>
<rect x="416.39" y="1492.0" width="14.95" height="49.2" fill="#0538ff"/>
<rect x="430.74" y="1492.0" width="14.95" height="49.2" fill="#0050ff"/>
<rect x="445.08" y="1492.0" width="14.95" height="49.2" fill="#0070ff"/>
<rect x="459.43" y="1492.0" width="14.95" height="49.2" fill="#0095f0"/>
<rect x="473.78" y="1492.0" width="14.95" height="49.2" fill="#00b8e0"/>
<rect x="488.12" y="1492.0" width="14.95" height="49.2" fill="#00dcd0"/>
<rect x="502.47" y="1492.0" width="14.95" height="49.2" fill="#00eebb"/>
<rect x="516.81" y="1492.0" width="14.95" height="49.2" fill="#00f0a0"/>
<rect x="531.16" y="1492.0" width="14.95" height="49.2" fill="#00f088"/>
<rect x="545.51" y="1492.0" width="14.95" height="49.2" fill="#00f560"/>
<rect x="559.85" y="1492.0" width="14.95" height="49.2" fill="#00fa30"/>
<rect x="574.20" y="1492.0" width="14.95" height="49.2" fill="#00ff10"/>
<rect x="588.54" y="1492.0" width="14.95" height="49.2" fill="#00ff10"/>
<rect x="602.89" y="1492.0" width="14.95" height="49.2" fill="#00ff10"/>
<rect x="617.24" y="1492.0" width="14.95" height="49.2" fill="#00ff10"/>
<rect x="631.58" y="1492.0" width="14.95" height="49.2" fill="#00ff10"/>
<rect x="645.93" y="1492.0" width="14.95" height="49.2" fill="#00ff10"/>
<rect x="660.27" y="1492.0" width="14.95" height="49.2" fill="#00ff10"/>
<rect x="674.62" y="1492.0" width="14.95" height="49.2" fill="#40ff00"/>
<rect x="688.97" y="1492.0" width="14.95" height="49.2" fill="#80ff00"/>
<rect x="703.31" y="1492.0" width="14.95" height="49.2" fill="#bfff00"/>
<rect x="717.66" y="1492.0" width="14.95" height="49.2" fill="#e5ff10"/>
<rect x="732.00" y="1492.0" width="14.95" height="49.2" fill="#fff800"/>
<rect x="746.35" y="1492.0" width="14.95" height="49.2" fill="#ffe800"/>
<rect x="760.70" y="1492.0" width="14.95" height="49.2" fill="#ffd500"/>
<rect x="775.04" y="1492.0" width="14.95" height="49.2" fill="#ffbe00"/>
<rect x="789.39" y="1492.0" width="14.95" height="49.2" fill="#ffa500"/>
<rect x="803.73" y="1492.0" width="14.95" height="49.2" fill="#ff8a00"/>
<rect x="818.08" y="1492.0" width="14.95" height="49.2" fill="#ff6c00"/>
<rect x="832.43" y="1492.0" width="14.95" height="49.2" fill="#ff3c00"/>
<rect x="846.77" y="1492.0" width="14.95" height="49.2" fill="#ff0000"/>
<rect x="861.12" y="1492.0" width="14.95" height="49.2" fill="#ff0000"/>
<rect x="875.46" y="1492.0" width="14.95" height="49.2" fill="#ff0000"/>
<rect x="889.81" y="1492.0" width="14.95" height="49.2" fill="#ff0000"/>
<rect x="904.16" y="1492.0" width="14.95" height="49.2" fill="#ff0000"/>
<rect x="918.50" y="1492.0" width="14.95" height="49.2" fill="#ff0000"/>
<rect x="932.85" y="1492.0" width="14.95" height="49.2" fill="#ff0000"/>
<rect x="947.19" y="1492.0" width="14.95" height="49.2" fill="#ff0000"/>
<rect x="961.54" y="1492.0" width="14.95" height="49.2" fill="#e80000"/>
<rect x="975.89" y="1492.0" width="14.95" height="49.2" fill="#d00000"/>
<rect x="990.23" y="1492.0" width="14.95" height="49.2" fill="#bb0000"/>
<rect x="1004.58" y="1492.0" width="14.95" height="49.2" fill="#aa0000"/>
<rect x="1018.92" y="1492.0" width="14.95" height="49.2" fill="#a20000"/>
<rect x="1033.27" y="1492.0" width="14.95" height="49.2" fill="#9a0000"/>
<rect x="1047.62" y="1492.0" width="14.95" height="49.2" fill="#900000"/>
<rect x="1061.96" y="1492.0" width="14.95" height="49.2" fill="#860000"/>
<rect x="1076.31" y="1492.0" width="14.95" height="49.2" fill="#7c0000"/>
<rect x="1090.65" y="1492.0" width="14.95" height="49.2" fill="#580000"/>
<rect x="387.70" y="1492.0" width="717.30" height="49.2" fill="none" stroke="#555" stroke-width="0.8" stroke-opacity="0.6"/>
<line x1="403.90" y1="1543.00" x2="403.90" y2="1558.40" stroke="#000" stroke-width="2.2"/>
<text x="382.50" y="1602.80" font-family="Liberation Sans" font-size="31.5" text-anchor="middle" >0.038</text>
<line x1="518.10" y1="1543.00" x2="518.10" y2="1558.40" stroke="#000" stroke-width="2.2"/>
<text x="494.00" y="1602.80" font-family="Liberation Sans" font-size="31.5" text-anchor="middle" >0.190</text>
<line x1="632.90" y1="1543.00" x2="632.90" y2="1558.40" stroke="#000" stroke-width="2.2"/>
<text x="613.90" y="1602.80" font-family="Liberation Sans" font-size="31.5" text-anchor="middle" >0.342</text>
<line x1="749.00" y1="1543.00" x2="749.00" y2="1558.40" stroke="#000" stroke-width="2.2"/>
<text x="730.30" y="1602.80" font-family="Liberation Sans" font-size="31.5" text-anchor="middle" >0.494</text>
<line x1="862.00" y1="1543.00" x2="862.00" y2="1558.40" stroke="#000" stroke-width="2.2"/>
<text x="848.20" y="1602.80" font-family="Liberation Sans" font-size="31.5" text-anchor="middle" >0.646</text>
<line x1="976.80" y1="1543.00" x2="976.80" y2="1558.40" stroke="#000" stroke-width="2.2"/>
<text x="961.10" y="1602.80" font-family="Liberation Sans" font-size="31.5" text-anchor="middle" >0.798</text>
<line x1="1092.00" y1="1543.00" x2="1092.00" y2="1558.40" stroke="#000" stroke-width="2.2"/>
<text x="1078.70" y="1602.80" font-family="Liberation Sans" font-size="31.5" text-anchor="middle" >0.950</text>
</svg>
</body></html>
